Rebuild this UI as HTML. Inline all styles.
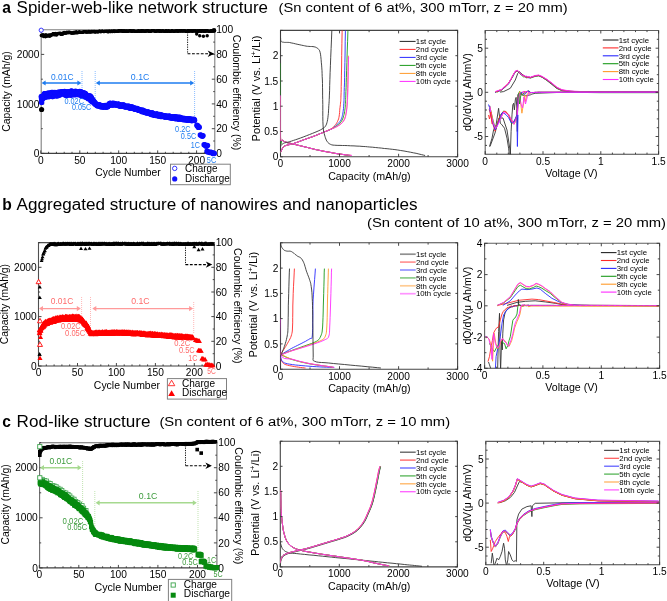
<!DOCTYPE html>
<html><head><meta charset="utf-8"><style>
html,body{margin:0;padding:0;background:#fff;}
svg{display:block;will-change:transform;font-family:"Liberation Sans",sans-serif;}
</style></head><body>
<svg width="667" height="601" viewBox="0 0 667 601">
<rect width="667" height="601" fill="#fff"/>
<text x="2.2" y="12.7" font-size="15.6" font-weight="bold" >a</text>
<text x="16.6" y="12.7" font-size="15.6" textLength="251.4" lengthAdjust="spacingAndGlyphs" >Spider-web-like network structure</text>
<text x="278.6" y="12.3" font-size="12.3" textLength="289" lengthAdjust="spacingAndGlyphs" >(Sn content of 6 at%, 300 mTorr, z = 20 mm)</text>
<text x="2.2" y="209.5" font-size="15.6" font-weight="bold" >b</text>
<text x="16.6" y="209.5" font-size="15.6" textLength="400.9" lengthAdjust="spacingAndGlyphs" >Aggregated structure of nanowires and nanoparticles</text>
<text x="367" y="226.9" font-size="12.3" textLength="299" lengthAdjust="spacingAndGlyphs" >(Sn content of 10 at%, 300 mTorr, z = 20 mm)</text>
<text x="2.2" y="426.7" font-size="15.6" font-weight="bold" >c</text>
<text x="16.6" y="426.7" font-size="15.6" textLength="133.9" lengthAdjust="spacingAndGlyphs" >Rod-like structure</text>
<text x="159.4" y="426.3" font-size="12.3" textLength="290.7" lengthAdjust="spacingAndGlyphs" >(Sn content of 6 at%, 300 mTorr, z = 10 mm)</text>
<line x1="82" y1="71" x2="82" y2="93" stroke="#5aa0ff" stroke-width="0.7" stroke-dasharray="1,1"/>
<line x1="95.2" y1="71" x2="95.2" y2="104" stroke="#5aa0ff" stroke-width="0.7" stroke-dasharray="1,1"/>
<line x1="194.6" y1="71" x2="194.6" y2="121" stroke="#5aa0ff" stroke-width="0.7" stroke-dasharray="1,1"/>
<path d="M41.2,153.4 L41.2,29.7 L214.8,29.7 L214.8,153.4" fill="none" stroke="#808080" stroke-width="1.1"/>
<line x1="40.7" y1="153.4" x2="215.3" y2="153.4" stroke="#404040" stroke-width="1.1" />
<line x1="41.2" y1="153.4" x2="44.2" y2="153.4" stroke="#333" stroke-width="0.9" />
<line x1="41.2" y1="128.7" x2="42.8" y2="128.7" stroke="#333" stroke-width="0.9" />
<line x1="41.2" y1="103.9" x2="44.2" y2="103.9" stroke="#333" stroke-width="0.9" />
<line x1="41.2" y1="79.2" x2="42.8" y2="79.2" stroke="#333" stroke-width="0.9" />
<line x1="41.2" y1="54.4" x2="44.2" y2="54.4" stroke="#333" stroke-width="0.9" />
<line x1="41.2" y1="29.7" x2="42.8" y2="29.7" stroke="#333" stroke-width="0.9" />
<text x="39.4" y="157" font-size="10.2" text-anchor="end" >0</text>
<text x="39.4" y="107.5" font-size="10.2" text-anchor="end" >1000</text>
<text x="39.4" y="58" font-size="10.2" text-anchor="end" >2000</text>
<line x1="211.8" y1="153.4" x2="214.8" y2="153.4" stroke="#333" stroke-width="0.9" />
<line x1="213.2" y1="141" x2="214.8" y2="141" stroke="#333" stroke-width="0.9" />
<line x1="211.8" y1="128.7" x2="214.8" y2="128.7" stroke="#333" stroke-width="0.9" />
<line x1="213.2" y1="116.3" x2="214.8" y2="116.3" stroke="#333" stroke-width="0.9" />
<line x1="211.8" y1="103.9" x2="214.8" y2="103.9" stroke="#333" stroke-width="0.9" />
<line x1="213.2" y1="91.6" x2="214.8" y2="91.6" stroke="#333" stroke-width="0.9" />
<line x1="211.8" y1="79.2" x2="214.8" y2="79.2" stroke="#333" stroke-width="0.9" />
<line x1="213.2" y1="66.8" x2="214.8" y2="66.8" stroke="#333" stroke-width="0.9" />
<line x1="211.8" y1="54.4" x2="214.8" y2="54.4" stroke="#333" stroke-width="0.9" />
<line x1="213.2" y1="42.1" x2="214.8" y2="42.1" stroke="#333" stroke-width="0.9" />
<line x1="211.8" y1="29.7" x2="214.8" y2="29.7" stroke="#333" stroke-width="0.9" />
<text x="216.2" y="157" font-size="10.2" >0</text>
<text x="216.2" y="132.3" font-size="10.2" >20</text>
<text x="216.2" y="107.5" font-size="10.2" >40</text>
<text x="216.2" y="82.8" font-size="10.2" >60</text>
<text x="216.2" y="58" font-size="10.2" >80</text>
<text x="216.2" y="33.3" font-size="10.2" >100</text>
<line x1="40.8" y1="153.4" x2="40.8" y2="150.4" stroke="#333" stroke-width="0.9" />
<line x1="48.6" y1="153.4" x2="48.6" y2="151.8" stroke="#333" stroke-width="0.9" />
<line x1="56.4" y1="153.4" x2="56.4" y2="151.8" stroke="#333" stroke-width="0.9" />
<line x1="64.2" y1="153.4" x2="64.2" y2="151.8" stroke="#333" stroke-width="0.9" />
<line x1="72" y1="153.4" x2="72" y2="151.8" stroke="#333" stroke-width="0.9" />
<line x1="79.8" y1="153.4" x2="79.8" y2="150.4" stroke="#333" stroke-width="0.9" />
<line x1="87.5" y1="153.4" x2="87.5" y2="151.8" stroke="#333" stroke-width="0.9" />
<line x1="95.3" y1="153.4" x2="95.3" y2="151.8" stroke="#333" stroke-width="0.9" />
<line x1="103.1" y1="153.4" x2="103.1" y2="151.8" stroke="#333" stroke-width="0.9" />
<line x1="110.9" y1="153.4" x2="110.9" y2="151.8" stroke="#333" stroke-width="0.9" />
<line x1="118.7" y1="153.4" x2="118.7" y2="150.4" stroke="#333" stroke-width="0.9" />
<line x1="126.5" y1="153.4" x2="126.5" y2="151.8" stroke="#333" stroke-width="0.9" />
<line x1="134.3" y1="153.4" x2="134.3" y2="151.8" stroke="#333" stroke-width="0.9" />
<line x1="142.1" y1="153.4" x2="142.1" y2="151.8" stroke="#333" stroke-width="0.9" />
<line x1="149.9" y1="153.4" x2="149.9" y2="151.8" stroke="#333" stroke-width="0.9" />
<line x1="157.7" y1="153.4" x2="157.7" y2="150.4" stroke="#333" stroke-width="0.9" />
<line x1="165.4" y1="153.4" x2="165.4" y2="151.8" stroke="#333" stroke-width="0.9" />
<line x1="173.2" y1="153.4" x2="173.2" y2="151.8" stroke="#333" stroke-width="0.9" />
<line x1="181" y1="153.4" x2="181" y2="151.8" stroke="#333" stroke-width="0.9" />
<line x1="188.8" y1="153.4" x2="188.8" y2="151.8" stroke="#333" stroke-width="0.9" />
<line x1="196.6" y1="153.4" x2="196.6" y2="150.4" stroke="#333" stroke-width="0.9" />
<line x1="204.4" y1="153.4" x2="204.4" y2="151.8" stroke="#333" stroke-width="0.9" />
<line x1="212.2" y1="153.4" x2="212.2" y2="151.8" stroke="#333" stroke-width="0.9" />
<text x="40.8" y="163.6" font-size="10.2" text-anchor="middle" >0</text>
<text x="79.8" y="163.6" font-size="10.2" text-anchor="middle" >50</text>
<text x="118.7" y="163.6" font-size="10.2" text-anchor="middle" >100</text>
<text x="157.7" y="163.6" font-size="10.2" text-anchor="middle" >150</text>
<text x="196.6" y="163.6" font-size="10.2" text-anchor="middle" >200</text>
<text transform="translate(10.2,91.5) rotate(-90)" font-size="10.4" text-anchor="middle" textLength="80.5" lengthAdjust="spacingAndGlyphs" >Capacity (mAh/g)</text>
<text transform="translate(233,92.6) rotate(90)" font-size="10" text-anchor="middle" textLength="115.5" lengthAdjust="spacingAndGlyphs" >Coulombic efficiency (%)</text>
<text x="128" y="175.5" font-size="10.2" text-anchor="middle" textLength="65.5" lengthAdjust="spacingAndGlyphs" >Cycle Number</text>
<circle cx="41.2" cy="35.4" r="1.6" fill="#000"/>
<circle cx="41.7" cy="35.8" r="1.6" fill="#000"/>
<circle cx="42.1" cy="34.8" r="1.6" fill="#000"/>
<circle cx="42.6" cy="35.4" r="1.6" fill="#000"/>
<circle cx="43.1" cy="34.7" r="1.6" fill="#000"/>
<circle cx="43.5" cy="36.6" r="1.6" fill="#000"/>
<circle cx="44" cy="36" r="1.6" fill="#000"/>
<circle cx="44.5" cy="35" r="1.6" fill="#000"/>
<circle cx="44.9" cy="35.7" r="1.6" fill="#000"/>
<circle cx="45.4" cy="36.8" r="1.6" fill="#000"/>
<circle cx="45.9" cy="34.6" r="1.6" fill="#000"/>
<circle cx="46.3" cy="36.4" r="1.6" fill="#000"/>
<circle cx="46.8" cy="35.3" r="1.6" fill="#000"/>
<circle cx="47.3" cy="35.4" r="1.6" fill="#000"/>
<circle cx="47.8" cy="36.2" r="1.6" fill="#000"/>
<circle cx="48.2" cy="35" r="1.6" fill="#000"/>
<circle cx="48.7" cy="35.2" r="1.6" fill="#000"/>
<circle cx="49.2" cy="35.6" r="1.6" fill="#000"/>
<circle cx="49.6" cy="36.3" r="1.6" fill="#000"/>
<circle cx="50.1" cy="34.6" r="1.6" fill="#000"/>
<circle cx="50.6" cy="35.8" r="1.6" fill="#000"/>
<circle cx="51" cy="35.4" r="1.6" fill="#000"/>
<circle cx="51.5" cy="35.2" r="1.6" fill="#000"/>
<circle cx="52" cy="34.5" r="1.6" fill="#000"/>
<circle cx="52.4" cy="34.3" r="1.6" fill="#000"/>
<circle cx="52.9" cy="33.6" r="1.6" fill="#000"/>
<circle cx="53.4" cy="33.7" r="1.6" fill="#000"/>
<circle cx="53.8" cy="33.5" r="1.6" fill="#000"/>
<circle cx="54.3" cy="35" r="1.6" fill="#000"/>
<circle cx="54.8" cy="33.8" r="1.6" fill="#000"/>
<circle cx="55.2" cy="33.6" r="1.6" fill="#000"/>
<circle cx="55.7" cy="33.3" r="1.6" fill="#000"/>
<circle cx="56.2" cy="34.9" r="1.6" fill="#000"/>
<circle cx="56.6" cy="34.9" r="1.6" fill="#000"/>
<circle cx="57.1" cy="34.4" r="1.6" fill="#000"/>
<circle cx="57.6" cy="33.5" r="1.6" fill="#000"/>
<circle cx="58" cy="33.4" r="1.6" fill="#000"/>
<circle cx="58.5" cy="33.4" r="1.6" fill="#000"/>
<circle cx="59" cy="33.7" r="1.6" fill="#000"/>
<circle cx="59.5" cy="33" r="1.6" fill="#000"/>
<circle cx="59.9" cy="33.5" r="1.6" fill="#000"/>
<circle cx="60.4" cy="33.1" r="1.6" fill="#000"/>
<circle cx="60.9" cy="34.5" r="1.6" fill="#000"/>
<circle cx="61.3" cy="34.5" r="1.6" fill="#000"/>
<circle cx="61.8" cy="33.6" r="1.6" fill="#000"/>
<circle cx="62.3" cy="33" r="1.6" fill="#000"/>
<circle cx="62.7" cy="34.3" r="1.6" fill="#000"/>
<circle cx="63.2" cy="33" r="1.6" fill="#000"/>
<circle cx="63.7" cy="33.1" r="1.6" fill="#000"/>
<circle cx="64.1" cy="32.4" r="1.6" fill="#000"/>
<circle cx="64.6" cy="33.1" r="1.6" fill="#000"/>
<circle cx="65.1" cy="33.2" r="1.6" fill="#000"/>
<circle cx="65.5" cy="33.2" r="1.6" fill="#000"/>
<circle cx="66" cy="32.6" r="1.6" fill="#000"/>
<circle cx="66.5" cy="33.1" r="1.6" fill="#000"/>
<circle cx="66.9" cy="32.2" r="1.6" fill="#000"/>
<circle cx="67.4" cy="32.7" r="1.6" fill="#000"/>
<circle cx="67.9" cy="32.3" r="1.6" fill="#000"/>
<circle cx="68.3" cy="32.8" r="1.6" fill="#000"/>
<circle cx="68.8" cy="32.2" r="1.6" fill="#000"/>
<circle cx="69.3" cy="32.1" r="1.6" fill="#000"/>
<circle cx="69.7" cy="32.6" r="1.6" fill="#000"/>
<circle cx="70.2" cy="32.4" r="1.6" fill="#000"/>
<circle cx="70.7" cy="32.9" r="1.6" fill="#000"/>
<circle cx="71.2" cy="32.8" r="1.6" fill="#000"/>
<circle cx="71.6" cy="33.1" r="1.6" fill="#000"/>
<circle cx="72.1" cy="32.9" r="1.6" fill="#000"/>
<circle cx="72.6" cy="33" r="1.6" fill="#000"/>
<circle cx="73" cy="33.2" r="1.6" fill="#000"/>
<circle cx="73.5" cy="32.4" r="1.6" fill="#000"/>
<circle cx="74" cy="32.3" r="1.6" fill="#000"/>
<circle cx="74.4" cy="33.2" r="1.6" fill="#000"/>
<circle cx="74.9" cy="32" r="1.6" fill="#000"/>
<circle cx="75.4" cy="32.7" r="1.6" fill="#000"/>
<circle cx="75.8" cy="32.6" r="1.6" fill="#000"/>
<circle cx="76.3" cy="31.7" r="1.6" fill="#000"/>
<circle cx="76.8" cy="32.8" r="1.6" fill="#000"/>
<circle cx="77.2" cy="32.8" r="1.6" fill="#000"/>
<circle cx="77.7" cy="32.4" r="1.6" fill="#000"/>
<circle cx="78.2" cy="32.5" r="1.6" fill="#000"/>
<circle cx="78.6" cy="32.6" r="1.6" fill="#000"/>
<circle cx="79.1" cy="31.7" r="1.6" fill="#000"/>
<circle cx="79.6" cy="32.1" r="1.6" fill="#000"/>
<circle cx="80" cy="32.1" r="1.6" fill="#000"/>
<circle cx="80.5" cy="32.4" r="1.6" fill="#000"/>
<circle cx="81" cy="32.4" r="1.6" fill="#000"/>
<circle cx="81.4" cy="32.4" r="1.6" fill="#000"/>
<circle cx="81.9" cy="32.1" r="1.6" fill="#000"/>
<circle cx="82.4" cy="32.4" r="1.6" fill="#000"/>
<circle cx="82.9" cy="32.2" r="1.6" fill="#000"/>
<circle cx="83.3" cy="32.2" r="1.6" fill="#000"/>
<circle cx="83.8" cy="31.7" r="1.6" fill="#000"/>
<circle cx="84.3" cy="31.5" r="1.6" fill="#000"/>
<circle cx="84.7" cy="31.6" r="1.6" fill="#000"/>
<circle cx="85.2" cy="31.8" r="1.6" fill="#000"/>
<circle cx="85.7" cy="31.5" r="1.6" fill="#000"/>
<circle cx="86.1" cy="32.2" r="1.6" fill="#000"/>
<circle cx="86.6" cy="31.9" r="1.6" fill="#000"/>
<circle cx="87.1" cy="32" r="1.6" fill="#000"/>
<circle cx="87.5" cy="32" r="1.6" fill="#000"/>
<circle cx="88" cy="32" r="1.6" fill="#000"/>
<circle cx="88.5" cy="31.8" r="1.6" fill="#000"/>
<circle cx="88.9" cy="31.4" r="1.6" fill="#000"/>
<circle cx="89.4" cy="32.1" r="1.6" fill="#000"/>
<circle cx="89.9" cy="32" r="1.6" fill="#000"/>
<circle cx="90.3" cy="31.8" r="1.6" fill="#000"/>
<circle cx="90.8" cy="31.8" r="1.6" fill="#000"/>
<circle cx="91.3" cy="31.9" r="1.6" fill="#000"/>
<circle cx="91.7" cy="31.4" r="1.6" fill="#000"/>
<circle cx="92.2" cy="32" r="1.6" fill="#000"/>
<circle cx="92.7" cy="31.5" r="1.6" fill="#000"/>
<circle cx="93.1" cy="31.3" r="1.6" fill="#000"/>
<circle cx="93.6" cy="31.5" r="1.6" fill="#000"/>
<circle cx="94.1" cy="31.9" r="1.6" fill="#000"/>
<circle cx="94.6" cy="31.4" r="1.6" fill="#000"/>
<circle cx="95" cy="31.9" r="1.6" fill="#000"/>
<circle cx="95.5" cy="32.1" r="1.6" fill="#000"/>
<circle cx="96" cy="31.7" r="1.6" fill="#000"/>
<circle cx="96.4" cy="31.5" r="1.6" fill="#000"/>
<circle cx="96.9" cy="31.6" r="1.6" fill="#000"/>
<circle cx="97.4" cy="31.8" r="1.6" fill="#000"/>
<circle cx="97.8" cy="31.9" r="1.6" fill="#000"/>
<circle cx="98.3" cy="31.7" r="1.6" fill="#000"/>
<circle cx="98.8" cy="31.7" r="1.6" fill="#000"/>
<circle cx="99.2" cy="31.2" r="1.6" fill="#000"/>
<circle cx="99.7" cy="31.2" r="1.6" fill="#000"/>
<circle cx="100.2" cy="31.3" r="1.6" fill="#000"/>
<circle cx="100.6" cy="31.8" r="1.6" fill="#000"/>
<circle cx="101.1" cy="31.4" r="1.6" fill="#000"/>
<circle cx="101.6" cy="31.6" r="1.6" fill="#000"/>
<circle cx="102" cy="31.1" r="1.6" fill="#000"/>
<circle cx="102.5" cy="31.1" r="1.6" fill="#000"/>
<circle cx="103" cy="31.3" r="1.6" fill="#000"/>
<circle cx="103.4" cy="31.6" r="1.6" fill="#000"/>
<circle cx="103.9" cy="31.6" r="1.6" fill="#000"/>
<circle cx="104.4" cy="31.6" r="1.6" fill="#000"/>
<circle cx="104.8" cy="31.2" r="1.6" fill="#000"/>
<circle cx="105.3" cy="31.4" r="1.6" fill="#000"/>
<circle cx="105.8" cy="31.4" r="1.6" fill="#000"/>
<circle cx="106.3" cy="31.4" r="1.6" fill="#000"/>
<circle cx="106.7" cy="31" r="1.6" fill="#000"/>
<circle cx="107.2" cy="31.7" r="1.6" fill="#000"/>
<circle cx="107.7" cy="31.1" r="1.6" fill="#000"/>
<circle cx="108.1" cy="31.8" r="1.6" fill="#000"/>
<circle cx="108.6" cy="31.7" r="1.6" fill="#000"/>
<circle cx="109.1" cy="30.9" r="1.6" fill="#000"/>
<circle cx="109.5" cy="31.3" r="1.6" fill="#000"/>
<circle cx="110" cy="31.6" r="1.6" fill="#000"/>
<circle cx="110.5" cy="31.7" r="1.6" fill="#000"/>
<circle cx="110.9" cy="31.2" r="1.6" fill="#000"/>
<circle cx="111.4" cy="31.1" r="1.6" fill="#000"/>
<circle cx="111.9" cy="31" r="1.6" fill="#000"/>
<circle cx="112.3" cy="31.7" r="1.6" fill="#000"/>
<circle cx="112.8" cy="31" r="1.6" fill="#000"/>
<circle cx="113.3" cy="31.3" r="1.6" fill="#000"/>
<circle cx="113.7" cy="30.9" r="1.6" fill="#000"/>
<circle cx="114.2" cy="31.2" r="1.6" fill="#000"/>
<circle cx="114.7" cy="31.6" r="1.6" fill="#000"/>
<circle cx="115.1" cy="30.9" r="1.6" fill="#000"/>
<circle cx="115.6" cy="31.5" r="1.6" fill="#000"/>
<circle cx="116.1" cy="31.2" r="1.6" fill="#000"/>
<circle cx="116.5" cy="31.5" r="1.6" fill="#000"/>
<circle cx="117" cy="31.3" r="1.6" fill="#000"/>
<circle cx="117.5" cy="30.9" r="1.6" fill="#000"/>
<circle cx="118" cy="31.5" r="1.6" fill="#000"/>
<circle cx="118.4" cy="31.1" r="1.6" fill="#000"/>
<circle cx="118.9" cy="30.7" r="1.6" fill="#000"/>
<circle cx="119.4" cy="30.6" r="1.6" fill="#000"/>
<circle cx="119.8" cy="31.1" r="1.6" fill="#000"/>
<circle cx="120.3" cy="31" r="1.6" fill="#000"/>
<circle cx="120.8" cy="30.9" r="1.6" fill="#000"/>
<circle cx="121.2" cy="30.7" r="1.6" fill="#000"/>
<circle cx="121.7" cy="30.9" r="1.6" fill="#000"/>
<circle cx="122.2" cy="30.9" r="1.6" fill="#000"/>
<circle cx="122.6" cy="31.4" r="1.6" fill="#000"/>
<circle cx="123.1" cy="30.6" r="1.6" fill="#000"/>
<circle cx="123.6" cy="31.3" r="1.6" fill="#000"/>
<circle cx="124" cy="31.4" r="1.6" fill="#000"/>
<circle cx="124.5" cy="30.7" r="1.6" fill="#000"/>
<circle cx="125" cy="31.4" r="1.6" fill="#000"/>
<circle cx="125.4" cy="31.2" r="1.6" fill="#000"/>
<circle cx="125.9" cy="31.4" r="1.6" fill="#000"/>
<circle cx="126.4" cy="30.9" r="1.6" fill="#000"/>
<circle cx="126.8" cy="30.9" r="1.6" fill="#000"/>
<circle cx="127.3" cy="31" r="1.6" fill="#000"/>
<circle cx="127.8" cy="31.5" r="1.6" fill="#000"/>
<circle cx="128.2" cy="31.1" r="1.6" fill="#000"/>
<circle cx="128.7" cy="30.9" r="1.6" fill="#000"/>
<circle cx="129.2" cy="31" r="1.6" fill="#000"/>
<circle cx="129.7" cy="30.8" r="1.6" fill="#000"/>
<circle cx="130.1" cy="30.6" r="1.6" fill="#000"/>
<circle cx="130.6" cy="30.7" r="1.6" fill="#000"/>
<circle cx="131.1" cy="31.3" r="1.6" fill="#000"/>
<circle cx="131.5" cy="30.9" r="1.6" fill="#000"/>
<circle cx="132" cy="31.4" r="1.6" fill="#000"/>
<circle cx="132.5" cy="30.8" r="1.6" fill="#000"/>
<circle cx="132.9" cy="30.8" r="1.6" fill="#000"/>
<circle cx="133.4" cy="31.1" r="1.6" fill="#000"/>
<circle cx="133.9" cy="30.8" r="1.6" fill="#000"/>
<circle cx="134.3" cy="30.9" r="1.6" fill="#000"/>
<circle cx="134.8" cy="31.5" r="1.6" fill="#000"/>
<circle cx="135.3" cy="31.4" r="1.6" fill="#000"/>
<circle cx="135.7" cy="31.3" r="1.6" fill="#000"/>
<circle cx="136.2" cy="31.2" r="1.6" fill="#000"/>
<circle cx="136.7" cy="31.4" r="1.6" fill="#000"/>
<circle cx="137.1" cy="31.4" r="1.6" fill="#000"/>
<circle cx="137.6" cy="31.1" r="1.6" fill="#000"/>
<circle cx="138.1" cy="31.2" r="1.6" fill="#000"/>
<circle cx="138.5" cy="30.6" r="1.6" fill="#000"/>
<circle cx="139" cy="31.2" r="1.6" fill="#000"/>
<circle cx="139.5" cy="31" r="1.6" fill="#000"/>
<circle cx="139.9" cy="31.3" r="1.6" fill="#000"/>
<circle cx="140.4" cy="31.2" r="1.6" fill="#000"/>
<circle cx="140.9" cy="30.8" r="1.6" fill="#000"/>
<circle cx="141.4" cy="30.6" r="1.6" fill="#000"/>
<circle cx="141.8" cy="31.4" r="1.6" fill="#000"/>
<circle cx="142.3" cy="30.7" r="1.6" fill="#000"/>
<circle cx="142.8" cy="31" r="1.6" fill="#000"/>
<circle cx="143.2" cy="30.9" r="1.6" fill="#000"/>
<circle cx="143.7" cy="30.8" r="1.6" fill="#000"/>
<circle cx="144.2" cy="31.2" r="1.6" fill="#000"/>
<circle cx="144.6" cy="31.5" r="1.6" fill="#000"/>
<circle cx="145.1" cy="30.8" r="1.6" fill="#000"/>
<circle cx="145.6" cy="31.2" r="1.6" fill="#000"/>
<circle cx="146" cy="30.8" r="1.6" fill="#000"/>
<circle cx="146.5" cy="31.1" r="1.6" fill="#000"/>
<circle cx="147" cy="30.9" r="1.6" fill="#000"/>
<circle cx="147.4" cy="30.7" r="1.6" fill="#000"/>
<circle cx="147.9" cy="30.7" r="1.6" fill="#000"/>
<circle cx="148.4" cy="30.8" r="1.6" fill="#000"/>
<circle cx="148.8" cy="31.4" r="1.6" fill="#000"/>
<circle cx="149.3" cy="31" r="1.6" fill="#000"/>
<circle cx="149.8" cy="30.8" r="1.6" fill="#000"/>
<circle cx="150.2" cy="31.4" r="1.6" fill="#000"/>
<circle cx="150.7" cy="31.5" r="1.6" fill="#000"/>
<circle cx="151.2" cy="31" r="1.6" fill="#000"/>
<circle cx="151.6" cy="30.7" r="1.6" fill="#000"/>
<circle cx="152.1" cy="30.7" r="1.6" fill="#000"/>
<circle cx="152.6" cy="30.6" r="1.6" fill="#000"/>
<circle cx="153.1" cy="30.9" r="1.6" fill="#000"/>
<circle cx="153.5" cy="30.6" r="1.6" fill="#000"/>
<circle cx="154" cy="30.8" r="1.6" fill="#000"/>
<circle cx="154.5" cy="30.8" r="1.6" fill="#000"/>
<circle cx="154.9" cy="31.1" r="1.6" fill="#000"/>
<circle cx="155.4" cy="31.4" r="1.6" fill="#000"/>
<circle cx="155.9" cy="31.2" r="1.6" fill="#000"/>
<circle cx="156.3" cy="30.9" r="1.6" fill="#000"/>
<circle cx="156.8" cy="30.9" r="1.6" fill="#000"/>
<circle cx="157.3" cy="31" r="1.6" fill="#000"/>
<circle cx="157.7" cy="30.9" r="1.6" fill="#000"/>
<circle cx="158.2" cy="30.9" r="1.6" fill="#000"/>
<circle cx="158.7" cy="30.6" r="1.6" fill="#000"/>
<circle cx="159.1" cy="30.8" r="1.6" fill="#000"/>
<circle cx="159.6" cy="31.4" r="1.6" fill="#000"/>
<circle cx="160.1" cy="30.7" r="1.6" fill="#000"/>
<circle cx="160.5" cy="31" r="1.6" fill="#000"/>
<circle cx="161" cy="31.1" r="1.6" fill="#000"/>
<circle cx="161.5" cy="31.3" r="1.6" fill="#000"/>
<circle cx="161.9" cy="30.8" r="1.6" fill="#000"/>
<circle cx="162.4" cy="30.8" r="1.6" fill="#000"/>
<circle cx="162.9" cy="30.8" r="1.6" fill="#000"/>
<circle cx="163.3" cy="30.9" r="1.6" fill="#000"/>
<circle cx="163.8" cy="31" r="1.6" fill="#000"/>
<circle cx="164.3" cy="31.4" r="1.6" fill="#000"/>
<circle cx="164.8" cy="31.3" r="1.6" fill="#000"/>
<circle cx="165.2" cy="31.3" r="1.6" fill="#000"/>
<circle cx="165.7" cy="30.6" r="1.6" fill="#000"/>
<circle cx="166.2" cy="30.6" r="1.6" fill="#000"/>
<circle cx="166.6" cy="31.2" r="1.6" fill="#000"/>
<circle cx="167.1" cy="31.4" r="1.6" fill="#000"/>
<circle cx="167.6" cy="31" r="1.6" fill="#000"/>
<circle cx="168" cy="31.1" r="1.6" fill="#000"/>
<circle cx="168.5" cy="30.5" r="1.6" fill="#000"/>
<circle cx="169" cy="30.9" r="1.6" fill="#000"/>
<circle cx="169.4" cy="31.4" r="1.6" fill="#000"/>
<circle cx="169.9" cy="31.3" r="1.6" fill="#000"/>
<circle cx="170.4" cy="31.3" r="1.6" fill="#000"/>
<circle cx="170.8" cy="31.4" r="1.6" fill="#000"/>
<circle cx="171.3" cy="30.8" r="1.6" fill="#000"/>
<circle cx="171.8" cy="30.6" r="1.6" fill="#000"/>
<circle cx="172.2" cy="30.7" r="1.6" fill="#000"/>
<circle cx="172.7" cy="31" r="1.6" fill="#000"/>
<circle cx="173.2" cy="31.2" r="1.6" fill="#000"/>
<circle cx="173.6" cy="31.4" r="1.6" fill="#000"/>
<circle cx="174.1" cy="31.2" r="1.6" fill="#000"/>
<circle cx="174.6" cy="31.1" r="1.6" fill="#000"/>
<circle cx="175" cy="31.2" r="1.6" fill="#000"/>
<circle cx="175.5" cy="30.9" r="1.6" fill="#000"/>
<circle cx="176" cy="31" r="1.6" fill="#000"/>
<circle cx="176.5" cy="30.6" r="1.6" fill="#000"/>
<circle cx="176.9" cy="31.2" r="1.6" fill="#000"/>
<circle cx="177.4" cy="30.7" r="1.6" fill="#000"/>
<circle cx="177.9" cy="31.4" r="1.6" fill="#000"/>
<circle cx="178.3" cy="31.1" r="1.6" fill="#000"/>
<circle cx="178.8" cy="30.8" r="1.6" fill="#000"/>
<circle cx="179.3" cy="30.6" r="1.6" fill="#000"/>
<circle cx="179.7" cy="30.8" r="1.6" fill="#000"/>
<circle cx="180.2" cy="31.1" r="1.6" fill="#000"/>
<circle cx="180.7" cy="31.2" r="1.6" fill="#000"/>
<circle cx="181.1" cy="30.6" r="1.6" fill="#000"/>
<circle cx="181.6" cy="30.6" r="1.6" fill="#000"/>
<circle cx="182.1" cy="31" r="1.6" fill="#000"/>
<circle cx="182.5" cy="31.1" r="1.6" fill="#000"/>
<circle cx="183" cy="30.9" r="1.6" fill="#000"/>
<circle cx="183.5" cy="30.7" r="1.6" fill="#000"/>
<circle cx="183.9" cy="31.1" r="1.6" fill="#000"/>
<circle cx="184.4" cy="30.5" r="1.6" fill="#000"/>
<circle cx="184.9" cy="30.8" r="1.6" fill="#000"/>
<circle cx="185.3" cy="30.9" r="1.6" fill="#000"/>
<circle cx="185.8" cy="31.4" r="1.6" fill="#000"/>
<circle cx="186.3" cy="31.1" r="1.6" fill="#000"/>
<circle cx="186.7" cy="31.3" r="1.6" fill="#000"/>
<circle cx="187.2" cy="31" r="1.6" fill="#000"/>
<circle cx="187.7" cy="30.7" r="1.6" fill="#000"/>
<circle cx="188.2" cy="30.7" r="1.6" fill="#000"/>
<circle cx="188.6" cy="31.4" r="1.6" fill="#000"/>
<circle cx="189.1" cy="31.2" r="1.6" fill="#000"/>
<circle cx="189.6" cy="30.8" r="1.6" fill="#000"/>
<circle cx="190" cy="30.5" r="1.6" fill="#000"/>
<circle cx="190.5" cy="31" r="1.6" fill="#000"/>
<circle cx="191" cy="31.1" r="1.6" fill="#000"/>
<circle cx="191.4" cy="30.9" r="1.6" fill="#000"/>
<circle cx="191.9" cy="30.7" r="1.6" fill="#000"/>
<circle cx="192.4" cy="31.1" r="1.6" fill="#000"/>
<circle cx="192.8" cy="31.3" r="1.6" fill="#000"/>
<circle cx="193.3" cy="30.7" r="1.6" fill="#000"/>
<circle cx="193.8" cy="30.5" r="1.6" fill="#000"/>
<circle cx="194.2" cy="30.8" r="1.6" fill="#000"/>
<circle cx="194.7" cy="30.9" r="1.6" fill="#000"/>
<circle cx="195.2" cy="31.1" r="1.6" fill="#000"/>
<circle cx="195.6" cy="30.7" r="1.6" fill="#000"/>
<circle cx="196.1" cy="31.2" r="1.6" fill="#000"/>
<circle cx="196.6" cy="31.2" r="1.6" fill="#000"/>
<circle cx="197" cy="31" r="1.6" fill="#000"/>
<circle cx="197.5" cy="30.7" r="1.6" fill="#000"/>
<circle cx="198" cy="31.4" r="1.6" fill="#000"/>
<circle cx="198.4" cy="30.8" r="1.6" fill="#000"/>
<circle cx="198.9" cy="31.2" r="1.6" fill="#000"/>
<circle cx="199.4" cy="30.7" r="1.6" fill="#000"/>
<circle cx="199.9" cy="30.7" r="1.6" fill="#000"/>
<circle cx="200.3" cy="31.2" r="1.6" fill="#000"/>
<circle cx="200.8" cy="30.8" r="1.6" fill="#000"/>
<circle cx="201.3" cy="31.4" r="1.6" fill="#000"/>
<circle cx="201.7" cy="30.9" r="1.6" fill="#000"/>
<circle cx="202.2" cy="30.7" r="1.6" fill="#000"/>
<circle cx="202.7" cy="30.7" r="1.6" fill="#000"/>
<circle cx="203.1" cy="30.9" r="1.6" fill="#000"/>
<circle cx="203.6" cy="31.1" r="1.6" fill="#000"/>
<circle cx="204.1" cy="31.4" r="1.6" fill="#000"/>
<circle cx="204.5" cy="30.6" r="1.6" fill="#000"/>
<circle cx="205" cy="30.9" r="1.6" fill="#000"/>
<circle cx="205.5" cy="30.7" r="1.6" fill="#000"/>
<circle cx="205.9" cy="31.4" r="1.6" fill="#000"/>
<circle cx="206.4" cy="30.6" r="1.6" fill="#000"/>
<circle cx="206.9" cy="30.5" r="1.6" fill="#000"/>
<circle cx="207.3" cy="30.6" r="1.6" fill="#000"/>
<circle cx="207.8" cy="30.8" r="1.6" fill="#000"/>
<circle cx="208.3" cy="31.3" r="1.6" fill="#000"/>
<circle cx="208.7" cy="31.3" r="1.6" fill="#000"/>
<circle cx="209.2" cy="31.2" r="1.6" fill="#000"/>
<circle cx="209.7" cy="31.4" r="1.6" fill="#000"/>
<circle cx="210.1" cy="31.3" r="1.6" fill="#000"/>
<circle cx="210.6" cy="30.8" r="1.6" fill="#000"/>
<circle cx="211.1" cy="30.7" r="1.6" fill="#000"/>
<circle cx="211.6" cy="31.3" r="1.6" fill="#000"/>
<circle cx="212" cy="31.2" r="1.6" fill="#000"/>
<circle cx="212.5" cy="30.5" r="1.6" fill="#000"/>
<circle cx="213" cy="31.1" r="1.6" fill="#000"/>
<circle cx="213.4" cy="30.8" r="1.6" fill="#000"/>
<circle cx="213.9" cy="30.8" r="1.6" fill="#000"/>
<circle cx="214.4" cy="30.8" r="1.6" fill="#000"/>
<circle cx="196.7" cy="34" r="1.7" fill="#000"/>
<circle cx="199.7" cy="35.8" r="1.7" fill="#000"/>
<circle cx="203.4" cy="36.3" r="1.7" fill="#000"/>
<circle cx="207.2" cy="35.8" r="1.7" fill="#000"/>
<circle cx="214" cy="30.4" r="2.3" fill="#000"/>
<circle cx="41.3" cy="96.7" r="2.7" fill="#0a0aff"/>
<circle cx="41.7" cy="97.9" r="2.7" fill="#0a0aff"/>
<circle cx="42.2" cy="96.5" r="2.7" fill="#0a0aff"/>
<circle cx="42.6" cy="96.4" r="2.7" fill="#0a0aff"/>
<circle cx="42.6" cy="98.7" r="2.7" fill="#0a0aff"/>
<circle cx="43.1" cy="96.6" r="2.7" fill="#0a0aff"/>
<circle cx="43.1" cy="96.4" r="2.7" fill="#0a0aff"/>
<circle cx="43.6" cy="98" r="2.7" fill="#0a0aff"/>
<circle cx="43.8" cy="95.3" r="2.7" fill="#0a0aff"/>
<circle cx="44.4" cy="93.7" r="2.7" fill="#0a0aff"/>
<circle cx="44.5" cy="97.1" r="2.7" fill="#0a0aff"/>
<circle cx="45" cy="93.6" r="2.7" fill="#0a0aff"/>
<circle cx="45" cy="93.7" r="2.7" fill="#0a0aff"/>
<circle cx="45.7" cy="94.4" r="2.7" fill="#0a0aff"/>
<circle cx="45.9" cy="97.2" r="2.7" fill="#0a0aff"/>
<circle cx="46" cy="94.4" r="2.7" fill="#0a0aff"/>
<circle cx="46.6" cy="95.8" r="2.7" fill="#0a0aff"/>
<circle cx="46.6" cy="96.2" r="2.7" fill="#0a0aff"/>
<circle cx="47" cy="94.2" r="2.7" fill="#0a0aff"/>
<circle cx="47.2" cy="96.2" r="2.7" fill="#0a0aff"/>
<circle cx="47.8" cy="95.6" r="2.7" fill="#0a0aff"/>
<circle cx="48.2" cy="92.9" r="2.7" fill="#0a0aff"/>
<circle cx="48.2" cy="94.8" r="2.7" fill="#0a0aff"/>
<circle cx="48.8" cy="96.8" r="2.7" fill="#0a0aff"/>
<circle cx="48.9" cy="93.6" r="2.7" fill="#0a0aff"/>
<circle cx="49.2" cy="94.7" r="2.7" fill="#0a0aff"/>
<circle cx="49.7" cy="93.3" r="2.7" fill="#0a0aff"/>
<circle cx="50" cy="95.7" r="2.7" fill="#0a0aff"/>
<circle cx="50.3" cy="95.8" r="2.7" fill="#0a0aff"/>
<circle cx="50.5" cy="93.8" r="2.7" fill="#0a0aff"/>
<circle cx="50.7" cy="93.9" r="2.7" fill="#0a0aff"/>
<circle cx="51.2" cy="92.7" r="2.7" fill="#0a0aff"/>
<circle cx="51.3" cy="95.6" r="2.7" fill="#0a0aff"/>
<circle cx="51.6" cy="92.5" r="2.7" fill="#0a0aff"/>
<circle cx="51.9" cy="94.6" r="2.7" fill="#0a0aff"/>
<circle cx="52.3" cy="96.5" r="2.7" fill="#0a0aff"/>
<circle cx="52.8" cy="96.5" r="2.7" fill="#0a0aff"/>
<circle cx="52.9" cy="92.5" r="2.7" fill="#0a0aff"/>
<circle cx="53.1" cy="94.3" r="2.7" fill="#0a0aff"/>
<circle cx="53.7" cy="94" r="2.7" fill="#0a0aff"/>
<circle cx="53.8" cy="93.9" r="2.7" fill="#0a0aff"/>
<circle cx="54.3" cy="95" r="2.7" fill="#0a0aff"/>
<circle cx="54.6" cy="95.7" r="2.7" fill="#0a0aff"/>
<circle cx="54.9" cy="92.5" r="2.7" fill="#0a0aff"/>
<circle cx="55.3" cy="93.2" r="2.7" fill="#0a0aff"/>
<circle cx="55.5" cy="93.5" r="2.7" fill="#0a0aff"/>
<circle cx="55.9" cy="92.7" r="2.7" fill="#0a0aff"/>
<circle cx="56" cy="92.9" r="2.7" fill="#0a0aff"/>
<circle cx="56.3" cy="95.7" r="2.7" fill="#0a0aff"/>
<circle cx="56.8" cy="93.2" r="2.7" fill="#0a0aff"/>
<circle cx="57" cy="96.1" r="2.7" fill="#0a0aff"/>
<circle cx="57.3" cy="92.7" r="2.7" fill="#0a0aff"/>
<circle cx="57.8" cy="94.5" r="2.7" fill="#0a0aff"/>
<circle cx="58.2" cy="92.1" r="2.7" fill="#0a0aff"/>
<circle cx="58.3" cy="95.2" r="2.7" fill="#0a0aff"/>
<circle cx="58.7" cy="95.6" r="2.7" fill="#0a0aff"/>
<circle cx="58.7" cy="92.8" r="2.7" fill="#0a0aff"/>
<circle cx="59.1" cy="92.3" r="2.7" fill="#0a0aff"/>
<circle cx="59.7" cy="94" r="2.7" fill="#0a0aff"/>
<circle cx="60" cy="93.1" r="2.7" fill="#0a0aff"/>
<circle cx="60.3" cy="93.4" r="2.7" fill="#0a0aff"/>
<circle cx="60.4" cy="94.8" r="2.7" fill="#0a0aff"/>
<circle cx="61" cy="91.8" r="2.7" fill="#0a0aff"/>
<circle cx="61.1" cy="94.1" r="2.7" fill="#0a0aff"/>
<circle cx="61.3" cy="93" r="2.7" fill="#0a0aff"/>
<circle cx="61.6" cy="92.2" r="2.7" fill="#0a0aff"/>
<circle cx="61.9" cy="93.9" r="2.7" fill="#0a0aff"/>
<circle cx="62.4" cy="92.2" r="2.7" fill="#0a0aff"/>
<circle cx="62.5" cy="92.7" r="2.7" fill="#0a0aff"/>
<circle cx="63" cy="92" r="2.7" fill="#0a0aff"/>
<circle cx="63.2" cy="92.1" r="2.7" fill="#0a0aff"/>
<circle cx="63.7" cy="93.6" r="2.7" fill="#0a0aff"/>
<circle cx="63.7" cy="91.6" r="2.7" fill="#0a0aff"/>
<circle cx="64.2" cy="93.6" r="2.7" fill="#0a0aff"/>
<circle cx="64.6" cy="91.5" r="2.7" fill="#0a0aff"/>
<circle cx="64.7" cy="94.2" r="2.7" fill="#0a0aff"/>
<circle cx="65.1" cy="92.3" r="2.7" fill="#0a0aff"/>
<circle cx="65.4" cy="95.3" r="2.7" fill="#0a0aff"/>
<circle cx="65.7" cy="93.5" r="2.7" fill="#0a0aff"/>
<circle cx="66" cy="92.9" r="2.7" fill="#0a0aff"/>
<circle cx="66.5" cy="95.4" r="2.7" fill="#0a0aff"/>
<circle cx="66.7" cy="91.9" r="2.7" fill="#0a0aff"/>
<circle cx="67.1" cy="91.9" r="2.7" fill="#0a0aff"/>
<circle cx="67.1" cy="94.9" r="2.7" fill="#0a0aff"/>
<circle cx="67.6" cy="94.5" r="2.7" fill="#0a0aff"/>
<circle cx="67.9" cy="94.8" r="2.7" fill="#0a0aff"/>
<circle cx="68.3" cy="91.6" r="2.7" fill="#0a0aff"/>
<circle cx="68.4" cy="93.3" r="2.7" fill="#0a0aff"/>
<circle cx="68.9" cy="94.9" r="2.7" fill="#0a0aff"/>
<circle cx="69" cy="93.6" r="2.7" fill="#0a0aff"/>
<circle cx="69.5" cy="93" r="2.7" fill="#0a0aff"/>
<circle cx="69.7" cy="92" r="2.7" fill="#0a0aff"/>
<circle cx="70.1" cy="94.9" r="2.7" fill="#0a0aff"/>
<circle cx="70.3" cy="92.9" r="2.7" fill="#0a0aff"/>
<circle cx="70.9" cy="95" r="2.7" fill="#0a0aff"/>
<circle cx="71" cy="91.3" r="2.7" fill="#0a0aff"/>
<circle cx="71.6" cy="95.1" r="2.7" fill="#0a0aff"/>
<circle cx="71.7" cy="91" r="2.7" fill="#0a0aff"/>
<circle cx="72.2" cy="92.5" r="2.7" fill="#0a0aff"/>
<circle cx="72.5" cy="93.6" r="2.7" fill="#0a0aff"/>
<circle cx="72.8" cy="91.6" r="2.7" fill="#0a0aff"/>
<circle cx="73.1" cy="91.9" r="2.7" fill="#0a0aff"/>
<circle cx="73.2" cy="94.6" r="2.7" fill="#0a0aff"/>
<circle cx="73.7" cy="91.7" r="2.7" fill="#0a0aff"/>
<circle cx="73.8" cy="92.7" r="2.7" fill="#0a0aff"/>
<circle cx="74.2" cy="92.6" r="2.7" fill="#0a0aff"/>
<circle cx="74.4" cy="92.1" r="2.7" fill="#0a0aff"/>
<circle cx="74.9" cy="94.9" r="2.7" fill="#0a0aff"/>
<circle cx="74.9" cy="93.5" r="2.7" fill="#0a0aff"/>
<circle cx="75.5" cy="91.2" r="2.7" fill="#0a0aff"/>
<circle cx="75.9" cy="91.6" r="2.7" fill="#0a0aff"/>
<circle cx="76.1" cy="93.5" r="2.7" fill="#0a0aff"/>
<circle cx="76.4" cy="92.4" r="2.7" fill="#0a0aff"/>
<circle cx="76.7" cy="93.7" r="2.7" fill="#0a0aff"/>
<circle cx="77" cy="94" r="2.7" fill="#0a0aff"/>
<circle cx="77.3" cy="93.1" r="2.7" fill="#0a0aff"/>
<circle cx="77.4" cy="93.9" r="2.7" fill="#0a0aff"/>
<circle cx="77.9" cy="92.2" r="2.7" fill="#0a0aff"/>
<circle cx="78.4" cy="94.7" r="2.7" fill="#0a0aff"/>
<circle cx="78.5" cy="92" r="2.7" fill="#0a0aff"/>
<circle cx="78.9" cy="91.7" r="2.7" fill="#0a0aff"/>
<circle cx="79" cy="93.2" r="2.7" fill="#0a0aff"/>
<circle cx="79.3" cy="93.3" r="2.7" fill="#0a0aff"/>
<circle cx="79.8" cy="91.5" r="2.7" fill="#0a0aff"/>
<circle cx="80.2" cy="91.8" r="2.7" fill="#0a0aff"/>
<circle cx="80.5" cy="94.9" r="2.7" fill="#0a0aff"/>
<circle cx="80.8" cy="91.8" r="2.7" fill="#0a0aff"/>
<circle cx="81.1" cy="93.3" r="2.7" fill="#0a0aff"/>
<circle cx="81.6" cy="92.3" r="2.7" fill="#0a0aff"/>
<circle cx="81.8" cy="96.2" r="2.7" fill="#0a0aff"/>
<circle cx="82.1" cy="95.4" r="2.7" fill="#0a0aff"/>
<circle cx="82.2" cy="96.2" r="2.7" fill="#0a0aff"/>
<circle cx="82.6" cy="96.2" r="2.7" fill="#0a0aff"/>
<circle cx="83.1" cy="92.8" r="2.7" fill="#0a0aff"/>
<circle cx="83.4" cy="96.2" r="2.7" fill="#0a0aff"/>
<circle cx="83.4" cy="93.8" r="2.7" fill="#0a0aff"/>
<circle cx="84" cy="93" r="2.7" fill="#0a0aff"/>
<circle cx="84.3" cy="93.6" r="2.7" fill="#0a0aff"/>
<circle cx="84.6" cy="93.1" r="2.7" fill="#0a0aff"/>
<circle cx="84.8" cy="96.5" r="2.7" fill="#0a0aff"/>
<circle cx="85" cy="93.8" r="2.7" fill="#0a0aff"/>
<circle cx="85.4" cy="94.2" r="2.7" fill="#0a0aff"/>
<circle cx="85.6" cy="93.8" r="2.7" fill="#0a0aff"/>
<circle cx="85.9" cy="97.3" r="2.7" fill="#0a0aff"/>
<circle cx="86.4" cy="97.3" r="2.7" fill="#0a0aff"/>
<circle cx="86.5" cy="97" r="2.7" fill="#0a0aff"/>
<circle cx="86.8" cy="96.1" r="2.7" fill="#0a0aff"/>
<circle cx="87.4" cy="95.5" r="2.7" fill="#0a0aff"/>
<circle cx="87.8" cy="96.5" r="2.7" fill="#0a0aff"/>
<circle cx="88" cy="98.1" r="2.7" fill="#0a0aff"/>
<circle cx="88.1" cy="98.8" r="2.7" fill="#0a0aff"/>
<circle cx="88.6" cy="96.3" r="2.7" fill="#0a0aff"/>
<circle cx="89" cy="96" r="2.7" fill="#0a0aff"/>
<circle cx="89.4" cy="97.5" r="2.7" fill="#0a0aff"/>
<circle cx="89.4" cy="98.5" r="2.7" fill="#0a0aff"/>
<circle cx="89.8" cy="96.2" r="2.7" fill="#0a0aff"/>
<circle cx="90.2" cy="96" r="2.7" fill="#0a0aff"/>
<circle cx="90.5" cy="97.2" r="2.7" fill="#0a0aff"/>
<circle cx="90.8" cy="100.7" r="2.7" fill="#0a0aff"/>
<circle cx="91.1" cy="99.7" r="2.7" fill="#0a0aff"/>
<circle cx="91.3" cy="97.1" r="2.7" fill="#0a0aff"/>
<circle cx="91.5" cy="98.1" r="2.7" fill="#0a0aff"/>
<circle cx="92" cy="99.6" r="2.7" fill="#0a0aff"/>
<circle cx="92.3" cy="102" r="2.7" fill="#0a0aff"/>
<circle cx="92.5" cy="99.4" r="2.7" fill="#0a0aff"/>
<circle cx="93" cy="100" r="2.7" fill="#0a0aff"/>
<circle cx="93" cy="101" r="2.7" fill="#0a0aff"/>
<circle cx="93.4" cy="101.3" r="2.7" fill="#0a0aff"/>
<circle cx="93.7" cy="102.1" r="2.7" fill="#0a0aff"/>
<circle cx="94.2" cy="101.7" r="2.7" fill="#0a0aff"/>
<circle cx="94.5" cy="102.6" r="2.7" fill="#0a0aff"/>
<circle cx="94.6" cy="103.8" r="2.7" fill="#0a0aff"/>
<circle cx="95" cy="102.6" r="2.7" fill="#0a0aff"/>
<circle cx="95.2" cy="103.9" r="2.7" fill="#0a0aff"/>
<circle cx="95.9" cy="104.5" r="2.7" fill="#0a0aff"/>
<circle cx="96" cy="103.8" r="2.7" fill="#0a0aff"/>
<circle cx="96.2" cy="104.9" r="2.7" fill="#0a0aff"/>
<circle cx="96.7" cy="104.6" r="2.7" fill="#0a0aff"/>
<circle cx="97" cy="104.9" r="2.7" fill="#0a0aff"/>
<circle cx="97.5" cy="105.5" r="2.7" fill="#0a0aff"/>
<circle cx="97.5" cy="105.9" r="2.7" fill="#0a0aff"/>
<circle cx="97.7" cy="105.3" r="2.7" fill="#0a0aff"/>
<circle cx="98.2" cy="104.8" r="2.7" fill="#0a0aff"/>
<circle cx="98.4" cy="105.9" r="2.7" fill="#0a0aff"/>
<circle cx="98.6" cy="105.5" r="2.7" fill="#0a0aff"/>
<circle cx="99.3" cy="104.8" r="2.7" fill="#0a0aff"/>
<circle cx="99.3" cy="105.8" r="2.7" fill="#0a0aff"/>
<circle cx="99.8" cy="105.9" r="2.7" fill="#0a0aff"/>
<circle cx="100.2" cy="105.1" r="2.7" fill="#0a0aff"/>
<circle cx="100.3" cy="105.4" r="2.7" fill="#0a0aff"/>
<circle cx="100.5" cy="106.7" r="2.7" fill="#0a0aff"/>
<circle cx="101.1" cy="106.4" r="2.7" fill="#0a0aff"/>
<circle cx="101.1" cy="106.8" r="2.7" fill="#0a0aff"/>
<circle cx="101.7" cy="106.2" r="2.7" fill="#0a0aff"/>
<circle cx="102.1" cy="106.2" r="2.7" fill="#0a0aff"/>
<circle cx="102.2" cy="105.7" r="2.7" fill="#0a0aff"/>
<circle cx="102.5" cy="105.6" r="2.7" fill="#0a0aff"/>
<circle cx="102.8" cy="107.1" r="2.7" fill="#0a0aff"/>
<circle cx="103.3" cy="107.3" r="2.7" fill="#0a0aff"/>
<circle cx="103.6" cy="106.1" r="2.7" fill="#0a0aff"/>
<circle cx="103.9" cy="106.4" r="2.7" fill="#0a0aff"/>
<circle cx="104.3" cy="106.6" r="2.7" fill="#0a0aff"/>
<circle cx="104.4" cy="106.8" r="2.7" fill="#0a0aff"/>
<circle cx="105" cy="105.9" r="2.7" fill="#0a0aff"/>
<circle cx="105.2" cy="105.5" r="2.7" fill="#0a0aff"/>
<circle cx="105.3" cy="105.9" r="2.7" fill="#0a0aff"/>
<circle cx="105.8" cy="107.3" r="2.7" fill="#0a0aff"/>
<circle cx="106.1" cy="106" r="2.7" fill="#0a0aff"/>
<circle cx="106.5" cy="106" r="2.7" fill="#0a0aff"/>
<circle cx="106.5" cy="107.1" r="2.7" fill="#0a0aff"/>
<circle cx="107" cy="106.5" r="2.7" fill="#0a0aff"/>
<circle cx="107.3" cy="106.9" r="2.7" fill="#0a0aff"/>
<circle cx="107.6" cy="106.5" r="2.7" fill="#0a0aff"/>
<circle cx="108" cy="106.3" r="2.7" fill="#0a0aff"/>
<circle cx="108.2" cy="105.8" r="2.7" fill="#0a0aff"/>
<circle cx="108.5" cy="104.8" r="2.7" fill="#0a0aff"/>
<circle cx="108.7" cy="105.3" r="2.7" fill="#0a0aff"/>
<circle cx="109" cy="105.6" r="2.7" fill="#0a0aff"/>
<circle cx="109.3" cy="103.7" r="2.7" fill="#0a0aff"/>
<circle cx="109.6" cy="105.3" r="2.7" fill="#0a0aff"/>
<circle cx="110" cy="103.5" r="2.7" fill="#0a0aff"/>
<circle cx="110.2" cy="103.1" r="2.7" fill="#0a0aff"/>
<circle cx="110.8" cy="104.2" r="2.7" fill="#0a0aff"/>
<circle cx="111.1" cy="104.4" r="2.7" fill="#0a0aff"/>
<circle cx="111.1" cy="104.2" r="2.7" fill="#0a0aff"/>
<circle cx="111.6" cy="104.7" r="2.7" fill="#0a0aff"/>
<circle cx="112.1" cy="104.8" r="2.7" fill="#0a0aff"/>
<circle cx="112.1" cy="104.8" r="2.7" fill="#0a0aff"/>
<circle cx="112.7" cy="105" r="2.7" fill="#0a0aff"/>
<circle cx="112.7" cy="103.5" r="2.7" fill="#0a0aff"/>
<circle cx="113" cy="103.2" r="2.7" fill="#0a0aff"/>
<circle cx="113.6" cy="104.8" r="2.7" fill="#0a0aff"/>
<circle cx="113.9" cy="104.9" r="2.7" fill="#0a0aff"/>
<circle cx="114.2" cy="103.9" r="2.7" fill="#0a0aff"/>
<circle cx="114.3" cy="103.5" r="2.7" fill="#0a0aff"/>
<circle cx="114.9" cy="103.8" r="2.7" fill="#0a0aff"/>
<circle cx="115" cy="104.3" r="2.7" fill="#0a0aff"/>
<circle cx="115.2" cy="104" r="2.7" fill="#0a0aff"/>
<circle cx="115.6" cy="105" r="2.7" fill="#0a0aff"/>
<circle cx="115.9" cy="104.2" r="2.7" fill="#0a0aff"/>
<circle cx="116.5" cy="104.6" r="2.7" fill="#0a0aff"/>
<circle cx="116.8" cy="104.9" r="2.7" fill="#0a0aff"/>
<circle cx="116.8" cy="104.6" r="2.7" fill="#0a0aff"/>
<circle cx="117.2" cy="105.3" r="2.7" fill="#0a0aff"/>
<circle cx="117.5" cy="105.2" r="2.7" fill="#0a0aff"/>
<circle cx="117.9" cy="104.3" r="2.7" fill="#0a0aff"/>
<circle cx="118.3" cy="104.1" r="2.7" fill="#0a0aff"/>
<circle cx="118.6" cy="104.3" r="2.7" fill="#0a0aff"/>
<circle cx="118.6" cy="104.4" r="2.7" fill="#0a0aff"/>
<circle cx="119.2" cy="106" r="2.7" fill="#0a0aff"/>
<circle cx="119.2" cy="105.1" r="2.7" fill="#0a0aff"/>
<circle cx="119.7" cy="105.8" r="2.7" fill="#0a0aff"/>
<circle cx="119.9" cy="105.2" r="2.7" fill="#0a0aff"/>
<circle cx="120.3" cy="106" r="2.7" fill="#0a0aff"/>
<circle cx="120.6" cy="106.2" r="2.7" fill="#0a0aff"/>
<circle cx="120.9" cy="104.8" r="2.7" fill="#0a0aff"/>
<circle cx="121.4" cy="105.4" r="2.7" fill="#0a0aff"/>
<circle cx="121.5" cy="105.8" r="2.7" fill="#0a0aff"/>
<circle cx="121.8" cy="106.1" r="2.7" fill="#0a0aff"/>
<circle cx="122.3" cy="106.2" r="2.7" fill="#0a0aff"/>
<circle cx="122.6" cy="105.4" r="2.7" fill="#0a0aff"/>
<circle cx="122.8" cy="105.5" r="2.7" fill="#0a0aff"/>
<circle cx="123.3" cy="105" r="2.7" fill="#0a0aff"/>
<circle cx="123.6" cy="104.9" r="2.7" fill="#0a0aff"/>
<circle cx="123.7" cy="105.4" r="2.7" fill="#0a0aff"/>
<circle cx="124.3" cy="106" r="2.7" fill="#0a0aff"/>
<circle cx="124.4" cy="106.8" r="2.7" fill="#0a0aff"/>
<circle cx="124.6" cy="106" r="2.7" fill="#0a0aff"/>
<circle cx="125.1" cy="106.7" r="2.7" fill="#0a0aff"/>
<circle cx="125.5" cy="106.6" r="2.7" fill="#0a0aff"/>
<circle cx="125.6" cy="106" r="2.7" fill="#0a0aff"/>
<circle cx="125.8" cy="107.1" r="2.7" fill="#0a0aff"/>
<circle cx="126.4" cy="106.9" r="2.7" fill="#0a0aff"/>
<circle cx="126.5" cy="106.4" r="2.7" fill="#0a0aff"/>
<circle cx="127" cy="106.8" r="2.7" fill="#0a0aff"/>
<circle cx="127.1" cy="106.6" r="2.7" fill="#0a0aff"/>
<circle cx="127.7" cy="106.2" r="2.7" fill="#0a0aff"/>
<circle cx="127.7" cy="106.4" r="2.7" fill="#0a0aff"/>
<circle cx="128.3" cy="107.6" r="2.7" fill="#0a0aff"/>
<circle cx="128.3" cy="106.2" r="2.7" fill="#0a0aff"/>
<circle cx="128.7" cy="106.7" r="2.7" fill="#0a0aff"/>
<circle cx="129.1" cy="106.4" r="2.7" fill="#0a0aff"/>
<circle cx="129.3" cy="106.5" r="2.7" fill="#0a0aff"/>
<circle cx="129.9" cy="107.7" r="2.7" fill="#0a0aff"/>
<circle cx="129.9" cy="108.2" r="2.7" fill="#0a0aff"/>
<circle cx="130.2" cy="107.1" r="2.7" fill="#0a0aff"/>
<circle cx="130.9" cy="108" r="2.7" fill="#0a0aff"/>
<circle cx="131.1" cy="107.4" r="2.7" fill="#0a0aff"/>
<circle cx="131.2" cy="107.9" r="2.7" fill="#0a0aff"/>
<circle cx="131.4" cy="107.1" r="2.7" fill="#0a0aff"/>
<circle cx="131.9" cy="106.8" r="2.7" fill="#0a0aff"/>
<circle cx="132.2" cy="108.4" r="2.7" fill="#0a0aff"/>
<circle cx="132.6" cy="107.9" r="2.7" fill="#0a0aff"/>
<circle cx="132.9" cy="107.9" r="2.7" fill="#0a0aff"/>
<circle cx="133" cy="108.2" r="2.7" fill="#0a0aff"/>
<circle cx="133.4" cy="108.6" r="2.7" fill="#0a0aff"/>
<circle cx="133.9" cy="108.1" r="2.7" fill="#0a0aff"/>
<circle cx="134.1" cy="108.8" r="2.7" fill="#0a0aff"/>
<circle cx="134.4" cy="107.8" r="2.7" fill="#0a0aff"/>
<circle cx="134.8" cy="109.2" r="2.7" fill="#0a0aff"/>
<circle cx="135.1" cy="108.9" r="2.7" fill="#0a0aff"/>
<circle cx="135.5" cy="108.9" r="2.7" fill="#0a0aff"/>
<circle cx="135.7" cy="108.6" r="2.7" fill="#0a0aff"/>
<circle cx="135.9" cy="109" r="2.7" fill="#0a0aff"/>
<circle cx="136.1" cy="108.7" r="2.7" fill="#0a0aff"/>
<circle cx="136.7" cy="109.3" r="2.7" fill="#0a0aff"/>
<circle cx="137" cy="108.5" r="2.7" fill="#0a0aff"/>
<circle cx="137.2" cy="109" r="2.7" fill="#0a0aff"/>
<circle cx="137.6" cy="108.9" r="2.7" fill="#0a0aff"/>
<circle cx="137.9" cy="110.1" r="2.7" fill="#0a0aff"/>
<circle cx="138" cy="109.6" r="2.7" fill="#0a0aff"/>
<circle cx="138.6" cy="109.1" r="2.7" fill="#0a0aff"/>
<circle cx="138.8" cy="110.4" r="2.7" fill="#0a0aff"/>
<circle cx="138.9" cy="109.6" r="2.7" fill="#0a0aff"/>
<circle cx="139.3" cy="110.2" r="2.7" fill="#0a0aff"/>
<circle cx="139.9" cy="109.8" r="2.7" fill="#0a0aff"/>
<circle cx="139.9" cy="110.1" r="2.7" fill="#0a0aff"/>
<circle cx="140.4" cy="110.5" r="2.7" fill="#0a0aff"/>
<circle cx="140.7" cy="110.4" r="2.7" fill="#0a0aff"/>
<circle cx="141.1" cy="110.3" r="2.7" fill="#0a0aff"/>
<circle cx="141.2" cy="111.3" r="2.7" fill="#0a0aff"/>
<circle cx="141.5" cy="110.8" r="2.7" fill="#0a0aff"/>
<circle cx="141.9" cy="111.1" r="2.7" fill="#0a0aff"/>
<circle cx="142.1" cy="111.7" r="2.7" fill="#0a0aff"/>
<circle cx="142.5" cy="109.9" r="2.7" fill="#0a0aff"/>
<circle cx="142.7" cy="110.7" r="2.7" fill="#0a0aff"/>
<circle cx="143" cy="110.9" r="2.7" fill="#0a0aff"/>
<circle cx="143.4" cy="111.6" r="2.7" fill="#0a0aff"/>
<circle cx="143.7" cy="110.8" r="2.7" fill="#0a0aff"/>
<circle cx="144" cy="111.9" r="2.7" fill="#0a0aff"/>
<circle cx="144.6" cy="111.6" r="2.7" fill="#0a0aff"/>
<circle cx="144.6" cy="112.2" r="2.7" fill="#0a0aff"/>
<circle cx="145" cy="111.2" r="2.7" fill="#0a0aff"/>
<circle cx="145.2" cy="112.4" r="2.7" fill="#0a0aff"/>
<circle cx="145.8" cy="112.2" r="2.7" fill="#0a0aff"/>
<circle cx="145.9" cy="112.2" r="2.7" fill="#0a0aff"/>
<circle cx="146.2" cy="113.1" r="2.7" fill="#0a0aff"/>
<circle cx="146.5" cy="112.6" r="2.7" fill="#0a0aff"/>
<circle cx="147" cy="113.1" r="2.7" fill="#0a0aff"/>
<circle cx="147.2" cy="112.1" r="2.7" fill="#0a0aff"/>
<circle cx="147.5" cy="111.9" r="2.7" fill="#0a0aff"/>
<circle cx="148" cy="112.4" r="2.7" fill="#0a0aff"/>
<circle cx="148.3" cy="112.3" r="2.7" fill="#0a0aff"/>
<circle cx="148.4" cy="112.4" r="2.7" fill="#0a0aff"/>
<circle cx="148.7" cy="112.3" r="2.7" fill="#0a0aff"/>
<circle cx="148.9" cy="113.5" r="2.7" fill="#0a0aff"/>
<circle cx="149.3" cy="112.6" r="2.7" fill="#0a0aff"/>
<circle cx="149.6" cy="113.1" r="2.7" fill="#0a0aff"/>
<circle cx="150" cy="113.5" r="2.7" fill="#0a0aff"/>
<circle cx="150.4" cy="113.1" r="2.7" fill="#0a0aff"/>
<circle cx="150.8" cy="114.1" r="2.7" fill="#0a0aff"/>
<circle cx="150.8" cy="114.1" r="2.7" fill="#0a0aff"/>
<circle cx="151.4" cy="114.1" r="2.7" fill="#0a0aff"/>
<circle cx="151.4" cy="114.3" r="2.7" fill="#0a0aff"/>
<circle cx="151.9" cy="112.8" r="2.7" fill="#0a0aff"/>
<circle cx="152" cy="114.7" r="2.7" fill="#0a0aff"/>
<circle cx="152.6" cy="113.4" r="2.7" fill="#0a0aff"/>
<circle cx="152.7" cy="113.2" r="2.7" fill="#0a0aff"/>
<circle cx="153" cy="114.6" r="2.7" fill="#0a0aff"/>
<circle cx="153.4" cy="113.4" r="2.7" fill="#0a0aff"/>
<circle cx="153.9" cy="114.8" r="2.7" fill="#0a0aff"/>
<circle cx="153.9" cy="115" r="2.7" fill="#0a0aff"/>
<circle cx="154.4" cy="114.9" r="2.7" fill="#0a0aff"/>
<circle cx="154.8" cy="115.2" r="2.7" fill="#0a0aff"/>
<circle cx="155.1" cy="115.2" r="2.7" fill="#0a0aff"/>
<circle cx="155.2" cy="115" r="2.7" fill="#0a0aff"/>
<circle cx="155.6" cy="115.1" r="2.7" fill="#0a0aff"/>
<circle cx="155.9" cy="115.5" r="2.7" fill="#0a0aff"/>
<circle cx="156.3" cy="114.3" r="2.7" fill="#0a0aff"/>
<circle cx="156.5" cy="114.1" r="2.7" fill="#0a0aff"/>
<circle cx="156.9" cy="114" r="2.7" fill="#0a0aff"/>
<circle cx="157.2" cy="114.2" r="2.7" fill="#0a0aff"/>
<circle cx="157.5" cy="115" r="2.7" fill="#0a0aff"/>
<circle cx="157.8" cy="115.8" r="2.7" fill="#0a0aff"/>
<circle cx="157.9" cy="115.8" r="2.7" fill="#0a0aff"/>
<circle cx="158.4" cy="115.3" r="2.7" fill="#0a0aff"/>
<circle cx="158.8" cy="115.9" r="2.7" fill="#0a0aff"/>
<circle cx="159" cy="115.1" r="2.7" fill="#0a0aff"/>
<circle cx="159.6" cy="114.5" r="2.7" fill="#0a0aff"/>
<circle cx="159.7" cy="115.7" r="2.7" fill="#0a0aff"/>
<circle cx="159.8" cy="115.7" r="2.7" fill="#0a0aff"/>
<circle cx="160.4" cy="116.4" r="2.7" fill="#0a0aff"/>
<circle cx="160.6" cy="116.5" r="2.7" fill="#0a0aff"/>
<circle cx="160.9" cy="115.6" r="2.7" fill="#0a0aff"/>
<circle cx="161.4" cy="114.7" r="2.7" fill="#0a0aff"/>
<circle cx="161.6" cy="116" r="2.7" fill="#0a0aff"/>
<circle cx="161.8" cy="116.5" r="2.7" fill="#0a0aff"/>
<circle cx="162.1" cy="115.8" r="2.7" fill="#0a0aff"/>
<circle cx="162.5" cy="116.4" r="2.7" fill="#0a0aff"/>
<circle cx="162.7" cy="115.8" r="2.7" fill="#0a0aff"/>
<circle cx="163.1" cy="116.1" r="2.7" fill="#0a0aff"/>
<circle cx="163.6" cy="115.6" r="2.7" fill="#0a0aff"/>
<circle cx="163.9" cy="115.9" r="2.7" fill="#0a0aff"/>
<circle cx="164.1" cy="115.7" r="2.7" fill="#0a0aff"/>
<circle cx="164.4" cy="117.1" r="2.7" fill="#0a0aff"/>
<circle cx="164.7" cy="116.8" r="2.7" fill="#0a0aff"/>
<circle cx="164.9" cy="115.9" r="2.7" fill="#0a0aff"/>
<circle cx="165.2" cy="116.5" r="2.7" fill="#0a0aff"/>
<circle cx="165.7" cy="117" r="2.7" fill="#0a0aff"/>
<circle cx="165.7" cy="116.9" r="2.7" fill="#0a0aff"/>
<circle cx="166.4" cy="116.6" r="2.7" fill="#0a0aff"/>
<circle cx="166.4" cy="116.1" r="2.7" fill="#0a0aff"/>
<circle cx="166.7" cy="116" r="2.7" fill="#0a0aff"/>
<circle cx="167.3" cy="116.8" r="2.7" fill="#0a0aff"/>
<circle cx="167.5" cy="117.2" r="2.7" fill="#0a0aff"/>
<circle cx="168" cy="116.9" r="2.7" fill="#0a0aff"/>
<circle cx="168.2" cy="117" r="2.7" fill="#0a0aff"/>
<circle cx="168.5" cy="117" r="2.7" fill="#0a0aff"/>
<circle cx="168.8" cy="116.3" r="2.7" fill="#0a0aff"/>
<circle cx="169.1" cy="116.8" r="2.7" fill="#0a0aff"/>
<circle cx="169.5" cy="116.1" r="2.7" fill="#0a0aff"/>
<circle cx="169.5" cy="116.1" r="2.7" fill="#0a0aff"/>
<circle cx="170.1" cy="117.9" r="2.7" fill="#0a0aff"/>
<circle cx="170.4" cy="116.8" r="2.7" fill="#0a0aff"/>
<circle cx="170.7" cy="117.7" r="2.7" fill="#0a0aff"/>
<circle cx="170.9" cy="116.7" r="2.7" fill="#0a0aff"/>
<circle cx="171.1" cy="117.1" r="2.7" fill="#0a0aff"/>
<circle cx="171.5" cy="117.1" r="2.7" fill="#0a0aff"/>
<circle cx="171.9" cy="118.2" r="2.7" fill="#0a0aff"/>
<circle cx="172" cy="117.5" r="2.7" fill="#0a0aff"/>
<circle cx="172.3" cy="116.6" r="2.7" fill="#0a0aff"/>
<circle cx="172.9" cy="117.6" r="2.7" fill="#0a0aff"/>
<circle cx="173.3" cy="117.4" r="2.7" fill="#0a0aff"/>
<circle cx="173.2" cy="117.3" r="2.7" fill="#0a0aff"/>
<circle cx="173.8" cy="118.4" r="2.7" fill="#0a0aff"/>
<circle cx="174.2" cy="117.5" r="2.7" fill="#0a0aff"/>
<circle cx="174.3" cy="116.8" r="2.7" fill="#0a0aff"/>
<circle cx="174.7" cy="117.1" r="2.7" fill="#0a0aff"/>
<circle cx="174.8" cy="116.7" r="2.7" fill="#0a0aff"/>
<circle cx="175.1" cy="118.1" r="2.7" fill="#0a0aff"/>
<circle cx="175.4" cy="118.7" r="2.7" fill="#0a0aff"/>
<circle cx="175.7" cy="118.6" r="2.7" fill="#0a0aff"/>
<circle cx="176.1" cy="116.9" r="2.7" fill="#0a0aff"/>
<circle cx="176.6" cy="117.4" r="2.7" fill="#0a0aff"/>
<circle cx="176.9" cy="117.3" r="2.7" fill="#0a0aff"/>
<circle cx="177" cy="118.5" r="2.7" fill="#0a0aff"/>
<circle cx="177.6" cy="118.7" r="2.7" fill="#0a0aff"/>
<circle cx="177.9" cy="117.2" r="2.7" fill="#0a0aff"/>
<circle cx="178.1" cy="118.5" r="2.7" fill="#0a0aff"/>
<circle cx="178.4" cy="119" r="2.7" fill="#0a0aff"/>
<circle cx="178.6" cy="119.1" r="2.7" fill="#0a0aff"/>
<circle cx="179.1" cy="117.2" r="2.7" fill="#0a0aff"/>
<circle cx="179.1" cy="118.5" r="2.7" fill="#0a0aff"/>
<circle cx="179.8" cy="117.4" r="2.7" fill="#0a0aff"/>
<circle cx="179.9" cy="118.8" r="2.7" fill="#0a0aff"/>
<circle cx="180.1" cy="119.1" r="2.7" fill="#0a0aff"/>
<circle cx="180.6" cy="117.5" r="2.7" fill="#0a0aff"/>
<circle cx="180.8" cy="118.6" r="2.7" fill="#0a0aff"/>
<circle cx="181.2" cy="118.8" r="2.7" fill="#0a0aff"/>
<circle cx="181.4" cy="119.1" r="2.7" fill="#0a0aff"/>
<circle cx="181.8" cy="118.8" r="2.7" fill="#0a0aff"/>
<circle cx="182.2" cy="118.4" r="2.7" fill="#0a0aff"/>
<circle cx="182.4" cy="119.2" r="2.7" fill="#0a0aff"/>
<circle cx="182.9" cy="119.2" r="2.7" fill="#0a0aff"/>
<circle cx="183.1" cy="118.3" r="2.7" fill="#0a0aff"/>
<circle cx="183.2" cy="119.7" r="2.7" fill="#0a0aff"/>
<circle cx="183.8" cy="119.4" r="2.7" fill="#0a0aff"/>
<circle cx="184" cy="119" r="2.7" fill="#0a0aff"/>
<circle cx="184.5" cy="119.5" r="2.7" fill="#0a0aff"/>
<circle cx="184.7" cy="118.5" r="2.7" fill="#0a0aff"/>
<circle cx="184.9" cy="119.7" r="2.7" fill="#0a0aff"/>
<circle cx="185.2" cy="119.4" r="2.7" fill="#0a0aff"/>
<circle cx="185.6" cy="119.8" r="2.7" fill="#0a0aff"/>
<circle cx="186" cy="118.6" r="2.7" fill="#0a0aff"/>
<circle cx="186" cy="118.6" r="2.7" fill="#0a0aff"/>
<circle cx="186.5" cy="119.3" r="2.7" fill="#0a0aff"/>
<circle cx="187" cy="120" r="2.7" fill="#0a0aff"/>
<circle cx="187" cy="119.9" r="2.7" fill="#0a0aff"/>
<circle cx="187.6" cy="120" r="2.7" fill="#0a0aff"/>
<circle cx="187.8" cy="118.8" r="2.7" fill="#0a0aff"/>
<circle cx="188.2" cy="120" r="2.7" fill="#0a0aff"/>
<circle cx="188.5" cy="120.2" r="2.7" fill="#0a0aff"/>
<circle cx="188.6" cy="118.6" r="2.7" fill="#0a0aff"/>
<circle cx="189" cy="120.1" r="2.7" fill="#0a0aff"/>
<circle cx="189.2" cy="120" r="2.7" fill="#0a0aff"/>
<circle cx="189.8" cy="119" r="2.7" fill="#0a0aff"/>
<circle cx="190" cy="119.9" r="2.7" fill="#0a0aff"/>
<circle cx="190.2" cy="119" r="2.7" fill="#0a0aff"/>
<circle cx="190.5" cy="120.2" r="2.7" fill="#0a0aff"/>
<circle cx="191" cy="119.6" r="2.7" fill="#0a0aff"/>
<circle cx="191" cy="120.4" r="2.7" fill="#0a0aff"/>
<circle cx="191.6" cy="119.3" r="2.7" fill="#0a0aff"/>
<circle cx="191.8" cy="120.7" r="2.7" fill="#0a0aff"/>
<circle cx="192.3" cy="119.9" r="2.7" fill="#0a0aff"/>
<circle cx="192.4" cy="120.1" r="2.7" fill="#0a0aff"/>
<circle cx="192.6" cy="119.4" r="2.7" fill="#0a0aff"/>
<circle cx="192.9" cy="120.4" r="2.7" fill="#0a0aff"/>
<circle cx="193.3" cy="120.2" r="2.7" fill="#0a0aff"/>
<circle cx="193.7" cy="120.2" r="2.7" fill="#0a0aff"/>
<circle cx="193.9" cy="119.3" r="2.7" fill="#0a0aff"/>
<circle cx="194.5" cy="120" r="2.7" fill="#0a0aff"/>
<circle cx="194.5" cy="120.5" r="2.7" fill="#0a0aff"/>
<circle cx="41.6" cy="102.4" r="2.7" fill="#0a0aff"/>
<circle cx="41.6" cy="100.5" r="2.7" fill="#0a0aff"/>
<circle cx="41.6" cy="98.5" r="2.7" fill="#0a0aff"/>
<circle cx="41.6" cy="96.5" r="2.7" fill="#0a0aff"/>
<circle cx="196.9" cy="125.3" r="2.7" fill="#0a0aff"/>
<circle cx="197.4" cy="125.9" r="2.7" fill="#0a0aff"/>
<circle cx="198" cy="125.9" r="2.7" fill="#0a0aff"/>
<circle cx="198.4" cy="127.4" r="2.7" fill="#0a0aff"/>
<circle cx="199.3" cy="127.2" r="2.7" fill="#0a0aff"/>
<circle cx="200.3" cy="134.9" r="2.7" fill="#0a0aff"/>
<circle cx="201.1" cy="135.3" r="2.7" fill="#0a0aff"/>
<circle cx="201.9" cy="135.9" r="2.7" fill="#0a0aff"/>
<circle cx="202.5" cy="136.3" r="2.7" fill="#0a0aff"/>
<circle cx="203" cy="135.6" r="2.7" fill="#0a0aff"/>
<circle cx="204.1" cy="144.7" r="2.7" fill="#0a0aff"/>
<circle cx="204.8" cy="144.8" r="2.7" fill="#0a0aff"/>
<circle cx="205.8" cy="145.9" r="2.7" fill="#0a0aff"/>
<circle cx="206.5" cy="146.2" r="2.7" fill="#0a0aff"/>
<circle cx="207.5" cy="145.5" r="2.7" fill="#0a0aff"/>
<circle cx="207" cy="151.1" r="2.7" fill="#0a0aff"/>
<circle cx="207.7" cy="151.9" r="2.7" fill="#0a0aff"/>
<circle cx="208.7" cy="151.9" r="2.7" fill="#0a0aff"/>
<circle cx="209.8" cy="152.6" r="2.7" fill="#0a0aff"/>
<circle cx="210.7" cy="152.3" r="2.7" fill="#0a0aff"/>
<circle cx="211.6" cy="152.4" r="2.7" fill="#0a0aff"/>
<circle cx="212.7" cy="153.5" r="2.7" fill="#0a0aff"/>
<circle cx="213.3" cy="152.9" r="2.7" fill="#0a0aff"/>
<circle cx="214.3" cy="153.5" r="2.7" fill="#0a0aff"/>
<circle cx="41.2" cy="30.2" r="2.1" fill="#fff" stroke="#2222ff" stroke-width="0.9"/>
<circle cx="41.6" cy="109.5" r="2.6" fill="#000"/>
<path d="M187.6,29.7 L187.6,53.8" fill="none" stroke="#000" stroke-width="0.9" stroke-dasharray="1.3,1.1"/>
<path d="M187.6,53.8 L209.2,53.8" fill="none" stroke="#000" stroke-width="1.1" stroke-dasharray="2.8,1.6"/>
<path d="M214.2,53.8 L207.7,50.6 L209.6,53.8 L207.7,57 Z" fill="#000"/>
<rect x="170.5" y="164.2" width="59.8" height="20.5" fill="#fff" stroke="#808080" stroke-width="1"/>
<circle cx="174.7" cy="168.4" r="2.2" fill="#fff" stroke="#2222ff" stroke-width="0.9"/>
<circle cx="174.7" cy="178.9" r="2.6" fill="#1010ff"/>
<text x="185.1" y="172.4" font-size="10.6" textLength="32.4" lengthAdjust="spacingAndGlyphs" >Charge</text>
<text x="185.1" y="182" font-size="10.6" textLength="44.6" lengthAdjust="spacingAndGlyphs" >Discharge</text>
<line x1="44" y1="83" x2="79" y2="83" stroke="#1e7cf0" stroke-width="1.3" />
<path d="M81.4,83 L77.4,80.4 L77.4,85.6 Z" fill="#1e7cf0"/>
<path d="M41.6,83 L45.6,80.4 L45.6,85.6 Z" fill="#1e7cf0"/>
<line x1="98.2" y1="83" x2="191.8" y2="83" stroke="#1e7cf0" stroke-width="1.3" />
<path d="M194.2,83 L190.2,80.4 L190.2,85.6 Z" fill="#1e7cf0"/>
<path d="M95.8,83 L99.8,80.4 L99.8,85.6 Z" fill="#1e7cf0"/>
<text x="62.3" y="79.9" font-size="9.2" text-anchor="middle" fill="#1e7cf0" textLength="22.5" lengthAdjust="spacingAndGlyphs" >0.01C</text>
<text x="140.1" y="79.9" font-size="9.2" text-anchor="middle" fill="#1e7cf0" textLength="18.5" lengthAdjust="spacingAndGlyphs" >0.1C</text>
<text x="74.2" y="104.4" font-size="8.4" text-anchor="middle" fill="#1e7cf0" textLength="19.5" lengthAdjust="spacingAndGlyphs" >0.02C</text>
<text x="81.6" y="109.6" font-size="8.4" text-anchor="middle" fill="#1e7cf0" textLength="19" lengthAdjust="spacingAndGlyphs" >0.05C</text>
<text x="182.8" y="132.2" font-size="8.6" text-anchor="middle" fill="#1e7cf0" textLength="15.5" lengthAdjust="spacingAndGlyphs" >0.2C</text>
<text x="188.5" y="138.9" font-size="8.6" text-anchor="middle" fill="#1e7cf0" textLength="15.3" lengthAdjust="spacingAndGlyphs" >0.5C</text>
<text x="195.4" y="147.5" font-size="8.6" text-anchor="middle" fill="#1e7cf0" textLength="9.2" lengthAdjust="spacingAndGlyphs" >1C</text>
<text x="211.5" y="163.1" font-size="8.6" text-anchor="middle" fill="#1e7cf0" textLength="9.4" lengthAdjust="spacingAndGlyphs" >5C</text>
<line x1="81.6" y1="297" x2="81.6" y2="316" stroke="#ff9a9a" stroke-width="0.7" stroke-dasharray="1,1"/>
<line x1="90.5" y1="297" x2="90.5" y2="330" stroke="#ff9a9a" stroke-width="0.7" stroke-dasharray="1,1"/>
<line x1="193.7" y1="302" x2="193.7" y2="334" stroke="#ff9a9a" stroke-width="0.7" stroke-dasharray="1,1"/>
<path d="M38.5,366 L38.5,242.6 L214.3,242.6 L214.3,366" fill="none" stroke="#505050" stroke-width="1.1"/>
<line x1="38" y1="366" x2="214.8" y2="366" stroke="#404040" stroke-width="1.1" />
<line x1="38.5" y1="366" x2="41.5" y2="366" stroke="#333" stroke-width="0.9" />
<line x1="38.5" y1="341.3" x2="40.1" y2="341.3" stroke="#333" stroke-width="0.9" />
<line x1="38.5" y1="316.6" x2="41.5" y2="316.6" stroke="#333" stroke-width="0.9" />
<line x1="38.5" y1="292" x2="40.1" y2="292" stroke="#333" stroke-width="0.9" />
<line x1="38.5" y1="267.3" x2="41.5" y2="267.3" stroke="#333" stroke-width="0.9" />
<line x1="38.5" y1="242.6" x2="40.1" y2="242.6" stroke="#333" stroke-width="0.9" />
<text x="36.7" y="369.6" font-size="10.2" text-anchor="end" >0</text>
<text x="36.7" y="320.2" font-size="10.2" text-anchor="end" >1000</text>
<text x="36.7" y="270.9" font-size="10.2" text-anchor="end" >2000</text>
<line x1="211.3" y1="366" x2="214.3" y2="366" stroke="#333" stroke-width="0.9" />
<line x1="212.7" y1="353.7" x2="214.3" y2="353.7" stroke="#333" stroke-width="0.9" />
<line x1="211.3" y1="341.3" x2="214.3" y2="341.3" stroke="#333" stroke-width="0.9" />
<line x1="212.7" y1="329" x2="214.3" y2="329" stroke="#333" stroke-width="0.9" />
<line x1="211.3" y1="316.6" x2="214.3" y2="316.6" stroke="#333" stroke-width="0.9" />
<line x1="212.7" y1="304.3" x2="214.3" y2="304.3" stroke="#333" stroke-width="0.9" />
<line x1="211.3" y1="292" x2="214.3" y2="292" stroke="#333" stroke-width="0.9" />
<line x1="212.7" y1="279.6" x2="214.3" y2="279.6" stroke="#333" stroke-width="0.9" />
<line x1="211.3" y1="267.3" x2="214.3" y2="267.3" stroke="#333" stroke-width="0.9" />
<line x1="212.7" y1="254.9" x2="214.3" y2="254.9" stroke="#333" stroke-width="0.9" />
<line x1="211.3" y1="242.6" x2="214.3" y2="242.6" stroke="#333" stroke-width="0.9" />
<text x="215.7" y="369.6" font-size="10.2" >0</text>
<text x="215.7" y="344.9" font-size="10.2" >20</text>
<text x="215.7" y="320.2" font-size="10.2" >40</text>
<text x="215.7" y="295.6" font-size="10.2" >60</text>
<text x="215.7" y="270.9" font-size="10.2" >80</text>
<text x="215.7" y="246.2" font-size="10.2" >100</text>
<line x1="38.5" y1="366" x2="38.5" y2="363" stroke="#333" stroke-width="0.9" />
<line x1="46.3" y1="366" x2="46.3" y2="364.4" stroke="#333" stroke-width="0.9" />
<line x1="54.1" y1="366" x2="54.1" y2="364.4" stroke="#333" stroke-width="0.9" />
<line x1="61.9" y1="366" x2="61.9" y2="364.4" stroke="#333" stroke-width="0.9" />
<line x1="69.7" y1="366" x2="69.7" y2="364.4" stroke="#333" stroke-width="0.9" />
<line x1="77.5" y1="366" x2="77.5" y2="363" stroke="#333" stroke-width="0.9" />
<line x1="85.2" y1="366" x2="85.2" y2="364.4" stroke="#333" stroke-width="0.9" />
<line x1="93" y1="366" x2="93" y2="364.4" stroke="#333" stroke-width="0.9" />
<line x1="100.8" y1="366" x2="100.8" y2="364.4" stroke="#333" stroke-width="0.9" />
<line x1="108.6" y1="366" x2="108.6" y2="364.4" stroke="#333" stroke-width="0.9" />
<line x1="116.4" y1="366" x2="116.4" y2="363" stroke="#333" stroke-width="0.9" />
<line x1="124.2" y1="366" x2="124.2" y2="364.4" stroke="#333" stroke-width="0.9" />
<line x1="132" y1="366" x2="132" y2="364.4" stroke="#333" stroke-width="0.9" />
<line x1="139.8" y1="366" x2="139.8" y2="364.4" stroke="#333" stroke-width="0.9" />
<line x1="147.6" y1="366" x2="147.6" y2="364.4" stroke="#333" stroke-width="0.9" />
<line x1="155.4" y1="366" x2="155.4" y2="363" stroke="#333" stroke-width="0.9" />
<line x1="163.1" y1="366" x2="163.1" y2="364.4" stroke="#333" stroke-width="0.9" />
<line x1="170.9" y1="366" x2="170.9" y2="364.4" stroke="#333" stroke-width="0.9" />
<line x1="178.7" y1="366" x2="178.7" y2="364.4" stroke="#333" stroke-width="0.9" />
<line x1="186.5" y1="366" x2="186.5" y2="364.4" stroke="#333" stroke-width="0.9" />
<line x1="194.3" y1="366" x2="194.3" y2="363" stroke="#333" stroke-width="0.9" />
<line x1="202.1" y1="366" x2="202.1" y2="364.4" stroke="#333" stroke-width="0.9" />
<line x1="209.9" y1="366" x2="209.9" y2="364.4" stroke="#333" stroke-width="0.9" />
<text x="38.5" y="376.2" font-size="10.2" text-anchor="middle" >0</text>
<text x="77.5" y="376.2" font-size="10.2" text-anchor="middle" >50</text>
<text x="116.4" y="376.2" font-size="10.2" text-anchor="middle" >100</text>
<text x="155.4" y="376.2" font-size="10.2" text-anchor="middle" >150</text>
<text x="194.3" y="376.2" font-size="10.2" text-anchor="middle" >200</text>
<text transform="translate(8,304.1) rotate(-90)" font-size="10.4" text-anchor="middle" textLength="80.3" lengthAdjust="spacingAndGlyphs" >Capacity (mAh/g)</text>
<text transform="translate(234.2,305.8) rotate(90)" font-size="10" text-anchor="middle" textLength="115.5" lengthAdjust="spacingAndGlyphs" >Coulombic efficiency (%)</text>
<text x="126.9" y="388.8" font-size="10.2" text-anchor="middle" textLength="66.1" lengthAdjust="spacingAndGlyphs" >Cycle Number</text>
<path d="M41.6,258.7 L43.5,262.1 L39.7,262.1 Z" fill="#000"/>
<path d="M42.1,256.9 L44,260.2 L40.1,260.2 Z" fill="#000"/>
<path d="M42.5,254.9 L44.5,258.3 L40.6,258.3 Z" fill="#000"/>
<path d="M43,252.2 L44.9,255.5 L41.1,255.5 Z" fill="#000"/>
<path d="M43.5,251.9 L45.4,255.2 L41.6,255.2 Z" fill="#000"/>
<path d="M44,250.5 L45.9,253.8 L42,253.8 Z" fill="#000"/>
<path d="M44.4,249.3 L46.4,252.6 L42.5,252.6 Z" fill="#000"/>
<path d="M44.9,248.7 L46.8,252.1 L43,252.1 Z" fill="#000"/>
<path d="M45.4,246.4 L47.3,249.7 L43.5,249.7 Z" fill="#000"/>
<path d="M45.9,245.5 L47.8,248.8 L43.9,248.8 Z" fill="#000"/>
<path d="M46.3,245.3 L48.3,248.7 L44.4,248.7 Z" fill="#000"/>
<path d="M46.8,244.9 L48.7,248.3 L44.9,248.3 Z" fill="#000"/>
<path d="M47.3,244.3 L49.2,247.6 L45.4,247.6 Z" fill="#000"/>
<path d="M47.8,243.5 L49.7,246.8 L45.8,246.8 Z" fill="#000"/>
<path d="M48.2,243.6 L50.2,246.9 L46.3,246.9 Z" fill="#000"/>
<path d="M48.7,243.6 L50.6,246.9 L46.8,246.9 Z" fill="#000"/>
<path d="M49.2,242.4 L51.1,245.7 L47.3,245.7 Z" fill="#000"/>
<path d="M49.7,242.4 L51.6,245.7 L47.7,245.7 Z" fill="#000"/>
<path d="M50.1,242.1 L52.1,245.5 L48.2,245.5 Z" fill="#000"/>
<path d="M50.6,241.9 L52.5,245.3 L48.7,245.3 Z" fill="#000"/>
<path d="M51.1,242.4 L53,245.7 L49.2,245.7 Z" fill="#000"/>
<path d="M51.6,242 L53.5,245.3 L49.6,245.3 Z" fill="#000"/>
<path d="M52,242 L54,245.4 L50.1,245.4 Z" fill="#000"/>
<path d="M52.5,241.9 L54.4,245.2 L50.6,245.2 Z" fill="#000"/>
<path d="M53,242.6 L54.9,245.9 L51,245.9 Z" fill="#000"/>
<path d="M53.4,241.7 L55.4,245 L51.5,245 Z" fill="#000"/>
<path d="M53.9,242.6 L55.8,246 L52,246 Z" fill="#000"/>
<path d="M54.4,241.9 L56.3,245.2 L52.5,245.2 Z" fill="#000"/>
<path d="M54.9,241.6 L56.8,245 L52.9,245 Z" fill="#000"/>
<path d="M55.3,242.9 L57.3,246.2 L53.4,246.2 Z" fill="#000"/>
<path d="M55.8,241.9 L57.7,245.2 L53.9,245.2 Z" fill="#000"/>
<path d="M56.3,242.8 L58.2,246.2 L54.4,246.2 Z" fill="#000"/>
<path d="M56.8,242.7 L58.7,246.1 L54.8,246.1 Z" fill="#000"/>
<path d="M57.2,242.7 L59.2,246.1 L55.3,246.1 Z" fill="#000"/>
<path d="M57.7,241.7 L59.6,245 L55.8,245 Z" fill="#000"/>
<path d="M58.2,242.1 L60.1,245.4 L56.3,245.4 Z" fill="#000"/>
<path d="M58.7,241.6 L60.6,244.9 L56.7,244.9 Z" fill="#000"/>
<path d="M59.1,242.7 L61.1,246 L57.2,246 Z" fill="#000"/>
<path d="M59.6,242.6 L61.5,245.9 L57.7,245.9 Z" fill="#000"/>
<path d="M60.1,242.3 L62,245.6 L58.2,245.6 Z" fill="#000"/>
<path d="M60.6,242 L62.5,245.3 L58.6,245.3 Z" fill="#000"/>
<path d="M61,241.8 L63,245.1 L59.1,245.1 Z" fill="#000"/>
<path d="M61.5,242.5 L63.4,245.8 L59.6,245.8 Z" fill="#000"/>
<path d="M62,242 L63.9,245.3 L60.1,245.3 Z" fill="#000"/>
<path d="M62.5,242.2 L64.4,245.5 L60.5,245.5 Z" fill="#000"/>
<path d="M62.9,241.5 L64.9,244.8 L61,244.8 Z" fill="#000"/>
<path d="M63.4,241.6 L65.3,244.9 L61.5,244.9 Z" fill="#000"/>
<path d="M63.9,241.4 L65.8,244.7 L62,244.7 Z" fill="#000"/>
<path d="M64.3,242.3 L66.3,245.6 L62.4,245.6 Z" fill="#000"/>
<path d="M64.8,242.1 L66.7,245.4 L62.9,245.4 Z" fill="#000"/>
<path d="M65.3,241.5 L67.2,244.8 L63.4,244.8 Z" fill="#000"/>
<path d="M65.8,242.5 L67.7,245.8 L63.8,245.8 Z" fill="#000"/>
<path d="M66.2,241.7 L68.2,245 L64.3,245 Z" fill="#000"/>
<path d="M66.7,241.9 L68.6,245.2 L64.8,245.2 Z" fill="#000"/>
<path d="M67.2,241.5 L69.1,244.8 L65.3,244.8 Z" fill="#000"/>
<path d="M67.7,241.7 L69.6,245 L65.7,245 Z" fill="#000"/>
<path d="M68.1,242.5 L70.1,245.8 L66.2,245.8 Z" fill="#000"/>
<path d="M68.6,241.8 L70.5,245.1 L66.7,245.1 Z" fill="#000"/>
<path d="M69.1,241.5 L71,244.9 L67.2,244.9 Z" fill="#000"/>
<path d="M69.6,242 L71.5,245.3 L67.6,245.3 Z" fill="#000"/>
<path d="M70,241.7 L72,245.1 L68.1,245.1 Z" fill="#000"/>
<path d="M70.5,242.6 L72.4,245.9 L68.6,245.9 Z" fill="#000"/>
<path d="M71,241.5 L72.9,244.8 L69.1,244.8 Z" fill="#000"/>
<path d="M71.5,242.7 L73.4,246 L69.5,246 Z" fill="#000"/>
<path d="M71.9,241.4 L73.9,244.7 L70,244.7 Z" fill="#000"/>
<path d="M72.4,242.5 L74.3,245.9 L70.5,245.9 Z" fill="#000"/>
<path d="M72.9,242.2 L74.8,245.6 L71,245.6 Z" fill="#000"/>
<path d="M73.4,241.6 L75.3,244.9 L71.4,244.9 Z" fill="#000"/>
<path d="M73.8,242 L75.8,245.3 L71.9,245.3 Z" fill="#000"/>
<path d="M74.3,241.7 L76.2,245 L72.4,245 Z" fill="#000"/>
<path d="M74.8,241.7 L76.7,245 L72.9,245 Z" fill="#000"/>
<path d="M75.3,241.6 L77.2,244.9 L73.3,244.9 Z" fill="#000"/>
<path d="M75.7,241.8 L77.6,245.1 L73.8,245.1 Z" fill="#000"/>
<path d="M76.2,242.7 L78.1,246 L74.3,246 Z" fill="#000"/>
<path d="M76.7,242.7 L78.6,246 L74.7,246 Z" fill="#000"/>
<path d="M77.1,242.6 L79.1,245.9 L75.2,245.9 Z" fill="#000"/>
<path d="M77.6,241.4 L79.5,244.8 L75.7,244.8 Z" fill="#000"/>
<path d="M78.1,241.7 L80,245 L76.2,245 Z" fill="#000"/>
<path d="M78.6,242.5 L80.5,245.9 L76.6,245.9 Z" fill="#000"/>
<path d="M79,241.4 L81,244.7 L77.1,244.7 Z" fill="#000"/>
<path d="M79.5,242.3 L81.4,245.6 L77.6,245.6 Z" fill="#000"/>
<path d="M80,241.7 L81.9,245 L78.1,245 Z" fill="#000"/>
<path d="M80.5,242.7 L82.4,246 L78.5,246 Z" fill="#000"/>
<path d="M80.9,241.3 L82.9,244.6 L79,244.6 Z" fill="#000"/>
<path d="M81.4,242.4 L83.3,245.7 L79.5,245.7 Z" fill="#000"/>
<path d="M81.9,241.8 L83.8,245.1 L80,245.1 Z" fill="#000"/>
<path d="M82.4,241.5 L84.3,244.8 L80.4,244.8 Z" fill="#000"/>
<path d="M82.8,241.3 L84.8,244.6 L80.9,244.6 Z" fill="#000"/>
<path d="M83.3,242.5 L85.2,245.8 L81.4,245.8 Z" fill="#000"/>
<path d="M83.8,242 L85.7,245.3 L81.9,245.3 Z" fill="#000"/>
<path d="M84.3,241.5 L86.2,244.9 L82.3,244.9 Z" fill="#000"/>
<path d="M84.7,241.9 L86.7,245.2 L82.8,245.2 Z" fill="#000"/>
<path d="M85.2,242.6 L87.1,245.9 L83.3,245.9 Z" fill="#000"/>
<path d="M85.7,241.6 L87.6,244.9 L83.8,244.9 Z" fill="#000"/>
<path d="M86.2,242.1 L88.1,245.4 L84.2,245.4 Z" fill="#000"/>
<path d="M86.6,241.5 L88.6,244.8 L84.7,244.8 Z" fill="#000"/>
<path d="M87.1,241.5 L89,244.9 L85.2,244.9 Z" fill="#000"/>
<path d="M87.6,242.4 L89.5,245.7 L85.7,245.7 Z" fill="#000"/>
<path d="M88,242.3 L90,245.6 L86.1,245.6 Z" fill="#000"/>
<path d="M88.5,241.6 L90.4,244.9 L86.6,244.9 Z" fill="#000"/>
<path d="M89,241.4 L90.9,244.7 L87.1,244.7 Z" fill="#000"/>
<path d="M89.5,241.4 L91.4,244.7 L87.5,244.7 Z" fill="#000"/>
<path d="M89.9,242.1 L91.9,245.5 L88,245.5 Z" fill="#000"/>
<path d="M90.4,242 L92.3,245.3 L88.5,245.3 Z" fill="#000"/>
<path d="M90.9,241.7 L92.8,245 L89,245 Z" fill="#000"/>
<path d="M91.4,241.6 L93.3,244.9 L89.4,244.9 Z" fill="#000"/>
<path d="M91.8,242.1 L93.8,245.5 L89.9,245.5 Z" fill="#000"/>
<path d="M92.3,242.3 L94.2,245.6 L90.4,245.6 Z" fill="#000"/>
<path d="M92.8,242.4 L94.7,245.7 L90.9,245.7 Z" fill="#000"/>
<path d="M93.3,242.1 L95.2,245.4 L91.3,245.4 Z" fill="#000"/>
<path d="M93.7,241.6 L95.7,244.9 L91.8,244.9 Z" fill="#000"/>
<path d="M94.2,241.4 L96.1,244.7 L92.3,244.7 Z" fill="#000"/>
<path d="M94.7,242.3 L96.6,245.6 L92.8,245.6 Z" fill="#000"/>
<path d="M95.2,241.8 L97.1,245.2 L93.2,245.2 Z" fill="#000"/>
<path d="M95.6,242.3 L97.6,245.6 L93.7,245.6 Z" fill="#000"/>
<path d="M96.1,241.4 L98,244.7 L94.2,244.7 Z" fill="#000"/>
<path d="M96.6,242.4 L98.5,245.7 L94.7,245.7 Z" fill="#000"/>
<path d="M97.1,241.7 L99,245.1 L95.1,245.1 Z" fill="#000"/>
<path d="M97.5,242.5 L99.5,245.8 L95.6,245.8 Z" fill="#000"/>
<path d="M98,242.5 L99.9,245.8 L96.1,245.8 Z" fill="#000"/>
<path d="M98.5,242 L100.4,245.3 L96.6,245.3 Z" fill="#000"/>
<path d="M99,241.3 L100.9,244.6 L97,244.6 Z" fill="#000"/>
<path d="M99.4,242.5 L101.4,245.9 L97.5,245.9 Z" fill="#000"/>
<path d="M99.9,241.9 L101.8,245.3 L98,245.3 Z" fill="#000"/>
<path d="M100.4,242.5 L102.3,245.8 L98.4,245.8 Z" fill="#000"/>
<path d="M100.8,241.6 L102.8,245 L98.9,245 Z" fill="#000"/>
<path d="M101.3,241.5 L103.2,244.9 L99.4,244.9 Z" fill="#000"/>
<path d="M101.8,242.4 L103.7,245.8 L99.9,245.8 Z" fill="#000"/>
<path d="M102.3,241.8 L104.2,245.1 L100.3,245.1 Z" fill="#000"/>
<path d="M102.7,241.5 L104.7,244.8 L100.8,244.8 Z" fill="#000"/>
<path d="M103.2,241.8 L105.1,245.1 L101.3,245.1 Z" fill="#000"/>
<path d="M103.7,242.1 L105.6,245.4 L101.8,245.4 Z" fill="#000"/>
<path d="M104.2,241.3 L106.1,244.6 L102.2,244.6 Z" fill="#000"/>
<path d="M104.6,242 L106.6,245.3 L102.7,245.3 Z" fill="#000"/>
<path d="M105.1,241.9 L107,245.2 L103.2,245.2 Z" fill="#000"/>
<path d="M105.6,242 L107.5,245.3 L103.7,245.3 Z" fill="#000"/>
<path d="M106.1,241.4 L108,244.8 L104.1,244.8 Z" fill="#000"/>
<path d="M106.5,242.3 L108.5,245.6 L104.6,245.6 Z" fill="#000"/>
<path d="M107,242.4 L108.9,245.7 L105.1,245.7 Z" fill="#000"/>
<path d="M107.5,242.5 L109.4,245.8 L105.6,245.8 Z" fill="#000"/>
<path d="M108,241.7 L109.9,245 L106,245 Z" fill="#000"/>
<path d="M108.4,242.3 L110.4,245.6 L106.5,245.6 Z" fill="#000"/>
<path d="M108.9,241.8 L110.8,245.1 L107,245.1 Z" fill="#000"/>
<path d="M109.4,242.3 L111.3,245.6 L107.5,245.6 Z" fill="#000"/>
<path d="M109.9,241.4 L111.8,244.7 L107.9,244.7 Z" fill="#000"/>
<path d="M110.3,242.5 L112.3,245.8 L108.4,245.8 Z" fill="#000"/>
<path d="M110.8,242.6 L112.7,245.9 L108.9,245.9 Z" fill="#000"/>
<path d="M111.3,242 L113.2,245.3 L109.4,245.3 Z" fill="#000"/>
<path d="M111.7,242 L113.7,245.3 L109.8,245.3 Z" fill="#000"/>
<path d="M112.2,242 L114.1,245.3 L110.3,245.3 Z" fill="#000"/>
<path d="M112.7,242 L114.6,245.3 L110.8,245.3 Z" fill="#000"/>
<path d="M113.2,241.3 L115.1,244.6 L111.2,244.6 Z" fill="#000"/>
<path d="M113.6,242.6 L115.6,245.9 L111.7,245.9 Z" fill="#000"/>
<path d="M114.1,241.6 L116,244.9 L112.2,244.9 Z" fill="#000"/>
<path d="M114.6,241.5 L116.5,244.8 L112.7,244.8 Z" fill="#000"/>
<path d="M115.1,241.4 L117,244.7 L113.1,244.7 Z" fill="#000"/>
<path d="M115.5,241.6 L117.5,244.9 L113.6,244.9 Z" fill="#000"/>
<path d="M116,242.4 L117.9,245.7 L114.1,245.7 Z" fill="#000"/>
<path d="M116.5,241.3 L118.4,244.6 L114.6,244.6 Z" fill="#000"/>
<path d="M117,241.4 L118.9,244.7 L115,244.7 Z" fill="#000"/>
<path d="M117.4,242.2 L119.4,245.6 L115.5,245.6 Z" fill="#000"/>
<path d="M117.9,241.5 L119.8,244.9 L116,244.9 Z" fill="#000"/>
<path d="M118.4,241.3 L120.3,244.6 L116.5,244.6 Z" fill="#000"/>
<path d="M118.9,242.1 L120.8,245.4 L116.9,245.4 Z" fill="#000"/>
<path d="M119.3,242.1 L121.3,245.4 L117.4,245.4 Z" fill="#000"/>
<path d="M119.8,242 L121.7,245.3 L117.9,245.3 Z" fill="#000"/>
<path d="M120.3,242.2 L122.2,245.6 L118.4,245.6 Z" fill="#000"/>
<path d="M120.8,241.4 L122.7,244.7 L118.8,244.7 Z" fill="#000"/>
<path d="M121.2,242.5 L123.2,245.8 L119.3,245.8 Z" fill="#000"/>
<path d="M121.7,242.3 L123.6,245.6 L119.8,245.6 Z" fill="#000"/>
<path d="M122.2,241.3 L124.1,244.6 L120.3,244.6 Z" fill="#000"/>
<path d="M122.7,241.4 L124.6,244.8 L120.7,244.8 Z" fill="#000"/>
<path d="M123.1,241.9 L125,245.3 L121.2,245.3 Z" fill="#000"/>
<path d="M123.6,242 L125.5,245.3 L121.7,245.3 Z" fill="#000"/>
<path d="M124.1,241.6 L126,245 L122.1,245 Z" fill="#000"/>
<path d="M124.5,241.4 L126.5,244.8 L122.6,244.8 Z" fill="#000"/>
<path d="M125,241.8 L126.9,245.1 L123.1,245.1 Z" fill="#000"/>
<path d="M125.5,241.4 L127.4,244.8 L123.6,244.8 Z" fill="#000"/>
<path d="M126,242.1 L127.9,245.4 L124,245.4 Z" fill="#000"/>
<path d="M126.4,242.5 L128.4,245.8 L124.5,245.8 Z" fill="#000"/>
<path d="M126.9,241.5 L128.8,244.8 L125,244.8 Z" fill="#000"/>
<path d="M127.4,242.1 L129.3,245.4 L125.5,245.4 Z" fill="#000"/>
<path d="M127.9,242.3 L129.8,245.6 L125.9,245.6 Z" fill="#000"/>
<path d="M128.3,241.5 L130.3,244.8 L126.4,244.8 Z" fill="#000"/>
<path d="M128.8,242.4 L130.7,245.7 L126.9,245.7 Z" fill="#000"/>
<path d="M129.3,242.6 L131.2,245.9 L127.4,245.9 Z" fill="#000"/>
<path d="M129.8,241.8 L131.7,245.1 L127.8,245.1 Z" fill="#000"/>
<path d="M130.2,241.8 L132.2,245.2 L128.3,245.2 Z" fill="#000"/>
<path d="M130.7,242.4 L132.6,245.7 L128.8,245.7 Z" fill="#000"/>
<path d="M131.2,242 L133.1,245.3 L129.3,245.3 Z" fill="#000"/>
<path d="M131.7,241.8 L133.6,245.1 L129.7,245.1 Z" fill="#000"/>
<path d="M132.1,242.6 L134.1,245.9 L130.2,245.9 Z" fill="#000"/>
<path d="M132.6,242.3 L134.5,245.7 L130.7,245.7 Z" fill="#000"/>
<path d="M133.1,241.7 L135,245 L131.2,245 Z" fill="#000"/>
<path d="M133.6,241.6 L135.5,244.9 L131.6,244.9 Z" fill="#000"/>
<path d="M134,241.7 L136,245 L132.1,245 Z" fill="#000"/>
<path d="M134.5,241.9 L136.4,245.2 L132.6,245.2 Z" fill="#000"/>
<path d="M135,242.6 L136.9,245.9 L133.1,245.9 Z" fill="#000"/>
<path d="M135.4,242.4 L137.4,245.7 L133.5,245.7 Z" fill="#000"/>
<path d="M135.9,242.5 L137.8,245.8 L134,245.8 Z" fill="#000"/>
<path d="M136.4,242.4 L138.3,245.7 L134.5,245.7 Z" fill="#000"/>
<path d="M136.9,242.4 L138.8,245.8 L134.9,245.8 Z" fill="#000"/>
<path d="M137.3,241.3 L139.3,244.6 L135.4,244.6 Z" fill="#000"/>
<path d="M137.8,242 L139.7,245.3 L135.9,245.3 Z" fill="#000"/>
<path d="M138.3,242.6 L140.2,245.9 L136.4,245.9 Z" fill="#000"/>
<path d="M138.8,242.6 L140.7,245.9 L136.8,245.9 Z" fill="#000"/>
<path d="M139.2,241.6 L141.2,244.9 L137.3,244.9 Z" fill="#000"/>
<path d="M139.7,241.8 L141.6,245.2 L137.8,245.2 Z" fill="#000"/>
<path d="M140.2,242.1 L142.1,245.5 L138.3,245.5 Z" fill="#000"/>
<path d="M140.7,241.8 L142.6,245.1 L138.7,245.1 Z" fill="#000"/>
<path d="M141.1,242 L143.1,245.3 L139.2,245.3 Z" fill="#000"/>
<path d="M141.6,241.3 L143.5,244.7 L139.7,244.7 Z" fill="#000"/>
<path d="M142.1,241.8 L144,245.2 L140.2,245.2 Z" fill="#000"/>
<path d="M142.6,241.9 L144.5,245.3 L140.6,245.3 Z" fill="#000"/>
<path d="M143,241.3 L145,244.6 L141.1,244.6 Z" fill="#000"/>
<path d="M143.5,241.4 L145.4,244.8 L141.6,244.8 Z" fill="#000"/>
<path d="M144,242.6 L145.9,245.9 L142.1,245.9 Z" fill="#000"/>
<path d="M144.5,242.3 L146.4,245.7 L142.5,245.7 Z" fill="#000"/>
<path d="M144.9,242.5 L146.9,245.9 L143,245.9 Z" fill="#000"/>
<path d="M145.4,242.1 L147.3,245.4 L143.5,245.4 Z" fill="#000"/>
<path d="M145.9,242.4 L147.8,245.7 L144,245.7 Z" fill="#000"/>
<path d="M146.4,242.5 L148.3,245.8 L144.4,245.8 Z" fill="#000"/>
<path d="M146.8,242.5 L148.8,245.8 L144.9,245.8 Z" fill="#000"/>
<path d="M147.3,241.3 L149.2,244.6 L145.4,244.6 Z" fill="#000"/>
<path d="M147.8,242.1 L149.7,245.5 L145.8,245.5 Z" fill="#000"/>
<path d="M148.2,241.6 L150.2,244.9 L146.3,244.9 Z" fill="#000"/>
<path d="M148.7,242.2 L150.6,245.5 L146.8,245.5 Z" fill="#000"/>
<path d="M149.2,241.6 L151.1,244.9 L147.3,244.9 Z" fill="#000"/>
<path d="M149.7,242 L151.6,245.3 L147.7,245.3 Z" fill="#000"/>
<path d="M150.1,242.5 L152.1,245.9 L148.2,245.9 Z" fill="#000"/>
<path d="M150.6,242.1 L152.5,245.4 L148.7,245.4 Z" fill="#000"/>
<path d="M151.1,241.6 L153,244.9 L149.2,244.9 Z" fill="#000"/>
<path d="M151.6,242 L153.5,245.3 L149.6,245.3 Z" fill="#000"/>
<path d="M152,241.8 L154,245.2 L150.1,245.2 Z" fill="#000"/>
<path d="M152.5,242.6 L154.4,245.9 L150.6,245.9 Z" fill="#000"/>
<path d="M153,241.6 L154.9,245 L151.1,245 Z" fill="#000"/>
<path d="M153.5,241.7 L155.4,245 L151.5,245 Z" fill="#000"/>
<path d="M153.9,242.1 L155.9,245.5 L152,245.5 Z" fill="#000"/>
<path d="M154.4,241.4 L156.3,244.7 L152.5,244.7 Z" fill="#000"/>
<path d="M154.9,242.1 L156.8,245.4 L153,245.4 Z" fill="#000"/>
<path d="M155.4,242.6 L157.3,245.9 L153.4,245.9 Z" fill="#000"/>
<path d="M155.8,241.9 L157.8,245.3 L153.9,245.3 Z" fill="#000"/>
<path d="M156.3,241.6 L158.2,244.9 L154.4,244.9 Z" fill="#000"/>
<path d="M156.8,241.9 L158.7,245.2 L154.9,245.2 Z" fill="#000"/>
<path d="M157.3,242 L159.2,245.3 L155.3,245.3 Z" fill="#000"/>
<path d="M157.7,241.4 L159.7,244.8 L155.8,244.8 Z" fill="#000"/>
<path d="M158.2,241.4 L160.1,244.7 L156.3,244.7 Z" fill="#000"/>
<path d="M158.7,241.4 L160.6,244.7 L156.8,244.7 Z" fill="#000"/>
<path d="M159.1,241.6 L161.1,245 L157.2,245 Z" fill="#000"/>
<path d="M159.6,241.8 L161.5,245.1 L157.7,245.1 Z" fill="#000"/>
<path d="M160.1,241.6 L162,245 L158.2,245 Z" fill="#000"/>
<path d="M160.6,241.6 L162.5,244.9 L158.6,244.9 Z" fill="#000"/>
<path d="M161,241.3 L163,244.7 L159.1,244.7 Z" fill="#000"/>
<path d="M161.5,242 L163.4,245.3 L159.6,245.3 Z" fill="#000"/>
<path d="M162,242.4 L163.9,245.7 L160.1,245.7 Z" fill="#000"/>
<path d="M162.5,242.1 L164.4,245.4 L160.5,245.4 Z" fill="#000"/>
<path d="M162.9,242 L164.9,245.3 L161,245.3 Z" fill="#000"/>
<path d="M163.4,242.1 L165.3,245.5 L161.5,245.5 Z" fill="#000"/>
<path d="M163.9,241.5 L165.8,244.8 L162,244.8 Z" fill="#000"/>
<path d="M164.4,242.2 L166.3,245.5 L162.4,245.5 Z" fill="#000"/>
<path d="M164.8,241.9 L166.8,245.2 L162.9,245.2 Z" fill="#000"/>
<path d="M165.3,242 L167.2,245.3 L163.4,245.3 Z" fill="#000"/>
<path d="M165.8,242.1 L167.7,245.4 L163.9,245.4 Z" fill="#000"/>
<path d="M166.3,241.9 L168.2,245.2 L164.3,245.2 Z" fill="#000"/>
<path d="M166.7,241.7 L168.7,245 L164.8,245 Z" fill="#000"/>
<path d="M167.2,241.6 L169.1,244.9 L165.3,244.9 Z" fill="#000"/>
<path d="M167.7,241.5 L169.6,244.9 L165.8,244.9 Z" fill="#000"/>
<path d="M168.2,241.9 L170.1,245.3 L166.2,245.3 Z" fill="#000"/>
<path d="M168.6,241.8 L170.6,245.1 L166.7,245.1 Z" fill="#000"/>
<path d="M169.1,242 L171,245.4 L167.2,245.4 Z" fill="#000"/>
<path d="M169.6,241.2 L171.5,244.6 L167.7,244.6 Z" fill="#000"/>
<path d="M170.1,241.7 L172,245 L168.1,245 Z" fill="#000"/>
<path d="M170.5,242.4 L172.5,245.7 L168.6,245.7 Z" fill="#000"/>
<path d="M171,241.6 L172.9,244.9 L169.1,244.9 Z" fill="#000"/>
<path d="M171.5,242 L173.4,245.3 L169.5,245.3 Z" fill="#000"/>
<path d="M171.9,241.9 L173.9,245.2 L170,245.2 Z" fill="#000"/>
<path d="M172.4,241.6 L174.3,244.9 L170.5,244.9 Z" fill="#000"/>
<path d="M172.9,242.6 L174.8,245.9 L171,245.9 Z" fill="#000"/>
<path d="M173.4,241.6 L175.3,245 L171.4,245 Z" fill="#000"/>
<path d="M173.8,242.3 L175.8,245.6 L171.9,245.6 Z" fill="#000"/>
<path d="M174.3,241.4 L176.2,244.8 L172.4,244.8 Z" fill="#000"/>
<path d="M174.8,241.3 L176.7,244.6 L172.9,244.6 Z" fill="#000"/>
<path d="M175.3,242.4 L177.2,245.8 L173.3,245.8 Z" fill="#000"/>
<path d="M175.7,241.8 L177.7,245.2 L173.8,245.2 Z" fill="#000"/>
<path d="M176.2,241.3 L178.1,244.6 L174.3,244.6 Z" fill="#000"/>
<path d="M176.7,241.8 L178.6,245.1 L174.8,245.1 Z" fill="#000"/>
<path d="M177.2,241.8 L179.1,245.2 L175.2,245.2 Z" fill="#000"/>
<path d="M177.6,242.2 L179.6,245.6 L175.7,245.6 Z" fill="#000"/>
<path d="M178.1,241.4 L180,244.7 L176.2,244.7 Z" fill="#000"/>
<path d="M178.6,241.5 L180.5,244.9 L176.7,244.9 Z" fill="#000"/>
<path d="M179.1,242.6 L181,245.9 L177.1,245.9 Z" fill="#000"/>
<path d="M179.5,242.2 L181.5,245.6 L177.6,245.6 Z" fill="#000"/>
<path d="M180,241.4 L181.9,244.8 L178.1,244.8 Z" fill="#000"/>
<path d="M180.5,241.7 L182.4,245 L178.6,245 Z" fill="#000"/>
<path d="M181,241.7 L182.9,245 L179,245 Z" fill="#000"/>
<path d="M181.4,242.2 L183.4,245.5 L179.5,245.5 Z" fill="#000"/>
<path d="M181.9,242.1 L183.8,245.4 L180,245.4 Z" fill="#000"/>
<path d="M182.4,242.4 L184.3,245.7 L180.4,245.7 Z" fill="#000"/>
<path d="M182.8,242.4 L184.8,245.7 L180.9,245.7 Z" fill="#000"/>
<path d="M183.3,241.9 L185.2,245.3 L181.4,245.3 Z" fill="#000"/>
<path d="M183.8,242.2 L185.7,245.6 L181.9,245.6 Z" fill="#000"/>
<path d="M184.3,242.2 L186.2,245.6 L182.3,245.6 Z" fill="#000"/>
<path d="M184.7,242.3 L186.7,245.6 L182.8,245.6 Z" fill="#000"/>
<path d="M185.2,241.9 L187.1,245.2 L183.3,245.2 Z" fill="#000"/>
<path d="M185.7,242.3 L187.6,245.6 L183.8,245.6 Z" fill="#000"/>
<path d="M186.2,242.2 L188.1,245.5 L184.2,245.5 Z" fill="#000"/>
<path d="M186.6,242.5 L188.6,245.8 L184.7,245.8 Z" fill="#000"/>
<path d="M187.1,241.4 L189,244.7 L185.2,244.7 Z" fill="#000"/>
<path d="M187.6,242.4 L189.5,245.7 L185.7,245.7 Z" fill="#000"/>
<path d="M188.1,241.2 L190,244.5 L186.1,244.5 Z" fill="#000"/>
<path d="M188.5,242.3 L190.5,245.6 L186.6,245.6 Z" fill="#000"/>
<path d="M189,242 L190.9,245.3 L187.1,245.3 Z" fill="#000"/>
<path d="M189.5,241.9 L191.4,245.2 L187.6,245.2 Z" fill="#000"/>
<path d="M190,242.5 L191.9,245.9 L188,245.9 Z" fill="#000"/>
<path d="M190.4,242 L192.4,245.3 L188.5,245.3 Z" fill="#000"/>
<path d="M190.9,241.8 L192.8,245.1 L189,245.1 Z" fill="#000"/>
<path d="M191.4,242.3 L193.3,245.6 L189.5,245.6 Z" fill="#000"/>
<path d="M191.9,242.4 L193.8,245.7 L189.9,245.7 Z" fill="#000"/>
<path d="M192.3,242 L194.3,245.4 L190.4,245.4 Z" fill="#000"/>
<path d="M192.8,241.7 L194.7,245.1 L190.9,245.1 Z" fill="#000"/>
<path d="M193.3,241.8 L195.2,245.2 L191.4,245.2 Z" fill="#000"/>
<path d="M193.8,241.8 L195.7,245.2 L191.8,245.2 Z" fill="#000"/>
<path d="M194.2,242.2 L196.2,245.5 L192.3,245.5 Z" fill="#000"/>
<path d="M194.7,241.6 L196.6,244.9 L192.8,244.9 Z" fill="#000"/>
<path d="M195.2,241.7 L197.1,245.1 L193.2,245.1 Z" fill="#000"/>
<path d="M195.6,242 L197.6,245.3 L193.7,245.3 Z" fill="#000"/>
<path d="M196.1,241.7 L198,245.1 L194.2,245.1 Z" fill="#000"/>
<path d="M196.6,241.6 L198.5,245 L194.7,245 Z" fill="#000"/>
<path d="M197.1,242.3 L199,245.6 L195.1,245.6 Z" fill="#000"/>
<path d="M197.5,242.4 L199.5,245.7 L195.6,245.7 Z" fill="#000"/>
<path d="M198,241.9 L199.9,245.2 L196.1,245.2 Z" fill="#000"/>
<path d="M198.5,241.8 L200.4,245.1 L196.6,245.1 Z" fill="#000"/>
<path d="M199,241.5 L200.9,244.8 L197,244.8 Z" fill="#000"/>
<path d="M199.4,241.6 L201.4,244.9 L197.5,244.9 Z" fill="#000"/>
<path d="M199.9,241.4 L201.8,244.7 L198,244.7 Z" fill="#000"/>
<path d="M200.4,242 L202.3,245.3 L198.5,245.3 Z" fill="#000"/>
<path d="M200.9,242 L202.8,245.3 L198.9,245.3 Z" fill="#000"/>
<path d="M201.3,241.3 L203.3,244.6 L199.4,244.6 Z" fill="#000"/>
<path d="M201.8,242.5 L203.7,245.8 L199.9,245.8 Z" fill="#000"/>
<path d="M202.3,241.6 L204.2,245 L200.4,245 Z" fill="#000"/>
<path d="M202.8,242.4 L204.7,245.7 L200.8,245.7 Z" fill="#000"/>
<path d="M203.2,242.4 L205.2,245.7 L201.3,245.7 Z" fill="#000"/>
<path d="M203.7,242.5 L205.6,245.9 L201.8,245.9 Z" fill="#000"/>
<path d="M204.2,241.5 L206.1,244.8 L202.3,244.8 Z" fill="#000"/>
<path d="M204.7,241.8 L206.6,245.1 L202.7,245.1 Z" fill="#000"/>
<path d="M205.1,242.5 L207.1,245.8 L203.2,245.8 Z" fill="#000"/>
<path d="M205.6,241.2 L207.5,244.5 L203.7,244.5 Z" fill="#000"/>
<path d="M206.1,241.3 L208,244.6 L204.1,244.6 Z" fill="#000"/>
<path d="M206.5,242 L208.5,245.3 L204.6,245.3 Z" fill="#000"/>
<path d="M207,241.9 L208.9,245.2 L205.1,245.2 Z" fill="#000"/>
<path d="M207.5,242.5 L209.4,245.8 L205.6,245.8 Z" fill="#000"/>
<path d="M208,242.3 L209.9,245.6 L206,245.6 Z" fill="#000"/>
<path d="M208.4,241.9 L210.4,245.3 L206.5,245.3 Z" fill="#000"/>
<path d="M208.9,242.6 L210.8,245.9 L207,245.9 Z" fill="#000"/>
<path d="M209.4,241.9 L211.3,245.2 L207.5,245.2 Z" fill="#000"/>
<path d="M209.9,241.9 L211.8,245.2 L207.9,245.2 Z" fill="#000"/>
<path d="M210.3,242.1 L212.3,245.5 L208.4,245.5 Z" fill="#000"/>
<path d="M210.8,241.7 L212.7,245.1 L208.9,245.1 Z" fill="#000"/>
<path d="M211.3,241.7 L213.2,245 L209.4,245 Z" fill="#000"/>
<path d="M211.8,242 L213.7,245.3 L209.8,245.3 Z" fill="#000"/>
<path d="M212.2,241.7 L214.2,245 L210.3,245 Z" fill="#000"/>
<path d="M212.7,242.5 L214.6,245.8 L210.8,245.8 Z" fill="#000"/>
<path d="M213.2,242.1 L215.1,245.5 L211.3,245.5 Z" fill="#000"/>
<path d="M39.8,285.1 L41.8,288.6 L37.8,288.6 Z" fill="#000"/>
<path d="M39.8,295.6 L41.8,299.1 L37.8,299.1 Z" fill="#000"/>
<path d="M39.6,352.3 L41.6,355.7 L37.6,355.7 Z" fill="#000"/>
<path d="M81,246.5 L83,249.9 L79,249.9 Z" fill="#000"/>
<path d="M85.5,246.9 L87.5,250.3 L83.5,250.3 Z" fill="#000"/>
<path d="M89.5,246.4 L91.5,249.8 L87.5,249.8 Z" fill="#000"/>
<path d="M194.3,244.8 L196.3,248.2 L192.3,248.2 Z" fill="#000"/>
<path d="M198.6,247.8 L200.5,251.2 L196.6,251.2 Z" fill="#000"/>
<path d="M202.5,247.1 L204.5,250.6 L200.5,250.6 Z" fill="#000"/>
<path d="M39.3,327.7 L41.8,332.1 L36.8,332.1 Z" fill="#ff0000"/>
<path d="M39.3,330.3 L41.8,334.7 L36.7,334.7 Z" fill="#ff0000"/>
<path d="M39.6,328.1 L42.2,332.4 L37.1,332.4 Z" fill="#ff0000"/>
<path d="M39.8,330.9 L42.3,335.2 L37.2,335.2 Z" fill="#ff0000"/>
<path d="M39.9,327.2 L42.5,331.6 L37.4,331.6 Z" fill="#ff0000"/>
<path d="M40,330.3 L42.5,334.7 L37.5,334.7 Z" fill="#ff0000"/>
<path d="M40.2,326.7 L42.7,331.1 L37.7,331.1 Z" fill="#ff0000"/>
<path d="M40.4,328 L42.9,332.4 L37.9,332.4 Z" fill="#ff0000"/>
<path d="M40.5,327 L43,331.4 L38,331.4 Z" fill="#ff0000"/>
<path d="M40.7,328.1 L43.2,332.5 L38.2,332.5 Z" fill="#ff0000"/>
<path d="M40.7,326.3 L43.3,330.6 L38.2,330.6 Z" fill="#ff0000"/>
<path d="M41,328.1 L43.5,332.5 L38.4,332.5 Z" fill="#ff0000"/>
<path d="M41.4,325.7 L43.9,330 L38.9,330 Z" fill="#ff0000"/>
<path d="M41.2,326.2 L43.7,330.6 L38.6,330.6 Z" fill="#ff0000"/>
<path d="M41.4,324.3 L44,328.7 L38.9,328.7 Z" fill="#ff0000"/>
<path d="M41.5,325.7 L44,330 L39,330 Z" fill="#ff0000"/>
<path d="M41.7,324 L44.2,328.3 L39.2,328.3 Z" fill="#ff0000"/>
<path d="M41.9,325.4 L44.4,329.8 L39.3,329.8 Z" fill="#ff0000"/>
<path d="M42.3,323.4 L44.9,327.8 L39.8,327.8 Z" fill="#ff0000"/>
<path d="M42,324.9 L44.5,329.3 L39.4,329.3 Z" fill="#ff0000"/>
<path d="M42.6,322.4 L45.1,326.8 L40.1,326.8 Z" fill="#ff0000"/>
<path d="M42.5,323.8 L45.1,328.2 L40,328.2 Z" fill="#ff0000"/>
<path d="M42.7,323.2 L45.2,327.5 L40.2,327.5 Z" fill="#ff0000"/>
<path d="M42.8,324.8 L45.3,329.2 L40.3,329.2 Z" fill="#ff0000"/>
<path d="M43,322.2 L45.5,326.5 L40.4,326.5 Z" fill="#ff0000"/>
<path d="M43.1,323.7 L45.6,328.1 L40.6,328.1 Z" fill="#ff0000"/>
<path d="M43.5,321.9 L46,326.3 L40.9,326.3 Z" fill="#ff0000"/>
<path d="M43.6,324 L46.1,328.4 L41.1,328.4 Z" fill="#ff0000"/>
<path d="M43.7,320.8 L46.2,325.1 L41.2,325.1 Z" fill="#ff0000"/>
<path d="M43.6,324 L46.1,328.4 L41.1,328.4 Z" fill="#ff0000"/>
<path d="M43.9,320.4 L46.4,324.8 L41.4,324.8 Z" fill="#ff0000"/>
<path d="M43.9,323.3 L46.4,327.6 L41.4,327.6 Z" fill="#ff0000"/>
<path d="M44.5,321.1 L47,325.5 L42,325.5 Z" fill="#ff0000"/>
<path d="M44.5,322 L47,326.4 L42,326.4 Z" fill="#ff0000"/>
<path d="M44.5,321.1 L47,325.5 L42,325.5 Z" fill="#ff0000"/>
<path d="M44.6,323 L47.1,327.4 L42.1,327.4 Z" fill="#ff0000"/>
<path d="M44.9,319.6 L47.5,324 L42.4,324 Z" fill="#ff0000"/>
<path d="M44.9,321.5 L47.4,325.8 L42.4,325.8 Z" fill="#ff0000"/>
<path d="M45.5,320.1 L48,324.5 L42.9,324.5 Z" fill="#ff0000"/>
<path d="M45.2,321.8 L47.8,326.2 L42.7,326.2 Z" fill="#ff0000"/>
<path d="M45.6,318.7 L48.1,323.1 L43.1,323.1 Z" fill="#ff0000"/>
<path d="M45.8,321.8 L48.3,326.2 L43.3,326.2 Z" fill="#ff0000"/>
<path d="M46.1,319.2 L48.7,323.6 L43.6,323.6 Z" fill="#ff0000"/>
<path d="M46,320.8 L48.5,325.2 L43.5,325.2 Z" fill="#ff0000"/>
<path d="M46.1,320 L48.6,324.3 L43.5,324.3 Z" fill="#ff0000"/>
<path d="M46.4,320.7 L48.9,325.1 L43.9,325.1 Z" fill="#ff0000"/>
<path d="M46.7,319.6 L49.3,324 L44.2,324 Z" fill="#ff0000"/>
<path d="M46.5,321.2 L49,325.6 L44,325.6 Z" fill="#ff0000"/>
<path d="M47.1,318.9 L49.6,323.3 L44.5,323.3 Z" fill="#ff0000"/>
<path d="M47.1,320.4 L49.6,324.8 L44.5,324.8 Z" fill="#ff0000"/>
<path d="M47.2,319.3 L49.7,323.6 L44.6,323.6 Z" fill="#ff0000"/>
<path d="M47.1,320.4 L49.6,324.8 L44.6,324.8 Z" fill="#ff0000"/>
<path d="M47.7,318.7 L50.2,323.1 L45.1,323.1 Z" fill="#ff0000"/>
<path d="M47.6,320.2 L50.2,324.6 L45.1,324.6 Z" fill="#ff0000"/>
<path d="M47.7,318.3 L50.2,322.7 L45.2,322.7 Z" fill="#ff0000"/>
<path d="M47.7,321.6 L50.2,325.9 L45.2,325.9 Z" fill="#ff0000"/>
<path d="M48.1,318.6 L50.6,323 L45.5,323 Z" fill="#ff0000"/>
<path d="M48,320.6 L50.5,325 L45.5,325 Z" fill="#ff0000"/>
<path d="M48.4,318.2 L51,322.6 L45.9,322.6 Z" fill="#ff0000"/>
<path d="M48.3,319.7 L50.8,324 L45.8,324 Z" fill="#ff0000"/>
<path d="M48.9,318 L51.4,322.4 L46.4,322.4 Z" fill="#ff0000"/>
<path d="M48.7,319.7 L51.2,324.1 L46.2,324.1 Z" fill="#ff0000"/>
<path d="M49,317.7 L51.5,322.1 L46.5,322.1 Z" fill="#ff0000"/>
<path d="M48.9,320.6 L51.4,324.9 L46.4,324.9 Z" fill="#ff0000"/>
<path d="M49.4,317.4 L51.9,321.8 L46.8,321.8 Z" fill="#ff0000"/>
<path d="M49.5,319.3 L52,323.7 L47,323.7 Z" fill="#ff0000"/>
<path d="M49.6,318.7 L52.2,323.1 L47.1,323.1 Z" fill="#ff0000"/>
<path d="M49.6,319.9 L52.1,324.3 L47.1,324.3 Z" fill="#ff0000"/>
<path d="M50.2,318.5 L52.7,322.9 L47.7,322.9 Z" fill="#ff0000"/>
<path d="M49.9,319.6 L52.4,324 L47.4,324 Z" fill="#ff0000"/>
<path d="M50.5,317.6 L53,322 L47.9,322 Z" fill="#ff0000"/>
<path d="M50.5,319.2 L53.1,323.6 L48,323.6 Z" fill="#ff0000"/>
<path d="M50.9,317.7 L53.4,322.1 L48.3,322.1 Z" fill="#ff0000"/>
<path d="M50.6,319.6 L53.1,324 L48,324 Z" fill="#ff0000"/>
<path d="M50.9,318 L53.4,322.4 L48.3,322.4 Z" fill="#ff0000"/>
<path d="M50.9,320.4 L53.4,324.8 L48.4,324.8 Z" fill="#ff0000"/>
<path d="M51.3,317.3 L53.9,321.6 L48.8,321.6 Z" fill="#ff0000"/>
<path d="M51.2,319.7 L53.7,324.1 L48.7,324.1 Z" fill="#ff0000"/>
<path d="M51.5,318.2 L54,322.5 L49,322.5 Z" fill="#ff0000"/>
<path d="M51.5,319.5 L54,323.8 L48.9,323.8 Z" fill="#ff0000"/>
<path d="M52,316.9 L54.5,321.2 L49.4,321.2 Z" fill="#ff0000"/>
<path d="M52.1,319.1 L54.6,323.5 L49.5,323.5 Z" fill="#ff0000"/>
<path d="M52.3,317.4 L54.9,321.7 L49.8,321.7 Z" fill="#ff0000"/>
<path d="M52.2,319 L54.7,323.4 L49.7,323.4 Z" fill="#ff0000"/>
<path d="M52.4,316.5 L54.9,320.9 L49.9,320.9 Z" fill="#ff0000"/>
<path d="M52.7,318.8 L55.2,323.1 L50.2,323.1 Z" fill="#ff0000"/>
<path d="M53,316.3 L55.5,320.6 L50.4,320.6 Z" fill="#ff0000"/>
<path d="M52.9,318.8 L55.4,323.1 L50.4,323.1 Z" fill="#ff0000"/>
<path d="M53.2,316.5 L55.7,320.9 L50.7,320.9 Z" fill="#ff0000"/>
<path d="M53,318.6 L55.6,322.9 L50.5,322.9 Z" fill="#ff0000"/>
<path d="M53.4,316.1 L55.9,320.5 L50.9,320.5 Z" fill="#ff0000"/>
<path d="M53.6,318.4 L56.1,322.8 L51.1,322.8 Z" fill="#ff0000"/>
<path d="M53.8,317.6 L56.3,321.9 L51.3,321.9 Z" fill="#ff0000"/>
<path d="M54,319.5 L56.5,323.9 L51.4,323.9 Z" fill="#ff0000"/>
<path d="M54.3,315.9 L56.8,320.3 L51.8,320.3 Z" fill="#ff0000"/>
<path d="M54.1,317.7 L56.6,322.1 L51.5,322.1 Z" fill="#ff0000"/>
<path d="M54.5,316.9 L57.1,321.2 L52,321.2 Z" fill="#ff0000"/>
<path d="M54.4,318.4 L56.9,322.7 L51.9,322.7 Z" fill="#ff0000"/>
<path d="M54.9,316.8 L57.4,321.2 L52.3,321.2 Z" fill="#ff0000"/>
<path d="M54.7,319.1 L57.2,323.5 L52.2,323.5 Z" fill="#ff0000"/>
<path d="M55,316.6 L57.6,321 L52.5,321 Z" fill="#ff0000"/>
<path d="M55,317.6 L57.5,321.9 L52.4,321.9 Z" fill="#ff0000"/>
<path d="M55.6,316.7 L58.1,321.1 L53.1,321.1 Z" fill="#ff0000"/>
<path d="M55.5,317.3 L58,321.7 L53,321.7 Z" fill="#ff0000"/>
<path d="M55.6,315.5 L58.1,319.8 L53,319.8 Z" fill="#ff0000"/>
<path d="M55.6,317.8 L58.1,322.1 L53.1,322.1 Z" fill="#ff0000"/>
<path d="M56,315.1 L58.5,319.5 L53.5,319.5 Z" fill="#ff0000"/>
<path d="M56,318.3 L58.5,322.7 L53.4,322.7 Z" fill="#ff0000"/>
<path d="M56.2,316.6 L58.8,321 L53.7,321 Z" fill="#ff0000"/>
<path d="M56.4,318.4 L58.9,322.8 L53.9,322.8 Z" fill="#ff0000"/>
<path d="M56.6,315.7 L59.1,320.1 L54.1,320.1 Z" fill="#ff0000"/>
<path d="M56.8,317.6 L59.3,321.9 L54.2,321.9 Z" fill="#ff0000"/>
<path d="M56.8,316.4 L59.3,320.8 L54.3,320.8 Z" fill="#ff0000"/>
<path d="M57.1,317.3 L59.6,321.7 L54.6,321.7 Z" fill="#ff0000"/>
<path d="M57.1,316.4 L59.7,320.7 L54.6,320.7 Z" fill="#ff0000"/>
<path d="M57.4,316.7 L59.9,321.1 L54.8,321.1 Z" fill="#ff0000"/>
<path d="M57.5,314.8 L60.1,319.1 L55,319.1 Z" fill="#ff0000"/>
<path d="M57.8,317 L60.3,321.3 L55.2,321.3 Z" fill="#ff0000"/>
<path d="M58.1,316 L60.6,320.3 L55.6,320.3 Z" fill="#ff0000"/>
<path d="M57.8,317.8 L60.3,322.2 L55.3,322.2 Z" fill="#ff0000"/>
<path d="M58.2,315.9 L60.8,320.3 L55.7,320.3 Z" fill="#ff0000"/>
<path d="M58.4,317 L60.9,321.4 L55.9,321.4 Z" fill="#ff0000"/>
<path d="M58.4,316.3 L60.9,320.7 L55.9,320.7 Z" fill="#ff0000"/>
<path d="M58.6,318.3 L61.1,322.6 L56,322.6 Z" fill="#ff0000"/>
<path d="M59,315.9 L61.5,320.2 L56.4,320.2 Z" fill="#ff0000"/>
<path d="M59,317.6 L61.6,322 L56.5,322 Z" fill="#ff0000"/>
<path d="M59.2,314.5 L61.7,318.8 L56.7,318.8 Z" fill="#ff0000"/>
<path d="M59.3,317.2 L61.8,321.6 L56.8,321.6 Z" fill="#ff0000"/>
<path d="M59.5,316.2 L62.1,320.5 L57,320.5 Z" fill="#ff0000"/>
<path d="M59.4,317.8 L61.9,322.2 L56.9,322.2 Z" fill="#ff0000"/>
<path d="M59.7,315.7 L62.2,320.1 L57.1,320.1 Z" fill="#ff0000"/>
<path d="M60,316.8 L62.5,321.2 L57.4,321.2 Z" fill="#ff0000"/>
<path d="M60.2,316.2 L62.7,320.6 L57.7,320.6 Z" fill="#ff0000"/>
<path d="M60.2,317.3 L62.7,321.7 L57.7,321.7 Z" fill="#ff0000"/>
<path d="M60.4,314.4 L62.9,318.7 L57.8,318.7 Z" fill="#ff0000"/>
<path d="M60.4,317.1 L63,321.4 L57.9,321.4 Z" fill="#ff0000"/>
<path d="M60.7,314.8 L63.2,319.2 L58.1,319.2 Z" fill="#ff0000"/>
<path d="M60.6,317.6 L63.2,322 L58.1,322 Z" fill="#ff0000"/>
<path d="M61.2,314.7 L63.7,319 L58.6,319 Z" fill="#ff0000"/>
<path d="M61,317.2 L63.5,321.6 L58.5,321.6 Z" fill="#ff0000"/>
<path d="M61.4,316 L63.9,320.4 L58.9,320.4 Z" fill="#ff0000"/>
<path d="M61.4,316.7 L63.9,321.1 L58.8,321.1 Z" fill="#ff0000"/>
<path d="M61.9,314.4 L64.4,318.8 L59.4,318.8 Z" fill="#ff0000"/>
<path d="M61.8,316.8 L64.3,321.2 L59.2,321.2 Z" fill="#ff0000"/>
<path d="M62.2,315.2 L64.7,319.6 L59.7,319.6 Z" fill="#ff0000"/>
<path d="M62.2,316.4 L64.7,320.8 L59.6,320.8 Z" fill="#ff0000"/>
<path d="M62.4,315.3 L65,319.6 L59.9,319.6 Z" fill="#ff0000"/>
<path d="M62.4,317.6 L64.9,322 L59.8,322 Z" fill="#ff0000"/>
<path d="M62.8,314.3 L65.4,318.6 L60.3,318.6 Z" fill="#ff0000"/>
<path d="M62.6,316.8 L65.1,321.1 L60.1,321.1 Z" fill="#ff0000"/>
<path d="M62.9,314.1 L65.4,318.5 L60.4,318.5 Z" fill="#ff0000"/>
<path d="M62.9,316.4 L65.4,320.8 L60.4,320.8 Z" fill="#ff0000"/>
<path d="M63.4,314.9 L65.9,319.2 L60.9,319.2 Z" fill="#ff0000"/>
<path d="M63.2,316.6 L65.7,321 L60.6,321 Z" fill="#ff0000"/>
<path d="M63.6,314.7 L66.2,319 L61.1,319 Z" fill="#ff0000"/>
<path d="M63.5,316.1 L66,320.5 L61,320.5 Z" fill="#ff0000"/>
<path d="M63.8,315.9 L66.3,320.3 L61.2,320.3 Z" fill="#ff0000"/>
<path d="M64.1,316.1 L66.6,320.5 L61.5,320.5 Z" fill="#ff0000"/>
<path d="M64.4,315.9 L66.9,320.2 L61.8,320.2 Z" fill="#ff0000"/>
<path d="M64.3,316.1 L66.8,320.5 L61.8,320.5 Z" fill="#ff0000"/>
<path d="M64.6,314.7 L67.1,319.1 L62.1,319.1 Z" fill="#ff0000"/>
<path d="M64.5,317 L67,321.3 L61.9,321.3 Z" fill="#ff0000"/>
<path d="M64.7,315.7 L67.2,320 L62.2,320 Z" fill="#ff0000"/>
<path d="M65,317.1 L67.5,321.5 L62.4,321.5 Z" fill="#ff0000"/>
<path d="M65.4,315.1 L67.9,319.5 L62.9,319.5 Z" fill="#ff0000"/>
<path d="M65.1,316.3 L67.6,320.7 L62.6,320.7 Z" fill="#ff0000"/>
<path d="M65.4,313.8 L67.9,318.2 L62.9,318.2 Z" fill="#ff0000"/>
<path d="M65.6,317.5 L68.2,321.8 L63.1,321.8 Z" fill="#ff0000"/>
<path d="M65.8,314.1 L68.3,318.5 L63.2,318.5 Z" fill="#ff0000"/>
<path d="M65.9,317.4 L68.4,321.8 L63.4,321.8 Z" fill="#ff0000"/>
<path d="M66.3,314.1 L68.9,318.4 L63.8,318.4 Z" fill="#ff0000"/>
<path d="M66.3,317.4 L68.8,321.8 L63.7,321.8 Z" fill="#ff0000"/>
<path d="M66.6,314.3 L69.1,318.7 L64,318.7 Z" fill="#ff0000"/>
<path d="M66.4,317.3 L68.9,321.7 L63.8,321.7 Z" fill="#ff0000"/>
<path d="M66.7,314.4 L69.3,318.8 L64.2,318.8 Z" fill="#ff0000"/>
<path d="M66.8,316.4 L69.3,320.8 L64.3,320.8 Z" fill="#ff0000"/>
<path d="M67.2,314.1 L69.8,318.5 L64.7,318.5 Z" fill="#ff0000"/>
<path d="M66.9,316.8 L69.5,321.1 L64.4,321.1 Z" fill="#ff0000"/>
<path d="M67.5,315.3 L70,319.6 L65,319.6 Z" fill="#ff0000"/>
<path d="M67.5,317.4 L70,321.8 L65,321.8 Z" fill="#ff0000"/>
<path d="M67.9,314.6 L70.5,318.9 L65.4,318.9 Z" fill="#ff0000"/>
<path d="M67.7,315.9 L70.3,320.3 L65.2,320.3 Z" fill="#ff0000"/>
<path d="M68,314.7 L70.5,319.1 L65.5,319.1 Z" fill="#ff0000"/>
<path d="M67.9,316.9 L70.4,321.3 L65.4,321.3 Z" fill="#ff0000"/>
<path d="M68.2,314.4 L70.8,318.8 L65.7,318.8 Z" fill="#ff0000"/>
<path d="M68.6,315.7 L71.1,320.1 L66,320.1 Z" fill="#ff0000"/>
<path d="M68.5,314.4 L71,318.7 L66,318.7 Z" fill="#ff0000"/>
<path d="M68.6,316.9 L71.1,321.3 L66,321.3 Z" fill="#ff0000"/>
<path d="M68.8,315.2 L71.3,319.5 L66.3,319.5 Z" fill="#ff0000"/>
<path d="M69.2,317 L71.7,321.4 L66.6,321.4 Z" fill="#ff0000"/>
<path d="M69.3,314 L71.8,318.4 L66.8,318.4 Z" fill="#ff0000"/>
<path d="M69.4,316.5 L71.9,320.9 L66.9,320.9 Z" fill="#ff0000"/>
<path d="M69.6,314.1 L72.1,318.5 L67.1,318.5 Z" fill="#ff0000"/>
<path d="M69.6,316.8 L72.1,321.2 L67.1,321.2 Z" fill="#ff0000"/>
<path d="M70.1,315.3 L72.6,319.6 L67.6,319.6 Z" fill="#ff0000"/>
<path d="M69.8,316.1 L72.4,320.4 L67.3,320.4 Z" fill="#ff0000"/>
<path d="M70.3,314.6 L72.8,319 L67.7,319 Z" fill="#ff0000"/>
<path d="M70.2,315.9 L72.7,320.2 L67.7,320.2 Z" fill="#ff0000"/>
<path d="M70.4,314.1 L73,318.5 L67.9,318.5 Z" fill="#ff0000"/>
<path d="M70.6,317.4 L73.1,321.8 L68,321.8 Z" fill="#ff0000"/>
<path d="M71.1,315.2 L73.6,319.6 L68.5,319.6 Z" fill="#ff0000"/>
<path d="M71.1,317.4 L73.6,321.8 L68.6,321.8 Z" fill="#ff0000"/>
<path d="M71.3,315.1 L73.8,319.5 L68.7,319.5 Z" fill="#ff0000"/>
<path d="M71,316.8 L73.6,321.2 L68.5,321.2 Z" fill="#ff0000"/>
<path d="M71.6,314.1 L74.1,318.4 L69.1,318.4 Z" fill="#ff0000"/>
<path d="M71.6,317.4 L74.1,321.7 L69,321.7 Z" fill="#ff0000"/>
<path d="M71.8,314.8 L74.4,319.1 L69.3,319.1 Z" fill="#ff0000"/>
<path d="M71.8,316.2 L74.3,320.5 L69.2,320.5 Z" fill="#ff0000"/>
<path d="M72.3,313.5 L74.9,317.9 L69.8,317.9 Z" fill="#ff0000"/>
<path d="M72,316.8 L74.6,321.2 L69.5,321.2 Z" fill="#ff0000"/>
<path d="M72.5,313.6 L75,318 L69.9,318 Z" fill="#ff0000"/>
<path d="M72.6,316.2 L75.1,320.6 L70,320.6 Z" fill="#ff0000"/>
<path d="M72.8,314.3 L75.4,318.7 L70.3,318.7 Z" fill="#ff0000"/>
<path d="M72.8,316.6 L75.3,321 L70.3,321 Z" fill="#ff0000"/>
<path d="M73.1,313.7 L75.6,318.1 L70.5,318.1 Z" fill="#ff0000"/>
<path d="M73,317.3 L75.5,321.6 L70.5,321.6 Z" fill="#ff0000"/>
<path d="M73.5,313.7 L76,318.1 L70.9,318.1 Z" fill="#ff0000"/>
<path d="M73.6,316 L76.1,320.3 L71,320.3 Z" fill="#ff0000"/>
<path d="M73.6,314.5 L76.1,318.9 L71.1,318.9 Z" fill="#ff0000"/>
<path d="M73.7,316.4 L76.2,320.8 L71.1,320.8 Z" fill="#ff0000"/>
<path d="M74.1,313.9 L76.6,318.3 L71.6,318.3 Z" fill="#ff0000"/>
<path d="M74.1,315.7 L76.6,320.1 L71.6,320.1 Z" fill="#ff0000"/>
<path d="M74.4,314.6 L76.9,319 L71.9,319 Z" fill="#ff0000"/>
<path d="M74.2,316.3 L76.7,320.7 L71.7,320.7 Z" fill="#ff0000"/>
<path d="M74.5,314.3 L77.1,318.7 L72,318.7 Z" fill="#ff0000"/>
<path d="M74.8,316.6 L77.4,320.9 L72.3,320.9 Z" fill="#ff0000"/>
<path d="M75.1,315 L77.6,319.4 L72.6,319.4 Z" fill="#ff0000"/>
<path d="M74.9,317.5 L77.4,321.8 L72.3,321.8 Z" fill="#ff0000"/>
<path d="M75.4,313.7 L77.9,318 L72.9,318 Z" fill="#ff0000"/>
<path d="M75.5,316.3 L78,320.6 L72.9,320.6 Z" fill="#ff0000"/>
<path d="M75.5,315.4 L78,319.8 L73,319.8 Z" fill="#ff0000"/>
<path d="M75.7,317 L78.2,321.4 L73.1,321.4 Z" fill="#ff0000"/>
<path d="M75.8,315 L78.3,319.4 L73.3,319.4 Z" fill="#ff0000"/>
<path d="M75.8,315.9 L78.3,320.3 L73.3,320.3 Z" fill="#ff0000"/>
<path d="M76.2,313.5 L78.8,317.9 L73.7,317.9 Z" fill="#ff0000"/>
<path d="M76.3,315.9 L78.8,320.3 L73.8,320.3 Z" fill="#ff0000"/>
<path d="M76.5,314.9 L79,319.3 L74,319.3 Z" fill="#ff0000"/>
<path d="M76.6,317.2 L79.1,321.6 L74,321.6 Z" fill="#ff0000"/>
<path d="M77,315.2 L79.5,319.6 L74.4,319.6 Z" fill="#ff0000"/>
<path d="M76.9,317.3 L79.5,321.7 L74.4,321.7 Z" fill="#ff0000"/>
<path d="M77.4,313.8 L79.9,318.2 L74.8,318.2 Z" fill="#ff0000"/>
<path d="M77.3,316.2 L79.9,320.5 L74.8,320.5 Z" fill="#ff0000"/>
<path d="M77.6,314.8 L80.2,319.2 L75.1,319.2 Z" fill="#ff0000"/>
<path d="M77.7,315.7 L80.2,320.1 L75.1,320.1 Z" fill="#ff0000"/>
<path d="M77.8,314.9 L80.3,319.3 L75.3,319.3 Z" fill="#ff0000"/>
<path d="M78,316.9 L80.6,321.3 L75.5,321.3 Z" fill="#ff0000"/>
<path d="M78,314.7 L80.5,319 L75.5,319 Z" fill="#ff0000"/>
<path d="M78,316.6 L80.5,320.9 L75.5,320.9 Z" fill="#ff0000"/>
<path d="M78.6,313.7 L81.1,318.1 L76.1,318.1 Z" fill="#ff0000"/>
<path d="M78.7,316.8 L81.2,321.2 L76.1,321.2 Z" fill="#ff0000"/>
<path d="M78.7,314 L81.2,318.4 L76.2,318.4 Z" fill="#ff0000"/>
<path d="M78.8,317.3 L81.3,321.7 L76.3,321.7 Z" fill="#ff0000"/>
<path d="M79.2,314 L81.7,318.4 L76.6,318.4 Z" fill="#ff0000"/>
<path d="M78.9,316 L81.5,320.4 L76.4,320.4 Z" fill="#ff0000"/>
<path d="M79.6,314.3 L82.1,318.7 L77,318.7 Z" fill="#ff0000"/>
<path d="M79.5,316.5 L82,320.9 L76.9,320.9 Z" fill="#ff0000"/>
<path d="M79.8,314.9 L82.4,319.3 L77.3,319.3 Z" fill="#ff0000"/>
<path d="M79.6,317.9 L82.1,322.2 L77.1,322.2 Z" fill="#ff0000"/>
<path d="M80.1,315.7 L82.6,320 L77.6,320 Z" fill="#ff0000"/>
<path d="M80.2,318.2 L82.7,322.6 L77.7,322.6 Z" fill="#ff0000"/>
<path d="M80.2,315.1 L82.7,319.5 L77.7,319.5 Z" fill="#ff0000"/>
<path d="M80.2,317.5 L82.8,321.8 L77.7,321.8 Z" fill="#ff0000"/>
<path d="M80.9,316.2 L83.4,320.6 L78.3,320.6 Z" fill="#ff0000"/>
<path d="M80.5,317 L83,321.4 L78,321.4 Z" fill="#ff0000"/>
<path d="M81.1,316.2 L83.7,320.6 L78.6,320.6 Z" fill="#ff0000"/>
<path d="M81,317.8 L83.5,322.2 L78.4,322.2 Z" fill="#ff0000"/>
<path d="M81.2,316.9 L83.7,321.3 L78.7,321.3 Z" fill="#ff0000"/>
<path d="M81.3,318.9 L83.8,323.3 L78.8,323.3 Z" fill="#ff0000"/>
<path d="M81.7,315.7 L84.2,320 L79.2,320 Z" fill="#ff0000"/>
<path d="M81.6,318 L84.1,322.3 L79.1,322.3 Z" fill="#ff0000"/>
<path d="M82.1,317 L84.7,321.4 L79.6,321.4 Z" fill="#ff0000"/>
<path d="M81.8,318.2 L84.3,322.6 L79.3,322.6 Z" fill="#ff0000"/>
<path d="M82.2,317.1 L84.8,321.5 L79.7,321.5 Z" fill="#ff0000"/>
<path d="M82.3,319 L84.8,323.3 L79.8,323.3 Z" fill="#ff0000"/>
<path d="M82.5,316.5 L85.1,320.9 L80,320.9 Z" fill="#ff0000"/>
<path d="M82.6,319.2 L85.2,323.6 L80.1,323.6 Z" fill="#ff0000"/>
<path d="M82.7,317.8 L85.3,322.1 L80.2,322.1 Z" fill="#ff0000"/>
<path d="M83.1,318.9 L85.6,323.3 L80.6,323.3 Z" fill="#ff0000"/>
<path d="M83.1,318.5 L85.6,322.9 L80.6,322.9 Z" fill="#ff0000"/>
<path d="M83.1,319.7 L85.7,324.1 L80.6,324.1 Z" fill="#ff0000"/>
<path d="M83.5,318 L86.1,322.4 L81,322.4 Z" fill="#ff0000"/>
<path d="M83.6,320.6 L86.1,324.9 L81,324.9 Z" fill="#ff0000"/>
<path d="M84,319.8 L86.6,324.2 L81.5,324.2 Z" fill="#ff0000"/>
<path d="M83.7,321 L86.2,325.4 L81.1,325.4 Z" fill="#ff0000"/>
<path d="M84.3,320 L86.8,324.3 L81.8,324.3 Z" fill="#ff0000"/>
<path d="M84.3,321.5 L86.8,325.8 L81.8,325.8 Z" fill="#ff0000"/>
<path d="M84.5,319.3 L87.1,323.7 L82,323.7 Z" fill="#ff0000"/>
<path d="M84.4,322.1 L86.9,326.5 L81.9,326.5 Z" fill="#ff0000"/>
<path d="M85,320.8 L87.5,325.1 L82.4,325.1 Z" fill="#ff0000"/>
<path d="M84.9,321.5 L87.4,325.9 L82.4,325.9 Z" fill="#ff0000"/>
<path d="M85.2,320.7 L87.8,325.1 L82.7,325.1 Z" fill="#ff0000"/>
<path d="M85.1,322.5 L87.7,326.9 L82.6,326.9 Z" fill="#ff0000"/>
<path d="M85.4,320.7 L87.9,325.1 L82.9,325.1 Z" fill="#ff0000"/>
<path d="M85.4,321.7 L87.9,326.1 L82.9,326.1 Z" fill="#ff0000"/>
<path d="M85.7,320.6 L88.2,325 L83.2,325 Z" fill="#ff0000"/>
<path d="M86,322.9 L88.5,327.3 L83.4,327.3 Z" fill="#ff0000"/>
<path d="M86,320.8 L88.6,325.1 L83.5,325.1 Z" fill="#ff0000"/>
<path d="M86,323 L88.5,327.4 L83.4,327.4 Z" fill="#ff0000"/>
<path d="M86.2,320.6 L88.8,325 L83.7,325 Z" fill="#ff0000"/>
<path d="M86.5,323.5 L89.1,327.9 L84,327.9 Z" fill="#ff0000"/>
<path d="M86.7,322.3 L89.2,326.7 L84.2,326.7 Z" fill="#ff0000"/>
<path d="M86.6,323.5 L89.2,327.9 L84.1,327.9 Z" fill="#ff0000"/>
<path d="M86.8,322.3 L89.4,326.7 L84.3,326.7 Z" fill="#ff0000"/>
<path d="M86.9,325.2 L89.5,329.6 L84.4,329.6 Z" fill="#ff0000"/>
<path d="M87.4,324.2 L89.9,328.6 L84.8,328.6 Z" fill="#ff0000"/>
<path d="M87.3,326.1 L89.8,330.5 L84.7,330.5 Z" fill="#ff0000"/>
<path d="M87.7,323 L90.2,327.4 L85.2,327.4 Z" fill="#ff0000"/>
<path d="M87.5,326 L90.1,330.4 L85,330.4 Z" fill="#ff0000"/>
<path d="M88.2,324.1 L90.7,328.5 L85.6,328.5 Z" fill="#ff0000"/>
<path d="M88.1,326.3 L90.6,330.7 L85.5,330.7 Z" fill="#ff0000"/>
<path d="M88.4,324.1 L91,328.5 L85.9,328.5 Z" fill="#ff0000"/>
<path d="M88.3,327.8 L90.8,332.2 L85.7,332.2 Z" fill="#ff0000"/>
<path d="M88.5,325.1 L91,329.4 L86,329.4 Z" fill="#ff0000"/>
<path d="M88.4,326.9 L90.9,331.2 L85.9,331.2 Z" fill="#ff0000"/>
<path d="M88.8,326.5 L91.4,330.9 L86.3,330.9 Z" fill="#ff0000"/>
<path d="M88.8,327.9 L91.3,332.3 L86.3,332.3 Z" fill="#ff0000"/>
<path d="M89.1,326.9 L91.6,331.3 L86.6,331.3 Z" fill="#ff0000"/>
<path d="M89.4,329 L91.9,333.4 L86.8,333.4 Z" fill="#ff0000"/>
<path d="M89.4,327.7 L92,332.1 L86.9,332.1 Z" fill="#ff0000"/>
<path d="M89.7,329.5 L92.3,333.8 L87.2,333.8 Z" fill="#ff0000"/>
<path d="M89.7,328.5 L92.2,332.8 L87.2,332.8 Z" fill="#ff0000"/>
<path d="M90,329.5 L92.5,333.9 L87.5,333.9 Z" fill="#ff0000"/>
<path d="M90,327.8 L92.6,332.2 L87.5,332.2 Z" fill="#ff0000"/>
<path d="M90.2,331.2 L92.7,335.5 L87.7,335.5 Z" fill="#ff0000"/>
<path d="M90.4,329.9 L92.9,334.3 L87.9,334.3 Z" fill="#ff0000"/>
<path d="M90.2,329.9 L92.8,334.3 L87.7,334.3 Z" fill="#ff0000"/>
<path d="M90.8,330.1 L93.3,334.5 L88.3,334.5 Z" fill="#ff0000"/>
<path d="M90.7,331.1 L93.2,335.5 L88.1,335.5 Z" fill="#ff0000"/>
<path d="M91,329.3 L93.5,333.7 L88.5,333.7 Z" fill="#ff0000"/>
<path d="M91,330.3 L93.5,334.6 L88.5,334.6 Z" fill="#ff0000"/>
<path d="M91.5,329.8 L94,334.2 L88.9,334.2 Z" fill="#ff0000"/>
<path d="M91.4,331.3 L93.9,335.6 L88.9,335.6 Z" fill="#ff0000"/>
<path d="M91.7,330.1 L94.2,334.5 L89.1,334.5 Z" fill="#ff0000"/>
<path d="M91.6,331.9 L94.1,336.2 L89,336.2 Z" fill="#ff0000"/>
<path d="M92.1,331 L94.7,335.4 L89.6,335.4 Z" fill="#ff0000"/>
<path d="M91.9,331.4 L94.5,335.8 L89.4,335.8 Z" fill="#ff0000"/>
<path d="M92.6,329.9 L95.1,334.3 L90,334.3 Z" fill="#ff0000"/>
<path d="M92.3,330.7 L94.8,335 L89.8,335 Z" fill="#ff0000"/>
<path d="M92.7,330.6 L95.2,335 L90.2,335 Z" fill="#ff0000"/>
<path d="M92.7,331.7 L95.2,336.1 L90.1,336.1 Z" fill="#ff0000"/>
<path d="M93.2,330.3 L95.7,334.6 L90.6,334.6 Z" fill="#ff0000"/>
<path d="M93.2,331.3 L95.7,335.7 L90.7,335.7 Z" fill="#ff0000"/>
<path d="M93.6,330.3 L96.1,334.7 L91.1,334.7 Z" fill="#ff0000"/>
<path d="M93.5,331.6 L96,335.9 L90.9,335.9 Z" fill="#ff0000"/>
<path d="M93.8,330.5 L96.3,334.9 L91.3,334.9 Z" fill="#ff0000"/>
<path d="M94,331.6 L96.5,336 L91.5,336 Z" fill="#ff0000"/>
<path d="M94.2,330.6 L96.7,335 L91.6,335 Z" fill="#ff0000"/>
<path d="M94.4,331.1 L97,335.5 L91.9,335.5 Z" fill="#ff0000"/>
<path d="M94.5,330.2 L97,334.6 L92,334.6 Z" fill="#ff0000"/>
<path d="M94.8,330.6 L97.3,334.9 L92.3,334.9 Z" fill="#ff0000"/>
<path d="M94.8,330.1 L97.3,334.5 L92.2,334.5 Z" fill="#ff0000"/>
<path d="M95,331.6 L97.6,336 L92.5,336 Z" fill="#ff0000"/>
<path d="M95.3,330.9 L97.8,335.3 L92.7,335.3 Z" fill="#ff0000"/>
<path d="M95.2,331.6 L97.7,335.9 L92.7,335.9 Z" fill="#ff0000"/>
<path d="M95.5,329.4 L98,333.7 L93,333.7 Z" fill="#ff0000"/>
<path d="M95.5,330.4 L98.1,334.8 L93,334.8 Z" fill="#ff0000"/>
<path d="M96,330.2 L98.6,334.6 L93.5,334.6 Z" fill="#ff0000"/>
<path d="M95.9,331.8 L98.4,336.2 L93.4,336.2 Z" fill="#ff0000"/>
<path d="M96.3,329.6 L98.9,333.9 L93.8,333.9 Z" fill="#ff0000"/>
<path d="M96.3,331.5 L98.8,335.9 L93.7,335.9 Z" fill="#ff0000"/>
<path d="M96.9,329.6 L99.4,333.9 L94.4,333.9 Z" fill="#ff0000"/>
<path d="M96.6,331.6 L99.1,335.9 L94,335.9 Z" fill="#ff0000"/>
<path d="M97,330.9 L99.5,335.2 L94.5,335.2 Z" fill="#ff0000"/>
<path d="M97.1,331.3 L99.6,335.7 L94.6,335.7 Z" fill="#ff0000"/>
<path d="M97.4,330.6 L99.9,334.9 L94.9,334.9 Z" fill="#ff0000"/>
<path d="M97.4,330.8 L100,335.2 L94.9,335.2 Z" fill="#ff0000"/>
<path d="M98,329.5 L100.5,333.8 L95.4,333.8 Z" fill="#ff0000"/>
<path d="M97.9,330.4 L100.4,334.8 L95.4,334.8 Z" fill="#ff0000"/>
<path d="M98.2,329.9 L100.7,334.3 L95.7,334.3 Z" fill="#ff0000"/>
<path d="M98.3,330.4 L100.8,334.7 L95.8,334.7 Z" fill="#ff0000"/>
<path d="M98.5,329.9 L101.1,334.3 L96,334.3 Z" fill="#ff0000"/>
<path d="M98.7,331.8 L101.2,336.1 L96.2,336.1 Z" fill="#ff0000"/>
<path d="M98.9,329.6 L101.5,334 L96.4,334 Z" fill="#ff0000"/>
<path d="M98.8,330.7 L101.3,335 L96.2,335 Z" fill="#ff0000"/>
<path d="M99.2,329.6 L101.7,334 L96.7,334 Z" fill="#ff0000"/>
<path d="M99.1,331.5 L101.6,335.8 L96.6,335.8 Z" fill="#ff0000"/>
<path d="M99.6,329.7 L102.2,334.1 L97.1,334.1 Z" fill="#ff0000"/>
<path d="M99.8,330.6 L102.3,335 L97.3,335 Z" fill="#ff0000"/>
<path d="M100,329.5 L102.5,333.8 L97.4,333.8 Z" fill="#ff0000"/>
<path d="M100.1,331.6 L102.6,336 L97.6,336 Z" fill="#ff0000"/>
<path d="M100.2,330.4 L102.7,334.8 L97.7,334.8 Z" fill="#ff0000"/>
<path d="M100.4,330.7 L103,335 L97.9,335 Z" fill="#ff0000"/>
<path d="M100.6,330 L103.1,334.4 L98.1,334.4 Z" fill="#ff0000"/>
<path d="M100.8,330.5 L103.3,334.8 L98.3,334.8 Z" fill="#ff0000"/>
<path d="M101.1,330.2 L103.6,334.5 L98.5,334.5 Z" fill="#ff0000"/>
<path d="M101,331.1 L103.5,335.5 L98.5,335.5 Z" fill="#ff0000"/>
<path d="M101.5,329.5 L104,333.9 L99,333.9 Z" fill="#ff0000"/>
<path d="M101.5,330.8 L104,335.1 L99,335.1 Z" fill="#ff0000"/>
<path d="M101.8,330.6 L104.4,334.9 L99.3,334.9 Z" fill="#ff0000"/>
<path d="M101.6,331.6 L104.1,335.9 L99.1,335.9 Z" fill="#ff0000"/>
<path d="M102.3,329.7 L104.8,334 L99.7,334 Z" fill="#ff0000"/>
<path d="M101.9,330.4 L104.4,334.7 L99.4,334.7 Z" fill="#ff0000"/>
<path d="M102.6,329.2 L105.1,333.6 L100.1,333.6 Z" fill="#ff0000"/>
<path d="M102.6,330.4 L105.1,334.8 L100.1,334.8 Z" fill="#ff0000"/>
<path d="M102.9,329.3 L105.4,333.7 L100.3,333.7 Z" fill="#ff0000"/>
<path d="M102.6,331.3 L105.2,335.6 L100.1,335.6 Z" fill="#ff0000"/>
<path d="M103,329.7 L105.5,334.1 L100.4,334.1 Z" fill="#ff0000"/>
<path d="M103.3,331.3 L105.8,335.7 L100.8,335.7 Z" fill="#ff0000"/>
<path d="M103.6,330.7 L106.2,335.1 L101.1,335.1 Z" fill="#ff0000"/>
<path d="M103.3,330.5 L105.8,334.9 L100.8,334.9 Z" fill="#ff0000"/>
<path d="M104,330.2 L106.5,334.6 L101.4,334.6 Z" fill="#ff0000"/>
<path d="M103.7,330.9 L106.2,335.3 L101.1,335.3 Z" fill="#ff0000"/>
<path d="M104.1,329.8 L106.6,334.2 L101.6,334.2 Z" fill="#ff0000"/>
<path d="M104,330.2 L106.6,334.5 L101.5,334.5 Z" fill="#ff0000"/>
<path d="M104.8,329.6 L107.3,334 L102.2,334 Z" fill="#ff0000"/>
<path d="M104.7,330.3 L107.2,334.7 L102.2,334.7 Z" fill="#ff0000"/>
<path d="M104.9,329.3 L107.4,333.7 L102.4,333.7 Z" fill="#ff0000"/>
<path d="M104.9,330.4 L107.4,334.8 L102.4,334.8 Z" fill="#ff0000"/>
<path d="M105.3,329.3 L107.9,333.7 L102.8,333.7 Z" fill="#ff0000"/>
<path d="M105.4,330.9 L107.9,335.3 L102.8,335.3 Z" fill="#ff0000"/>
<path d="M105.5,329.7 L108,334 L102.9,334 Z" fill="#ff0000"/>
<path d="M105.6,331.6 L108.2,335.9 L103.1,335.9 Z" fill="#ff0000"/>
<path d="M105.9,329.4 L108.5,333.8 L103.4,333.8 Z" fill="#ff0000"/>
<path d="M106.2,331.5 L108.7,335.9 L103.6,335.9 Z" fill="#ff0000"/>
<path d="M106.4,329.5 L109,333.9 L103.9,333.9 Z" fill="#ff0000"/>
<path d="M106.2,330.5 L108.7,334.9 L103.7,334.9 Z" fill="#ff0000"/>
<path d="M106.5,329.1 L109.1,333.5 L104,333.5 Z" fill="#ff0000"/>
<path d="M106.7,330.7 L109.2,335.1 L104.2,335.1 Z" fill="#ff0000"/>
<path d="M107.1,329.6 L109.6,334 L104.5,334 Z" fill="#ff0000"/>
<path d="M106.9,331.2 L109.4,335.5 L104.3,335.5 Z" fill="#ff0000"/>
<path d="M107.5,329.9 L110,334.3 L104.9,334.3 Z" fill="#ff0000"/>
<path d="M107.4,331.2 L110,335.5 L104.9,335.5 Z" fill="#ff0000"/>
<path d="M108,330.4 L110.5,334.8 L105.4,334.8 Z" fill="#ff0000"/>
<path d="M107.8,330.7 L110.4,335 L105.3,335 Z" fill="#ff0000"/>
<path d="M108,329.7 L110.6,334.1 L105.5,334.1 Z" fill="#ff0000"/>
<path d="M108.3,330.6 L110.8,335 L105.8,335 Z" fill="#ff0000"/>
<path d="M108.4,329.7 L111,334 L105.9,334 Z" fill="#ff0000"/>
<path d="M108.3,331.6 L110.9,336 L105.8,336 Z" fill="#ff0000"/>
<path d="M108.6,330 L111.2,334.4 L106.1,334.4 Z" fill="#ff0000"/>
<path d="M109,330.4 L111.5,334.8 L106.5,334.8 Z" fill="#ff0000"/>
<path d="M109.2,329.6 L111.8,334 L106.7,334 Z" fill="#ff0000"/>
<path d="M109.1,330.3 L111.6,334.7 L106.5,334.7 Z" fill="#ff0000"/>
<path d="M109.4,330.3 L111.9,334.7 L106.9,334.7 Z" fill="#ff0000"/>
<path d="M109.7,331.4 L112.2,335.8 L107.1,335.8 Z" fill="#ff0000"/>
<path d="M109.7,330.1 L112.2,334.5 L107.2,334.5 Z" fill="#ff0000"/>
<path d="M109.8,331 L112.4,335.4 L107.3,335.4 Z" fill="#ff0000"/>
<path d="M110.3,329.5 L112.8,333.9 L107.7,333.9 Z" fill="#ff0000"/>
<path d="M110.4,330 L113,334.3 L107.9,334.3 Z" fill="#ff0000"/>
<path d="M110.7,330.3 L113.2,334.7 L108.2,334.7 Z" fill="#ff0000"/>
<path d="M110.6,330.9 L113.1,335.3 L108.1,335.3 Z" fill="#ff0000"/>
<path d="M111.2,329.3 L113.7,333.7 L108.6,333.7 Z" fill="#ff0000"/>
<path d="M111,331.1 L113.5,335.5 L108.5,335.5 Z" fill="#ff0000"/>
<path d="M111.3,330.1 L113.8,334.5 L108.7,334.5 Z" fill="#ff0000"/>
<path d="M111.3,330.8 L113.8,335.2 L108.7,335.2 Z" fill="#ff0000"/>
<path d="M111.7,330 L114.2,334.4 L109.2,334.4 Z" fill="#ff0000"/>
<path d="M111.6,330.9 L114.1,335.3 L109.1,335.3 Z" fill="#ff0000"/>
<path d="M112,329.3 L114.6,333.7 L109.5,333.7 Z" fill="#ff0000"/>
<path d="M112.1,330.4 L114.6,334.7 L109.5,334.7 Z" fill="#ff0000"/>
<path d="M112.5,329.7 L115.1,334.1 L110,334.1 Z" fill="#ff0000"/>
<path d="M112.5,330.8 L115,335.1 L109.9,335.1 Z" fill="#ff0000"/>
<path d="M112.7,329.3 L115.3,333.6 L110.2,333.6 Z" fill="#ff0000"/>
<path d="M112.6,331.4 L115.1,335.8 L110.1,335.8 Z" fill="#ff0000"/>
<path d="M113.1,329.7 L115.6,334.1 L110.6,334.1 Z" fill="#ff0000"/>
<path d="M113.1,331.2 L115.6,335.6 L110.6,335.6 Z" fill="#ff0000"/>
<path d="M113.3,329.2 L115.9,333.5 L110.8,333.5 Z" fill="#ff0000"/>
<path d="M113.6,330.6 L116.1,335 L111,335 Z" fill="#ff0000"/>
<path d="M113.9,330.2 L116.4,334.6 L111.3,334.6 Z" fill="#ff0000"/>
<path d="M114,331.3 L116.5,335.6 L111.4,335.6 Z" fill="#ff0000"/>
<path d="M114,329.5 L116.5,333.9 L111.4,333.9 Z" fill="#ff0000"/>
<path d="M114.3,331.2 L116.8,335.6 L111.8,335.6 Z" fill="#ff0000"/>
<path d="M114.4,329.1 L116.9,333.5 L111.8,333.5 Z" fill="#ff0000"/>
<path d="M114.4,330 L116.9,334.4 L111.9,334.4 Z" fill="#ff0000"/>
<path d="M114.8,330.2 L117.3,334.5 L112.3,334.5 Z" fill="#ff0000"/>
<path d="M114.9,330.6 L117.4,335 L112.3,335 Z" fill="#ff0000"/>
<path d="M115.1,329.5 L117.6,333.9 L112.5,333.9 Z" fill="#ff0000"/>
<path d="M115.4,331 L118,335.3 L112.9,335.3 Z" fill="#ff0000"/>
<path d="M115.6,329.6 L118.1,334 L113,334 Z" fill="#ff0000"/>
<path d="M115.7,331.1 L118.2,335.4 L113.2,335.4 Z" fill="#ff0000"/>
<path d="M115.8,329.9 L118.3,334.3 L113.3,334.3 Z" fill="#ff0000"/>
<path d="M115.9,330.7 L118.4,335 L113.4,335 Z" fill="#ff0000"/>
<path d="M116.2,329.4 L118.7,333.8 L113.7,333.8 Z" fill="#ff0000"/>
<path d="M116.2,330.4 L118.8,334.8 L113.7,334.8 Z" fill="#ff0000"/>
<path d="M116.5,329.1 L119,333.5 L113.9,333.5 Z" fill="#ff0000"/>
<path d="M116.7,329.9 L119.2,334.3 L114.1,334.3 Z" fill="#ff0000"/>
<path d="M116.9,330 L119.4,334.3 L114.3,334.3 Z" fill="#ff0000"/>
<path d="M116.9,330.3 L119.4,334.7 L114.4,334.7 Z" fill="#ff0000"/>
<path d="M117.3,330.1 L119.8,334.5 L114.7,334.5 Z" fill="#ff0000"/>
<path d="M117.2,330.8 L119.7,335.2 L114.7,335.2 Z" fill="#ff0000"/>
<path d="M117.9,329.1 L120.4,333.5 L115.3,333.5 Z" fill="#ff0000"/>
<path d="M117.7,331.1 L120.2,335.4 L115.2,335.4 Z" fill="#ff0000"/>
<path d="M118.1,329.4 L120.6,333.8 L115.6,333.8 Z" fill="#ff0000"/>
<path d="M117.9,330.5 L120.4,334.9 L115.4,334.9 Z" fill="#ff0000"/>
<path d="M118.4,329.9 L120.9,334.3 L115.8,334.3 Z" fill="#ff0000"/>
<path d="M118.3,330.4 L120.9,334.8 L115.8,334.8 Z" fill="#ff0000"/>
<path d="M118.8,330.1 L121.4,334.4 L116.3,334.4 Z" fill="#ff0000"/>
<path d="M118.7,330.4 L121.3,334.8 L116.2,334.8 Z" fill="#ff0000"/>
<path d="M119.2,330.2 L121.7,334.6 L116.6,334.6 Z" fill="#ff0000"/>
<path d="M119,331.3 L121.5,335.7 L116.5,335.7 Z" fill="#ff0000"/>
<path d="M119.6,329.3 L122.1,333.7 L117,333.7 Z" fill="#ff0000"/>
<path d="M119.6,330.3 L122.1,334.6 L117,334.6 Z" fill="#ff0000"/>
<path d="M119.7,330 L122.2,334.3 L117.1,334.3 Z" fill="#ff0000"/>
<path d="M119.8,330.6 L122.3,335 L117.3,335 Z" fill="#ff0000"/>
<path d="M120.2,330.2 L122.7,334.5 L117.7,334.5 Z" fill="#ff0000"/>
<path d="M120.3,329.8 L122.8,334.1 L117.8,334.1 Z" fill="#ff0000"/>
<path d="M120.6,329.5 L123.1,333.9 L118.1,333.9 Z" fill="#ff0000"/>
<path d="M120.5,331.1 L123.1,335.5 L118,335.5 Z" fill="#ff0000"/>
<path d="M120.9,329.5 L123.4,333.9 L118.3,333.9 Z" fill="#ff0000"/>
<path d="M121.1,330.5 L123.6,334.8 L118.5,334.8 Z" fill="#ff0000"/>
<path d="M121.3,329.6 L123.8,334 L118.7,334 Z" fill="#ff0000"/>
<path d="M121.4,330.9 L123.9,335.2 L118.9,335.2 Z" fill="#ff0000"/>
<path d="M121.7,329.4 L124.3,333.8 L119.2,333.8 Z" fill="#ff0000"/>
<path d="M121.4,330.9 L124,335.3 L118.9,335.3 Z" fill="#ff0000"/>
<path d="M122,330.1 L124.5,334.4 L119.5,334.4 Z" fill="#ff0000"/>
<path d="M122.1,330 L124.6,334.4 L119.6,334.4 Z" fill="#ff0000"/>
<path d="M122.2,329 L124.8,333.3 L119.7,333.3 Z" fill="#ff0000"/>
<path d="M122.5,330 L125,334.4 L119.9,334.4 Z" fill="#ff0000"/>
<path d="M122.5,330.1 L125.1,334.4 L120,334.4 Z" fill="#ff0000"/>
<path d="M122.7,330 L125.2,334.3 L120.2,334.3 Z" fill="#ff0000"/>
<path d="M123.1,330 L125.6,334.4 L120.6,334.4 Z" fill="#ff0000"/>
<path d="M123,330 L125.6,334.3 L120.5,334.3 Z" fill="#ff0000"/>
<path d="M123.5,329.6 L126,333.9 L120.9,333.9 Z" fill="#ff0000"/>
<path d="M123.4,331.5 L126,335.9 L120.9,335.9 Z" fill="#ff0000"/>
<path d="M123.9,330.3 L126.4,334.7 L121.4,334.7 Z" fill="#ff0000"/>
<path d="M123.6,330.5 L126.1,334.8 L121.1,334.8 Z" fill="#ff0000"/>
<path d="M124.1,329 L126.6,333.3 L121.6,333.3 Z" fill="#ff0000"/>
<path d="M124.3,330.4 L126.8,334.8 L121.8,334.8 Z" fill="#ff0000"/>
<path d="M124.4,329.5 L126.9,333.8 L121.8,333.8 Z" fill="#ff0000"/>
<path d="M124.4,331.3 L126.9,335.7 L121.8,335.7 Z" fill="#ff0000"/>
<path d="M124.8,329.8 L127.4,334.2 L122.3,334.2 Z" fill="#ff0000"/>
<path d="M124.8,330.1 L127.3,334.4 L122.3,334.4 Z" fill="#ff0000"/>
<path d="M125.1,330.4 L127.6,334.8 L122.6,334.8 Z" fill="#ff0000"/>
<path d="M125.3,331.4 L127.8,335.7 L122.8,335.7 Z" fill="#ff0000"/>
<path d="M125.4,329.4 L128,333.7 L122.9,333.7 Z" fill="#ff0000"/>
<path d="M125.4,330.9 L127.9,335.3 L122.8,335.3 Z" fill="#ff0000"/>
<path d="M125.8,329.8 L128.4,334.2 L123.3,334.2 Z" fill="#ff0000"/>
<path d="M125.9,331 L128.4,335.4 L123.4,335.4 Z" fill="#ff0000"/>
<path d="M126.2,330.4 L128.7,334.7 L123.7,334.7 Z" fill="#ff0000"/>
<path d="M126.1,331.5 L128.7,335.9 L123.6,335.9 Z" fill="#ff0000"/>
<path d="M126.6,329.2 L129.2,333.5 L124.1,333.5 Z" fill="#ff0000"/>
<path d="M126.5,330.9 L129.1,335.3 L124,335.3 Z" fill="#ff0000"/>
<path d="M126.9,330 L129.5,334.4 L124.4,334.4 Z" fill="#ff0000"/>
<path d="M126.9,330.5 L129.4,334.9 L124.4,334.9 Z" fill="#ff0000"/>
<path d="M127.4,329.6 L130,334 L124.9,334 Z" fill="#ff0000"/>
<path d="M127.4,331.4 L129.9,335.8 L124.9,335.8 Z" fill="#ff0000"/>
<path d="M127.7,329.9 L130.2,334.2 L125.2,334.2 Z" fill="#ff0000"/>
<path d="M127.8,330.9 L130.4,335.2 L125.3,335.2 Z" fill="#ff0000"/>
<path d="M128.2,329.3 L130.7,333.6 L125.6,333.6 Z" fill="#ff0000"/>
<path d="M128,331.2 L130.5,335.6 L125.5,335.6 Z" fill="#ff0000"/>
<path d="M128.2,330.6 L130.7,334.9 L125.7,334.9 Z" fill="#ff0000"/>
<path d="M128.2,331.1 L130.7,335.5 L125.7,335.5 Z" fill="#ff0000"/>
<path d="M128.6,330.7 L131.1,335.1 L126.1,335.1 Z" fill="#ff0000"/>
<path d="M128.8,331.5 L131.3,335.9 L126.2,335.9 Z" fill="#ff0000"/>
<path d="M129.1,330.3 L131.6,334.7 L126.6,334.7 Z" fill="#ff0000"/>
<path d="M129.2,330.7 L131.7,335.1 L126.6,335.1 Z" fill="#ff0000"/>
<path d="M129.3,330.6 L131.9,335 L126.8,335 Z" fill="#ff0000"/>
<path d="M129.3,331.7 L131.8,336.1 L126.8,336.1 Z" fill="#ff0000"/>
<path d="M129.7,329.4 L132.2,333.8 L127.2,333.8 Z" fill="#ff0000"/>
<path d="M129.6,331.5 L132.2,335.9 L127.1,335.9 Z" fill="#ff0000"/>
<path d="M130.3,330 L132.9,334.3 L127.8,334.3 Z" fill="#ff0000"/>
<path d="M130.2,330.7 L132.7,335.1 L127.7,335.1 Z" fill="#ff0000"/>
<path d="M130.7,330.4 L133.2,334.8 L128.1,334.8 Z" fill="#ff0000"/>
<path d="M130.4,330.4 L132.9,334.8 L127.8,334.8 Z" fill="#ff0000"/>
<path d="M130.9,329.4 L133.5,333.8 L128.4,333.8 Z" fill="#ff0000"/>
<path d="M131,330.8 L133.5,335.2 L128.5,335.2 Z" fill="#ff0000"/>
<path d="M131.1,330.3 L133.6,334.7 L128.6,334.7 Z" fill="#ff0000"/>
<path d="M131.1,331.3 L133.7,335.6 L128.6,335.6 Z" fill="#ff0000"/>
<path d="M131.4,330.8 L134,335.2 L128.9,335.2 Z" fill="#ff0000"/>
<path d="M131.5,331.7 L134,336.1 L129,336.1 Z" fill="#ff0000"/>
<path d="M131.8,330.7 L134.3,335 L129.3,335 Z" fill="#ff0000"/>
<path d="M132.1,331 L134.7,335.4 L129.6,335.4 Z" fill="#ff0000"/>
<path d="M132.1,330 L134.6,334.4 L129.6,334.4 Z" fill="#ff0000"/>
<path d="M132.3,330.8 L134.9,335.1 L129.8,335.1 Z" fill="#ff0000"/>
<path d="M132.7,329.6 L135.2,334 L130.1,334 Z" fill="#ff0000"/>
<path d="M132.6,331.6 L135.2,336 L130.1,336 Z" fill="#ff0000"/>
<path d="M133,330.5 L135.5,334.9 L130.4,334.9 Z" fill="#ff0000"/>
<path d="M132.8,331.8 L135.4,336.2 L130.3,336.2 Z" fill="#ff0000"/>
<path d="M133.2,331 L135.7,335.3 L130.7,335.3 Z" fill="#ff0000"/>
<path d="M133.6,332 L136.1,336.3 L131,336.3 Z" fill="#ff0000"/>
<path d="M133.7,330 L136.3,334.3 L131.2,334.3 Z" fill="#ff0000"/>
<path d="M133.7,331.7 L136.2,336.1 L131.1,336.1 Z" fill="#ff0000"/>
<path d="M134.1,331 L136.6,335.4 L131.5,335.4 Z" fill="#ff0000"/>
<path d="M133.9,331.3 L136.4,335.7 L131.4,335.7 Z" fill="#ff0000"/>
<path d="M134.6,330.5 L137.1,334.9 L132,334.9 Z" fill="#ff0000"/>
<path d="M134.4,330.7 L137,335 L131.9,335 Z" fill="#ff0000"/>
<path d="M134.6,330 L137.2,334.4 L132.1,334.4 Z" fill="#ff0000"/>
<path d="M134.9,331.9 L137.5,336.3 L132.4,336.3 Z" fill="#ff0000"/>
<path d="M135,331.1 L137.6,335.4 L132.5,335.4 Z" fill="#ff0000"/>
<path d="M134.9,331.5 L137.5,335.9 L132.4,335.9 Z" fill="#ff0000"/>
<path d="M135.7,330.1 L138.2,334.5 L133.1,334.5 Z" fill="#ff0000"/>
<path d="M135.7,331.6 L138.2,336 L133.1,336 Z" fill="#ff0000"/>
<path d="M135.7,330.2 L138.2,334.5 L133.1,334.5 Z" fill="#ff0000"/>
<path d="M135.8,331 L138.4,335.4 L133.3,335.4 Z" fill="#ff0000"/>
<path d="M136.3,329.9 L138.8,334.3 L133.8,334.3 Z" fill="#ff0000"/>
<path d="M136.3,331.1 L138.8,335.5 L133.8,335.5 Z" fill="#ff0000"/>
<path d="M136.4,330.6 L138.9,334.9 L133.9,334.9 Z" fill="#ff0000"/>
<path d="M136.4,331.5 L138.9,335.9 L133.9,335.9 Z" fill="#ff0000"/>
<path d="M137,330.6 L139.6,335 L134.5,335 Z" fill="#ff0000"/>
<path d="M136.9,330.7 L139.4,335.1 L134.4,335.1 Z" fill="#ff0000"/>
<path d="M137.3,329.9 L139.8,334.2 L134.7,334.2 Z" fill="#ff0000"/>
<path d="M137.3,330.9 L139.9,335.3 L134.8,335.3 Z" fill="#ff0000"/>
<path d="M137.7,330.3 L140.2,334.7 L135.1,334.7 Z" fill="#ff0000"/>
<path d="M137.6,331.8 L140.1,336.2 L135,336.2 Z" fill="#ff0000"/>
<path d="M137.8,330 L140.4,334.4 L135.3,334.4 Z" fill="#ff0000"/>
<path d="M138.2,331.3 L140.7,335.6 L135.6,335.6 Z" fill="#ff0000"/>
<path d="M138.5,331.2 L141,335.5 L135.9,335.5 Z" fill="#ff0000"/>
<path d="M138.3,331 L140.9,335.4 L135.8,335.4 Z" fill="#ff0000"/>
<path d="M138.5,331.2 L141.1,335.6 L136,335.6 Z" fill="#ff0000"/>
<path d="M138.5,331.6 L141.1,335.9 L136,335.9 Z" fill="#ff0000"/>
<path d="M139.1,330 L141.6,334.4 L136.5,334.4 Z" fill="#ff0000"/>
<path d="M139,331.1 L141.6,335.4 L136.5,335.4 Z" fill="#ff0000"/>
<path d="M139.4,330.6 L141.9,335 L136.9,335 Z" fill="#ff0000"/>
<path d="M139.3,331.1 L141.9,335.5 L136.8,335.5 Z" fill="#ff0000"/>
<path d="M139.7,330.2 L142.2,334.5 L137.2,334.5 Z" fill="#ff0000"/>
<path d="M139.6,331.2 L142.1,335.6 L137.1,335.6 Z" fill="#ff0000"/>
<path d="M140.3,330.7 L142.8,335 L137.7,335 Z" fill="#ff0000"/>
<path d="M140.3,330.9 L142.8,335.3 L137.7,335.3 Z" fill="#ff0000"/>
<path d="M140.6,330.7 L143.2,335 L138.1,335 Z" fill="#ff0000"/>
<path d="M140.6,331.8 L143.1,336.2 L138.1,336.2 Z" fill="#ff0000"/>
<path d="M140.9,330.3 L143.4,334.6 L138.4,334.6 Z" fill="#ff0000"/>
<path d="M140.9,331.1 L143.5,335.5 L138.4,335.5 Z" fill="#ff0000"/>
<path d="M141.1,330 L143.6,334.3 L138.6,334.3 Z" fill="#ff0000"/>
<path d="M141.1,331.8 L143.7,336.1 L138.6,336.1 Z" fill="#ff0000"/>
<path d="M141.4,331.4 L144,335.7 L138.9,335.7 Z" fill="#ff0000"/>
<path d="M141.4,331.9 L143.9,336.2 L138.8,336.2 Z" fill="#ff0000"/>
<path d="M141.8,330.9 L144.3,335.3 L139.3,335.3 Z" fill="#ff0000"/>
<path d="M142,332.1 L144.5,336.5 L139.5,336.5 Z" fill="#ff0000"/>
<path d="M142.1,330.4 L144.6,334.7 L139.5,334.7 Z" fill="#ff0000"/>
<path d="M142.3,332.6 L144.8,336.9 L139.8,336.9 Z" fill="#ff0000"/>
<path d="M142.4,331 L144.9,335.4 L139.9,335.4 Z" fill="#ff0000"/>
<path d="M142.7,332.3 L145.2,336.7 L140.1,336.7 Z" fill="#ff0000"/>
<path d="M142.9,331.3 L145.4,335.7 L140.4,335.7 Z" fill="#ff0000"/>
<path d="M142.9,332.5 L145.5,336.9 L140.4,336.9 Z" fill="#ff0000"/>
<path d="M143.1,331.6 L145.6,335.9 L140.6,335.9 Z" fill="#ff0000"/>
<path d="M143.3,331.7 L145.8,336.1 L140.7,336.1 Z" fill="#ff0000"/>
<path d="M143.5,330.5 L146,334.8 L141,334.8 Z" fill="#ff0000"/>
<path d="M143.8,332.2 L146.3,336.5 L141.2,336.5 Z" fill="#ff0000"/>
<path d="M143.9,330.6 L146.4,335 L141.4,335 Z" fill="#ff0000"/>
<path d="M143.9,331.4 L146.4,335.8 L141.3,335.8 Z" fill="#ff0000"/>
<path d="M144.3,330.6 L146.8,335 L141.7,335 Z" fill="#ff0000"/>
<path d="M144.6,332.7 L147.1,337.1 L142,337.1 Z" fill="#ff0000"/>
<path d="M144.8,330.9 L147.4,335.3 L142.3,335.3 Z" fill="#ff0000"/>
<path d="M144.7,332.4 L147.3,336.7 L142.2,336.7 Z" fill="#ff0000"/>
<path d="M145.3,331.4 L147.8,335.7 L142.7,335.7 Z" fill="#ff0000"/>
<path d="M145.1,331.5 L147.7,335.8 L142.6,335.8 Z" fill="#ff0000"/>
<path d="M145.5,331.5 L148,335.9 L143,335.9 Z" fill="#ff0000"/>
<path d="M145.6,331.3 L148.1,335.7 L143,335.7 Z" fill="#ff0000"/>
<path d="M145.9,330.7 L148.4,335.1 L143.4,335.1 Z" fill="#ff0000"/>
<path d="M145.7,332.7 L148.2,337.1 L143.1,337.1 Z" fill="#ff0000"/>
<path d="M146.2,331.4 L148.8,335.8 L143.7,335.8 Z" fill="#ff0000"/>
<path d="M146,332.5 L148.5,336.9 L143.5,336.9 Z" fill="#ff0000"/>
<path d="M146.7,331.7 L149.2,336 L144.2,336 Z" fill="#ff0000"/>
<path d="M146.6,332.6 L149.1,336.9 L144.1,336.9 Z" fill="#ff0000"/>
<path d="M147,331.2 L149.5,335.6 L144.5,335.6 Z" fill="#ff0000"/>
<path d="M146.8,332.6 L149.4,336.9 L144.3,336.9 Z" fill="#ff0000"/>
<path d="M147.3,331.7 L149.9,336 L144.8,336 Z" fill="#ff0000"/>
<path d="M147.1,332.8 L149.7,337.2 L144.6,337.2 Z" fill="#ff0000"/>
<path d="M147.6,331.8 L150.1,336.2 L145.1,336.2 Z" fill="#ff0000"/>
<path d="M147.4,332.8 L150,337.2 L144.9,337.2 Z" fill="#ff0000"/>
<path d="M148,330.7 L150.6,335.1 L145.5,335.1 Z" fill="#ff0000"/>
<path d="M148.1,331.7 L150.6,336.1 L145.5,336.1 Z" fill="#ff0000"/>
<path d="M148.2,331.1 L150.7,335.4 L145.6,335.4 Z" fill="#ff0000"/>
<path d="M148.2,332.1 L150.7,336.5 L145.7,336.5 Z" fill="#ff0000"/>
<path d="M148.8,331.4 L151.3,335.8 L146.3,335.8 Z" fill="#ff0000"/>
<path d="M148.7,332 L151.3,336.3 L146.2,336.3 Z" fill="#ff0000"/>
<path d="M149.1,331.6 L151.6,336 L146.6,336 Z" fill="#ff0000"/>
<path d="M149.1,332.9 L151.6,337.3 L146.5,337.3 Z" fill="#ff0000"/>
<path d="M149.5,331.1 L152,335.4 L147,335.4 Z" fill="#ff0000"/>
<path d="M149.2,332.5 L151.7,336.8 L146.7,336.8 Z" fill="#ff0000"/>
<path d="M149.8,331 L152.4,335.3 L147.3,335.3 Z" fill="#ff0000"/>
<path d="M149.7,332.8 L152.3,337.1 L147.2,337.1 Z" fill="#ff0000"/>
<path d="M150.2,330.5 L152.7,334.8 L147.7,334.8 Z" fill="#ff0000"/>
<path d="M150.1,331.5 L152.6,335.9 L147.5,335.9 Z" fill="#ff0000"/>
<path d="M150.3,331.8 L152.8,336.2 L147.7,336.2 Z" fill="#ff0000"/>
<path d="M150.4,332.5 L152.9,336.8 L147.9,336.8 Z" fill="#ff0000"/>
<path d="M150.8,331.1 L153.3,335.4 L148.2,335.4 Z" fill="#ff0000"/>
<path d="M150.7,332.1 L153.2,336.5 L148.1,336.5 Z" fill="#ff0000"/>
<path d="M151.3,331.5 L153.8,335.9 L148.7,335.9 Z" fill="#ff0000"/>
<path d="M151,331.7 L153.6,336.1 L148.5,336.1 Z" fill="#ff0000"/>
<path d="M151.4,331.7 L153.9,336.1 L148.9,336.1 Z" fill="#ff0000"/>
<path d="M151.5,332.6 L154,337 L148.9,337 Z" fill="#ff0000"/>
<path d="M152,330.8 L154.5,335.2 L149.4,335.2 Z" fill="#ff0000"/>
<path d="M151.9,331.7 L154.4,336.1 L149.4,336.1 Z" fill="#ff0000"/>
<path d="M152.3,330.9 L154.9,335.3 L149.8,335.3 Z" fill="#ff0000"/>
<path d="M152.1,333.2 L154.6,337.5 L149.6,337.5 Z" fill="#ff0000"/>
<path d="M152.5,331 L155,335.4 L150,335.4 Z" fill="#ff0000"/>
<path d="M152.7,332.6 L155.2,337 L150.2,337 Z" fill="#ff0000"/>
<path d="M153.1,331.3 L155.6,335.7 L150.5,335.7 Z" fill="#ff0000"/>
<path d="M152.9,333.2 L155.4,337.6 L150.4,337.6 Z" fill="#ff0000"/>
<path d="M153.3,332.3 L155.8,336.7 L150.7,336.7 Z" fill="#ff0000"/>
<path d="M153.1,333.1 L155.7,337.4 L150.6,337.4 Z" fill="#ff0000"/>
<path d="M153.5,331.6 L156,336 L151,336 Z" fill="#ff0000"/>
<path d="M153.4,332 L155.9,336.4 L150.9,336.4 Z" fill="#ff0000"/>
<path d="M154.2,331.5 L156.7,335.9 L151.6,335.9 Z" fill="#ff0000"/>
<path d="M154.1,332.2 L156.6,336.6 L151.6,336.6 Z" fill="#ff0000"/>
<path d="M154.3,331 L156.8,335.4 L151.7,335.4 Z" fill="#ff0000"/>
<path d="M154.4,333.2 L156.9,337.6 L151.8,337.6 Z" fill="#ff0000"/>
<path d="M154.7,331.5 L157.2,335.8 L152.2,335.8 Z" fill="#ff0000"/>
<path d="M154.9,333.3 L157.4,337.7 L152.3,337.7 Z" fill="#ff0000"/>
<path d="M155.1,331 L157.6,335.4 L152.6,335.4 Z" fill="#ff0000"/>
<path d="M155.1,332.6 L157.6,337 L152.6,337 Z" fill="#ff0000"/>
<path d="M155.6,331.5 L158.1,335.9 L153,335.9 Z" fill="#ff0000"/>
<path d="M155.5,332.9 L158,337.3 L152.9,337.3 Z" fill="#ff0000"/>
<path d="M155.7,331.8 L158.2,336.1 L153.2,336.1 Z" fill="#ff0000"/>
<path d="M155.8,333.4 L158.4,337.8 L153.3,337.8 Z" fill="#ff0000"/>
<path d="M156.1,331.6 L158.6,335.9 L153.6,335.9 Z" fill="#ff0000"/>
<path d="M156.3,332.1 L158.8,336.4 L153.8,336.4 Z" fill="#ff0000"/>
<path d="M156.6,332.1 L159.1,336.5 L154.1,336.5 Z" fill="#ff0000"/>
<path d="M156.5,332.7 L159,337.1 L154,337.1 Z" fill="#ff0000"/>
<path d="M156.9,332.5 L159.4,336.8 L154.4,336.8 Z" fill="#ff0000"/>
<path d="M156.9,333.2 L159.4,337.6 L154.4,337.6 Z" fill="#ff0000"/>
<path d="M157,331.6 L159.5,335.9 L154.5,335.9 Z" fill="#ff0000"/>
<path d="M157,333.6 L159.6,338 L154.5,338 Z" fill="#ff0000"/>
<path d="M157.7,331.3 L160.2,335.7 L155.2,335.7 Z" fill="#ff0000"/>
<path d="M157.6,333 L160.1,337.4 L155,337.4 Z" fill="#ff0000"/>
<path d="M157.7,331.7 L160.2,336.1 L155.2,336.1 Z" fill="#ff0000"/>
<path d="M158,333.1 L160.5,337.5 L155.5,337.5 Z" fill="#ff0000"/>
<path d="M158.2,332.4 L160.7,336.7 L155.6,336.7 Z" fill="#ff0000"/>
<path d="M158.2,333 L160.7,337.4 L155.6,337.4 Z" fill="#ff0000"/>
<path d="M158.6,332.7 L161.1,337.1 L156,337.1 Z" fill="#ff0000"/>
<path d="M158.7,333.5 L161.2,337.8 L156.1,337.8 Z" fill="#ff0000"/>
<path d="M159,331.8 L161.6,336.2 L156.5,336.2 Z" fill="#ff0000"/>
<path d="M159.1,333.3 L161.7,337.7 L156.6,337.7 Z" fill="#ff0000"/>
<path d="M159.4,331.7 L161.9,336 L156.9,336 Z" fill="#ff0000"/>
<path d="M159.2,333.2 L161.7,337.5 L156.6,337.5 Z" fill="#ff0000"/>
<path d="M159.8,332.5 L162.3,336.9 L157.3,336.9 Z" fill="#ff0000"/>
<path d="M159.6,332.5 L162.1,336.9 L157.1,336.9 Z" fill="#ff0000"/>
<path d="M160,332.7 L162.6,337.1 L157.5,337.1 Z" fill="#ff0000"/>
<path d="M159.9,333.5 L162.4,337.8 L157.4,337.8 Z" fill="#ff0000"/>
<path d="M160.2,331.8 L162.8,336.2 L157.7,336.2 Z" fill="#ff0000"/>
<path d="M160.2,332.8 L162.7,337.2 L157.7,337.2 Z" fill="#ff0000"/>
<path d="M160.7,332.9 L163.2,337.3 L158.2,337.3 Z" fill="#ff0000"/>
<path d="M160.9,332.7 L163.4,337 L158.4,337 Z" fill="#ff0000"/>
<path d="M161,332.9 L163.5,337.3 L158.5,337.3 Z" fill="#ff0000"/>
<path d="M161,332.9 L163.5,337.3 L158.4,337.3 Z" fill="#ff0000"/>
<path d="M161.4,331.6 L163.9,336 L158.9,336 Z" fill="#ff0000"/>
<path d="M161.3,333 L163.9,337.4 L158.8,337.4 Z" fill="#ff0000"/>
<path d="M161.7,333 L164.3,337.4 L159.2,337.4 Z" fill="#ff0000"/>
<path d="M161.7,332.8 L164.2,337.1 L159.2,337.1 Z" fill="#ff0000"/>
<path d="M162.3,332.2 L164.8,336.6 L159.8,336.6 Z" fill="#ff0000"/>
<path d="M162.3,333.5 L164.8,337.9 L159.8,337.9 Z" fill="#ff0000"/>
<path d="M162.6,332 L165.1,336.4 L160.1,336.4 Z" fill="#ff0000"/>
<path d="M162.4,333.7 L164.9,338.1 L159.8,338.1 Z" fill="#ff0000"/>
<path d="M162.9,332.4 L165.4,336.8 L160.3,336.8 Z" fill="#ff0000"/>
<path d="M162.9,333.7 L165.5,338.1 L160.4,338.1 Z" fill="#ff0000"/>
<path d="M163.1,332.1 L165.7,336.5 L160.6,336.5 Z" fill="#ff0000"/>
<path d="M163.4,333.4 L165.9,337.8 L160.9,337.8 Z" fill="#ff0000"/>
<path d="M163.5,332.6 L166,337 L161,337 Z" fill="#ff0000"/>
<path d="M163.5,333.8 L166,338.2 L160.9,338.2 Z" fill="#ff0000"/>
<path d="M163.7,332.9 L166.3,337.3 L161.2,337.3 Z" fill="#ff0000"/>
<path d="M164,333.2 L166.5,337.6 L161.4,337.6 Z" fill="#ff0000"/>
<path d="M164.5,332.1 L167,336.4 L161.9,336.4 Z" fill="#ff0000"/>
<path d="M164.2,332.8 L166.7,337.1 L161.7,337.1 Z" fill="#ff0000"/>
<path d="M164.7,332.9 L167.2,337.3 L162.1,337.3 Z" fill="#ff0000"/>
<path d="M164.7,333.3 L167.2,337.7 L162.2,337.7 Z" fill="#ff0000"/>
<path d="M165.1,331.9 L167.6,336.3 L162.6,336.3 Z" fill="#ff0000"/>
<path d="M164.9,333.7 L167.4,338.1 L162.4,338.1 Z" fill="#ff0000"/>
<path d="M165.5,332.8 L168.1,337.1 L163,337.1 Z" fill="#ff0000"/>
<path d="M165.4,334 L168,338.3 L162.9,338.3 Z" fill="#ff0000"/>
<path d="M165.7,333.3 L168.2,337.6 L163.1,337.6 Z" fill="#ff0000"/>
<path d="M165.8,333.3 L168.3,337.7 L163.3,337.7 Z" fill="#ff0000"/>
<path d="M166,333.1 L168.5,337.5 L163.5,337.5 Z" fill="#ff0000"/>
<path d="M166,333.1 L168.5,337.5 L163.5,337.5 Z" fill="#ff0000"/>
<path d="M166.6,332.7 L169.1,337 L164,337 Z" fill="#ff0000"/>
<path d="M166.4,333.9 L169,338.3 L163.9,338.3 Z" fill="#ff0000"/>
<path d="M166.9,332.1 L169.5,336.4 L164.4,336.4 Z" fill="#ff0000"/>
<path d="M166.7,333 L169.2,337.3 L164.2,337.3 Z" fill="#ff0000"/>
<path d="M167.1,332.7 L169.6,337.1 L164.6,337.1 Z" fill="#ff0000"/>
<path d="M167.3,334 L169.8,338.3 L164.7,338.3 Z" fill="#ff0000"/>
<path d="M167.5,332.6 L170,336.9 L165,336.9 Z" fill="#ff0000"/>
<path d="M167.5,333.4 L170,337.7 L165,337.7 Z" fill="#ff0000"/>
<path d="M168,333.2 L170.5,337.6 L165.4,337.6 Z" fill="#ff0000"/>
<path d="M168,333.2 L170.5,337.6 L165.4,337.6 Z" fill="#ff0000"/>
<path d="M168.3,333.2 L170.8,337.6 L165.7,337.6 Z" fill="#ff0000"/>
<path d="M168.2,334.4 L170.7,338.8 L165.7,338.8 Z" fill="#ff0000"/>
<path d="M168.7,333.2 L171.2,337.6 L166.2,337.6 Z" fill="#ff0000"/>
<path d="M168.7,334 L171.2,338.4 L166.1,338.4 Z" fill="#ff0000"/>
<path d="M169.1,332.2 L171.6,336.6 L166.5,336.6 Z" fill="#ff0000"/>
<path d="M169,334.2 L171.5,338.5 L166.5,338.5 Z" fill="#ff0000"/>
<path d="M169.3,332.5 L171.8,336.9 L166.8,336.9 Z" fill="#ff0000"/>
<path d="M169.1,334 L171.6,338.4 L166.6,338.4 Z" fill="#ff0000"/>
<path d="M169.7,332.5 L172.3,336.9 L167.2,336.9 Z" fill="#ff0000"/>
<path d="M169.5,333.5 L172,337.8 L167,337.8 Z" fill="#ff0000"/>
<path d="M169.8,333.2 L172.3,337.6 L167.3,337.6 Z" fill="#ff0000"/>
<path d="M170.2,334.4 L172.7,338.8 L167.6,338.8 Z" fill="#ff0000"/>
<path d="M170.3,333.3 L172.8,337.6 L167.7,337.6 Z" fill="#ff0000"/>
<path d="M170.2,334.5 L172.7,338.9 L167.6,338.9 Z" fill="#ff0000"/>
<path d="M170.6,332.2 L173.1,336.6 L168.1,336.6 Z" fill="#ff0000"/>
<path d="M170.7,333.4 L173.3,337.8 L168.2,337.8 Z" fill="#ff0000"/>
<path d="M170.9,332.3 L173.5,336.7 L168.4,336.7 Z" fill="#ff0000"/>
<path d="M171,334.1 L173.5,338.5 L168.5,338.5 Z" fill="#ff0000"/>
<path d="M171.5,332.3 L174,336.7 L169,336.7 Z" fill="#ff0000"/>
<path d="M171.5,333.4 L174.1,337.8 L169,337.8 Z" fill="#ff0000"/>
<path d="M171.6,333.3 L174.2,337.6 L169.1,337.6 Z" fill="#ff0000"/>
<path d="M171.7,333.8 L174.2,338.2 L169.2,338.2 Z" fill="#ff0000"/>
<path d="M172.1,332.7 L174.7,337 L169.6,337 Z" fill="#ff0000"/>
<path d="M172.2,333.6 L174.8,338 L169.7,338 Z" fill="#ff0000"/>
<path d="M172.6,333.6 L175.1,338 L170.1,338 Z" fill="#ff0000"/>
<path d="M172.5,333.4 L175,337.8 L169.9,337.8 Z" fill="#ff0000"/>
<path d="M172.9,332.4 L175.5,336.8 L170.4,336.8 Z" fill="#ff0000"/>
<path d="M172.8,334 L175.3,338.4 L170.3,338.4 Z" fill="#ff0000"/>
<path d="M173,333.4 L175.5,337.8 L170.5,337.8 Z" fill="#ff0000"/>
<path d="M173.3,334.3 L175.8,338.7 L170.7,338.7 Z" fill="#ff0000"/>
<path d="M173.5,333.2 L176,337.6 L171,337.6 Z" fill="#ff0000"/>
<path d="M173.6,333.8 L176.1,338.2 L171,338.2 Z" fill="#ff0000"/>
<path d="M174,334 L176.6,338.4 L171.5,338.4 Z" fill="#ff0000"/>
<path d="M174,335 L176.5,339.4 L171.5,339.4 Z" fill="#ff0000"/>
<path d="M174.2,334.1 L176.7,338.4 L171.6,338.4 Z" fill="#ff0000"/>
<path d="M174.1,334.2 L176.6,338.6 L171.5,338.6 Z" fill="#ff0000"/>
<path d="M174.4,333.2 L177,337.6 L171.9,337.6 Z" fill="#ff0000"/>
<path d="M174.7,334.6 L177.2,339 L172.1,339 Z" fill="#ff0000"/>
<path d="M174.9,333.1 L177.5,337.5 L172.4,337.5 Z" fill="#ff0000"/>
<path d="M174.8,334.2 L177.4,338.6 L172.3,338.6 Z" fill="#ff0000"/>
<path d="M175.2,332.9 L177.7,337.2 L172.7,337.2 Z" fill="#ff0000"/>
<path d="M175.4,334.4 L177.9,338.8 L172.9,338.8 Z" fill="#ff0000"/>
<path d="M175.6,332.9 L178.2,337.3 L173.1,337.3 Z" fill="#ff0000"/>
<path d="M175.7,333.9 L178.3,338.3 L173.2,338.3 Z" fill="#ff0000"/>
<path d="M175.9,333.5 L178.5,337.9 L173.4,337.9 Z" fill="#ff0000"/>
<path d="M176.1,335.2 L178.6,339.6 L173.6,339.6 Z" fill="#ff0000"/>
<path d="M176.5,334.2 L179,338.5 L173.9,338.5 Z" fill="#ff0000"/>
<path d="M176.5,334.8 L179.1,339.2 L174,339.2 Z" fill="#ff0000"/>
<path d="M176.8,332.8 L179.3,337.2 L174.3,337.2 Z" fill="#ff0000"/>
<path d="M176.6,333.7 L179.1,338.1 L174.1,338.1 Z" fill="#ff0000"/>
<path d="M177.2,333.9 L179.8,338.2 L174.7,338.2 Z" fill="#ff0000"/>
<path d="M177.1,334.1 L179.7,338.5 L174.6,338.5 Z" fill="#ff0000"/>
<path d="M177.4,333 L179.9,337.4 L174.8,337.4 Z" fill="#ff0000"/>
<path d="M177.5,335.3 L180,339.7 L175,339.7 Z" fill="#ff0000"/>
<path d="M177.7,332.8 L180.2,337.2 L175.2,337.2 Z" fill="#ff0000"/>
<path d="M177.7,334.3 L180.2,338.7 L175.1,338.7 Z" fill="#ff0000"/>
<path d="M178.3,334.1 L180.8,338.4 L175.8,338.4 Z" fill="#ff0000"/>
<path d="M178.1,333.9 L180.7,338.3 L175.6,338.3 Z" fill="#ff0000"/>
<path d="M178.3,333 L180.9,337.4 L175.8,337.4 Z" fill="#ff0000"/>
<path d="M178.6,334.5 L181.1,338.9 L176.1,338.9 Z" fill="#ff0000"/>
<path d="M179.1,334.3 L181.6,338.6 L176.5,338.6 Z" fill="#ff0000"/>
<path d="M179,334.6 L181.5,338.9 L176.4,338.9 Z" fill="#ff0000"/>
<path d="M179.3,333 L181.9,337.4 L176.8,337.4 Z" fill="#ff0000"/>
<path d="M179.1,334.7 L181.6,339.1 L176.5,339.1 Z" fill="#ff0000"/>
<path d="M179.6,333.2 L182.1,337.5 L177,337.5 Z" fill="#ff0000"/>
<path d="M179.5,333.9 L182,338.2 L176.9,338.2 Z" fill="#ff0000"/>
<path d="M180.1,334 L182.6,338.4 L177.6,338.4 Z" fill="#ff0000"/>
<path d="M180.1,335.4 L182.6,339.8 L177.6,339.8 Z" fill="#ff0000"/>
<path d="M180.3,334 L182.8,338.4 L177.7,338.4 Z" fill="#ff0000"/>
<path d="M180.2,335.2 L182.8,339.5 L177.7,339.5 Z" fill="#ff0000"/>
<path d="M180.8,333.1 L183.3,337.5 L178.2,337.5 Z" fill="#ff0000"/>
<path d="M180.4,334.2 L183,338.6 L177.9,338.6 Z" fill="#ff0000"/>
<path d="M181,333.5 L183.6,337.9 L178.5,337.9 Z" fill="#ff0000"/>
<path d="M180.8,335.2 L183.3,339.6 L178.3,339.6 Z" fill="#ff0000"/>
<path d="M181.5,333.7 L184,338 L178.9,338 Z" fill="#ff0000"/>
<path d="M181.2,335.3 L183.7,339.7 L178.6,339.7 Z" fill="#ff0000"/>
<path d="M181.7,333.1 L184.2,337.4 L179.2,337.4 Z" fill="#ff0000"/>
<path d="M181.6,334.9 L184.2,339.3 L179.1,339.3 Z" fill="#ff0000"/>
<path d="M182.2,333.7 L184.7,338.1 L179.7,338.1 Z" fill="#ff0000"/>
<path d="M182.1,334.3 L184.6,338.7 L179.6,338.7 Z" fill="#ff0000"/>
<path d="M182.3,334.4 L184.8,338.8 L179.8,338.8 Z" fill="#ff0000"/>
<path d="M182.4,334.1 L184.9,338.5 L179.8,338.5 Z" fill="#ff0000"/>
<path d="M182.8,333.2 L185.3,337.6 L180.3,337.6 Z" fill="#ff0000"/>
<path d="M182.6,334.7 L185.2,339.1 L180.1,339.1 Z" fill="#ff0000"/>
<path d="M183.2,334 L185.7,338.4 L180.6,338.4 Z" fill="#ff0000"/>
<path d="M183.2,334.7 L185.7,339.1 L180.7,339.1 Z" fill="#ff0000"/>
<path d="M183.3,334.2 L185.8,338.6 L180.8,338.6 Z" fill="#ff0000"/>
<path d="M183.3,334.8 L185.8,339.1 L180.8,339.1 Z" fill="#ff0000"/>
<path d="M183.8,334.1 L186.3,338.5 L181.3,338.5 Z" fill="#ff0000"/>
<path d="M183.9,334.4 L186.5,338.8 L181.4,338.8 Z" fill="#ff0000"/>
<path d="M184.3,334.2 L186.8,338.5 L181.7,338.5 Z" fill="#ff0000"/>
<path d="M184.2,334.3 L186.7,338.7 L181.7,338.7 Z" fill="#ff0000"/>
<path d="M184.7,334 L187.2,338.4 L182.2,338.4 Z" fill="#ff0000"/>
<path d="M184.4,334.5 L186.9,338.8 L181.8,338.8 Z" fill="#ff0000"/>
<path d="M185.1,333.5 L187.6,337.8 L182.6,337.8 Z" fill="#ff0000"/>
<path d="M184.9,335.3 L187.4,339.7 L182.3,339.7 Z" fill="#ff0000"/>
<path d="M185.4,334.1 L187.9,338.5 L182.9,338.5 Z" fill="#ff0000"/>
<path d="M185.4,334.2 L187.9,338.5 L182.8,338.5 Z" fill="#ff0000"/>
<path d="M185.5,334.7 L188,339.1 L182.9,339.1 Z" fill="#ff0000"/>
<path d="M185.7,334.2 L188.3,338.6 L183.2,338.6 Z" fill="#ff0000"/>
<path d="M185.8,333.5 L188.3,337.9 L183.3,337.9 Z" fill="#ff0000"/>
<path d="M186.1,334.5 L188.7,338.9 L183.6,338.9 Z" fill="#ff0000"/>
<path d="M186.4,334.6 L188.9,339 L183.9,339 Z" fill="#ff0000"/>
<path d="M186.4,335.6 L188.9,340 L183.9,340 Z" fill="#ff0000"/>
<path d="M186.6,333.4 L189.1,337.8 L184.1,337.8 Z" fill="#ff0000"/>
<path d="M186.5,335.4 L189,339.8 L184,339.8 Z" fill="#ff0000"/>
<path d="M186.9,334.7 L189.4,339.1 L184.3,339.1 Z" fill="#ff0000"/>
<path d="M187.1,334.5 L189.6,338.9 L184.6,338.9 Z" fill="#ff0000"/>
<path d="M187.5,333.5 L190,337.8 L185,337.8 Z" fill="#ff0000"/>
<path d="M187.4,334.4 L189.9,338.7 L184.9,338.7 Z" fill="#ff0000"/>
<path d="M187.9,334.6 L190.4,339 L185.3,339 Z" fill="#ff0000"/>
<path d="M187.9,334.2 L190.4,338.6 L185.4,338.6 Z" fill="#ff0000"/>
<path d="M188.2,334.1 L190.8,338.5 L185.7,338.5 Z" fill="#ff0000"/>
<path d="M188.2,335 L190.8,339.4 L185.7,339.4 Z" fill="#ff0000"/>
<path d="M188.5,334.2 L191,338.6 L186,338.6 Z" fill="#ff0000"/>
<path d="M188.6,334.4 L191.1,338.7 L186,338.7 Z" fill="#ff0000"/>
<path d="M188.6,334.1 L191.2,338.5 L186.1,338.5 Z" fill="#ff0000"/>
<path d="M188.7,334.9 L191.3,339.3 L186.2,339.3 Z" fill="#ff0000"/>
<path d="M189,334.5 L191.5,338.9 L186.4,338.9 Z" fill="#ff0000"/>
<path d="M189,335.6 L191.5,340 L186.4,340 Z" fill="#ff0000"/>
<path d="M189.6,334 L192.2,338.4 L187.1,338.4 Z" fill="#ff0000"/>
<path d="M189.4,335.3 L191.9,339.7 L186.8,339.7 Z" fill="#ff0000"/>
<path d="M189.8,334 L192.3,338.4 L187.2,338.4 Z" fill="#ff0000"/>
<path d="M189.7,335.9 L192.3,340.3 L187.2,340.3 Z" fill="#ff0000"/>
<path d="M190.3,333.9 L192.8,338.3 L187.7,338.3 Z" fill="#ff0000"/>
<path d="M190.1,335.5 L192.6,339.9 L187.5,339.9 Z" fill="#ff0000"/>
<path d="M190.7,334.7 L193.3,339.1 L188.2,339.1 Z" fill="#ff0000"/>
<path d="M190.4,334.9 L193,339.3 L187.9,339.3 Z" fill="#ff0000"/>
<path d="M190.9,334.6 L193.4,339 L188.3,339 Z" fill="#ff0000"/>
<path d="M190.8,335.3 L193.3,339.7 L188.3,339.7 Z" fill="#ff0000"/>
<path d="M191.5,334.6 L194,339 L189,339 Z" fill="#ff0000"/>
<path d="M191.1,334.5 L193.6,338.9 L188.6,338.9 Z" fill="#ff0000"/>
<path d="M191.5,334.5 L194,338.9 L189,338.9 Z" fill="#ff0000"/>
<path d="M191.7,335.2 L194.2,339.6 L189.2,339.6 Z" fill="#ff0000"/>
<path d="M192,334.1 L194.5,338.4 L189.5,338.4 Z" fill="#ff0000"/>
<path d="M192.1,335.5 L194.6,339.8 L189.5,339.8 Z" fill="#ff0000"/>
<path d="M192.5,334.6 L195.1,339 L190,339 Z" fill="#ff0000"/>
<path d="M192.5,335.9 L195,340.3 L190,340.3 Z" fill="#ff0000"/>
<path d="M192.9,334.6 L195.4,339 L190.3,339 Z" fill="#ff0000"/>
<path d="M192.5,335.5 L195.1,339.9 L190,339.9 Z" fill="#ff0000"/>
<path d="M195.5,337.5 L198.2,342.1 L192.9,342.1 Z" fill="#ff0000"/>
<path d="M196.4,337.4 L199,342 L193.7,342 Z" fill="#ff0000"/>
<path d="M197.2,338 L199.8,342.6 L194.5,342.6 Z" fill="#ff0000"/>
<path d="M197.9,338 L200.5,342.6 L195.2,342.6 Z" fill="#ff0000"/>
<path d="M198.5,338.4 L201.1,342.9 L195.9,342.9 Z" fill="#ff0000"/>
<path d="M199.3,338.3 L201.9,342.9 L196.6,342.9 Z" fill="#ff0000"/>
<path d="M198.5,347.7 L201.2,352.2 L195.9,352.2 Z" fill="#ff0000"/>
<path d="M199.4,347.9 L202.1,352.4 L196.8,352.4 Z" fill="#ff0000"/>
<path d="M200.3,348 L202.9,352.6 L197.6,352.6 Z" fill="#ff0000"/>
<path d="M201.1,348.2 L203.8,352.8 L198.5,352.8 Z" fill="#ff0000"/>
<path d="M202,355.8 L204.7,360.4 L199.4,360.4 Z" fill="#ff0000"/>
<path d="M203,355.9 L205.7,360.4 L200.4,360.4 Z" fill="#ff0000"/>
<path d="M203.9,357 L206.5,361.5 L201.2,361.5 Z" fill="#ff0000"/>
<path d="M205.1,356.7 L207.7,361.2 L202.4,361.2 Z" fill="#ff0000"/>
<path d="M205.8,362 L208.4,366.5 L203.1,366.5 Z" fill="#ff0000"/>
<path d="M206.9,362.1 L209.5,366.7 L204.2,366.7 Z" fill="#ff0000"/>
<path d="M207.7,361.7 L210.4,366.3 L205.1,366.3 Z" fill="#ff0000"/>
<path d="M208.9,362 L211.5,366.6 L206.2,366.6 Z" fill="#ff0000"/>
<path d="M209.8,362.2 L212.4,366.8 L207.2,366.8 Z" fill="#ff0000"/>
<path d="M210.8,362.8 L213.4,367.4 L208.1,367.4 Z" fill="#ff0000"/>
<path d="M211.6,362.6 L214.3,367.2 L209,367.2 Z" fill="#ff0000"/>
<path d="M212.8,362.8 L215.5,367.3 L210.2,367.3 Z" fill="#ff0000"/>
<path d="M38.6,279.3 L41.1,283.7 L36.1,283.7 Z" fill="#fff" stroke="#ff0000" stroke-width="0.9"/>
<path d="M40,318.4 L42.5,322.8 L37.5,322.8 Z" fill="#fff" stroke="#ff0000" stroke-width="0.9"/>
<path d="M40,342.1 L42.5,346.4 L37.5,346.4 Z" fill="#fff" stroke="#ff0000" stroke-width="0.9"/>
<path d="M40.6,334.8 L43.1,339.1 L38,339.1 Z" fill="#ff0000"/>
<path d="M40,355.6 L42.5,360 L37.5,360 Z" fill="#ff0000"/>
<path d="M39.6,352.3 L41.6,355.7 L37.6,355.7 Z" fill="#000"/>
<path d="M185.5,242.6 L185.5,264.6" fill="none" stroke="#000" stroke-width="0.9" stroke-dasharray="1.3,1.1"/>
<path d="M185.5,264.6 L207.3,264.6" fill="none" stroke="#000" stroke-width="1.1" stroke-dasharray="2.8,1.6"/>
<path d="M212.3,264.6 L205.8,261.4 L207.7,264.6 L205.8,267.8 Z" fill="#000"/>
<rect x="167.4" y="378.6" width="59.1" height="20.5" fill="#fff" stroke="#808080" stroke-width="1"/>
<path d="M171.6,380.2 L174.8,385.7 L168.4,385.7 Z" fill="#fff" stroke="#ff2020" stroke-width="0.9"/>
<path d="M171.6,390.2 L175,396.1 L168.2,396.1 Z" fill="#ff0000"/>
<text x="182" y="386.8" font-size="10.6" textLength="33" lengthAdjust="spacingAndGlyphs" >Charge</text>
<text x="182" y="396.4" font-size="10.6" textLength="45.2" lengthAdjust="spacingAndGlyphs" >Discharge</text>
<line x1="41.4" y1="308.6" x2="78.4" y2="308.6" stroke="#ff9a9a" stroke-width="1.3" />
<path d="M80.8,308.6 L76.8,306 L76.8,311.2 Z" fill="#ff9a9a"/>
<path d="M39,308.6 L43,306 L43,311.2 Z" fill="#ff9a9a"/>
<line x1="94.7" y1="308.6" x2="190.7" y2="308.6" stroke="#ff9a9a" stroke-width="1.3" />
<path d="M193.1,308.6 L189.1,306 L189.1,311.2 Z" fill="#ff9a9a"/>
<path d="M92.3,308.6 L96.3,306 L96.3,311.2 Z" fill="#ff9a9a"/>
<text x="62.1" y="304.3" font-size="9.2" text-anchor="middle" fill="#ff6b6b" textLength="22.5" lengthAdjust="spacingAndGlyphs" >0.01C</text>
<text x="140.4" y="304.3" font-size="9.2" text-anchor="middle" fill="#ff6b6b" textLength="18.5" lengthAdjust="spacingAndGlyphs" >0.1C</text>
<text x="70.8" y="329" font-size="8.4" text-anchor="middle" fill="#ff6b6b" textLength="19.8" lengthAdjust="spacingAndGlyphs" >0.02C</text>
<text x="75.2" y="336.1" font-size="8.4" text-anchor="middle" fill="#ff6b6b" textLength="20.2" lengthAdjust="spacingAndGlyphs" >0.05C</text>
<text x="182.2" y="346.3" font-size="8.6" text-anchor="middle" fill="#ff6b6b" textLength="16" lengthAdjust="spacingAndGlyphs" >0.2C</text>
<text x="186.8" y="353.4" font-size="8.6" text-anchor="middle" fill="#ff6b6b" textLength="15.7" lengthAdjust="spacingAndGlyphs" >0.5C</text>
<text x="192.8" y="361.1" font-size="8.6" text-anchor="middle" fill="#ff6b6b" textLength="9.1" lengthAdjust="spacingAndGlyphs" >1C</text>
<text x="211.6" y="374.2" font-size="8.6" text-anchor="middle" fill="#ff6b6b" textLength="8.5" lengthAdjust="spacingAndGlyphs" >5C</text>
<line x1="82.6" y1="461" x2="82.6" y2="509" stroke="#a6d98f" stroke-width="0.7" stroke-dasharray="1,1"/>
<line x1="94.8" y1="491" x2="94.8" y2="530" stroke="#a6d98f" stroke-width="0.7" stroke-dasharray="1,1"/>
<line x1="198" y1="491" x2="198" y2="550" stroke="#a6d98f" stroke-width="0.7" stroke-dasharray="1,1"/>
<path d="M39.6,567.9 L39.6,442.7 L216.9,442.7 L216.9,567.9" fill="none" stroke="#6a6a6a" stroke-width="1.1"/>
<line x1="39.1" y1="567.9" x2="217.4" y2="567.9" stroke="#404040" stroke-width="1.1" />
<line x1="39.6" y1="567.9" x2="42.6" y2="567.9" stroke="#333" stroke-width="0.9" />
<line x1="39.6" y1="542.9" x2="41.2" y2="542.9" stroke="#333" stroke-width="0.9" />
<line x1="39.6" y1="517.8" x2="42.6" y2="517.8" stroke="#333" stroke-width="0.9" />
<line x1="39.6" y1="492.8" x2="41.2" y2="492.8" stroke="#333" stroke-width="0.9" />
<line x1="39.6" y1="467.7" x2="42.6" y2="467.7" stroke="#333" stroke-width="0.9" />
<line x1="39.6" y1="442.7" x2="41.2" y2="442.7" stroke="#333" stroke-width="0.9" />
<text x="37.8" y="571.5" font-size="10.2" text-anchor="end" >0</text>
<text x="37.8" y="521.4" font-size="10.2" text-anchor="end" >1000</text>
<text x="37.8" y="471.3" font-size="10.2" text-anchor="end" >2000</text>
<line x1="213.9" y1="567.9" x2="216.9" y2="567.9" stroke="#333" stroke-width="0.9" />
<line x1="215.3" y1="555.4" x2="216.9" y2="555.4" stroke="#333" stroke-width="0.9" />
<line x1="213.9" y1="542.9" x2="216.9" y2="542.9" stroke="#333" stroke-width="0.9" />
<line x1="215.3" y1="530.3" x2="216.9" y2="530.3" stroke="#333" stroke-width="0.9" />
<line x1="213.9" y1="517.8" x2="216.9" y2="517.8" stroke="#333" stroke-width="0.9" />
<line x1="215.3" y1="505.3" x2="216.9" y2="505.3" stroke="#333" stroke-width="0.9" />
<line x1="213.9" y1="492.8" x2="216.9" y2="492.8" stroke="#333" stroke-width="0.9" />
<line x1="215.3" y1="480.3" x2="216.9" y2="480.3" stroke="#333" stroke-width="0.9" />
<line x1="213.9" y1="467.7" x2="216.9" y2="467.7" stroke="#333" stroke-width="0.9" />
<line x1="215.3" y1="455.2" x2="216.9" y2="455.2" stroke="#333" stroke-width="0.9" />
<line x1="213.9" y1="442.7" x2="216.9" y2="442.7" stroke="#333" stroke-width="0.9" />
<text x="218.3" y="571.5" font-size="10.2" >0</text>
<text x="218.3" y="546.5" font-size="10.2" >20</text>
<text x="218.3" y="521.4" font-size="10.2" >40</text>
<text x="218.3" y="496.4" font-size="10.2" >60</text>
<text x="218.3" y="471.3" font-size="10.2" >80</text>
<text x="218.3" y="446.3" font-size="10.2" >100</text>
<line x1="39.3" y1="567.9" x2="39.3" y2="564.9" stroke="#333" stroke-width="0.9" />
<line x1="47.2" y1="567.9" x2="47.2" y2="566.3" stroke="#333" stroke-width="0.9" />
<line x1="55.1" y1="567.9" x2="55.1" y2="566.3" stroke="#333" stroke-width="0.9" />
<line x1="63" y1="567.9" x2="63" y2="566.3" stroke="#333" stroke-width="0.9" />
<line x1="70.9" y1="567.9" x2="70.9" y2="566.3" stroke="#333" stroke-width="0.9" />
<line x1="78.8" y1="567.9" x2="78.8" y2="564.9" stroke="#333" stroke-width="0.9" />
<line x1="86.8" y1="567.9" x2="86.8" y2="566.3" stroke="#333" stroke-width="0.9" />
<line x1="94.7" y1="567.9" x2="94.7" y2="566.3" stroke="#333" stroke-width="0.9" />
<line x1="102.6" y1="567.9" x2="102.6" y2="566.3" stroke="#333" stroke-width="0.9" />
<line x1="110.5" y1="567.9" x2="110.5" y2="566.3" stroke="#333" stroke-width="0.9" />
<line x1="118.4" y1="567.9" x2="118.4" y2="564.9" stroke="#333" stroke-width="0.9" />
<line x1="126.3" y1="567.9" x2="126.3" y2="566.3" stroke="#333" stroke-width="0.9" />
<line x1="134.2" y1="567.9" x2="134.2" y2="566.3" stroke="#333" stroke-width="0.9" />
<line x1="142.1" y1="567.9" x2="142.1" y2="566.3" stroke="#333" stroke-width="0.9" />
<line x1="150" y1="567.9" x2="150" y2="566.3" stroke="#333" stroke-width="0.9" />
<line x1="157.9" y1="567.9" x2="157.9" y2="564.9" stroke="#333" stroke-width="0.9" />
<line x1="165.9" y1="567.9" x2="165.9" y2="566.3" stroke="#333" stroke-width="0.9" />
<line x1="173.8" y1="567.9" x2="173.8" y2="566.3" stroke="#333" stroke-width="0.9" />
<line x1="181.7" y1="567.9" x2="181.7" y2="566.3" stroke="#333" stroke-width="0.9" />
<line x1="189.6" y1="567.9" x2="189.6" y2="566.3" stroke="#333" stroke-width="0.9" />
<line x1="197.5" y1="567.9" x2="197.5" y2="564.9" stroke="#333" stroke-width="0.9" />
<line x1="205.4" y1="567.9" x2="205.4" y2="566.3" stroke="#333" stroke-width="0.9" />
<line x1="213.3" y1="567.9" x2="213.3" y2="566.3" stroke="#333" stroke-width="0.9" />
<text x="39.3" y="578.1" font-size="10.2" text-anchor="middle" >0</text>
<text x="78.8" y="578.1" font-size="10.2" text-anchor="middle" >50</text>
<text x="118.4" y="578.1" font-size="10.2" text-anchor="middle" >100</text>
<text x="157.9" y="578.1" font-size="10.2" text-anchor="middle" >150</text>
<text x="197.5" y="578.1" font-size="10.2" text-anchor="middle" >200</text>
<text transform="translate(8.9,504.4) rotate(-90)" font-size="10.4" text-anchor="middle" textLength="80.3" lengthAdjust="spacingAndGlyphs" >Capacity (mAh/g)</text>
<text transform="translate(235.3,505.8) rotate(90)" font-size="10" text-anchor="middle" textLength="117" lengthAdjust="spacingAndGlyphs" >Coulombic efficiency (%)</text>
<text x="128.2" y="590.5" font-size="10.2" text-anchor="middle" textLength="67.5" lengthAdjust="spacingAndGlyphs" >Cycle Number</text>
<rect x="38.1" y="453.1" width="3" height="3" fill="#000"/>
<rect x="38.5" y="451.1" width="3" height="3" fill="#000"/>
<rect x="38.9" y="450.5" width="3" height="3" fill="#000"/>
<rect x="39.3" y="449.2" width="3" height="3" fill="#000"/>
<rect x="39.7" y="449.2" width="3" height="3" fill="#000"/>
<rect x="40.1" y="447.6" width="3" height="3" fill="#000"/>
<rect x="40.5" y="447.4" width="3" height="3" fill="#000"/>
<rect x="40.9" y="447.2" width="3" height="3" fill="#000"/>
<rect x="41.3" y="447.7" width="3" height="3" fill="#000"/>
<rect x="41.7" y="446.1" width="3" height="3" fill="#000"/>
<rect x="42.1" y="446.1" width="3" height="3" fill="#000"/>
<rect x="42.4" y="446.7" width="3" height="3" fill="#000"/>
<rect x="42.8" y="447" width="3" height="3" fill="#000"/>
<rect x="43.2" y="445.9" width="3" height="3" fill="#000"/>
<rect x="43.6" y="446.2" width="3" height="3" fill="#000"/>
<rect x="44" y="446.5" width="3" height="3" fill="#000"/>
<rect x="44.4" y="446.4" width="3" height="3" fill="#000"/>
<rect x="44.8" y="446.5" width="3" height="3" fill="#000"/>
<rect x="45.2" y="446.4" width="3" height="3" fill="#000"/>
<rect x="45.6" y="445.7" width="3" height="3" fill="#000"/>
<rect x="46" y="445.6" width="3" height="3" fill="#000"/>
<rect x="46.4" y="445.2" width="3" height="3" fill="#000"/>
<rect x="46.8" y="446.1" width="3" height="3" fill="#000"/>
<rect x="47.2" y="445.4" width="3" height="3" fill="#000"/>
<rect x="47.6" y="445.4" width="3" height="3" fill="#000"/>
<rect x="48" y="446.4" width="3" height="3" fill="#000"/>
<rect x="48.4" y="445.9" width="3" height="3" fill="#000"/>
<rect x="48.8" y="445.7" width="3" height="3" fill="#000"/>
<rect x="49.2" y="445.8" width="3" height="3" fill="#000"/>
<rect x="49.6" y="445.6" width="3" height="3" fill="#000"/>
<rect x="50" y="445.7" width="3" height="3" fill="#000"/>
<rect x="50.3" y="445.2" width="3" height="3" fill="#000"/>
<rect x="50.7" y="444.8" width="3" height="3" fill="#000"/>
<rect x="51.1" y="444.8" width="3" height="3" fill="#000"/>
<rect x="51.5" y="444.8" width="3" height="3" fill="#000"/>
<rect x="51.9" y="445.3" width="3" height="3" fill="#000"/>
<rect x="52.3" y="444.9" width="3" height="3" fill="#000"/>
<rect x="52.7" y="444.9" width="3" height="3" fill="#000"/>
<rect x="53.1" y="445.4" width="3" height="3" fill="#000"/>
<rect x="53.5" y="446.1" width="3" height="3" fill="#000"/>
<rect x="53.9" y="445.7" width="3" height="3" fill="#000"/>
<rect x="54.3" y="445.1" width="3" height="3" fill="#000"/>
<rect x="54.7" y="445.8" width="3" height="3" fill="#000"/>
<rect x="55.1" y="445" width="3" height="3" fill="#000"/>
<rect x="55.5" y="444.9" width="3" height="3" fill="#000"/>
<rect x="55.9" y="445.1" width="3" height="3" fill="#000"/>
<rect x="56.3" y="445.3" width="3" height="3" fill="#000"/>
<rect x="56.7" y="445.7" width="3" height="3" fill="#000"/>
<rect x="57.1" y="445.3" width="3" height="3" fill="#000"/>
<rect x="57.5" y="445.7" width="3" height="3" fill="#000"/>
<rect x="57.9" y="444.8" width="3" height="3" fill="#000"/>
<rect x="58.2" y="446" width="3" height="3" fill="#000"/>
<rect x="58.6" y="445.2" width="3" height="3" fill="#000"/>
<rect x="59" y="445.9" width="3" height="3" fill="#000"/>
<rect x="59.4" y="444.7" width="3" height="3" fill="#000"/>
<rect x="59.8" y="445.9" width="3" height="3" fill="#000"/>
<rect x="60.2" y="445" width="3" height="3" fill="#000"/>
<rect x="60.6" y="445.9" width="3" height="3" fill="#000"/>
<rect x="61" y="445.8" width="3" height="3" fill="#000"/>
<rect x="61.4" y="445.6" width="3" height="3" fill="#000"/>
<rect x="61.8" y="445.1" width="3" height="3" fill="#000"/>
<rect x="62.2" y="444.7" width="3" height="3" fill="#000"/>
<rect x="62.6" y="444.9" width="3" height="3" fill="#000"/>
<rect x="63" y="445.9" width="3" height="3" fill="#000"/>
<rect x="63.4" y="444.9" width="3" height="3" fill="#000"/>
<rect x="63.8" y="445.6" width="3" height="3" fill="#000"/>
<rect x="64.2" y="445.5" width="3" height="3" fill="#000"/>
<rect x="64.6" y="445.6" width="3" height="3" fill="#000"/>
<rect x="65" y="444.9" width="3" height="3" fill="#000"/>
<rect x="65.4" y="444.9" width="3" height="3" fill="#000"/>
<rect x="65.8" y="444.8" width="3" height="3" fill="#000"/>
<rect x="66.1" y="446" width="3" height="3" fill="#000"/>
<rect x="66.5" y="445.2" width="3" height="3" fill="#000"/>
<rect x="66.9" y="445.6" width="3" height="3" fill="#000"/>
<rect x="67.3" y="445.4" width="3" height="3" fill="#000"/>
<rect x="67.7" y="445" width="3" height="3" fill="#000"/>
<rect x="68.1" y="444.7" width="3" height="3" fill="#000"/>
<rect x="68.5" y="444.7" width="3" height="3" fill="#000"/>
<rect x="68.9" y="445.8" width="3" height="3" fill="#000"/>
<rect x="69.3" y="444.8" width="3" height="3" fill="#000"/>
<rect x="69.7" y="446" width="3" height="3" fill="#000"/>
<rect x="70.1" y="445.2" width="3" height="3" fill="#000"/>
<rect x="70.5" y="445.7" width="3" height="3" fill="#000"/>
<rect x="70.9" y="444.9" width="3" height="3" fill="#000"/>
<rect x="71.3" y="445.8" width="3" height="3" fill="#000"/>
<rect x="71.7" y="445.1" width="3" height="3" fill="#000"/>
<rect x="72.1" y="445.3" width="3" height="3" fill="#000"/>
<rect x="72.5" y="445.5" width="3" height="3" fill="#000"/>
<rect x="72.9" y="445" width="3" height="3" fill="#000"/>
<rect x="73.3" y="445.2" width="3" height="3" fill="#000"/>
<rect x="73.7" y="446" width="3" height="3" fill="#000"/>
<rect x="74" y="445.3" width="3" height="3" fill="#000"/>
<rect x="74.4" y="445.5" width="3" height="3" fill="#000"/>
<rect x="74.8" y="446" width="3" height="3" fill="#000"/>
<rect x="75.2" y="445.3" width="3" height="3" fill="#000"/>
<rect x="75.6" y="445.3" width="3" height="3" fill="#000"/>
<rect x="76" y="445.4" width="3" height="3" fill="#000"/>
<rect x="76.4" y="445.6" width="3" height="3" fill="#000"/>
<rect x="76.8" y="445.6" width="3" height="3" fill="#000"/>
<rect x="77.2" y="446" width="3" height="3" fill="#000"/>
<rect x="77.6" y="445.8" width="3" height="3" fill="#000"/>
<rect x="78" y="446.4" width="3" height="3" fill="#000"/>
<rect x="78.4" y="445.3" width="3" height="3" fill="#000"/>
<rect x="78.8" y="446.2" width="3" height="3" fill="#000"/>
<rect x="79.2" y="446.4" width="3" height="3" fill="#000"/>
<rect x="79.6" y="445.6" width="3" height="3" fill="#000"/>
<rect x="80" y="445.4" width="3" height="3" fill="#000"/>
<rect x="80.4" y="446.1" width="3" height="3" fill="#000"/>
<rect x="80.8" y="445.7" width="3" height="3" fill="#000"/>
<rect x="81.2" y="446.2" width="3" height="3" fill="#000"/>
<rect x="81.6" y="446.6" width="3" height="3" fill="#000"/>
<rect x="81.9" y="445.8" width="3" height="3" fill="#000"/>
<rect x="82.3" y="445.9" width="3" height="3" fill="#000"/>
<rect x="82.7" y="446.5" width="3" height="3" fill="#000"/>
<rect x="83.1" y="446.1" width="3" height="3" fill="#000"/>
<rect x="83.5" y="446.3" width="3" height="3" fill="#000"/>
<rect x="83.9" y="446.6" width="3" height="3" fill="#000"/>
<rect x="84.3" y="446.2" width="3" height="3" fill="#000"/>
<rect x="84.7" y="446.2" width="3" height="3" fill="#000"/>
<rect x="85.1" y="446.7" width="3" height="3" fill="#000"/>
<rect x="85.5" y="446.9" width="3" height="3" fill="#000"/>
<rect x="85.9" y="447.6" width="3" height="3" fill="#000"/>
<rect x="86.3" y="447.1" width="3" height="3" fill="#000"/>
<rect x="86.7" y="446.4" width="3" height="3" fill="#000"/>
<rect x="87.1" y="446.7" width="3" height="3" fill="#000"/>
<rect x="87.5" y="447.4" width="3" height="3" fill="#000"/>
<rect x="87.9" y="447.2" width="3" height="3" fill="#000"/>
<rect x="88.3" y="447.6" width="3" height="3" fill="#000"/>
<rect x="88.7" y="447.8" width="3" height="3" fill="#000"/>
<rect x="89.1" y="447.6" width="3" height="3" fill="#000"/>
<rect x="89.5" y="446.6" width="3" height="3" fill="#000"/>
<rect x="89.8" y="447.8" width="3" height="3" fill="#000"/>
<rect x="90.2" y="447.2" width="3" height="3" fill="#000"/>
<rect x="90.6" y="446.6" width="3" height="3" fill="#000"/>
<rect x="91" y="446.2" width="3" height="3" fill="#000"/>
<rect x="91.4" y="446.9" width="3" height="3" fill="#000"/>
<rect x="91.8" y="445.7" width="3" height="3" fill="#000"/>
<rect x="92.2" y="445.2" width="3" height="3" fill="#000"/>
<rect x="92.6" y="445.2" width="3" height="3" fill="#000"/>
<rect x="93" y="445.8" width="3" height="3" fill="#000"/>
<rect x="93.4" y="444.9" width="3" height="3" fill="#000"/>
<rect x="93.8" y="445.2" width="3" height="3" fill="#000"/>
<rect x="94.2" y="444.3" width="3" height="3" fill="#000"/>
<rect x="94.6" y="444.8" width="3" height="3" fill="#000"/>
<rect x="95" y="444.6" width="3" height="3" fill="#000"/>
<rect x="95.4" y="444.4" width="3" height="3" fill="#000"/>
<rect x="95.8" y="445" width="3" height="3" fill="#000"/>
<rect x="96.2" y="444.5" width="3" height="3" fill="#000"/>
<rect x="96.6" y="444.1" width="3" height="3" fill="#000"/>
<rect x="97" y="445.3" width="3" height="3" fill="#000"/>
<rect x="97.3" y="444.6" width="3" height="3" fill="#000"/>
<rect x="97.7" y="444.1" width="3" height="3" fill="#000"/>
<rect x="98.1" y="443.8" width="3" height="3" fill="#000"/>
<rect x="98.5" y="444.7" width="3" height="3" fill="#000"/>
<rect x="98.9" y="444.5" width="3" height="3" fill="#000"/>
<rect x="99.3" y="443.7" width="3" height="3" fill="#000"/>
<rect x="99.7" y="444.3" width="3" height="3" fill="#000"/>
<rect x="100.1" y="444.7" width="3" height="3" fill="#000"/>
<rect x="100.5" y="444.3" width="3" height="3" fill="#000"/>
<rect x="100.9" y="443.9" width="3" height="3" fill="#000"/>
<rect x="101.3" y="444.2" width="3" height="3" fill="#000"/>
<rect x="101.7" y="444.3" width="3" height="3" fill="#000"/>
<rect x="102.1" y="444.3" width="3" height="3" fill="#000"/>
<rect x="102.5" y="443.6" width="3" height="3" fill="#000"/>
<rect x="102.9" y="444.5" width="3" height="3" fill="#000"/>
<rect x="103.3" y="444.6" width="3" height="3" fill="#000"/>
<rect x="103.7" y="444.3" width="3" height="3" fill="#000"/>
<rect x="104.1" y="444.4" width="3" height="3" fill="#000"/>
<rect x="104.5" y="443.7" width="3" height="3" fill="#000"/>
<rect x="104.9" y="444.4" width="3" height="3" fill="#000"/>
<rect x="105.2" y="443.4" width="3" height="3" fill="#000"/>
<rect x="105.6" y="443.4" width="3" height="3" fill="#000"/>
<rect x="106" y="443.9" width="3" height="3" fill="#000"/>
<rect x="106.4" y="444.3" width="3" height="3" fill="#000"/>
<rect x="106.8" y="443.1" width="3" height="3" fill="#000"/>
<rect x="107.2" y="443.2" width="3" height="3" fill="#000"/>
<rect x="107.6" y="443" width="3" height="3" fill="#000"/>
<rect x="108" y="443.5" width="3" height="3" fill="#000"/>
<rect x="108.4" y="443" width="3" height="3" fill="#000"/>
<rect x="108.8" y="443.1" width="3" height="3" fill="#000"/>
<rect x="109.2" y="443.8" width="3" height="3" fill="#000"/>
<rect x="109.6" y="443.6" width="3" height="3" fill="#000"/>
<rect x="110" y="444.1" width="3" height="3" fill="#000"/>
<rect x="110.4" y="443.3" width="3" height="3" fill="#000"/>
<rect x="110.8" y="443.7" width="3" height="3" fill="#000"/>
<rect x="111.2" y="442.7" width="3" height="3" fill="#000"/>
<rect x="111.6" y="444.1" width="3" height="3" fill="#000"/>
<rect x="112" y="443" width="3" height="3" fill="#000"/>
<rect x="112.4" y="443.4" width="3" height="3" fill="#000"/>
<rect x="112.8" y="443.4" width="3" height="3" fill="#000"/>
<rect x="113.2" y="444" width="3" height="3" fill="#000"/>
<rect x="113.5" y="443.4" width="3" height="3" fill="#000"/>
<rect x="113.9" y="444.1" width="3" height="3" fill="#000"/>
<rect x="114.3" y="443.6" width="3" height="3" fill="#000"/>
<rect x="114.7" y="443" width="3" height="3" fill="#000"/>
<rect x="115.1" y="443.8" width="3" height="3" fill="#000"/>
<rect x="115.5" y="443" width="3" height="3" fill="#000"/>
<rect x="115.9" y="444.1" width="3" height="3" fill="#000"/>
<rect x="116.3" y="443.3" width="3" height="3" fill="#000"/>
<rect x="116.7" y="443" width="3" height="3" fill="#000"/>
<rect x="117.1" y="444" width="3" height="3" fill="#000"/>
<rect x="117.5" y="443.1" width="3" height="3" fill="#000"/>
<rect x="117.9" y="443.2" width="3" height="3" fill="#000"/>
<rect x="118.3" y="443.1" width="3" height="3" fill="#000"/>
<rect x="118.7" y="443.6" width="3" height="3" fill="#000"/>
<rect x="119.1" y="442.7" width="3" height="3" fill="#000"/>
<rect x="119.5" y="443.1" width="3" height="3" fill="#000"/>
<rect x="119.9" y="442.8" width="3" height="3" fill="#000"/>
<rect x="120.3" y="443.8" width="3" height="3" fill="#000"/>
<rect x="120.7" y="442.6" width="3" height="3" fill="#000"/>
<rect x="121.1" y="443.4" width="3" height="3" fill="#000"/>
<rect x="121.4" y="443" width="3" height="3" fill="#000"/>
<rect x="121.8" y="443.2" width="3" height="3" fill="#000"/>
<rect x="122.2" y="443.4" width="3" height="3" fill="#000"/>
<rect x="122.6" y="443.6" width="3" height="3" fill="#000"/>
<rect x="123" y="442.8" width="3" height="3" fill="#000"/>
<rect x="123.4" y="442.9" width="3" height="3" fill="#000"/>
<rect x="123.8" y="442.7" width="3" height="3" fill="#000"/>
<rect x="124.2" y="443.9" width="3" height="3" fill="#000"/>
<rect x="124.6" y="442.8" width="3" height="3" fill="#000"/>
<rect x="125" y="442.7" width="3" height="3" fill="#000"/>
<rect x="125.4" y="443.3" width="3" height="3" fill="#000"/>
<rect x="125.8" y="443.3" width="3" height="3" fill="#000"/>
<rect x="126.2" y="443.8" width="3" height="3" fill="#000"/>
<rect x="126.6" y="442.6" width="3" height="3" fill="#000"/>
<rect x="127" y="442.8" width="3" height="3" fill="#000"/>
<rect x="127.4" y="442.7" width="3" height="3" fill="#000"/>
<rect x="127.8" y="443.3" width="3" height="3" fill="#000"/>
<rect x="128.2" y="443.1" width="3" height="3" fill="#000"/>
<rect x="128.6" y="443.1" width="3" height="3" fill="#000"/>
<rect x="129" y="443.7" width="3" height="3" fill="#000"/>
<rect x="129.3" y="443.4" width="3" height="3" fill="#000"/>
<rect x="129.7" y="443.7" width="3" height="3" fill="#000"/>
<rect x="130.1" y="443.8" width="3" height="3" fill="#000"/>
<rect x="130.5" y="442.8" width="3" height="3" fill="#000"/>
<rect x="130.9" y="443.8" width="3" height="3" fill="#000"/>
<rect x="131.3" y="443" width="3" height="3" fill="#000"/>
<rect x="131.7" y="442.5" width="3" height="3" fill="#000"/>
<rect x="132.1" y="443.7" width="3" height="3" fill="#000"/>
<rect x="132.5" y="442.6" width="3" height="3" fill="#000"/>
<rect x="132.9" y="442.5" width="3" height="3" fill="#000"/>
<rect x="133.3" y="442.8" width="3" height="3" fill="#000"/>
<rect x="133.7" y="442.8" width="3" height="3" fill="#000"/>
<rect x="134.1" y="443.8" width="3" height="3" fill="#000"/>
<rect x="134.5" y="443.6" width="3" height="3" fill="#000"/>
<rect x="134.9" y="443" width="3" height="3" fill="#000"/>
<rect x="135.3" y="443.2" width="3" height="3" fill="#000"/>
<rect x="135.7" y="443.6" width="3" height="3" fill="#000"/>
<rect x="136.1" y="443.5" width="3" height="3" fill="#000"/>
<rect x="136.5" y="443.3" width="3" height="3" fill="#000"/>
<rect x="136.8" y="443.1" width="3" height="3" fill="#000"/>
<rect x="137.2" y="442.5" width="3" height="3" fill="#000"/>
<rect x="137.6" y="442.7" width="3" height="3" fill="#000"/>
<rect x="138" y="443.3" width="3" height="3" fill="#000"/>
<rect x="138.4" y="443.2" width="3" height="3" fill="#000"/>
<rect x="138.8" y="443.5" width="3" height="3" fill="#000"/>
<rect x="139.2" y="443.6" width="3" height="3" fill="#000"/>
<rect x="139.6" y="443.7" width="3" height="3" fill="#000"/>
<rect x="140" y="442.6" width="3" height="3" fill="#000"/>
<rect x="140.4" y="442.4" width="3" height="3" fill="#000"/>
<rect x="140.8" y="443.6" width="3" height="3" fill="#000"/>
<rect x="141.2" y="443.1" width="3" height="3" fill="#000"/>
<rect x="141.6" y="442.6" width="3" height="3" fill="#000"/>
<rect x="142" y="443.3" width="3" height="3" fill="#000"/>
<rect x="142.4" y="442.7" width="3" height="3" fill="#000"/>
<rect x="142.8" y="442.6" width="3" height="3" fill="#000"/>
<rect x="143.2" y="442.8" width="3" height="3" fill="#000"/>
<rect x="143.6" y="443" width="3" height="3" fill="#000"/>
<rect x="144" y="443.2" width="3" height="3" fill="#000"/>
<rect x="144.4" y="442.4" width="3" height="3" fill="#000"/>
<rect x="144.8" y="443.3" width="3" height="3" fill="#000"/>
<rect x="145.1" y="443.2" width="3" height="3" fill="#000"/>
<rect x="145.5" y="442.9" width="3" height="3" fill="#000"/>
<rect x="145.9" y="443.2" width="3" height="3" fill="#000"/>
<rect x="146.3" y="443.4" width="3" height="3" fill="#000"/>
<rect x="146.7" y="442.3" width="3" height="3" fill="#000"/>
<rect x="147.1" y="442.9" width="3" height="3" fill="#000"/>
<rect x="147.5" y="443.2" width="3" height="3" fill="#000"/>
<rect x="147.9" y="443.2" width="3" height="3" fill="#000"/>
<rect x="148.3" y="443.1" width="3" height="3" fill="#000"/>
<rect x="148.7" y="442.5" width="3" height="3" fill="#000"/>
<rect x="149.1" y="443.6" width="3" height="3" fill="#000"/>
<rect x="149.5" y="443.3" width="3" height="3" fill="#000"/>
<rect x="149.9" y="442.5" width="3" height="3" fill="#000"/>
<rect x="150.3" y="442.8" width="3" height="3" fill="#000"/>
<rect x="150.7" y="443.6" width="3" height="3" fill="#000"/>
<rect x="151.1" y="442.5" width="3" height="3" fill="#000"/>
<rect x="151.5" y="442.8" width="3" height="3" fill="#000"/>
<rect x="151.9" y="443.5" width="3" height="3" fill="#000"/>
<rect x="152.3" y="443.5" width="3" height="3" fill="#000"/>
<rect x="152.7" y="442.5" width="3" height="3" fill="#000"/>
<rect x="153" y="443.2" width="3" height="3" fill="#000"/>
<rect x="153.4" y="442.7" width="3" height="3" fill="#000"/>
<rect x="153.8" y="443.1" width="3" height="3" fill="#000"/>
<rect x="154.2" y="443.2" width="3" height="3" fill="#000"/>
<rect x="154.6" y="442.3" width="3" height="3" fill="#000"/>
<rect x="155" y="442.5" width="3" height="3" fill="#000"/>
<rect x="155.4" y="442.5" width="3" height="3" fill="#000"/>
<rect x="155.8" y="442.5" width="3" height="3" fill="#000"/>
<rect x="156.2" y="442.2" width="3" height="3" fill="#000"/>
<rect x="156.6" y="442.3" width="3" height="3" fill="#000"/>
<rect x="157" y="442.7" width="3" height="3" fill="#000"/>
<rect x="157.4" y="442.7" width="3" height="3" fill="#000"/>
<rect x="157.8" y="442.2" width="3" height="3" fill="#000"/>
<rect x="158.2" y="442.9" width="3" height="3" fill="#000"/>
<rect x="158.6" y="443.4" width="3" height="3" fill="#000"/>
<rect x="159" y="442.9" width="3" height="3" fill="#000"/>
<rect x="159.4" y="442.6" width="3" height="3" fill="#000"/>
<rect x="159.8" y="443.1" width="3" height="3" fill="#000"/>
<rect x="160.2" y="442.7" width="3" height="3" fill="#000"/>
<rect x="160.6" y="442.3" width="3" height="3" fill="#000"/>
<rect x="160.9" y="442.8" width="3" height="3" fill="#000"/>
<rect x="161.3" y="442.1" width="3" height="3" fill="#000"/>
<rect x="161.7" y="443" width="3" height="3" fill="#000"/>
<rect x="162.1" y="442.3" width="3" height="3" fill="#000"/>
<rect x="162.5" y="442.6" width="3" height="3" fill="#000"/>
<rect x="162.9" y="443.4" width="3" height="3" fill="#000"/>
<rect x="163.3" y="443.1" width="3" height="3" fill="#000"/>
<rect x="163.7" y="443.2" width="3" height="3" fill="#000"/>
<rect x="164.1" y="443" width="3" height="3" fill="#000"/>
<rect x="164.5" y="442.9" width="3" height="3" fill="#000"/>
<rect x="164.9" y="443" width="3" height="3" fill="#000"/>
<rect x="165.3" y="443.4" width="3" height="3" fill="#000"/>
<rect x="165.7" y="442.3" width="3" height="3" fill="#000"/>
<rect x="166.1" y="443.1" width="3" height="3" fill="#000"/>
<rect x="166.5" y="442.4" width="3" height="3" fill="#000"/>
<rect x="166.9" y="442.4" width="3" height="3" fill="#000"/>
<rect x="167.3" y="443.2" width="3" height="3" fill="#000"/>
<rect x="167.7" y="442.9" width="3" height="3" fill="#000"/>
<rect x="168.1" y="443.2" width="3" height="3" fill="#000"/>
<rect x="168.4" y="443.2" width="3" height="3" fill="#000"/>
<rect x="168.8" y="442.8" width="3" height="3" fill="#000"/>
<rect x="169.2" y="442.3" width="3" height="3" fill="#000"/>
<rect x="169.6" y="442" width="3" height="3" fill="#000"/>
<rect x="170" y="442.7" width="3" height="3" fill="#000"/>
<rect x="170.4" y="443" width="3" height="3" fill="#000"/>
<rect x="170.8" y="442.4" width="3" height="3" fill="#000"/>
<rect x="171.2" y="442.1" width="3" height="3" fill="#000"/>
<rect x="171.6" y="442" width="3" height="3" fill="#000"/>
<rect x="172" y="442.2" width="3" height="3" fill="#000"/>
<rect x="172.4" y="442.9" width="3" height="3" fill="#000"/>
<rect x="172.8" y="442" width="3" height="3" fill="#000"/>
<rect x="173.2" y="442.3" width="3" height="3" fill="#000"/>
<rect x="173.6" y="442.3" width="3" height="3" fill="#000"/>
<rect x="174" y="442.9" width="3" height="3" fill="#000"/>
<rect x="174.4" y="443.3" width="3" height="3" fill="#000"/>
<rect x="174.8" y="442" width="3" height="3" fill="#000"/>
<rect x="175.2" y="442.1" width="3" height="3" fill="#000"/>
<rect x="175.6" y="443.2" width="3" height="3" fill="#000"/>
<rect x="176" y="443.3" width="3" height="3" fill="#000"/>
<rect x="176.3" y="442.1" width="3" height="3" fill="#000"/>
<rect x="176.7" y="442.4" width="3" height="3" fill="#000"/>
<rect x="177.1" y="442.6" width="3" height="3" fill="#000"/>
<rect x="177.5" y="442.3" width="3" height="3" fill="#000"/>
<rect x="177.9" y="442.5" width="3" height="3" fill="#000"/>
<rect x="178.3" y="442.6" width="3" height="3" fill="#000"/>
<rect x="178.7" y="442.2" width="3" height="3" fill="#000"/>
<rect x="179.1" y="442" width="3" height="3" fill="#000"/>
<rect x="179.5" y="442" width="3" height="3" fill="#000"/>
<rect x="179.9" y="442.1" width="3" height="3" fill="#000"/>
<rect x="180.3" y="442" width="3" height="3" fill="#000"/>
<rect x="180.7" y="442.7" width="3" height="3" fill="#000"/>
<rect x="181.1" y="442.8" width="3" height="3" fill="#000"/>
<rect x="181.5" y="442.2" width="3" height="3" fill="#000"/>
<rect x="181.9" y="443" width="3" height="3" fill="#000"/>
<rect x="182.3" y="442.9" width="3" height="3" fill="#000"/>
<rect x="182.7" y="442.3" width="3" height="3" fill="#000"/>
<rect x="183.1" y="442.5" width="3" height="3" fill="#000"/>
<rect x="183.5" y="442.1" width="3" height="3" fill="#000"/>
<rect x="183.9" y="443.1" width="3" height="3" fill="#000"/>
<rect x="184.2" y="442.6" width="3" height="3" fill="#000"/>
<rect x="184.6" y="441.9" width="3" height="3" fill="#000"/>
<rect x="185" y="442" width="3" height="3" fill="#000"/>
<rect x="185.4" y="442.8" width="3" height="3" fill="#000"/>
<rect x="185.8" y="442.3" width="3" height="3" fill="#000"/>
<rect x="186.2" y="442.8" width="3" height="3" fill="#000"/>
<rect x="186.6" y="442.1" width="3" height="3" fill="#000"/>
<rect x="187" y="442.9" width="3" height="3" fill="#000"/>
<rect x="187.4" y="442.9" width="3" height="3" fill="#000"/>
<rect x="187.8" y="441.9" width="3" height="3" fill="#000"/>
<rect x="188.2" y="442.6" width="3" height="3" fill="#000"/>
<rect x="188.6" y="442" width="3" height="3" fill="#000"/>
<rect x="189" y="442.8" width="3" height="3" fill="#000"/>
<rect x="189.4" y="442.9" width="3" height="3" fill="#000"/>
<rect x="189.8" y="442.9" width="3" height="3" fill="#000"/>
<rect x="190.2" y="442.1" width="3" height="3" fill="#000"/>
<rect x="190.6" y="441.8" width="3" height="3" fill="#000"/>
<rect x="191" y="442.6" width="3" height="3" fill="#000"/>
<rect x="191.4" y="442.4" width="3" height="3" fill="#000"/>
<rect x="191.8" y="441.8" width="3" height="3" fill="#000"/>
<rect x="192.2" y="441.9" width="3" height="3" fill="#000"/>
<rect x="192.5" y="442.4" width="3" height="3" fill="#000"/>
<rect x="192.9" y="441.7" width="3" height="3" fill="#000"/>
<rect x="193.3" y="442.4" width="3" height="3" fill="#000"/>
<rect x="193.7" y="441.8" width="3" height="3" fill="#000"/>
<rect x="194.1" y="441.6" width="3" height="3" fill="#000"/>
<rect x="194.5" y="441.6" width="3" height="3" fill="#000"/>
<rect x="194.9" y="441.4" width="3" height="3" fill="#000"/>
<rect x="195.3" y="441.4" width="3" height="3" fill="#000"/>
<rect x="195.7" y="440.2" width="3" height="3" fill="#000"/>
<rect x="196.1" y="440.9" width="3" height="3" fill="#000"/>
<rect x="196.5" y="440.2" width="3" height="3" fill="#000"/>
<rect x="196.9" y="440.3" width="3" height="3" fill="#000"/>
<rect x="197.3" y="440.8" width="3" height="3" fill="#000"/>
<rect x="197.7" y="440.8" width="3" height="3" fill="#000"/>
<rect x="198.1" y="440.7" width="3" height="3" fill="#000"/>
<rect x="198.5" y="441.1" width="3" height="3" fill="#000"/>
<rect x="198.9" y="440.1" width="3" height="3" fill="#000"/>
<rect x="199.3" y="440.3" width="3" height="3" fill="#000"/>
<rect x="199.7" y="440.8" width="3" height="3" fill="#000"/>
<rect x="200.1" y="440.2" width="3" height="3" fill="#000"/>
<rect x="200.4" y="440" width="3" height="3" fill="#000"/>
<rect x="200.8" y="440.1" width="3" height="3" fill="#000"/>
<rect x="201.2" y="440.9" width="3" height="3" fill="#000"/>
<rect x="201.6" y="441" width="3" height="3" fill="#000"/>
<rect x="202" y="440.8" width="3" height="3" fill="#000"/>
<rect x="202.4" y="441.1" width="3" height="3" fill="#000"/>
<rect x="202.8" y="440.9" width="3" height="3" fill="#000"/>
<rect x="203.2" y="440.2" width="3" height="3" fill="#000"/>
<rect x="203.6" y="440.2" width="3" height="3" fill="#000"/>
<rect x="204" y="440.8" width="3" height="3" fill="#000"/>
<rect x="204.4" y="439.8" width="3" height="3" fill="#000"/>
<rect x="204.8" y="440.6" width="3" height="3" fill="#000"/>
<rect x="205.2" y="439.9" width="3" height="3" fill="#000"/>
<rect x="205.6" y="439.8" width="3" height="3" fill="#000"/>
<rect x="206" y="440.5" width="3" height="3" fill="#000"/>
<rect x="206.4" y="440" width="3" height="3" fill="#000"/>
<rect x="206.8" y="441" width="3" height="3" fill="#000"/>
<rect x="207.2" y="441" width="3" height="3" fill="#000"/>
<rect x="207.6" y="440.4" width="3" height="3" fill="#000"/>
<rect x="207.9" y="440" width="3" height="3" fill="#000"/>
<rect x="208.3" y="439.9" width="3" height="3" fill="#000"/>
<rect x="208.7" y="440.4" width="3" height="3" fill="#000"/>
<rect x="209.1" y="440.4" width="3" height="3" fill="#000"/>
<rect x="209.5" y="440.2" width="3" height="3" fill="#000"/>
<rect x="209.9" y="440.7" width="3" height="3" fill="#000"/>
<rect x="210.3" y="440.4" width="3" height="3" fill="#000"/>
<rect x="210.7" y="440.8" width="3" height="3" fill="#000"/>
<rect x="211.1" y="439.8" width="3" height="3" fill="#000"/>
<rect x="211.5" y="439.8" width="3" height="3" fill="#000"/>
<rect x="211.9" y="440.2" width="3" height="3" fill="#000"/>
<rect x="212.3" y="440.3" width="3" height="3" fill="#000"/>
<rect x="212.7" y="440" width="3" height="3" fill="#000"/>
<rect x="213.1" y="440.6" width="3" height="3" fill="#000"/>
<rect x="213.5" y="440" width="3" height="3" fill="#000"/>
<rect x="213.9" y="440.1" width="3" height="3" fill="#000"/>
<rect x="214.3" y="440.3" width="3" height="3" fill="#000"/>
<rect x="195.4" y="447.8" width="3.6" height="3.6" fill="#000"/>
<rect x="199.4" y="451.3" width="3.6" height="3.6" fill="#000"/>
<rect x="38" y="479.1" width="3.6" height="3.6" fill="#000"/>
<rect x="38" y="449.7" width="3.6" height="3.6" fill="#000"/>
<rect x="38" y="453.4" width="3.6" height="3.6" fill="#000"/>
<rect x="38.5" y="477.4" width="4" height="4" fill="#fff" stroke="#3aa34a" stroke-width="0.8"/>
<rect x="40.3" y="477.3" width="4" height="4" fill="#fff" stroke="#3aa34a" stroke-width="0.8"/>
<rect x="42.5" y="478.5" width="4" height="4" fill="#fff" stroke="#3aa34a" stroke-width="0.8"/>
<rect x="44.4" y="479" width="4" height="4" fill="#fff" stroke="#3aa34a" stroke-width="0.8"/>
<rect x="46.3" y="481" width="4" height="4" fill="#fff" stroke="#3aa34a" stroke-width="0.8"/>
<rect x="48.2" y="481.5" width="4" height="4" fill="#fff" stroke="#3aa34a" stroke-width="0.8"/>
<rect x="50.4" y="483.4" width="4" height="4" fill="#fff" stroke="#3aa34a" stroke-width="0.8"/>
<rect x="52.1" y="483.9" width="4" height="4" fill="#fff" stroke="#3aa34a" stroke-width="0.8"/>
<rect x="54.2" y="484.7" width="4" height="4" fill="#fff" stroke="#3aa34a" stroke-width="0.8"/>
<rect x="56" y="486.2" width="4" height="4" fill="#fff" stroke="#3aa34a" stroke-width="0.8"/>
<rect x="58.2" y="487.2" width="4" height="4" fill="#fff" stroke="#3aa34a" stroke-width="0.8"/>
<rect x="59.9" y="488.5" width="4" height="4" fill="#fff" stroke="#3aa34a" stroke-width="0.8"/>
<rect x="61.9" y="490.3" width="4" height="4" fill="#fff" stroke="#3aa34a" stroke-width="0.8"/>
<rect x="63.9" y="491" width="4" height="4" fill="#fff" stroke="#3aa34a" stroke-width="0.8"/>
<rect x="66.1" y="492.4" width="4" height="4" fill="#fff" stroke="#3aa34a" stroke-width="0.8"/>
<rect x="67.9" y="493.9" width="4" height="4" fill="#fff" stroke="#3aa34a" stroke-width="0.8"/>
<rect x="69.9" y="496" width="4" height="4" fill="#fff" stroke="#3aa34a" stroke-width="0.8"/>
<rect x="72.1" y="497.2" width="4" height="4" fill="#fff" stroke="#3aa34a" stroke-width="0.8"/>
<rect x="73.8" y="499.4" width="4" height="4" fill="#fff" stroke="#3aa34a" stroke-width="0.8"/>
<rect x="75.9" y="500.6" width="4" height="4" fill="#fff" stroke="#3aa34a" stroke-width="0.8"/>
<rect x="77.7" y="502.1" width="4" height="4" fill="#fff" stroke="#3aa34a" stroke-width="0.8"/>
<rect x="80.1" y="503.6" width="4" height="4" fill="#fff" stroke="#3aa34a" stroke-width="0.8"/>
<rect x="81.7" y="506.2" width="4" height="4" fill="#fff" stroke="#3aa34a" stroke-width="0.8"/>
<rect x="84" y="508.5" width="4" height="4" fill="#fff" stroke="#3aa34a" stroke-width="0.8"/>
<rect x="37.7" y="480.5" width="4.2" height="4.2" fill="#078a10"/>
<rect x="37.8" y="481.3" width="4.2" height="4.2" fill="#078a10"/>
<rect x="38" y="480.1" width="4.2" height="4.2" fill="#078a10"/>
<rect x="38.1" y="481.1" width="4.2" height="4.2" fill="#078a10"/>
<rect x="38.2" y="480.6" width="4.2" height="4.2" fill="#078a10"/>
<rect x="38.2" y="482.3" width="4.2" height="4.2" fill="#078a10"/>
<rect x="38.6" y="479.4" width="4.2" height="4.2" fill="#078a10"/>
<rect x="38.6" y="481.8" width="4.2" height="4.2" fill="#078a10"/>
<rect x="39.2" y="479.2" width="4.2" height="4.2" fill="#078a10"/>
<rect x="39.1" y="481.5" width="4.2" height="4.2" fill="#078a10"/>
<rect x="39.2" y="480.3" width="4.2" height="4.2" fill="#078a10"/>
<rect x="39.3" y="481.3" width="4.2" height="4.2" fill="#078a10"/>
<rect x="39.6" y="480.5" width="4.2" height="4.2" fill="#078a10"/>
<rect x="39.8" y="482.1" width="4.2" height="4.2" fill="#078a10"/>
<rect x="39.8" y="480.4" width="4.2" height="4.2" fill="#078a10"/>
<rect x="40" y="482.7" width="4.2" height="4.2" fill="#078a10"/>
<rect x="40.4" y="479.7" width="4.2" height="4.2" fill="#078a10"/>
<rect x="40.4" y="482.6" width="4.2" height="4.2" fill="#078a10"/>
<rect x="40.5" y="479.8" width="4.2" height="4.2" fill="#078a10"/>
<rect x="40.5" y="481.8" width="4.2" height="4.2" fill="#078a10"/>
<rect x="40.8" y="479.4" width="4.2" height="4.2" fill="#078a10"/>
<rect x="40.8" y="482.8" width="4.2" height="4.2" fill="#078a10"/>
<rect x="41.2" y="480.4" width="4.2" height="4.2" fill="#078a10"/>
<rect x="41.4" y="482.6" width="4.2" height="4.2" fill="#078a10"/>
<rect x="41.4" y="481" width="4.2" height="4.2" fill="#078a10"/>
<rect x="41.7" y="483.1" width="4.2" height="4.2" fill="#078a10"/>
<rect x="41.9" y="480.9" width="4.2" height="4.2" fill="#078a10"/>
<rect x="42" y="482" width="4.2" height="4.2" fill="#078a10"/>
<rect x="42.2" y="480.4" width="4.2" height="4.2" fill="#078a10"/>
<rect x="42.3" y="482" width="4.2" height="4.2" fill="#078a10"/>
<rect x="42.5" y="480.6" width="4.2" height="4.2" fill="#078a10"/>
<rect x="42.6" y="482.6" width="4.2" height="4.2" fill="#078a10"/>
<rect x="42.9" y="481.7" width="4.2" height="4.2" fill="#078a10"/>
<rect x="42.9" y="482.5" width="4.2" height="4.2" fill="#078a10"/>
<rect x="43.3" y="481.8" width="4.2" height="4.2" fill="#078a10"/>
<rect x="43.2" y="483.6" width="4.2" height="4.2" fill="#078a10"/>
<rect x="43.2" y="482.2" width="4.2" height="4.2" fill="#078a10"/>
<rect x="43.4" y="483.5" width="4.2" height="4.2" fill="#078a10"/>
<rect x="43.7" y="482.3" width="4.2" height="4.2" fill="#078a10"/>
<rect x="43.9" y="484.4" width="4.2" height="4.2" fill="#078a10"/>
<rect x="43.9" y="481.7" width="4.2" height="4.2" fill="#078a10"/>
<rect x="44" y="483.3" width="4.2" height="4.2" fill="#078a10"/>
<rect x="44.3" y="481.3" width="4.2" height="4.2" fill="#078a10"/>
<rect x="44.5" y="483.7" width="4.2" height="4.2" fill="#078a10"/>
<rect x="44.5" y="481.6" width="4.2" height="4.2" fill="#078a10"/>
<rect x="44.8" y="483.9" width="4.2" height="4.2" fill="#078a10"/>
<rect x="45" y="482.5" width="4.2" height="4.2" fill="#078a10"/>
<rect x="45.1" y="485.5" width="4.2" height="4.2" fill="#078a10"/>
<rect x="45.2" y="483.1" width="4.2" height="4.2" fill="#078a10"/>
<rect x="45.5" y="484.8" width="4.2" height="4.2" fill="#078a10"/>
<rect x="45.8" y="483.5" width="4.2" height="4.2" fill="#078a10"/>
<rect x="45.6" y="485.8" width="4.2" height="4.2" fill="#078a10"/>
<rect x="46" y="482.6" width="4.2" height="4.2" fill="#078a10"/>
<rect x="46" y="485.9" width="4.2" height="4.2" fill="#078a10"/>
<rect x="46.3" y="483.5" width="4.2" height="4.2" fill="#078a10"/>
<rect x="46.2" y="486.2" width="4.2" height="4.2" fill="#078a10"/>
<rect x="46.7" y="483.2" width="4.2" height="4.2" fill="#078a10"/>
<rect x="46.5" y="485.5" width="4.2" height="4.2" fill="#078a10"/>
<rect x="47.1" y="484.3" width="4.2" height="4.2" fill="#078a10"/>
<rect x="46.8" y="486.7" width="4.2" height="4.2" fill="#078a10"/>
<rect x="47" y="484.3" width="4.2" height="4.2" fill="#078a10"/>
<rect x="47.2" y="486.5" width="4.2" height="4.2" fill="#078a10"/>
<rect x="47.5" y="483.6" width="4.2" height="4.2" fill="#078a10"/>
<rect x="47.5" y="486.9" width="4.2" height="4.2" fill="#078a10"/>
<rect x="48" y="484.2" width="4.2" height="4.2" fill="#078a10"/>
<rect x="47.7" y="486.9" width="4.2" height="4.2" fill="#078a10"/>
<rect x="48.3" y="484.1" width="4.2" height="4.2" fill="#078a10"/>
<rect x="48.3" y="487.5" width="4.2" height="4.2" fill="#078a10"/>
<rect x="48.5" y="484.6" width="4.2" height="4.2" fill="#078a10"/>
<rect x="48.6" y="487.5" width="4.2" height="4.2" fill="#078a10"/>
<rect x="48.7" y="484.6" width="4.2" height="4.2" fill="#078a10"/>
<rect x="48.7" y="487.3" width="4.2" height="4.2" fill="#078a10"/>
<rect x="49" y="485.2" width="4.2" height="4.2" fill="#078a10"/>
<rect x="49.1" y="487.4" width="4.2" height="4.2" fill="#078a10"/>
<rect x="49.3" y="486.1" width="4.2" height="4.2" fill="#078a10"/>
<rect x="49.6" y="487.4" width="4.2" height="4.2" fill="#078a10"/>
<rect x="49.9" y="484.8" width="4.2" height="4.2" fill="#078a10"/>
<rect x="49.9" y="487.5" width="4.2" height="4.2" fill="#078a10"/>
<rect x="50.2" y="486.2" width="4.2" height="4.2" fill="#078a10"/>
<rect x="50" y="488.3" width="4.2" height="4.2" fill="#078a10"/>
<rect x="50.3" y="484.9" width="4.2" height="4.2" fill="#078a10"/>
<rect x="50.4" y="488.4" width="4.2" height="4.2" fill="#078a10"/>
<rect x="50.9" y="486.7" width="4.2" height="4.2" fill="#078a10"/>
<rect x="50.7" y="488.7" width="4.2" height="4.2" fill="#078a10"/>
<rect x="51" y="485.4" width="4.2" height="4.2" fill="#078a10"/>
<rect x="51.1" y="488.6" width="4.2" height="4.2" fill="#078a10"/>
<rect x="51.3" y="486.4" width="4.2" height="4.2" fill="#078a10"/>
<rect x="51.2" y="487.8" width="4.2" height="4.2" fill="#078a10"/>
<rect x="51.6" y="486.4" width="4.2" height="4.2" fill="#078a10"/>
<rect x="51.6" y="487.6" width="4.2" height="4.2" fill="#078a10"/>
<rect x="51.8" y="486.2" width="4.2" height="4.2" fill="#078a10"/>
<rect x="52" y="489" width="4.2" height="4.2" fill="#078a10"/>
<rect x="52.2" y="486.2" width="4.2" height="4.2" fill="#078a10"/>
<rect x="52.3" y="488.1" width="4.2" height="4.2" fill="#078a10"/>
<rect x="52.6" y="487.6" width="4.2" height="4.2" fill="#078a10"/>
<rect x="52.5" y="489" width="4.2" height="4.2" fill="#078a10"/>
<rect x="53" y="487.4" width="4.2" height="4.2" fill="#078a10"/>
<rect x="53" y="489.4" width="4.2" height="4.2" fill="#078a10"/>
<rect x="53.1" y="487.8" width="4.2" height="4.2" fill="#078a10"/>
<rect x="53.4" y="488.3" width="4.2" height="4.2" fill="#078a10"/>
<rect x="53.7" y="487.2" width="4.2" height="4.2" fill="#078a10"/>
<rect x="53.4" y="488.5" width="4.2" height="4.2" fill="#078a10"/>
<rect x="54" y="487.8" width="4.2" height="4.2" fill="#078a10"/>
<rect x="53.7" y="489.4" width="4.2" height="4.2" fill="#078a10"/>
<rect x="54.2" y="488.5" width="4.2" height="4.2" fill="#078a10"/>
<rect x="54.1" y="490.1" width="4.2" height="4.2" fill="#078a10"/>
<rect x="54.4" y="487.2" width="4.2" height="4.2" fill="#078a10"/>
<rect x="54.3" y="489.6" width="4.2" height="4.2" fill="#078a10"/>
<rect x="54.8" y="487.6" width="4.2" height="4.2" fill="#078a10"/>
<rect x="54.7" y="489.4" width="4.2" height="4.2" fill="#078a10"/>
<rect x="55" y="487.5" width="4.2" height="4.2" fill="#078a10"/>
<rect x="55" y="490.1" width="4.2" height="4.2" fill="#078a10"/>
<rect x="55.3" y="488.2" width="4.2" height="4.2" fill="#078a10"/>
<rect x="55.4" y="491.1" width="4.2" height="4.2" fill="#078a10"/>
<rect x="55.7" y="489.2" width="4.2" height="4.2" fill="#078a10"/>
<rect x="55.7" y="489.9" width="4.2" height="4.2" fill="#078a10"/>
<rect x="56.1" y="488" width="4.2" height="4.2" fill="#078a10"/>
<rect x="55.9" y="489.9" width="4.2" height="4.2" fill="#078a10"/>
<rect x="56.5" y="489.7" width="4.2" height="4.2" fill="#078a10"/>
<rect x="56.3" y="490.6" width="4.2" height="4.2" fill="#078a10"/>
<rect x="56.7" y="488.8" width="4.2" height="4.2" fill="#078a10"/>
<rect x="56.8" y="490.9" width="4.2" height="4.2" fill="#078a10"/>
<rect x="56.9" y="489.9" width="4.2" height="4.2" fill="#078a10"/>
<rect x="57" y="490.4" width="4.2" height="4.2" fill="#078a10"/>
<rect x="57.5" y="489.9" width="4.2" height="4.2" fill="#078a10"/>
<rect x="57.3" y="491.7" width="4.2" height="4.2" fill="#078a10"/>
<rect x="57.8" y="489.5" width="4.2" height="4.2" fill="#078a10"/>
<rect x="57.6" y="491.3" width="4.2" height="4.2" fill="#078a10"/>
<rect x="58" y="490.2" width="4.2" height="4.2" fill="#078a10"/>
<rect x="58.1" y="492.7" width="4.2" height="4.2" fill="#078a10"/>
<rect x="58.1" y="489.8" width="4.2" height="4.2" fill="#078a10"/>
<rect x="58.4" y="492.6" width="4.2" height="4.2" fill="#078a10"/>
<rect x="58.6" y="490.6" width="4.2" height="4.2" fill="#078a10"/>
<rect x="58.5" y="493.1" width="4.2" height="4.2" fill="#078a10"/>
<rect x="58.9" y="490.3" width="4.2" height="4.2" fill="#078a10"/>
<rect x="58.8" y="491.8" width="4.2" height="4.2" fill="#078a10"/>
<rect x="59.4" y="491.3" width="4.2" height="4.2" fill="#078a10"/>
<rect x="59" y="492.4" width="4.2" height="4.2" fill="#078a10"/>
<rect x="59.5" y="490.9" width="4.2" height="4.2" fill="#078a10"/>
<rect x="59.5" y="493.6" width="4.2" height="4.2" fill="#078a10"/>
<rect x="59.8" y="491.2" width="4.2" height="4.2" fill="#078a10"/>
<rect x="60" y="493.4" width="4.2" height="4.2" fill="#078a10"/>
<rect x="60.2" y="491" width="4.2" height="4.2" fill="#078a10"/>
<rect x="60.1" y="493.5" width="4.2" height="4.2" fill="#078a10"/>
<rect x="60.6" y="491.1" width="4.2" height="4.2" fill="#078a10"/>
<rect x="60.4" y="493.3" width="4.2" height="4.2" fill="#078a10"/>
<rect x="60.8" y="492.5" width="4.2" height="4.2" fill="#078a10"/>
<rect x="60.8" y="493.3" width="4.2" height="4.2" fill="#078a10"/>
<rect x="61.1" y="492.5" width="4.2" height="4.2" fill="#078a10"/>
<rect x="61" y="494.3" width="4.2" height="4.2" fill="#078a10"/>
<rect x="61.2" y="491.6" width="4.2" height="4.2" fill="#078a10"/>
<rect x="61.3" y="494.7" width="4.2" height="4.2" fill="#078a10"/>
<rect x="61.6" y="491.9" width="4.2" height="4.2" fill="#078a10"/>
<rect x="61.6" y="493.9" width="4.2" height="4.2" fill="#078a10"/>
<rect x="62.2" y="493" width="4.2" height="4.2" fill="#078a10"/>
<rect x="62.2" y="495.4" width="4.2" height="4.2" fill="#078a10"/>
<rect x="62.4" y="493.5" width="4.2" height="4.2" fill="#078a10"/>
<rect x="62.2" y="495.6" width="4.2" height="4.2" fill="#078a10"/>
<rect x="62.7" y="492.4" width="4.2" height="4.2" fill="#078a10"/>
<rect x="62.8" y="495.6" width="4.2" height="4.2" fill="#078a10"/>
<rect x="63" y="492.5" width="4.2" height="4.2" fill="#078a10"/>
<rect x="63.2" y="495.7" width="4.2" height="4.2" fill="#078a10"/>
<rect x="63.4" y="494.3" width="4.2" height="4.2" fill="#078a10"/>
<rect x="63.1" y="494.6" width="4.2" height="4.2" fill="#078a10"/>
<rect x="63.5" y="492.8" width="4.2" height="4.2" fill="#078a10"/>
<rect x="63.7" y="495.9" width="4.2" height="4.2" fill="#078a10"/>
<rect x="63.8" y="493.2" width="4.2" height="4.2" fill="#078a10"/>
<rect x="63.8" y="496" width="4.2" height="4.2" fill="#078a10"/>
<rect x="64.3" y="494.9" width="4.2" height="4.2" fill="#078a10"/>
<rect x="64.2" y="496.9" width="4.2" height="4.2" fill="#078a10"/>
<rect x="64.6" y="494.1" width="4.2" height="4.2" fill="#078a10"/>
<rect x="64.5" y="495.8" width="4.2" height="4.2" fill="#078a10"/>
<rect x="65.1" y="495.4" width="4.2" height="4.2" fill="#078a10"/>
<rect x="65" y="496" width="4.2" height="4.2" fill="#078a10"/>
<rect x="65.1" y="494.2" width="4.2" height="4.2" fill="#078a10"/>
<rect x="65.2" y="497.2" width="4.2" height="4.2" fill="#078a10"/>
<rect x="65.4" y="495.1" width="4.2" height="4.2" fill="#078a10"/>
<rect x="65.6" y="496.2" width="4.2" height="4.2" fill="#078a10"/>
<rect x="65.8" y="495.8" width="4.2" height="4.2" fill="#078a10"/>
<rect x="65.9" y="497.2" width="4.2" height="4.2" fill="#078a10"/>
<rect x="66.3" y="495.8" width="4.2" height="4.2" fill="#078a10"/>
<rect x="66.1" y="497.4" width="4.2" height="4.2" fill="#078a10"/>
<rect x="66.7" y="496.5" width="4.2" height="4.2" fill="#078a10"/>
<rect x="66.7" y="497.9" width="4.2" height="4.2" fill="#078a10"/>
<rect x="66.7" y="495.5" width="4.2" height="4.2" fill="#078a10"/>
<rect x="66.8" y="498.4" width="4.2" height="4.2" fill="#078a10"/>
<rect x="66.9" y="496.9" width="4.2" height="4.2" fill="#078a10"/>
<rect x="67.2" y="498.4" width="4.2" height="4.2" fill="#078a10"/>
<rect x="67.2" y="497.1" width="4.2" height="4.2" fill="#078a10"/>
<rect x="67.4" y="498.9" width="4.2" height="4.2" fill="#078a10"/>
<rect x="67.8" y="497.3" width="4.2" height="4.2" fill="#078a10"/>
<rect x="67.7" y="499.7" width="4.2" height="4.2" fill="#078a10"/>
<rect x="68.3" y="497.9" width="4.2" height="4.2" fill="#078a10"/>
<rect x="68.1" y="498.8" width="4.2" height="4.2" fill="#078a10"/>
<rect x="68.3" y="497" width="4.2" height="4.2" fill="#078a10"/>
<rect x="68.6" y="499.9" width="4.2" height="4.2" fill="#078a10"/>
<rect x="68.8" y="498.2" width="4.2" height="4.2" fill="#078a10"/>
<rect x="68.9" y="500" width="4.2" height="4.2" fill="#078a10"/>
<rect x="68.9" y="498.4" width="4.2" height="4.2" fill="#078a10"/>
<rect x="68.9" y="500.1" width="4.2" height="4.2" fill="#078a10"/>
<rect x="69.2" y="498.8" width="4.2" height="4.2" fill="#078a10"/>
<rect x="69.3" y="499.8" width="4.2" height="4.2" fill="#078a10"/>
<rect x="69.8" y="497.7" width="4.2" height="4.2" fill="#078a10"/>
<rect x="69.8" y="500.9" width="4.2" height="4.2" fill="#078a10"/>
<rect x="69.8" y="499.1" width="4.2" height="4.2" fill="#078a10"/>
<rect x="70" y="501.4" width="4.2" height="4.2" fill="#078a10"/>
<rect x="70.3" y="498.8" width="4.2" height="4.2" fill="#078a10"/>
<rect x="70.5" y="500.2" width="4.2" height="4.2" fill="#078a10"/>
<rect x="70.7" y="498.5" width="4.2" height="4.2" fill="#078a10"/>
<rect x="70.5" y="500.5" width="4.2" height="4.2" fill="#078a10"/>
<rect x="71.1" y="499.3" width="4.2" height="4.2" fill="#078a10"/>
<rect x="71" y="501" width="4.2" height="4.2" fill="#078a10"/>
<rect x="71.3" y="500" width="4.2" height="4.2" fill="#078a10"/>
<rect x="71.1" y="501.7" width="4.2" height="4.2" fill="#078a10"/>
<rect x="71.6" y="499.5" width="4.2" height="4.2" fill="#078a10"/>
<rect x="71.6" y="501.6" width="4.2" height="4.2" fill="#078a10"/>
<rect x="71.8" y="501" width="4.2" height="4.2" fill="#078a10"/>
<rect x="72" y="503.1" width="4.2" height="4.2" fill="#078a10"/>
<rect x="72.2" y="500.6" width="4.2" height="4.2" fill="#078a10"/>
<rect x="72.3" y="503" width="4.2" height="4.2" fill="#078a10"/>
<rect x="72.5" y="501.4" width="4.2" height="4.2" fill="#078a10"/>
<rect x="72.5" y="503.6" width="4.2" height="4.2" fill="#078a10"/>
<rect x="72.8" y="500.3" width="4.2" height="4.2" fill="#078a10"/>
<rect x="72.9" y="502.4" width="4.2" height="4.2" fill="#078a10"/>
<rect x="73.2" y="500.5" width="4.2" height="4.2" fill="#078a10"/>
<rect x="73.3" y="503.3" width="4.2" height="4.2" fill="#078a10"/>
<rect x="73.5" y="500.9" width="4.2" height="4.2" fill="#078a10"/>
<rect x="73.5" y="503.3" width="4.2" height="4.2" fill="#078a10"/>
<rect x="73.7" y="502.3" width="4.2" height="4.2" fill="#078a10"/>
<rect x="73.6" y="503.7" width="4.2" height="4.2" fill="#078a10"/>
<rect x="73.9" y="502.7" width="4.2" height="4.2" fill="#078a10"/>
<rect x="74.2" y="503.2" width="4.2" height="4.2" fill="#078a10"/>
<rect x="74.4" y="502.2" width="4.2" height="4.2" fill="#078a10"/>
<rect x="74.5" y="504.7" width="4.2" height="4.2" fill="#078a10"/>
<rect x="74.6" y="503.3" width="4.2" height="4.2" fill="#078a10"/>
<rect x="74.6" y="503.9" width="4.2" height="4.2" fill="#078a10"/>
<rect x="75.2" y="502.1" width="4.2" height="4.2" fill="#078a10"/>
<rect x="74.9" y="504.8" width="4.2" height="4.2" fill="#078a10"/>
<rect x="75.3" y="502.4" width="4.2" height="4.2" fill="#078a10"/>
<rect x="75.5" y="505" width="4.2" height="4.2" fill="#078a10"/>
<rect x="75.8" y="502.8" width="4.2" height="4.2" fill="#078a10"/>
<rect x="75.8" y="504.8" width="4.2" height="4.2" fill="#078a10"/>
<rect x="76.1" y="503.7" width="4.2" height="4.2" fill="#078a10"/>
<rect x="76.2" y="506" width="4.2" height="4.2" fill="#078a10"/>
<rect x="76.3" y="503.9" width="4.2" height="4.2" fill="#078a10"/>
<rect x="76.4" y="505.7" width="4.2" height="4.2" fill="#078a10"/>
<rect x="76.4" y="504.8" width="4.2" height="4.2" fill="#078a10"/>
<rect x="76.7" y="506.4" width="4.2" height="4.2" fill="#078a10"/>
<rect x="77" y="503.8" width="4.2" height="4.2" fill="#078a10"/>
<rect x="76.9" y="506.9" width="4.2" height="4.2" fill="#078a10"/>
<rect x="77.4" y="505.3" width="4.2" height="4.2" fill="#078a10"/>
<rect x="77.1" y="506.9" width="4.2" height="4.2" fill="#078a10"/>
<rect x="77.6" y="504.6" width="4.2" height="4.2" fill="#078a10"/>
<rect x="77.4" y="506.2" width="4.2" height="4.2" fill="#078a10"/>
<rect x="77.9" y="505.1" width="4.2" height="4.2" fill="#078a10"/>
<rect x="77.8" y="506.8" width="4.2" height="4.2" fill="#078a10"/>
<rect x="78.2" y="505.8" width="4.2" height="4.2" fill="#078a10"/>
<rect x="78.2" y="506.7" width="4.2" height="4.2" fill="#078a10"/>
<rect x="78.7" y="505.3" width="4.2" height="4.2" fill="#078a10"/>
<rect x="78.7" y="508.4" width="4.2" height="4.2" fill="#078a10"/>
<rect x="78.7" y="506" width="4.2" height="4.2" fill="#078a10"/>
<rect x="79" y="507.6" width="4.2" height="4.2" fill="#078a10"/>
<rect x="79.2" y="505.7" width="4.2" height="4.2" fill="#078a10"/>
<rect x="78.9" y="507.6" width="4.2" height="4.2" fill="#078a10"/>
<rect x="79.3" y="505.9" width="4.2" height="4.2" fill="#078a10"/>
<rect x="79.5" y="508.5" width="4.2" height="4.2" fill="#078a10"/>
<rect x="79.9" y="506.9" width="4.2" height="4.2" fill="#078a10"/>
<rect x="79.7" y="509.4" width="4.2" height="4.2" fill="#078a10"/>
<rect x="80.1" y="506.9" width="4.2" height="4.2" fill="#078a10"/>
<rect x="80.2" y="509.1" width="4.2" height="4.2" fill="#078a10"/>
<rect x="80.3" y="507.4" width="4.2" height="4.2" fill="#078a10"/>
<rect x="80.3" y="510" width="4.2" height="4.2" fill="#078a10"/>
<rect x="80.6" y="508.4" width="4.2" height="4.2" fill="#078a10"/>
<rect x="80.5" y="508.6" width="4.2" height="4.2" fill="#078a10"/>
<rect x="81.1" y="507.3" width="4.2" height="4.2" fill="#078a10"/>
<rect x="81" y="509.2" width="4.2" height="4.2" fill="#078a10"/>
<rect x="81.5" y="508.5" width="4.2" height="4.2" fill="#078a10"/>
<rect x="81.4" y="511" width="4.2" height="4.2" fill="#078a10"/>
<rect x="81.9" y="508.9" width="4.2" height="4.2" fill="#078a10"/>
<rect x="81.7" y="509.6" width="4.2" height="4.2" fill="#078a10"/>
<rect x="81.8" y="508.8" width="4.2" height="4.2" fill="#078a10"/>
<rect x="82.2" y="510.6" width="4.2" height="4.2" fill="#078a10"/>
<rect x="82.3" y="508.3" width="4.2" height="4.2" fill="#078a10"/>
<rect x="82.3" y="512" width="4.2" height="4.2" fill="#078a10"/>
<rect x="82.6" y="510.2" width="4.2" height="4.2" fill="#078a10"/>
<rect x="82.4" y="511" width="4.2" height="4.2" fill="#078a10"/>
<rect x="82.8" y="510.5" width="4.2" height="4.2" fill="#078a10"/>
<rect x="82.8" y="512.7" width="4.2" height="4.2" fill="#078a10"/>
<rect x="83.1" y="511" width="4.2" height="4.2" fill="#078a10"/>
<rect x="83.2" y="511.9" width="4.2" height="4.2" fill="#078a10"/>
<rect x="83.7" y="510.4" width="4.2" height="4.2" fill="#078a10"/>
<rect x="83.6" y="511.8" width="4.2" height="4.2" fill="#078a10"/>
<rect x="84" y="511.8" width="4.2" height="4.2" fill="#078a10"/>
<rect x="83.7" y="513.4" width="4.2" height="4.2" fill="#078a10"/>
<rect x="84.1" y="510.7" width="4.2" height="4.2" fill="#078a10"/>
<rect x="84.1" y="513.6" width="4.2" height="4.2" fill="#078a10"/>
<rect x="84.7" y="512.6" width="4.2" height="4.2" fill="#078a10"/>
<rect x="84.7" y="514" width="4.2" height="4.2" fill="#078a10"/>
<rect x="84.9" y="511.6" width="4.2" height="4.2" fill="#078a10"/>
<rect x="84.9" y="514.3" width="4.2" height="4.2" fill="#078a10"/>
<rect x="85.1" y="513.3" width="4.2" height="4.2" fill="#078a10"/>
<rect x="85" y="514" width="4.2" height="4.2" fill="#078a10"/>
<rect x="85.3" y="512.4" width="4.2" height="4.2" fill="#078a10"/>
<rect x="85.5" y="515.6" width="4.2" height="4.2" fill="#078a10"/>
<rect x="85.6" y="513.5" width="4.2" height="4.2" fill="#078a10"/>
<rect x="85.8" y="515.6" width="4.2" height="4.2" fill="#078a10"/>
<rect x="86.1" y="514" width="4.2" height="4.2" fill="#078a10"/>
<rect x="85.9" y="515.1" width="4.2" height="4.2" fill="#078a10"/>
<rect x="86.4" y="513.8" width="4.2" height="4.2" fill="#078a10"/>
<rect x="86.5" y="515.8" width="4.2" height="4.2" fill="#078a10"/>
<rect x="86.8" y="514.3" width="4.2" height="4.2" fill="#078a10"/>
<rect x="86.6" y="516.7" width="4.2" height="4.2" fill="#078a10"/>
<rect x="87" y="514.9" width="4.2" height="4.2" fill="#078a10"/>
<rect x="87.1" y="516.7" width="4.2" height="4.2" fill="#078a10"/>
<rect x="87.4" y="516.3" width="4.2" height="4.2" fill="#078a10"/>
<rect x="87.3" y="517.7" width="4.2" height="4.2" fill="#078a10"/>
<rect x="87.8" y="516.7" width="4.2" height="4.2" fill="#078a10"/>
<rect x="87.5" y="517.8" width="4.2" height="4.2" fill="#078a10"/>
<rect x="87.8" y="517.1" width="4.2" height="4.2" fill="#078a10"/>
<rect x="87.8" y="519.7" width="4.2" height="4.2" fill="#078a10"/>
<rect x="88" y="517.7" width="4.2" height="4.2" fill="#078a10"/>
<rect x="88.1" y="519.9" width="4.2" height="4.2" fill="#078a10"/>
<rect x="88.3" y="518.3" width="4.2" height="4.2" fill="#078a10"/>
<rect x="88.3" y="519.8" width="4.2" height="4.2" fill="#078a10"/>
<rect x="88.9" y="520.1" width="4.2" height="4.2" fill="#078a10"/>
<rect x="88.7" y="520.4" width="4.2" height="4.2" fill="#078a10"/>
<rect x="88.8" y="520.7" width="4.2" height="4.2" fill="#078a10"/>
<rect x="89.1" y="522.8" width="4.2" height="4.2" fill="#078a10"/>
<rect x="89.2" y="523.8" width="4.2" height="4.2" fill="#078a10"/>
<rect x="89.1" y="524.8" width="4.2" height="4.2" fill="#078a10"/>
<rect x="89.6" y="525.3" width="4.2" height="4.2" fill="#078a10"/>
<rect x="89.7" y="527.4" width="4.2" height="4.2" fill="#078a10"/>
<rect x="90" y="525.8" width="4.2" height="4.2" fill="#078a10"/>
<rect x="90" y="527.5" width="4.2" height="4.2" fill="#078a10"/>
<rect x="90.3" y="526.2" width="4.2" height="4.2" fill="#078a10"/>
<rect x="90.4" y="527.2" width="4.2" height="4.2" fill="#078a10"/>
<rect x="90.5" y="527.2" width="4.2" height="4.2" fill="#078a10"/>
<rect x="90.5" y="527.9" width="4.2" height="4.2" fill="#078a10"/>
<rect x="91" y="528.6" width="4.2" height="4.2" fill="#078a10"/>
<rect x="90.8" y="528.6" width="4.2" height="4.2" fill="#078a10"/>
<rect x="91.3" y="527.8" width="4.2" height="4.2" fill="#078a10"/>
<rect x="91.2" y="529.8" width="4.2" height="4.2" fill="#078a10"/>
<rect x="91.5" y="528.2" width="4.2" height="4.2" fill="#078a10"/>
<rect x="91.4" y="530" width="4.2" height="4.2" fill="#078a10"/>
<rect x="92" y="529.9" width="4.2" height="4.2" fill="#078a10"/>
<rect x="91.7" y="530.4" width="4.2" height="4.2" fill="#078a10"/>
<rect x="92.2" y="529.2" width="4.2" height="4.2" fill="#078a10"/>
<rect x="92.2" y="530.9" width="4.2" height="4.2" fill="#078a10"/>
<rect x="92.6" y="529.8" width="4.2" height="4.2" fill="#078a10"/>
<rect x="92.7" y="531.9" width="4.2" height="4.2" fill="#078a10"/>
<rect x="92.8" y="530.1" width="4.2" height="4.2" fill="#078a10"/>
<rect x="92.8" y="531.2" width="4.2" height="4.2" fill="#078a10"/>
<rect x="93.2" y="531.1" width="4.2" height="4.2" fill="#078a10"/>
<rect x="93.1" y="532.7" width="4.2" height="4.2" fill="#078a10"/>
<rect x="93.3" y="531.2" width="4.2" height="4.2" fill="#078a10"/>
<rect x="93.6" y="531.4" width="4.2" height="4.2" fill="#078a10"/>
<rect x="93.7" y="530.3" width="4.2" height="4.2" fill="#078a10"/>
<rect x="93.8" y="532.5" width="4.2" height="4.2" fill="#078a10"/>
<rect x="94" y="531.4" width="4.2" height="4.2" fill="#078a10"/>
<rect x="94" y="532.6" width="4.2" height="4.2" fill="#078a10"/>
<rect x="94.3" y="532" width="4.2" height="4.2" fill="#078a10"/>
<rect x="94.4" y="531.6" width="4.2" height="4.2" fill="#078a10"/>
<rect x="94.5" y="531.7" width="4.2" height="4.2" fill="#078a10"/>
<rect x="94.8" y="532.7" width="4.2" height="4.2" fill="#078a10"/>
<rect x="94.9" y="532" width="4.2" height="4.2" fill="#078a10"/>
<rect x="95.1" y="532" width="4.2" height="4.2" fill="#078a10"/>
<rect x="95.3" y="531.8" width="4.2" height="4.2" fill="#078a10"/>
<rect x="95.1" y="532" width="4.2" height="4.2" fill="#078a10"/>
<rect x="95.6" y="532.2" width="4.2" height="4.2" fill="#078a10"/>
<rect x="95.8" y="532.5" width="4.2" height="4.2" fill="#078a10"/>
<rect x="96.1" y="532.2" width="4.2" height="4.2" fill="#078a10"/>
<rect x="96.1" y="533.1" width="4.2" height="4.2" fill="#078a10"/>
<rect x="96.5" y="532.1" width="4.2" height="4.2" fill="#078a10"/>
<rect x="96.5" y="533.2" width="4.2" height="4.2" fill="#078a10"/>
<rect x="96.5" y="532" width="4.2" height="4.2" fill="#078a10"/>
<rect x="96.6" y="532.9" width="4.2" height="4.2" fill="#078a10"/>
<rect x="96.9" y="532.1" width="4.2" height="4.2" fill="#078a10"/>
<rect x="96.9" y="532.8" width="4.2" height="4.2" fill="#078a10"/>
<rect x="97.1" y="532.2" width="4.2" height="4.2" fill="#078a10"/>
<rect x="97.2" y="533.2" width="4.2" height="4.2" fill="#078a10"/>
<rect x="97.6" y="531.8" width="4.2" height="4.2" fill="#078a10"/>
<rect x="97.6" y="533.1" width="4.2" height="4.2" fill="#078a10"/>
<rect x="98" y="532.7" width="4.2" height="4.2" fill="#078a10"/>
<rect x="98" y="533.6" width="4.2" height="4.2" fill="#078a10"/>
<rect x="98.1" y="533.2" width="4.2" height="4.2" fill="#078a10"/>
<rect x="98.2" y="533.5" width="4.2" height="4.2" fill="#078a10"/>
<rect x="98.4" y="532.5" width="4.2" height="4.2" fill="#078a10"/>
<rect x="98.6" y="534.3" width="4.2" height="4.2" fill="#078a10"/>
<rect x="98.8" y="533.1" width="4.2" height="4.2" fill="#078a10"/>
<rect x="98.7" y="533.8" width="4.2" height="4.2" fill="#078a10"/>
<rect x="99.1" y="532.5" width="4.2" height="4.2" fill="#078a10"/>
<rect x="99.1" y="534.4" width="4.2" height="4.2" fill="#078a10"/>
<rect x="99.5" y="532.5" width="4.2" height="4.2" fill="#078a10"/>
<rect x="99.3" y="534.6" width="4.2" height="4.2" fill="#078a10"/>
<rect x="99.8" y="533.3" width="4.2" height="4.2" fill="#078a10"/>
<rect x="99.8" y="534.6" width="4.2" height="4.2" fill="#078a10"/>
<rect x="100" y="532.5" width="4.2" height="4.2" fill="#078a10"/>
<rect x="100" y="533.6" width="4.2" height="4.2" fill="#078a10"/>
<rect x="100.6" y="533.3" width="4.2" height="4.2" fill="#078a10"/>
<rect x="100.5" y="535.2" width="4.2" height="4.2" fill="#078a10"/>
<rect x="100.8" y="532.9" width="4.2" height="4.2" fill="#078a10"/>
<rect x="100.6" y="534" width="4.2" height="4.2" fill="#078a10"/>
<rect x="101.1" y="533.9" width="4.2" height="4.2" fill="#078a10"/>
<rect x="101" y="534.5" width="4.2" height="4.2" fill="#078a10"/>
<rect x="101.2" y="533.6" width="4.2" height="4.2" fill="#078a10"/>
<rect x="101.4" y="535.4" width="4.2" height="4.2" fill="#078a10"/>
<rect x="101.8" y="534.3" width="4.2" height="4.2" fill="#078a10"/>
<rect x="101.6" y="534.8" width="4.2" height="4.2" fill="#078a10"/>
<rect x="101.9" y="534.5" width="4.2" height="4.2" fill="#078a10"/>
<rect x="101.8" y="534.4" width="4.2" height="4.2" fill="#078a10"/>
<rect x="102.2" y="534.5" width="4.2" height="4.2" fill="#078a10"/>
<rect x="102.4" y="534.8" width="4.2" height="4.2" fill="#078a10"/>
<rect x="102.7" y="534.6" width="4.2" height="4.2" fill="#078a10"/>
<rect x="102.6" y="534.6" width="4.2" height="4.2" fill="#078a10"/>
<rect x="103" y="533.8" width="4.2" height="4.2" fill="#078a10"/>
<rect x="102.8" y="535.9" width="4.2" height="4.2" fill="#078a10"/>
<rect x="103.2" y="533.9" width="4.2" height="4.2" fill="#078a10"/>
<rect x="103.3" y="534.9" width="4.2" height="4.2" fill="#078a10"/>
<rect x="103.4" y="534" width="4.2" height="4.2" fill="#078a10"/>
<rect x="103.5" y="534.6" width="4.2" height="4.2" fill="#078a10"/>
<rect x="103.8" y="534.7" width="4.2" height="4.2" fill="#078a10"/>
<rect x="103.8" y="535.8" width="4.2" height="4.2" fill="#078a10"/>
<rect x="104.2" y="533.9" width="4.2" height="4.2" fill="#078a10"/>
<rect x="104" y="535.8" width="4.2" height="4.2" fill="#078a10"/>
<rect x="104.5" y="534.1" width="4.2" height="4.2" fill="#078a10"/>
<rect x="104.4" y="536.2" width="4.2" height="4.2" fill="#078a10"/>
<rect x="105" y="534.1" width="4.2" height="4.2" fill="#078a10"/>
<rect x="104.8" y="535.8" width="4.2" height="4.2" fill="#078a10"/>
<rect x="105.1" y="533.9" width="4.2" height="4.2" fill="#078a10"/>
<rect x="105.1" y="536" width="4.2" height="4.2" fill="#078a10"/>
<rect x="105.5" y="534.7" width="4.2" height="4.2" fill="#078a10"/>
<rect x="105.3" y="535.4" width="4.2" height="4.2" fill="#078a10"/>
<rect x="105.7" y="534.6" width="4.2" height="4.2" fill="#078a10"/>
<rect x="105.7" y="536.6" width="4.2" height="4.2" fill="#078a10"/>
<rect x="105.9" y="535.6" width="4.2" height="4.2" fill="#078a10"/>
<rect x="106" y="536.6" width="4.2" height="4.2" fill="#078a10"/>
<rect x="106.3" y="535.1" width="4.2" height="4.2" fill="#078a10"/>
<rect x="106.3" y="535.4" width="4.2" height="4.2" fill="#078a10"/>
<rect x="106.8" y="535.5" width="4.2" height="4.2" fill="#078a10"/>
<rect x="106.6" y="536.7" width="4.2" height="4.2" fill="#078a10"/>
<rect x="107" y="535.9" width="4.2" height="4.2" fill="#078a10"/>
<rect x="106.8" y="536.1" width="4.2" height="4.2" fill="#078a10"/>
<rect x="107.2" y="535.4" width="4.2" height="4.2" fill="#078a10"/>
<rect x="107.4" y="536.9" width="4.2" height="4.2" fill="#078a10"/>
<rect x="107.7" y="535.1" width="4.2" height="4.2" fill="#078a10"/>
<rect x="107.8" y="535.8" width="4.2" height="4.2" fill="#078a10"/>
<rect x="107.9" y="535.8" width="4.2" height="4.2" fill="#078a10"/>
<rect x="107.9" y="537.3" width="4.2" height="4.2" fill="#078a10"/>
<rect x="108.1" y="535.4" width="4.2" height="4.2" fill="#078a10"/>
<rect x="108.2" y="535.8" width="4.2" height="4.2" fill="#078a10"/>
<rect x="108.4" y="534.9" width="4.2" height="4.2" fill="#078a10"/>
<rect x="108.5" y="536.6" width="4.2" height="4.2" fill="#078a10"/>
<rect x="108.9" y="535.3" width="4.2" height="4.2" fill="#078a10"/>
<rect x="109" y="536.8" width="4.2" height="4.2" fill="#078a10"/>
<rect x="109.4" y="535.2" width="4.2" height="4.2" fill="#078a10"/>
<rect x="109.2" y="536.9" width="4.2" height="4.2" fill="#078a10"/>
<rect x="109.5" y="536.3" width="4.2" height="4.2" fill="#078a10"/>
<rect x="109.4" y="537.6" width="4.2" height="4.2" fill="#078a10"/>
<rect x="109.8" y="535.6" width="4.2" height="4.2" fill="#078a10"/>
<rect x="109.9" y="537.2" width="4.2" height="4.2" fill="#078a10"/>
<rect x="110.1" y="535.3" width="4.2" height="4.2" fill="#078a10"/>
<rect x="110.4" y="536.9" width="4.2" height="4.2" fill="#078a10"/>
<rect x="110.3" y="536.3" width="4.2" height="4.2" fill="#078a10"/>
<rect x="110.5" y="536.9" width="4.2" height="4.2" fill="#078a10"/>
<rect x="110.7" y="536.6" width="4.2" height="4.2" fill="#078a10"/>
<rect x="110.7" y="537.2" width="4.2" height="4.2" fill="#078a10"/>
<rect x="111.3" y="536" width="4.2" height="4.2" fill="#078a10"/>
<rect x="111.1" y="536.8" width="4.2" height="4.2" fill="#078a10"/>
<rect x="111.5" y="536.5" width="4.2" height="4.2" fill="#078a10"/>
<rect x="111.4" y="537.3" width="4.2" height="4.2" fill="#078a10"/>
<rect x="111.7" y="536.8" width="4.2" height="4.2" fill="#078a10"/>
<rect x="111.7" y="538.1" width="4.2" height="4.2" fill="#078a10"/>
<rect x="112" y="536.8" width="4.2" height="4.2" fill="#078a10"/>
<rect x="111.9" y="537.2" width="4.2" height="4.2" fill="#078a10"/>
<rect x="112.6" y="536.8" width="4.2" height="4.2" fill="#078a10"/>
<rect x="112.5" y="537.7" width="4.2" height="4.2" fill="#078a10"/>
<rect x="112.7" y="536.1" width="4.2" height="4.2" fill="#078a10"/>
<rect x="112.6" y="538" width="4.2" height="4.2" fill="#078a10"/>
<rect x="113.1" y="536.2" width="4.2" height="4.2" fill="#078a10"/>
<rect x="113.1" y="537.3" width="4.2" height="4.2" fill="#078a10"/>
<rect x="113.4" y="536.2" width="4.2" height="4.2" fill="#078a10"/>
<rect x="113.3" y="537.6" width="4.2" height="4.2" fill="#078a10"/>
<rect x="113.7" y="536.2" width="4.2" height="4.2" fill="#078a10"/>
<rect x="113.6" y="538.1" width="4.2" height="4.2" fill="#078a10"/>
<rect x="113.8" y="536.5" width="4.2" height="4.2" fill="#078a10"/>
<rect x="114" y="538.1" width="4.2" height="4.2" fill="#078a10"/>
<rect x="114.3" y="537.3" width="4.2" height="4.2" fill="#078a10"/>
<rect x="114.3" y="537.6" width="4.2" height="4.2" fill="#078a10"/>
<rect x="114.6" y="537.4" width="4.2" height="4.2" fill="#078a10"/>
<rect x="114.6" y="538.5" width="4.2" height="4.2" fill="#078a10"/>
<rect x="114.9" y="536.9" width="4.2" height="4.2" fill="#078a10"/>
<rect x="115.1" y="538.7" width="4.2" height="4.2" fill="#078a10"/>
<rect x="115.3" y="536.4" width="4.2" height="4.2" fill="#078a10"/>
<rect x="115.3" y="537.5" width="4.2" height="4.2" fill="#078a10"/>
<rect x="115.7" y="537.8" width="4.2" height="4.2" fill="#078a10"/>
<rect x="115.6" y="537.9" width="4.2" height="4.2" fill="#078a10"/>
<rect x="116" y="536.6" width="4.2" height="4.2" fill="#078a10"/>
<rect x="116" y="538.3" width="4.2" height="4.2" fill="#078a10"/>
<rect x="116" y="537.8" width="4.2" height="4.2" fill="#078a10"/>
<rect x="116.2" y="538.9" width="4.2" height="4.2" fill="#078a10"/>
<rect x="116.6" y="537.3" width="4.2" height="4.2" fill="#078a10"/>
<rect x="116.6" y="537.9" width="4.2" height="4.2" fill="#078a10"/>
<rect x="117" y="537" width="4.2" height="4.2" fill="#078a10"/>
<rect x="116.6" y="538.2" width="4.2" height="4.2" fill="#078a10"/>
<rect x="117" y="536.6" width="4.2" height="4.2" fill="#078a10"/>
<rect x="117.2" y="537.9" width="4.2" height="4.2" fill="#078a10"/>
<rect x="117.3" y="537.1" width="4.2" height="4.2" fill="#078a10"/>
<rect x="117.4" y="539.3" width="4.2" height="4.2" fill="#078a10"/>
<rect x="117.9" y="538" width="4.2" height="4.2" fill="#078a10"/>
<rect x="118" y="538.5" width="4.2" height="4.2" fill="#078a10"/>
<rect x="118.2" y="537.1" width="4.2" height="4.2" fill="#078a10"/>
<rect x="118.3" y="539.2" width="4.2" height="4.2" fill="#078a10"/>
<rect x="118.5" y="537.1" width="4.2" height="4.2" fill="#078a10"/>
<rect x="118.2" y="539.4" width="4.2" height="4.2" fill="#078a10"/>
<rect x="118.7" y="537.8" width="4.2" height="4.2" fill="#078a10"/>
<rect x="118.9" y="538.2" width="4.2" height="4.2" fill="#078a10"/>
<rect x="119.1" y="537.6" width="4.2" height="4.2" fill="#078a10"/>
<rect x="119.1" y="538.8" width="4.2" height="4.2" fill="#078a10"/>
<rect x="119.2" y="538.4" width="4.2" height="4.2" fill="#078a10"/>
<rect x="119.3" y="539.3" width="4.2" height="4.2" fill="#078a10"/>
<rect x="119.8" y="537.4" width="4.2" height="4.2" fill="#078a10"/>
<rect x="119.7" y="538.8" width="4.2" height="4.2" fill="#078a10"/>
<rect x="119.9" y="537.4" width="4.2" height="4.2" fill="#078a10"/>
<rect x="120.2" y="538.8" width="4.2" height="4.2" fill="#078a10"/>
<rect x="120.3" y="537.9" width="4.2" height="4.2" fill="#078a10"/>
<rect x="120.1" y="539.5" width="4.2" height="4.2" fill="#078a10"/>
<rect x="120.7" y="538.5" width="4.2" height="4.2" fill="#078a10"/>
<rect x="120.6" y="538.7" width="4.2" height="4.2" fill="#078a10"/>
<rect x="120.9" y="538.3" width="4.2" height="4.2" fill="#078a10"/>
<rect x="121" y="539" width="4.2" height="4.2" fill="#078a10"/>
<rect x="121.2" y="537.5" width="4.2" height="4.2" fill="#078a10"/>
<rect x="121.4" y="539.2" width="4.2" height="4.2" fill="#078a10"/>
<rect x="121.6" y="538.5" width="4.2" height="4.2" fill="#078a10"/>
<rect x="121.4" y="539.6" width="4.2" height="4.2" fill="#078a10"/>
<rect x="121.8" y="538.6" width="4.2" height="4.2" fill="#078a10"/>
<rect x="121.7" y="539" width="4.2" height="4.2" fill="#078a10"/>
<rect x="122.2" y="538.2" width="4.2" height="4.2" fill="#078a10"/>
<rect x="122.1" y="539.5" width="4.2" height="4.2" fill="#078a10"/>
<rect x="122.4" y="538.1" width="4.2" height="4.2" fill="#078a10"/>
<rect x="122.3" y="539.9" width="4.2" height="4.2" fill="#078a10"/>
<rect x="122.7" y="538.8" width="4.2" height="4.2" fill="#078a10"/>
<rect x="122.8" y="539.7" width="4.2" height="4.2" fill="#078a10"/>
<rect x="123.2" y="537.7" width="4.2" height="4.2" fill="#078a10"/>
<rect x="123.2" y="539.2" width="4.2" height="4.2" fill="#078a10"/>
<rect x="123.6" y="538.9" width="4.2" height="4.2" fill="#078a10"/>
<rect x="123.5" y="540.1" width="4.2" height="4.2" fill="#078a10"/>
<rect x="123.7" y="538.7" width="4.2" height="4.2" fill="#078a10"/>
<rect x="123.9" y="539.2" width="4.2" height="4.2" fill="#078a10"/>
<rect x="123.9" y="538.4" width="4.2" height="4.2" fill="#078a10"/>
<rect x="124.1" y="539.1" width="4.2" height="4.2" fill="#078a10"/>
<rect x="124.3" y="539.1" width="4.2" height="4.2" fill="#078a10"/>
<rect x="124.4" y="539.2" width="4.2" height="4.2" fill="#078a10"/>
<rect x="124.6" y="538.7" width="4.2" height="4.2" fill="#078a10"/>
<rect x="124.6" y="539.8" width="4.2" height="4.2" fill="#078a10"/>
<rect x="125" y="538.6" width="4.2" height="4.2" fill="#078a10"/>
<rect x="125" y="540.4" width="4.2" height="4.2" fill="#078a10"/>
<rect x="125.2" y="539.4" width="4.2" height="4.2" fill="#078a10"/>
<rect x="125.2" y="539.2" width="4.2" height="4.2" fill="#078a10"/>
<rect x="125.8" y="538.9" width="4.2" height="4.2" fill="#078a10"/>
<rect x="125.7" y="539.5" width="4.2" height="4.2" fill="#078a10"/>
<rect x="126.1" y="538.5" width="4.2" height="4.2" fill="#078a10"/>
<rect x="126.1" y="539.6" width="4.2" height="4.2" fill="#078a10"/>
<rect x="126.3" y="539.1" width="4.2" height="4.2" fill="#078a10"/>
<rect x="126.2" y="540" width="4.2" height="4.2" fill="#078a10"/>
<rect x="126.4" y="539.2" width="4.2" height="4.2" fill="#078a10"/>
<rect x="126.7" y="539.6" width="4.2" height="4.2" fill="#078a10"/>
<rect x="126.9" y="539.4" width="4.2" height="4.2" fill="#078a10"/>
<rect x="126.8" y="540.7" width="4.2" height="4.2" fill="#078a10"/>
<rect x="127.4" y="538.3" width="4.2" height="4.2" fill="#078a10"/>
<rect x="127.1" y="539.6" width="4.2" height="4.2" fill="#078a10"/>
<rect x="127.5" y="538.4" width="4.2" height="4.2" fill="#078a10"/>
<rect x="127.6" y="539.9" width="4.2" height="4.2" fill="#078a10"/>
<rect x="127.8" y="539.1" width="4.2" height="4.2" fill="#078a10"/>
<rect x="127.8" y="540.8" width="4.2" height="4.2" fill="#078a10"/>
<rect x="128.3" y="538.6" width="4.2" height="4.2" fill="#078a10"/>
<rect x="128.1" y="539.6" width="4.2" height="4.2" fill="#078a10"/>
<rect x="128.4" y="538.6" width="4.2" height="4.2" fill="#078a10"/>
<rect x="128.6" y="540.9" width="4.2" height="4.2" fill="#078a10"/>
<rect x="129" y="538.8" width="4.2" height="4.2" fill="#078a10"/>
<rect x="128.6" y="540.9" width="4.2" height="4.2" fill="#078a10"/>
<rect x="129.1" y="540" width="4.2" height="4.2" fill="#078a10"/>
<rect x="129.1" y="540.3" width="4.2" height="4.2" fill="#078a10"/>
<rect x="129.3" y="540.1" width="4.2" height="4.2" fill="#078a10"/>
<rect x="129.5" y="540.5" width="4.2" height="4.2" fill="#078a10"/>
<rect x="129.7" y="539.9" width="4.2" height="4.2" fill="#078a10"/>
<rect x="129.9" y="540.6" width="4.2" height="4.2" fill="#078a10"/>
<rect x="130" y="539.4" width="4.2" height="4.2" fill="#078a10"/>
<rect x="130.2" y="540.6" width="4.2" height="4.2" fill="#078a10"/>
<rect x="130.5" y="539.7" width="4.2" height="4.2" fill="#078a10"/>
<rect x="130.4" y="540.9" width="4.2" height="4.2" fill="#078a10"/>
<rect x="130.6" y="539.7" width="4.2" height="4.2" fill="#078a10"/>
<rect x="130.9" y="540.2" width="4.2" height="4.2" fill="#078a10"/>
<rect x="131" y="540.3" width="4.2" height="4.2" fill="#078a10"/>
<rect x="131.2" y="540.1" width="4.2" height="4.2" fill="#078a10"/>
<rect x="131.4" y="539.9" width="4.2" height="4.2" fill="#078a10"/>
<rect x="131.5" y="540.9" width="4.2" height="4.2" fill="#078a10"/>
<rect x="131.5" y="539.5" width="4.2" height="4.2" fill="#078a10"/>
<rect x="131.8" y="541.4" width="4.2" height="4.2" fill="#078a10"/>
<rect x="131.9" y="540.1" width="4.2" height="4.2" fill="#078a10"/>
<rect x="132" y="541.3" width="4.2" height="4.2" fill="#078a10"/>
<rect x="132.1" y="539.8" width="4.2" height="4.2" fill="#078a10"/>
<rect x="132.2" y="541.2" width="4.2" height="4.2" fill="#078a10"/>
<rect x="132.6" y="539.4" width="4.2" height="4.2" fill="#078a10"/>
<rect x="132.7" y="540.8" width="4.2" height="4.2" fill="#078a10"/>
<rect x="133" y="539.7" width="4.2" height="4.2" fill="#078a10"/>
<rect x="133" y="541.7" width="4.2" height="4.2" fill="#078a10"/>
<rect x="133.1" y="540.4" width="4.2" height="4.2" fill="#078a10"/>
<rect x="133.1" y="542" width="4.2" height="4.2" fill="#078a10"/>
<rect x="133.4" y="540.5" width="4.2" height="4.2" fill="#078a10"/>
<rect x="133.5" y="540.8" width="4.2" height="4.2" fill="#078a10"/>
<rect x="133.8" y="540.2" width="4.2" height="4.2" fill="#078a10"/>
<rect x="133.8" y="540.8" width="4.2" height="4.2" fill="#078a10"/>
<rect x="134.2" y="539.9" width="4.2" height="4.2" fill="#078a10"/>
<rect x="134.4" y="541.2" width="4.2" height="4.2" fill="#078a10"/>
<rect x="134.5" y="539.8" width="4.2" height="4.2" fill="#078a10"/>
<rect x="134.7" y="541.2" width="4.2" height="4.2" fill="#078a10"/>
<rect x="134.9" y="540.9" width="4.2" height="4.2" fill="#078a10"/>
<rect x="134.8" y="541.9" width="4.2" height="4.2" fill="#078a10"/>
<rect x="135.1" y="539.7" width="4.2" height="4.2" fill="#078a10"/>
<rect x="135" y="541.5" width="4.2" height="4.2" fill="#078a10"/>
<rect x="135.6" y="540" width="4.2" height="4.2" fill="#078a10"/>
<rect x="135.4" y="542" width="4.2" height="4.2" fill="#078a10"/>
<rect x="135.7" y="539.9" width="4.2" height="4.2" fill="#078a10"/>
<rect x="135.8" y="541.6" width="4.2" height="4.2" fill="#078a10"/>
<rect x="136.3" y="541.2" width="4.2" height="4.2" fill="#078a10"/>
<rect x="136" y="541.8" width="4.2" height="4.2" fill="#078a10"/>
<rect x="136.4" y="539.8" width="4.2" height="4.2" fill="#078a10"/>
<rect x="136.4" y="542.5" width="4.2" height="4.2" fill="#078a10"/>
<rect x="136.6" y="540.8" width="4.2" height="4.2" fill="#078a10"/>
<rect x="136.8" y="541.1" width="4.2" height="4.2" fill="#078a10"/>
<rect x="137.2" y="540.1" width="4.2" height="4.2" fill="#078a10"/>
<rect x="137" y="542.2" width="4.2" height="4.2" fill="#078a10"/>
<rect x="137.2" y="540.5" width="4.2" height="4.2" fill="#078a10"/>
<rect x="137.2" y="541.9" width="4.2" height="4.2" fill="#078a10"/>
<rect x="137.5" y="540.2" width="4.2" height="4.2" fill="#078a10"/>
<rect x="137.6" y="541.3" width="4.2" height="4.2" fill="#078a10"/>
<rect x="137.8" y="540.4" width="4.2" height="4.2" fill="#078a10"/>
<rect x="138" y="541.5" width="4.2" height="4.2" fill="#078a10"/>
<rect x="138.4" y="540.8" width="4.2" height="4.2" fill="#078a10"/>
<rect x="138.2" y="541.7" width="4.2" height="4.2" fill="#078a10"/>
<rect x="138.8" y="540.2" width="4.2" height="4.2" fill="#078a10"/>
<rect x="138.7" y="541.5" width="4.2" height="4.2" fill="#078a10"/>
<rect x="139.1" y="540.9" width="4.2" height="4.2" fill="#078a10"/>
<rect x="139" y="542.8" width="4.2" height="4.2" fill="#078a10"/>
<rect x="139.1" y="540.4" width="4.2" height="4.2" fill="#078a10"/>
<rect x="139.3" y="542.4" width="4.2" height="4.2" fill="#078a10"/>
<rect x="139.7" y="540.8" width="4.2" height="4.2" fill="#078a10"/>
<rect x="139.6" y="541.8" width="4.2" height="4.2" fill="#078a10"/>
<rect x="139.9" y="540.8" width="4.2" height="4.2" fill="#078a10"/>
<rect x="139.9" y="542.1" width="4.2" height="4.2" fill="#078a10"/>
<rect x="140.1" y="541.5" width="4.2" height="4.2" fill="#078a10"/>
<rect x="140" y="542.9" width="4.2" height="4.2" fill="#078a10"/>
<rect x="140.5" y="540.8" width="4.2" height="4.2" fill="#078a10"/>
<rect x="140.4" y="542.5" width="4.2" height="4.2" fill="#078a10"/>
<rect x="140.8" y="541.7" width="4.2" height="4.2" fill="#078a10"/>
<rect x="140.8" y="542.4" width="4.2" height="4.2" fill="#078a10"/>
<rect x="141.3" y="541" width="4.2" height="4.2" fill="#078a10"/>
<rect x="141.3" y="543.2" width="4.2" height="4.2" fill="#078a10"/>
<rect x="141.7" y="542.1" width="4.2" height="4.2" fill="#078a10"/>
<rect x="141.4" y="543.1" width="4.2" height="4.2" fill="#078a10"/>
<rect x="141.8" y="541" width="4.2" height="4.2" fill="#078a10"/>
<rect x="142" y="542.9" width="4.2" height="4.2" fill="#078a10"/>
<rect x="142.2" y="541.6" width="4.2" height="4.2" fill="#078a10"/>
<rect x="141.9" y="543.3" width="4.2" height="4.2" fill="#078a10"/>
<rect x="142.3" y="541.2" width="4.2" height="4.2" fill="#078a10"/>
<rect x="142.5" y="542.3" width="4.2" height="4.2" fill="#078a10"/>
<rect x="142.7" y="542" width="4.2" height="4.2" fill="#078a10"/>
<rect x="142.6" y="543.1" width="4.2" height="4.2" fill="#078a10"/>
<rect x="142.9" y="541.6" width="4.2" height="4.2" fill="#078a10"/>
<rect x="143.1" y="543.2" width="4.2" height="4.2" fill="#078a10"/>
<rect x="143.2" y="541.2" width="4.2" height="4.2" fill="#078a10"/>
<rect x="143.5" y="542.7" width="4.2" height="4.2" fill="#078a10"/>
<rect x="143.6" y="541.5" width="4.2" height="4.2" fill="#078a10"/>
<rect x="143.8" y="543.3" width="4.2" height="4.2" fill="#078a10"/>
<rect x="144.1" y="541.6" width="4.2" height="4.2" fill="#078a10"/>
<rect x="144" y="543" width="4.2" height="4.2" fill="#078a10"/>
<rect x="144.2" y="542.6" width="4.2" height="4.2" fill="#078a10"/>
<rect x="144.5" y="543.5" width="4.2" height="4.2" fill="#078a10"/>
<rect x="144.8" y="541.8" width="4.2" height="4.2" fill="#078a10"/>
<rect x="144.8" y="542.7" width="4.2" height="4.2" fill="#078a10"/>
<rect x="145" y="542.3" width="4.2" height="4.2" fill="#078a10"/>
<rect x="145.1" y="543.7" width="4.2" height="4.2" fill="#078a10"/>
<rect x="145.4" y="541.6" width="4.2" height="4.2" fill="#078a10"/>
<rect x="145.4" y="543.1" width="4.2" height="4.2" fill="#078a10"/>
<rect x="145.5" y="541.8" width="4.2" height="4.2" fill="#078a10"/>
<rect x="145.7" y="543.8" width="4.2" height="4.2" fill="#078a10"/>
<rect x="146" y="542.3" width="4.2" height="4.2" fill="#078a10"/>
<rect x="145.8" y="542.7" width="4.2" height="4.2" fill="#078a10"/>
<rect x="146.2" y="541.7" width="4.2" height="4.2" fill="#078a10"/>
<rect x="146.1" y="542.7" width="4.2" height="4.2" fill="#078a10"/>
<rect x="146.4" y="542.5" width="4.2" height="4.2" fill="#078a10"/>
<rect x="146.4" y="543.9" width="4.2" height="4.2" fill="#078a10"/>
<rect x="146.8" y="542.8" width="4.2" height="4.2" fill="#078a10"/>
<rect x="146.8" y="543" width="4.2" height="4.2" fill="#078a10"/>
<rect x="147.1" y="541.5" width="4.2" height="4.2" fill="#078a10"/>
<rect x="147.1" y="543.3" width="4.2" height="4.2" fill="#078a10"/>
<rect x="147.3" y="542.9" width="4.2" height="4.2" fill="#078a10"/>
<rect x="147.4" y="542.7" width="4.2" height="4.2" fill="#078a10"/>
<rect x="148" y="541.9" width="4.2" height="4.2" fill="#078a10"/>
<rect x="147.7" y="542.8" width="4.2" height="4.2" fill="#078a10"/>
<rect x="147.9" y="542.7" width="4.2" height="4.2" fill="#078a10"/>
<rect x="148.1" y="543.6" width="4.2" height="4.2" fill="#078a10"/>
<rect x="148.3" y="542.1" width="4.2" height="4.2" fill="#078a10"/>
<rect x="148.6" y="543.4" width="4.2" height="4.2" fill="#078a10"/>
<rect x="148.9" y="543.1" width="4.2" height="4.2" fill="#078a10"/>
<rect x="148.6" y="544.2" width="4.2" height="4.2" fill="#078a10"/>
<rect x="148.9" y="542.9" width="4.2" height="4.2" fill="#078a10"/>
<rect x="149.2" y="544" width="4.2" height="4.2" fill="#078a10"/>
<rect x="149.4" y="543.1" width="4.2" height="4.2" fill="#078a10"/>
<rect x="149.2" y="543.8" width="4.2" height="4.2" fill="#078a10"/>
<rect x="149.6" y="542.5" width="4.2" height="4.2" fill="#078a10"/>
<rect x="149.6" y="544.1" width="4.2" height="4.2" fill="#078a10"/>
<rect x="150" y="543.1" width="4.2" height="4.2" fill="#078a10"/>
<rect x="150" y="544" width="4.2" height="4.2" fill="#078a10"/>
<rect x="150.5" y="543.2" width="4.2" height="4.2" fill="#078a10"/>
<rect x="150.3" y="543.6" width="4.2" height="4.2" fill="#078a10"/>
<rect x="150.8" y="542.5" width="4.2" height="4.2" fill="#078a10"/>
<rect x="150.5" y="543.7" width="4.2" height="4.2" fill="#078a10"/>
<rect x="151" y="543.5" width="4.2" height="4.2" fill="#078a10"/>
<rect x="151" y="544.3" width="4.2" height="4.2" fill="#078a10"/>
<rect x="151.4" y="543.3" width="4.2" height="4.2" fill="#078a10"/>
<rect x="151.2" y="544" width="4.2" height="4.2" fill="#078a10"/>
<rect x="151.7" y="542.6" width="4.2" height="4.2" fill="#078a10"/>
<rect x="151.4" y="544.3" width="4.2" height="4.2" fill="#078a10"/>
<rect x="152" y="542.5" width="4.2" height="4.2" fill="#078a10"/>
<rect x="152" y="544.8" width="4.2" height="4.2" fill="#078a10"/>
<rect x="152.1" y="542.4" width="4.2" height="4.2" fill="#078a10"/>
<rect x="152.2" y="543.9" width="4.2" height="4.2" fill="#078a10"/>
<rect x="152.7" y="543.8" width="4.2" height="4.2" fill="#078a10"/>
<rect x="152.5" y="544.7" width="4.2" height="4.2" fill="#078a10"/>
<rect x="152.9" y="542.5" width="4.2" height="4.2" fill="#078a10"/>
<rect x="153" y="543.7" width="4.2" height="4.2" fill="#078a10"/>
<rect x="153" y="543" width="4.2" height="4.2" fill="#078a10"/>
<rect x="153" y="544.3" width="4.2" height="4.2" fill="#078a10"/>
<rect x="153.4" y="543.9" width="4.2" height="4.2" fill="#078a10"/>
<rect x="153.4" y="544.9" width="4.2" height="4.2" fill="#078a10"/>
<rect x="153.9" y="543.3" width="4.2" height="4.2" fill="#078a10"/>
<rect x="153.7" y="544.1" width="4.2" height="4.2" fill="#078a10"/>
<rect x="154.1" y="543.1" width="4.2" height="4.2" fill="#078a10"/>
<rect x="154.2" y="544.5" width="4.2" height="4.2" fill="#078a10"/>
<rect x="154.3" y="543.5" width="4.2" height="4.2" fill="#078a10"/>
<rect x="154.6" y="544" width="4.2" height="4.2" fill="#078a10"/>
<rect x="154.7" y="542.6" width="4.2" height="4.2" fill="#078a10"/>
<rect x="154.6" y="543.8" width="4.2" height="4.2" fill="#078a10"/>
<rect x="155" y="543.9" width="4.2" height="4.2" fill="#078a10"/>
<rect x="155.1" y="545.3" width="4.2" height="4.2" fill="#078a10"/>
<rect x="155.5" y="543.6" width="4.2" height="4.2" fill="#078a10"/>
<rect x="155.4" y="543.9" width="4.2" height="4.2" fill="#078a10"/>
<rect x="155.6" y="543.1" width="4.2" height="4.2" fill="#078a10"/>
<rect x="155.7" y="544" width="4.2" height="4.2" fill="#078a10"/>
<rect x="156" y="543.3" width="4.2" height="4.2" fill="#078a10"/>
<rect x="156" y="544.6" width="4.2" height="4.2" fill="#078a10"/>
<rect x="156.2" y="543.9" width="4.2" height="4.2" fill="#078a10"/>
<rect x="156.4" y="544.9" width="4.2" height="4.2" fill="#078a10"/>
<rect x="156.5" y="543.8" width="4.2" height="4.2" fill="#078a10"/>
<rect x="156.8" y="545.6" width="4.2" height="4.2" fill="#078a10"/>
<rect x="157.1" y="542.9" width="4.2" height="4.2" fill="#078a10"/>
<rect x="157.1" y="545.1" width="4.2" height="4.2" fill="#078a10"/>
<rect x="157.2" y="544.4" width="4.2" height="4.2" fill="#078a10"/>
<rect x="157.4" y="545.5" width="4.2" height="4.2" fill="#078a10"/>
<rect x="157.5" y="543.9" width="4.2" height="4.2" fill="#078a10"/>
<rect x="157.5" y="544.6" width="4.2" height="4.2" fill="#078a10"/>
<rect x="158" y="544" width="4.2" height="4.2" fill="#078a10"/>
<rect x="157.8" y="545.1" width="4.2" height="4.2" fill="#078a10"/>
<rect x="158.4" y="543.9" width="4.2" height="4.2" fill="#078a10"/>
<rect x="158.4" y="545.1" width="4.2" height="4.2" fill="#078a10"/>
<rect x="158.7" y="543.1" width="4.2" height="4.2" fill="#078a10"/>
<rect x="158.5" y="545.2" width="4.2" height="4.2" fill="#078a10"/>
<rect x="158.9" y="544.7" width="4.2" height="4.2" fill="#078a10"/>
<rect x="158.9" y="545.1" width="4.2" height="4.2" fill="#078a10"/>
<rect x="159.2" y="544" width="4.2" height="4.2" fill="#078a10"/>
<rect x="159.2" y="545.9" width="4.2" height="4.2" fill="#078a10"/>
<rect x="159.3" y="543.7" width="4.2" height="4.2" fill="#078a10"/>
<rect x="159.6" y="544.5" width="4.2" height="4.2" fill="#078a10"/>
<rect x="159.9" y="543.3" width="4.2" height="4.2" fill="#078a10"/>
<rect x="159.9" y="545.7" width="4.2" height="4.2" fill="#078a10"/>
<rect x="160" y="543.8" width="4.2" height="4.2" fill="#078a10"/>
<rect x="160" y="545.6" width="4.2" height="4.2" fill="#078a10"/>
<rect x="160.4" y="544.2" width="4.2" height="4.2" fill="#078a10"/>
<rect x="160.4" y="545.4" width="4.2" height="4.2" fill="#078a10"/>
<rect x="160.9" y="544.5" width="4.2" height="4.2" fill="#078a10"/>
<rect x="160.9" y="544.9" width="4.2" height="4.2" fill="#078a10"/>
<rect x="161.1" y="543.9" width="4.2" height="4.2" fill="#078a10"/>
<rect x="161" y="545.8" width="4.2" height="4.2" fill="#078a10"/>
<rect x="161.2" y="544.3" width="4.2" height="4.2" fill="#078a10"/>
<rect x="161.5" y="546.1" width="4.2" height="4.2" fill="#078a10"/>
<rect x="161.5" y="543.8" width="4.2" height="4.2" fill="#078a10"/>
<rect x="161.7" y="546.1" width="4.2" height="4.2" fill="#078a10"/>
<rect x="161.9" y="544.8" width="4.2" height="4.2" fill="#078a10"/>
<rect x="162" y="545.5" width="4.2" height="4.2" fill="#078a10"/>
<rect x="162.5" y="543.6" width="4.2" height="4.2" fill="#078a10"/>
<rect x="162.3" y="544.9" width="4.2" height="4.2" fill="#078a10"/>
<rect x="162.5" y="544" width="4.2" height="4.2" fill="#078a10"/>
<rect x="162.7" y="545.6" width="4.2" height="4.2" fill="#078a10"/>
<rect x="162.8" y="544.8" width="4.2" height="4.2" fill="#078a10"/>
<rect x="163" y="544.9" width="4.2" height="4.2" fill="#078a10"/>
<rect x="163.4" y="544.9" width="4.2" height="4.2" fill="#078a10"/>
<rect x="163.2" y="546.2" width="4.2" height="4.2" fill="#078a10"/>
<rect x="163.7" y="543.9" width="4.2" height="4.2" fill="#078a10"/>
<rect x="163.4" y="546.2" width="4.2" height="4.2" fill="#078a10"/>
<rect x="164" y="543.8" width="4.2" height="4.2" fill="#078a10"/>
<rect x="164" y="546" width="4.2" height="4.2" fill="#078a10"/>
<rect x="164.3" y="545" width="4.2" height="4.2" fill="#078a10"/>
<rect x="164.4" y="545.4" width="4.2" height="4.2" fill="#078a10"/>
<rect x="164.7" y="545.1" width="4.2" height="4.2" fill="#078a10"/>
<rect x="164.5" y="546" width="4.2" height="4.2" fill="#078a10"/>
<rect x="164.9" y="545.1" width="4.2" height="4.2" fill="#078a10"/>
<rect x="164.9" y="545.3" width="4.2" height="4.2" fill="#078a10"/>
<rect x="165.1" y="544.6" width="4.2" height="4.2" fill="#078a10"/>
<rect x="165" y="546.3" width="4.2" height="4.2" fill="#078a10"/>
<rect x="165.6" y="544.2" width="4.2" height="4.2" fill="#078a10"/>
<rect x="165.6" y="546" width="4.2" height="4.2" fill="#078a10"/>
<rect x="165.6" y="545" width="4.2" height="4.2" fill="#078a10"/>
<rect x="165.9" y="545.5" width="4.2" height="4.2" fill="#078a10"/>
<rect x="166" y="544.3" width="4.2" height="4.2" fill="#078a10"/>
<rect x="166.2" y="545.8" width="4.2" height="4.2" fill="#078a10"/>
<rect x="166.6" y="544.1" width="4.2" height="4.2" fill="#078a10"/>
<rect x="166.3" y="545.6" width="4.2" height="4.2" fill="#078a10"/>
<rect x="166.9" y="544.1" width="4.2" height="4.2" fill="#078a10"/>
<rect x="166.6" y="546.3" width="4.2" height="4.2" fill="#078a10"/>
<rect x="166.9" y="545" width="4.2" height="4.2" fill="#078a10"/>
<rect x="166.9" y="545.5" width="4.2" height="4.2" fill="#078a10"/>
<rect x="167.4" y="545.3" width="4.2" height="4.2" fill="#078a10"/>
<rect x="167.3" y="545.9" width="4.2" height="4.2" fill="#078a10"/>
<rect x="167.5" y="544.5" width="4.2" height="4.2" fill="#078a10"/>
<rect x="167.6" y="546.4" width="4.2" height="4.2" fill="#078a10"/>
<rect x="168.1" y="545.3" width="4.2" height="4.2" fill="#078a10"/>
<rect x="168" y="546.3" width="4.2" height="4.2" fill="#078a10"/>
<rect x="168.2" y="544.7" width="4.2" height="4.2" fill="#078a10"/>
<rect x="168.2" y="545.7" width="4.2" height="4.2" fill="#078a10"/>
<rect x="168.7" y="544.4" width="4.2" height="4.2" fill="#078a10"/>
<rect x="168.6" y="545.7" width="4.2" height="4.2" fill="#078a10"/>
<rect x="169.1" y="545.1" width="4.2" height="4.2" fill="#078a10"/>
<rect x="168.9" y="545.9" width="4.2" height="4.2" fill="#078a10"/>
<rect x="169.4" y="545.6" width="4.2" height="4.2" fill="#078a10"/>
<rect x="169.3" y="546.2" width="4.2" height="4.2" fill="#078a10"/>
<rect x="169.7" y="544.6" width="4.2" height="4.2" fill="#078a10"/>
<rect x="169.5" y="545.5" width="4.2" height="4.2" fill="#078a10"/>
<rect x="169.9" y="545.4" width="4.2" height="4.2" fill="#078a10"/>
<rect x="169.8" y="546.1" width="4.2" height="4.2" fill="#078a10"/>
<rect x="170.4" y="545" width="4.2" height="4.2" fill="#078a10"/>
<rect x="170.2" y="546.8" width="4.2" height="4.2" fill="#078a10"/>
<rect x="170.7" y="544.9" width="4.2" height="4.2" fill="#078a10"/>
<rect x="170.4" y="546.5" width="4.2" height="4.2" fill="#078a10"/>
<rect x="170.9" y="545.8" width="4.2" height="4.2" fill="#078a10"/>
<rect x="170.9" y="546" width="4.2" height="4.2" fill="#078a10"/>
<rect x="171.2" y="544.8" width="4.2" height="4.2" fill="#078a10"/>
<rect x="171.1" y="546.3" width="4.2" height="4.2" fill="#078a10"/>
<rect x="171.6" y="545.8" width="4.2" height="4.2" fill="#078a10"/>
<rect x="171.7" y="546.3" width="4.2" height="4.2" fill="#078a10"/>
<rect x="172" y="544.6" width="4.2" height="4.2" fill="#078a10"/>
<rect x="172" y="546.6" width="4.2" height="4.2" fill="#078a10"/>
<rect x="172.3" y="545.1" width="4.2" height="4.2" fill="#078a10"/>
<rect x="172.3" y="545.7" width="4.2" height="4.2" fill="#078a10"/>
<rect x="172.6" y="545.8" width="4.2" height="4.2" fill="#078a10"/>
<rect x="172.4" y="547" width="4.2" height="4.2" fill="#078a10"/>
<rect x="172.6" y="545.7" width="4.2" height="4.2" fill="#078a10"/>
<rect x="172.7" y="546.3" width="4.2" height="4.2" fill="#078a10"/>
<rect x="172.9" y="545.8" width="4.2" height="4.2" fill="#078a10"/>
<rect x="173.2" y="545.8" width="4.2" height="4.2" fill="#078a10"/>
<rect x="173.6" y="544.9" width="4.2" height="4.2" fill="#078a10"/>
<rect x="173.3" y="546.4" width="4.2" height="4.2" fill="#078a10"/>
<rect x="173.7" y="546" width="4.2" height="4.2" fill="#078a10"/>
<rect x="173.9" y="546.8" width="4.2" height="4.2" fill="#078a10"/>
<rect x="174" y="544.8" width="4.2" height="4.2" fill="#078a10"/>
<rect x="173.8" y="546.6" width="4.2" height="4.2" fill="#078a10"/>
<rect x="174.4" y="545.3" width="4.2" height="4.2" fill="#078a10"/>
<rect x="174.5" y="546.5" width="4.2" height="4.2" fill="#078a10"/>
<rect x="174.6" y="545.3" width="4.2" height="4.2" fill="#078a10"/>
<rect x="174.5" y="547.4" width="4.2" height="4.2" fill="#078a10"/>
<rect x="175" y="545.6" width="4.2" height="4.2" fill="#078a10"/>
<rect x="174.9" y="546.3" width="4.2" height="4.2" fill="#078a10"/>
<rect x="175.2" y="545.5" width="4.2" height="4.2" fill="#078a10"/>
<rect x="175.3" y="547.5" width="4.2" height="4.2" fill="#078a10"/>
<rect x="175.6" y="545.1" width="4.2" height="4.2" fill="#078a10"/>
<rect x="175.4" y="546.2" width="4.2" height="4.2" fill="#078a10"/>
<rect x="175.8" y="546" width="4.2" height="4.2" fill="#078a10"/>
<rect x="176.1" y="546.4" width="4.2" height="4.2" fill="#078a10"/>
<rect x="176.3" y="545.5" width="4.2" height="4.2" fill="#078a10"/>
<rect x="176.2" y="546.8" width="4.2" height="4.2" fill="#078a10"/>
<rect x="176.4" y="544.9" width="4.2" height="4.2" fill="#078a10"/>
<rect x="176.6" y="547.1" width="4.2" height="4.2" fill="#078a10"/>
<rect x="176.8" y="546.3" width="4.2" height="4.2" fill="#078a10"/>
<rect x="177" y="546.5" width="4.2" height="4.2" fill="#078a10"/>
<rect x="177" y="545.7" width="4.2" height="4.2" fill="#078a10"/>
<rect x="177.2" y="546.4" width="4.2" height="4.2" fill="#078a10"/>
<rect x="177.3" y="545.6" width="4.2" height="4.2" fill="#078a10"/>
<rect x="177.3" y="547.2" width="4.2" height="4.2" fill="#078a10"/>
<rect x="177.9" y="545.3" width="4.2" height="4.2" fill="#078a10"/>
<rect x="177.8" y="546.4" width="4.2" height="4.2" fill="#078a10"/>
<rect x="178" y="545.2" width="4.2" height="4.2" fill="#078a10"/>
<rect x="178.2" y="546.8" width="4.2" height="4.2" fill="#078a10"/>
<rect x="178.5" y="545.4" width="4.2" height="4.2" fill="#078a10"/>
<rect x="178.6" y="547" width="4.2" height="4.2" fill="#078a10"/>
<rect x="178.8" y="545.5" width="4.2" height="4.2" fill="#078a10"/>
<rect x="178.8" y="546.4" width="4.2" height="4.2" fill="#078a10"/>
<rect x="179.3" y="546" width="4.2" height="4.2" fill="#078a10"/>
<rect x="179.1" y="547.1" width="4.2" height="4.2" fill="#078a10"/>
<rect x="179.2" y="545.5" width="4.2" height="4.2" fill="#078a10"/>
<rect x="179.3" y="547.5" width="4.2" height="4.2" fill="#078a10"/>
<rect x="179.5" y="545.6" width="4.2" height="4.2" fill="#078a10"/>
<rect x="179.8" y="547.4" width="4.2" height="4.2" fill="#078a10"/>
<rect x="180.1" y="545.4" width="4.2" height="4.2" fill="#078a10"/>
<rect x="179.9" y="547.3" width="4.2" height="4.2" fill="#078a10"/>
<rect x="180.3" y="546.1" width="4.2" height="4.2" fill="#078a10"/>
<rect x="180.3" y="547.4" width="4.2" height="4.2" fill="#078a10"/>
<rect x="180.7" y="546.3" width="4.2" height="4.2" fill="#078a10"/>
<rect x="180.8" y="546.8" width="4.2" height="4.2" fill="#078a10"/>
<rect x="181.2" y="545" width="4.2" height="4.2" fill="#078a10"/>
<rect x="181.1" y="546.2" width="4.2" height="4.2" fill="#078a10"/>
<rect x="181.3" y="545.6" width="4.2" height="4.2" fill="#078a10"/>
<rect x="181.4" y="546.7" width="4.2" height="4.2" fill="#078a10"/>
<rect x="181.5" y="546.3" width="4.2" height="4.2" fill="#078a10"/>
<rect x="181.6" y="547.4" width="4.2" height="4.2" fill="#078a10"/>
<rect x="181.9" y="545.1" width="4.2" height="4.2" fill="#078a10"/>
<rect x="182" y="546.6" width="4.2" height="4.2" fill="#078a10"/>
<rect x="182.2" y="545" width="4.2" height="4.2" fill="#078a10"/>
<rect x="182.1" y="547.3" width="4.2" height="4.2" fill="#078a10"/>
<rect x="182.6" y="546.1" width="4.2" height="4.2" fill="#078a10"/>
<rect x="182.5" y="547.4" width="4.2" height="4.2" fill="#078a10"/>
<rect x="182.9" y="545.4" width="4.2" height="4.2" fill="#078a10"/>
<rect x="182.9" y="547.2" width="4.2" height="4.2" fill="#078a10"/>
<rect x="183.3" y="545.4" width="4.2" height="4.2" fill="#078a10"/>
<rect x="183.1" y="546.8" width="4.2" height="4.2" fill="#078a10"/>
<rect x="183.3" y="545.6" width="4.2" height="4.2" fill="#078a10"/>
<rect x="183.6" y="547.2" width="4.2" height="4.2" fill="#078a10"/>
<rect x="183.7" y="546.3" width="4.2" height="4.2" fill="#078a10"/>
<rect x="183.7" y="547.5" width="4.2" height="4.2" fill="#078a10"/>
<rect x="184" y="545.3" width="4.2" height="4.2" fill="#078a10"/>
<rect x="184" y="547.1" width="4.2" height="4.2" fill="#078a10"/>
<rect x="184.3" y="546.5" width="4.2" height="4.2" fill="#078a10"/>
<rect x="184.6" y="546.8" width="4.2" height="4.2" fill="#078a10"/>
<rect x="184.9" y="546.2" width="4.2" height="4.2" fill="#078a10"/>
<rect x="184.8" y="546.7" width="4.2" height="4.2" fill="#078a10"/>
<rect x="185.3" y="546.7" width="4.2" height="4.2" fill="#078a10"/>
<rect x="184.9" y="546.9" width="4.2" height="4.2" fill="#078a10"/>
<rect x="185.3" y="545.5" width="4.2" height="4.2" fill="#078a10"/>
<rect x="185.4" y="547.8" width="4.2" height="4.2" fill="#078a10"/>
<rect x="185.5" y="546.5" width="4.2" height="4.2" fill="#078a10"/>
<rect x="185.6" y="546.4" width="4.2" height="4.2" fill="#078a10"/>
<rect x="186.2" y="545.6" width="4.2" height="4.2" fill="#078a10"/>
<rect x="185.9" y="546.6" width="4.2" height="4.2" fill="#078a10"/>
<rect x="186.3" y="545.4" width="4.2" height="4.2" fill="#078a10"/>
<rect x="186.2" y="546.8" width="4.2" height="4.2" fill="#078a10"/>
<rect x="186.7" y="545.9" width="4.2" height="4.2" fill="#078a10"/>
<rect x="186.6" y="547.2" width="4.2" height="4.2" fill="#078a10"/>
<rect x="187.1" y="546.4" width="4.2" height="4.2" fill="#078a10"/>
<rect x="186.9" y="547.9" width="4.2" height="4.2" fill="#078a10"/>
<rect x="187.4" y="546.1" width="4.2" height="4.2" fill="#078a10"/>
<rect x="187.3" y="547" width="4.2" height="4.2" fill="#078a10"/>
<rect x="187.5" y="546.7" width="4.2" height="4.2" fill="#078a10"/>
<rect x="187.6" y="546.6" width="4.2" height="4.2" fill="#078a10"/>
<rect x="188.1" y="546.7" width="4.2" height="4.2" fill="#078a10"/>
<rect x="187.7" y="547.6" width="4.2" height="4.2" fill="#078a10"/>
<rect x="188.1" y="546.1" width="4.2" height="4.2" fill="#078a10"/>
<rect x="188.4" y="547" width="4.2" height="4.2" fill="#078a10"/>
<rect x="188.5" y="546.3" width="4.2" height="4.2" fill="#078a10"/>
<rect x="188.4" y="547.5" width="4.2" height="4.2" fill="#078a10"/>
<rect x="188.8" y="546.9" width="4.2" height="4.2" fill="#078a10"/>
<rect x="188.7" y="547.6" width="4.2" height="4.2" fill="#078a10"/>
<rect x="189" y="545.7" width="4.2" height="4.2" fill="#078a10"/>
<rect x="189" y="546.7" width="4.2" height="4.2" fill="#078a10"/>
<rect x="189.5" y="545.6" width="4.2" height="4.2" fill="#078a10"/>
<rect x="189.6" y="546.7" width="4.2" height="4.2" fill="#078a10"/>
<rect x="189.9" y="546.7" width="4.2" height="4.2" fill="#078a10"/>
<rect x="189.7" y="546.9" width="4.2" height="4.2" fill="#078a10"/>
<rect x="190.2" y="546.1" width="4.2" height="4.2" fill="#078a10"/>
<rect x="190.3" y="547.1" width="4.2" height="4.2" fill="#078a10"/>
<rect x="190.4" y="546.9" width="4.2" height="4.2" fill="#078a10"/>
<rect x="190.4" y="548.1" width="4.2" height="4.2" fill="#078a10"/>
<rect x="190.9" y="545.7" width="4.2" height="4.2" fill="#078a10"/>
<rect x="190.8" y="548.1" width="4.2" height="4.2" fill="#078a10"/>
<rect x="190.9" y="546.7" width="4.2" height="4.2" fill="#078a10"/>
<rect x="191.2" y="547.8" width="4.2" height="4.2" fill="#078a10"/>
<rect x="191.4" y="545.6" width="4.2" height="4.2" fill="#078a10"/>
<rect x="191.6" y="546.8" width="4.2" height="4.2" fill="#078a10"/>
<rect x="191.8" y="546.6" width="4.2" height="4.2" fill="#078a10"/>
<rect x="191.6" y="547.7" width="4.2" height="4.2" fill="#078a10"/>
<rect x="192" y="546.6" width="4.2" height="4.2" fill="#078a10"/>
<rect x="191.8" y="548.1" width="4.2" height="4.2" fill="#078a10"/>
<rect x="192.3" y="546.7" width="4.2" height="4.2" fill="#078a10"/>
<rect x="192.3" y="547.9" width="4.2" height="4.2" fill="#078a10"/>
<rect x="192.6" y="546.3" width="4.2" height="4.2" fill="#078a10"/>
<rect x="192.5" y="547.4" width="4.2" height="4.2" fill="#078a10"/>
<rect x="192.8" y="546.8" width="4.2" height="4.2" fill="#078a10"/>
<rect x="193" y="547.3" width="4.2" height="4.2" fill="#078a10"/>
<rect x="195.5" y="552.2" width="5.2" height="5.2" fill="#078a10"/>
<rect x="196.2" y="551.6" width="5.2" height="5.2" fill="#078a10"/>
<rect x="196.9" y="552.5" width="5.2" height="5.2" fill="#078a10"/>
<rect x="197.6" y="552" width="5.2" height="5.2" fill="#078a10"/>
<rect x="198.5" y="552.7" width="5.2" height="5.2" fill="#078a10"/>
<rect x="198.7" y="559.1" width="5.2" height="5.2" fill="#078a10"/>
<rect x="199.3" y="558.5" width="5.2" height="5.2" fill="#078a10"/>
<rect x="200.4" y="558.9" width="5.2" height="5.2" fill="#078a10"/>
<rect x="200.8" y="558.9" width="5.2" height="5.2" fill="#078a10"/>
<rect x="202" y="559.6" width="5.2" height="5.2" fill="#078a10"/>
<rect x="203.4" y="563.5" width="5.2" height="5.2" fill="#078a10"/>
<rect x="204.8" y="564.1" width="5.2" height="5.2" fill="#078a10"/>
<rect x="205.9" y="563.8" width="5.2" height="5.2" fill="#078a10"/>
<rect x="207" y="564.6" width="5.2" height="5.2" fill="#078a10"/>
<rect x="208" y="564.3" width="5.2" height="5.2" fill="#078a10"/>
<rect x="209.1" y="564.9" width="5.2" height="5.2" fill="#078a10"/>
<rect x="210.3" y="565" width="5.2" height="5.2" fill="#078a10"/>
<rect x="211.8" y="565" width="5.2" height="5.2" fill="#078a10"/>
<rect x="212.6" y="565.1" width="5.2" height="5.2" fill="#078a10"/>
<rect x="214" y="565" width="5.2" height="5.2" fill="#078a10"/>
<rect x="37.7" y="444.6" width="4.2" height="4.2" fill="#fff" stroke="#3aa34a" stroke-width="0.9"/>
<rect x="37.7" y="475.7" width="4.2" height="4.2" fill="#fff" stroke="#3aa34a" stroke-width="0.9"/>
<path d="M185.5,442.7 L185.5,465.7" fill="none" stroke="#000" stroke-width="0.9" stroke-dasharray="1.3,1.1"/>
<path d="M185.5,465.7 L206.9,465.7" fill="none" stroke="#000" stroke-width="1.1" stroke-dasharray="2.8,1.6"/>
<path d="M211.9,465.7 L205.4,462.5 L207.3,465.7 L205.4,468.9 Z" fill="#000"/>
<rect x="168.4" y="579.4" width="63.3" height="22.1" fill="#fff" stroke="#808080" stroke-width="1"/>
<rect x="171.1" y="582.9" width="4.2" height="4.2" fill="#fff" stroke="#3aa34a" stroke-width="0.9"/>
<rect x="170.7" y="592.7" width="5" height="5" fill="#078a10"/>
<text x="183.8" y="587.6" font-size="10.6" textLength="33.1" lengthAdjust="spacingAndGlyphs" >Charge</text>
<text x="183.8" y="597.2" font-size="10.6" textLength="46.3" lengthAdjust="spacingAndGlyphs" >Discharge</text>
<line x1="42.4" y1="467.7" x2="79.2" y2="467.7" stroke="#a6d98f" stroke-width="1.4" />
<path d="M81.6,467.7 L77.6,465.1 L77.6,470.3 Z" fill="#a6d98f"/>
<path d="M40,467.7 L44,465.1 L44,470.3 Z" fill="#a6d98f"/>
<line x1="98" y1="502.8" x2="194.4" y2="502.8" stroke="#a6d98f" stroke-width="1.4" />
<path d="M196.8,502.8 L192.8,500.2 L192.8,505.4 Z" fill="#a6d98f"/>
<path d="M95.6,502.8 L99.6,500.2 L99.6,505.4 Z" fill="#a6d98f"/>
<text x="60.9" y="464.3" font-size="9.2" text-anchor="middle" fill="#3d9b3d" textLength="22.8" lengthAdjust="spacingAndGlyphs" >0.01C</text>
<text x="148.1" y="499.4" font-size="9.2" text-anchor="middle" fill="#3d9b3d" textLength="18.5" lengthAdjust="spacingAndGlyphs" >0.1C</text>
<text x="73" y="524" font-size="8.4" text-anchor="middle" fill="#3d9b3d" textLength="20.8" lengthAdjust="spacingAndGlyphs" >0.02C</text>
<text x="77.2" y="530.2" font-size="8.4" text-anchor="middle" fill="#3d9b3d" textLength="19.9" lengthAdjust="spacingAndGlyphs" >0.05C</text>
<text x="185.5" y="559.1" font-size="8.6" text-anchor="middle" fill="#3d9b3d" textLength="15.1" lengthAdjust="spacingAndGlyphs" >0.2C</text>
<text x="190" y="564.8" font-size="8.6" text-anchor="middle" fill="#3d9b3d" textLength="15.3" lengthAdjust="spacingAndGlyphs" >0.5C</text>
<text x="211.6" y="563.3" font-size="8.6" text-anchor="middle" fill="#3d9b3d" textLength="9.1" lengthAdjust="spacingAndGlyphs" >1C</text>
<text x="218" y="577" font-size="8.6" text-anchor="middle" fill="#3d9b3d" textLength="9.1" lengthAdjust="spacingAndGlyphs" >5C</text>
<path d="M280.5,156.8 L280.5,30.4 L457.6,30.4 L457.6,156.8" fill="none" stroke="#454545" stroke-width="1.1"/>
<line x1="280" y1="156.8" x2="458.1" y2="156.8" stroke="#454545" stroke-width="1.1" />
<clipPath id="c2a"><rect x="280.5" y="30.4" width="177.1" height="126.4"/></clipPath>
<g clip-path="url(#c2a)">
<polyline points="280.5,96.1 280.5,102.5 280.4,111.8 280.4,122.2 280.4,131.6 280.5,138.1 280.7,141.1 281,141.8 281.4,141.2 281.8,140.3 282.3,140.1 282.8,140.5 283.5,141 284.2,141.4 284.9,141.8 285.8,142.1 286.7,142.4 287.6,142.7 288.6,142.9 289.8,143.2 291.5,143.6 293.7,144.1 296.3,144.8 299.2,145.5 302.1,146.2 304.9,146.9 307.5,147.5 310,148.2 312.6,148.8 315.3,149.5 318.4,150.1 322,150.9 326.2,151.7 330.4,152.4 334.4,153.2 337.8,153.8 340.7,154.2 343.2,154.6 345.3,155 347.1,155.2 348.4,155.4" fill="none" stroke="#ff2a2a" stroke-width="0.9" stroke-linejoin="round" />
<polyline points="280.5,96.1 280.5,102.6 280.4,112 280.4,122.5 280.4,132 280.5,138.6 280.7,141.5 281,142.1 281.4,141.4 281.8,140.4 282.3,140.1 282.8,140.5 283.5,140.9 284.2,141.3 284.9,141.8 285.8,142.1 286.7,142.4 287.6,142.7 288.6,142.9 289.8,143.2 291.5,143.6 293.7,144.1 296.3,144.8 299.2,145.5 302.1,146.2 304.9,146.9 307.5,147.5 310,148.2 312.6,148.8 315.3,149.5 318.4,150.1 322,150.9 326.1,151.7 330.3,152.4 334.3,153.2 337.8,153.8 340.9,154.2 343.6,154.6 346.1,155 348.1,155.2 349.6,155.4" fill="none" stroke="#2a2aff" stroke-width="0.9" stroke-linejoin="round" />
<polyline points="280.5,63.3 280.5,74.5 280.4,91.1 280.4,109.5 280.4,126.1 280.5,137.6 280.7,142.7 281,143.8 281.4,142.6 281.8,140.8 282.3,140.1 282.8,140.6 283.5,141 284.2,141.4 284.9,141.8 285.8,142.1 286.7,142.4 287.6,142.7 288.6,142.9 289.8,143.2 291.5,143.6 293.7,144.1 296.3,144.8 299.2,145.5 302.1,146.2 304.9,146.9 307.5,147.5 310,148.2 312.6,148.8 315.3,149.5 318.4,150.1 322,150.9 326.1,151.7 330.3,152.4 334.3,153.2 337.8,153.8 340.9,154.2 343.9,154.6 346.5,155 348.6,155.2 350.2,155.4" fill="none" stroke="#1a9a1a" stroke-width="0.9" stroke-linejoin="round" />
<polyline points="280.5,96.1 280.5,102.3 280.4,111.4 280.4,121.5 280.4,130.7 280.5,137.1 280.7,140.1 281,141.1 281.4,140.8 281.8,140.2 282.3,140.1 282.8,140.6 283.5,141 284.2,141.4 284.9,141.8 285.8,142.1 286.7,142.4 287.6,142.7 288.6,142.9 289.8,143.2 291.5,143.6 293.7,144.1 296.3,144.8 299.2,145.5 302.1,146.2 304.9,146.9 307.5,147.5 310,148.2 312.6,148.8 315.3,149.5 318.4,150.1 322,150.9 326,151.7 330.2,152.4 334.2,153.2 337.8,153.8 341.1,154.2 344.3,154.6 347.2,155 349.6,155.2 351.3,155.4" fill="none" stroke="#ff9a2a" stroke-width="0.9" stroke-linejoin="round" />
<polyline points="280.5,95.1 280.5,101.4 280.4,110.5 280.4,120.7 280.4,130 280.5,136.6 280.7,139.7 281,140.8 281.4,140.6 281.8,140.1 282.3,140.1 282.8,140.6 283.5,141.1 284.2,141.4 284.9,141.8 285.8,142.1 286.7,142.4 287.6,142.7 288.6,142.9 289.8,143.2 291.5,143.6 293.7,144.1 296.3,144.8 299.2,145.5 302.1,146.2 304.9,146.9 307.5,147.5 310,148.2 312.6,148.8 315.3,149.5 318.4,150.1 322,150.9 326,151.7 330.1,152.4 334.2,153.2 337.8,153.8 341.2,154.2 344.5,154.6 347.6,155 350.1,155.2 351.9,155.4" fill="none" stroke="#ff2aff" stroke-width="0.9" stroke-linejoin="round" />
<polyline points="280.5,152.4 280.9,151.6 281.4,150.5 282,149.2 282.7,147.9 283.4,147 284,146.4 284.7,146 285.3,145.7 286.1,145.5 287,145.2 288,144.9 289,144.7 290.2,144.4 291.6,144.1 293.3,143.6 295.3,142.9 297.6,142.1 300.1,141.2 302.6,140.2 304.9,139.4 307.1,138.6 309.1,137.9 311.1,137.2 313.1,136.5 314.9,135.8 316.7,135.1 318.4,134.4 320,133.7 321.6,133.1 323.2,132.4 324.8,131.7 326.5,131 328,130.3 329.5,129.6 330.7,129 331.6,128.5 332.2,128.1 332.7,127.7 333.1,127.2 333.6,126.7 334.2,126.1 334.8,125.6 335.4,124.9 335.9,124.2 336.5,123.3 337,122.4 337.6,121.3 338.1,120.1 338.6,118.9 338.9,117.5 339.2,116 339.4,114.3 339.6,112.5 339.7,110.8 339.8,109.1 340,107.6 340.2,106 340.4,104.6 340.5,103.1 340.7,101.7 340.8,100.5 340.8,99.6 340.9,98.6 340.9,97.2 341,95.1 341.1,92.6 341.2,89.8 341.2,86.5 341.3,82 341.4,75.9 341.6,67 341.7,55.5 341.9,43.4 342.1,32.7 342.2,25.3" fill="none" stroke="#ff2a2a" stroke-width="0.9" stroke-linejoin="round" />
<polyline points="280.5,152.4 280.9,151.6 281.4,150.5 282,149.2 282.7,147.9 283.4,147 284,146.4 284.7,146 285.3,145.7 286.1,145.5 287,145.2 288,144.9 289,144.7 290.2,144.4 291.6,144.1 293.3,143.6 295.3,142.9 297.6,142.1 300.1,141.2 302.6,140.2 304.9,139.4 307.1,138.6 309.1,137.9 311.1,137.2 313.1,136.5 314.9,135.8 316.7,135.1 318.3,134.4 320,133.7 321.6,133.1 323.2,132.4 324.9,131.7 326.7,131.1 328.4,130.4 330.1,129.7 331.4,129.1 332.5,128.5 333.4,127.8 334.2,127.2 334.9,126.5 335.6,125.8 336.5,125 337.4,124.2 338.3,123.3 339.1,122.5 339.8,121.6 340.4,120.8 340.8,120 341.2,119.3 341.5,118.4 341.8,117.5 342.2,116.5 342.4,115.4 342.7,114.3 342.9,113 343.1,111.6 343.3,110.1 343.5,108.5 343.6,106.8 343.7,105.1 343.8,103.4 343.9,102 344,100.8 344,99.6 344.1,97.8 344.1,95.1 344.2,91.6 344.3,87.6 344.5,82.9 344.6,77.3 344.7,70.8 344.9,62.4 345.1,52 345.2,41.3 345.4,31.9 345.5,25.3" fill="none" stroke="#2a2aff" stroke-width="0.9" stroke-linejoin="round" />
<polyline points="280.5,152.4 280.9,151.6 281.4,150.5 282,149.2 282.7,147.9 283.4,147 284,146.4 284.7,146 285.3,145.7 286.1,145.5 287,145.2 288,144.9 289,144.7 290.2,144.4 291.6,144.1 293.3,143.6 295.3,142.9 297.6,142.1 300.1,141.2 302.6,140.2 304.9,139.4 307.1,138.6 309.1,137.9 311.1,137.2 313.1,136.5 314.9,135.8 316.7,135.1 318.3,134.4 320,133.7 321.6,133.1 323.2,132.4 324.9,131.7 326.6,131.1 328.4,130.4 330,129.7 331.4,129.1 332.7,128.4 333.8,127.8 334.7,127.2 335.6,126.5 336.6,125.8 337.5,125.1 338.5,124.3 339.4,123.6 340.3,122.8 341,121.9 341.6,121 342.1,120 342.6,119 343,118 343.4,116.9 343.7,115.6 344.1,114.4 344.4,113 344.6,111.7 344.8,110.3 345,108.9 345.2,107.5 345.3,106.1 345.3,104.7 345.4,103.2 345.5,101.9 345.6,100.8 345.6,99.6 345.7,97.8 345.8,95.1 345.9,91.6 346.1,87.6 346.2,82.9 346.4,77.3 346.6,70.8 346.9,62.4 347.2,52 347.6,41.3 347.9,31.9 348.1,25.3" fill="none" stroke="#1a9a1a" stroke-width="0.9" stroke-linejoin="round" />
<polyline points="280.5,152.4 280.9,151.6 281.4,150.5 282,149.2 282.7,147.9 283.4,147 284,146.4 284.7,146 285.3,145.7 286.1,145.5 287,145.2 288,144.9 289,144.7 290.2,144.4 291.6,144.1 293.3,143.6 295.3,142.9 297.6,142.1 300.1,141.2 302.6,140.2 304.9,139.4 307.1,138.6 309.1,137.9 311.1,137.2 313.1,136.5 314.9,135.8 316.7,135.1 318.3,134.4 320,133.7 321.6,133.1 323.2,132.4 324.9,131.7 326.6,131.1 328.3,130.4 329.9,129.7 331.4,129.1 332.9,128.4 334.3,127.8 335.7,127.1 337,126.5 338.1,125.8 339.1,125.2 340.1,124.5 340.9,123.9 341.6,123.2 342.3,122.5 342.9,121.7 343.5,120.9 344,120 344.4,119.2 344.8,118.3 345.1,117.3 345.4,116.4 345.6,115.4 345.8,114.4 346,113.3 346.2,112.2 346.4,111.1 346.5,109.9 346.7,108.7 346.8,107.5 346.9,106.4 347,105.2 347.1,104.1 347.1,102.9 347.2,101.7 347.3,100.6 347.3,99.7 347.4,98.7 347.4,97.3 347.5,95.1 347.6,92.1 347.7,88.4 347.8,84.3 347.9,80 348,75.9 348.1,71.6 348.2,66.9 348.3,62.4 348.3,58.4 348.4,55.7" fill="none" stroke="#ff9a2a" stroke-width="0.9" stroke-linejoin="round" />
<polyline points="280.5,152.4 280.9,151.6 281.4,150.5 282,149.2 282.7,147.9 283.4,147 284,146.4 284.7,146 285.3,145.7 286.1,145.5 287,145.2 288,144.9 289,144.7 290.2,144.4 291.6,144.1 293.3,143.6 295.3,142.9 297.6,142.1 300.1,141.2 302.6,140.2 304.9,139.4 307.1,138.6 309.1,137.9 311.1,137.2 313.1,136.5 314.9,135.8 316.7,135.1 318.3,134.4 320,133.7 321.6,133.1 323.2,132.4 324.9,131.7 326.6,131.1 328.2,130.4 329.9,129.7 331.4,129.1 332.9,128.4 334.4,127.8 335.8,127.1 337.1,126.5 338.2,125.8 339.3,125.2 340.2,124.5 341,123.9 341.8,123.2 342.5,122.5 343.1,121.7 343.7,120.9 344.1,120 344.6,119.2 345,118.3 345.3,117.3 345.6,116.4 345.8,115.4 346,114.4 346.2,113.3 346.4,112.2 346.6,111.1 346.7,109.9 346.8,108.7 347,107.5 347.1,106.4 347.2,105.2 347.2,104.1 347.3,102.9 347.4,101.7 347.4,100.6 347.5,99.7 347.6,98.7 347.6,97.3 347.7,95.1 347.8,92.1 347.9,88.3 348,84.2 348.1,79.9 348.2,75.9 348.2,71.8 348.3,67.3 348.4,63 348.5,59.3 348.6,56.7" fill="none" stroke="#ff2aff" stroke-width="0.9" stroke-linejoin="round" />
<polyline points="280.5,25.3 280.5,27.1 280.5,29.7 280.5,32.7 280.5,35.4 280.5,37.5 280.6,38.8 280.6,39.6 280.7,40.2 280.8,40.6 281,41 281.2,41.4 281.4,41.6 281.6,41.8 281.9,41.9 282.3,42 282.7,42.2 283.3,42.2 283.9,42.3 284.5,42.4 285.2,42.4 285.9,42.4 286.5,42.4 287.3,42.4 288.2,42.4 289.5,42.5 291.2,42.9 293.3,43.3 295.7,43.9 297.9,44.4 299.9,44.8 301.6,45.2 303.2,45.5 304.6,45.8 306,46.1 307.4,46.3 308.9,46.4 310.3,46.5 311.7,46.5 313,46.6 314.1,46.8 315.1,47 315.9,47.3 316.6,47.7 317.3,48.1 317.9,48.6 318.4,49.1 318.9,49.5 319.3,50.1 319.7,50.9 320.1,52.3 320.5,54.2 320.8,56.6 321.1,59.4 321.3,62.2 321.6,65.1 321.8,67.9 322,70.7 322.1,73.6 322.2,76.7 322.4,80 322.5,83.6 322.5,87.2 322.6,91 322.6,95.1 322.7,99.6 322.8,104.7 322.8,110.5 322.8,116.4 322.9,121.7 323.1,126 323.3,129 323.6,131 323.9,132.5 324.2,133.7 324.6,135 325,136.5 325.4,137.8 325.9,139 326.3,140.1 326.8,141 327.4,141.8 327.9,142.5 328.5,143.1 329.1,143.6 329.9,144 330.6,144.4 331.3,144.7 332,144.9 333,145.1 334.3,145.2 336,145.3 337.9,145.4 340,145.4 342.4,145.5 344.8,145.5 347.6,145.6 350.7,145.8 354,145.9 357,146.1 359.8,146.2 362,146.4 363.9,146.5 365.7,146.6 367.5,146.8 369.8,147 372.4,147.2 375.3,147.5 378.4,147.8 381.5,148.1 384.4,148.5 387.1,148.7 389.7,149 392.3,149.3 394.9,149.6 397.7,150 400.7,150.5 404,151 407.2,151.6 410.4,152.2 413.3,152.8 416.1,153.3 418.9,154 421.4,154.6 423.5,155.1 425.1,155.5" fill="none" stroke="#333" stroke-width="0.9" stroke-linejoin="round" />
<polyline points="280.5,150.5 280.5,149.9 280.4,149 280.4,148 280.5,147 280.7,146.1 281,145.5 281.4,144.9 281.9,144.3 282.6,143.9 283.4,143.4 284.3,143 285.4,142.7 286.6,142.4 288.1,142.1 289.7,141.6 291.5,141.1 293.5,140.4 295.7,139.7 298,138.9 300.5,138 303.2,137 306.3,135.8 309.4,134.6 312.4,133.4 314.9,132.4 317,131.5 318.9,130.7 320.5,129.9 321.9,129.1 323.2,128.3 324.2,127.6 324.9,126.9 325.5,126.1 326,125.2 326.5,124.1 326.9,122.8 327.3,121.3 327.6,119.7 327.9,117.8 328.1,115.8 328.4,113.5 328.5,110.9 328.7,108.2 328.8,105.7 329,103.4 329.1,101.8 329.2,100.8 329.2,99.7 329.3,98 329.4,95.1 329.6,90.8 329.7,85.4 329.9,79.3 330.1,72.7 330.4,65.8 330.7,57.8 331.1,48.5 331.5,39.1 331.8,31 332,25.3" fill="none" stroke="#333" stroke-width="0.9" stroke-linejoin="round" />
</g>
<line x1="280.5" y1="156.8" x2="282.7" y2="156.8" stroke="#333" stroke-width="0.9" />
<line x1="457.6" y1="156.8" x2="455.4" y2="156.8" stroke="#333" stroke-width="0.9" />
<line x1="280.5" y1="131.5" x2="282.7" y2="131.5" stroke="#333" stroke-width="0.9" />
<line x1="457.6" y1="131.5" x2="455.4" y2="131.5" stroke="#333" stroke-width="0.9" />
<line x1="280.5" y1="106.2" x2="282.7" y2="106.2" stroke="#333" stroke-width="0.9" />
<line x1="457.6" y1="106.2" x2="455.4" y2="106.2" stroke="#333" stroke-width="0.9" />
<line x1="280.5" y1="81" x2="282.7" y2="81" stroke="#333" stroke-width="0.9" />
<line x1="457.6" y1="81" x2="455.4" y2="81" stroke="#333" stroke-width="0.9" />
<line x1="280.5" y1="55.7" x2="282.7" y2="55.7" stroke="#333" stroke-width="0.9" />
<line x1="457.6" y1="55.7" x2="455.4" y2="55.7" stroke="#333" stroke-width="0.9" />
<line x1="280.5" y1="30.4" x2="282.7" y2="30.4" stroke="#333" stroke-width="0.9" />
<line x1="457.6" y1="30.4" x2="455.4" y2="30.4" stroke="#333" stroke-width="0.9" />
<text x="278.3" y="160.4" font-size="10.2" text-anchor="end" >0</text>
<text x="278.3" y="135.1" font-size="10.2" text-anchor="end" >0.5</text>
<text x="278.3" y="109.8" font-size="10.2" text-anchor="end" >1</text>
<text x="278.3" y="84.6" font-size="10.2" text-anchor="end" >1.5</text>
<text x="278.3" y="59.3" font-size="10.2" text-anchor="end" >2</text>
<line x1="280.5" y1="156.8" x2="280.5" y2="153.8" stroke="#333" stroke-width="0.9" />
<line x1="280.5" y1="30.4" x2="280.5" y2="33.4" stroke="#333" stroke-width="0.9" />
<line x1="310" y1="156.8" x2="310" y2="155" stroke="#333" stroke-width="0.9" />
<line x1="310" y1="30.4" x2="310" y2="32.2" stroke="#333" stroke-width="0.9" />
<line x1="339.5" y1="156.8" x2="339.5" y2="153.8" stroke="#333" stroke-width="0.9" />
<line x1="339.5" y1="30.4" x2="339.5" y2="33.4" stroke="#333" stroke-width="0.9" />
<line x1="369.1" y1="156.8" x2="369.1" y2="155" stroke="#333" stroke-width="0.9" />
<line x1="369.1" y1="30.4" x2="369.1" y2="32.2" stroke="#333" stroke-width="0.9" />
<line x1="398.6" y1="156.8" x2="398.6" y2="153.8" stroke="#333" stroke-width="0.9" />
<line x1="398.6" y1="30.4" x2="398.6" y2="33.4" stroke="#333" stroke-width="0.9" />
<line x1="428.1" y1="156.8" x2="428.1" y2="155" stroke="#333" stroke-width="0.9" />
<line x1="428.1" y1="30.4" x2="428.1" y2="32.2" stroke="#333" stroke-width="0.9" />
<line x1="457.6" y1="156.8" x2="457.6" y2="153.8" stroke="#333" stroke-width="0.9" />
<line x1="457.6" y1="30.4" x2="457.6" y2="33.4" stroke="#333" stroke-width="0.9" />
<text x="280.5" y="167.2" font-size="10.2" text-anchor="middle" textLength="5.4" lengthAdjust="spacingAndGlyphs" >0</text>
<text x="339.5" y="167.2" font-size="10.2" text-anchor="middle" textLength="22.6" lengthAdjust="spacingAndGlyphs" >1000</text>
<text x="398.6" y="167.2" font-size="10.2" text-anchor="middle" textLength="22.6" lengthAdjust="spacingAndGlyphs" >2000</text>
<text x="457.6" y="167.2" font-size="10.2" text-anchor="middle" textLength="22.6" lengthAdjust="spacingAndGlyphs" >3000</text>
<text x="369.4" y="179.8" font-size="10.2" text-anchor="middle" textLength="82.5" lengthAdjust="spacingAndGlyphs" >Capacity (mAh/g)</text>
<text transform="translate(259.7,88.5) rotate(-90) scale(1.085,1)" font-size="10.2" text-anchor="middle">Potential (V vs. Li<tspan font-size="7" dy="-4">+</tspan><tspan dy="4">/Li)</tspan></text>
<line x1="399.6" y1="41.4" x2="415.6" y2="41.4" stroke="#222" stroke-width="1" />
<text x="415.8" y="44.1" font-size="7.8" >1st cycle</text>
<line x1="399.6" y1="49.4" x2="415.6" y2="49.4" stroke="#ff2a2a" stroke-width="1" />
<text x="415.8" y="52.1" font-size="7.8" >2nd cycle</text>
<line x1="399.6" y1="57.4" x2="415.6" y2="57.4" stroke="#2a2aff" stroke-width="1" />
<text x="415.8" y="60.1" font-size="7.8" >3rd cycle</text>
<line x1="399.6" y1="65.4" x2="415.6" y2="65.4" stroke="#1a9a1a" stroke-width="1" />
<text x="415.8" y="68.1" font-size="7.8" >5th cycle</text>
<line x1="399.6" y1="73.4" x2="415.6" y2="73.4" stroke="#ff9a2a" stroke-width="1" />
<text x="415.8" y="76.1" font-size="7.8" >8th cycle</text>
<line x1="399.6" y1="81.4" x2="415.6" y2="81.4" stroke="#ff2aff" stroke-width="1" />
<text x="415.8" y="84.1" font-size="7.8" >10th cycle</text>
<path d="M280.5,369.2 L280.5,242.8 L457.6,242.8 L457.6,369.2" fill="none" stroke="#454545" stroke-width="1.1"/>
<line x1="280" y1="369.2" x2="458.1" y2="369.2" stroke="#454545" stroke-width="1.1" />
<clipPath id="c2b"><rect x="280.5" y="242.8" width="177.1" height="126.4"/></clipPath>
<g clip-path="url(#c2b)">
<polyline points="280.5,357.6 280.7,358.2 281,359.1 281.4,360.2 281.8,361.2 282.3,362 282.8,362.7 283.2,363.2 283.8,363.7 284.6,364.2 285.8,364.7 287.5,365.2 289.7,365.7 292,366.1 294.4,366.6 296.6,366.9 298.6,367.2 300.7,367.5 302.7,367.7 304.3,367.9 305.5,368" fill="none" stroke="#ff2a2a" stroke-width="0.9" stroke-linejoin="round" />
<polyline points="280.5,356.6 280.7,357.2 280.9,358.2 281.2,359.3 281.6,360.3 282.2,361.2 282.9,361.9 283.7,362.4 284.6,362.9 285.9,363.4 287.6,363.8 289.8,364.2 292.5,364.6 295.5,365 298.7,365.3 301.9,365.6 305.3,365.9 309,366.2 312.8,366.5 316.5,366.7 319.9,366.9 323.2,367.1 326.6,367.2 329.7,367.3 332.3,367.3 334.2,367.4" fill="none" stroke="#2a2aff" stroke-width="0.9" stroke-linejoin="round" />
<polyline points="280.5,354.5 282,355.2 284.1,356.2 286.6,357.4 289.4,358.6 292.3,359.6 295.4,360.5 298.7,361.4 302.3,362.3 306.1,363.1 310,363.9 314.6,364.7 319.7,365.4 324.9,366.1 329.3,366.7 332.4,367.2" fill="none" stroke="#1a9a1a" stroke-width="0.9" stroke-linejoin="round" />
<polyline points="280.5,354.3 282.1,355 284.2,356 286.8,357.2 289.6,358.4 292.6,359.5 295.7,360.4 299.1,361.3 302.8,362.2 306.6,363 310.6,363.8 315.3,364.6 320.6,365.4 325.8,366.2 330.4,366.8 333.6,367.3" fill="none" stroke="#ff9a2a" stroke-width="0.9" stroke-linejoin="round" />
<polyline points="280.5,318.6 280.3,323.9 279.9,331.7 279.6,340.3 279.7,348.3 280.5,354 282.1,357 284.3,358.4 287,358.8 289.9,358.9 293,359.4 296.1,360.3 299.5,361.3 303.1,362.1 306.9,363 310.9,363.8 315.6,364.6 321,365.5 326.3,366.2 331,366.9 334.2,367.4" fill="none" stroke="#ff2aff" stroke-width="0.9" stroke-linejoin="round" />
<polyline points="280.5,354 280.8,353.6 281.3,353.1 281.8,352.3 282.4,351.5 283.1,350.5 283.9,349.3 284.8,347.8 285.8,346.3 286.7,344.7 287.6,343.2 288.4,341.8 289.2,340.4 289.9,339 290.6,337.6 291.2,336 291.6,334.6 291.9,333.4 292.2,332 292.4,330 292.5,327 292.7,322.9 292.7,317.7 292.8,312 292.8,306 293,300 293.2,293.5 293.5,286.3 293.9,279.1 294.2,272.9 294.4,268.6" fill="none" stroke="#ff2a2a" stroke-width="0.9" stroke-linejoin="round" />
<polyline points="280.5,355.8 280.6,355.6 280.7,355.4 280.9,355.1 281.4,354.6 282.2,354 283.5,353.2 285.2,352.1 287.1,351 289.2,349.8 291.2,348.6 293.3,347.5 295.5,346.4 297.7,345.3 299.9,344.2 301.9,343.2 303.8,342.2 305.6,341.3 307.2,340.3 308.7,339.5 309.9,338.7 310.8,338.4 311.4,338.4 311.8,338.3 312,337.7 312.3,336 312.5,332.9 312.7,328.7 312.7,323.9 312.8,319.2 312.9,315.1 312.9,312 312.9,309.4 312.9,306.9 313,303.9 313.1,299.9 313.5,294.2 314,287.1 314.6,279.6 315.1,273.1 315.4,268.6" fill="none" stroke="#2a2aff" stroke-width="0.9" stroke-linejoin="round" />
<polyline points="280.5,354.9 281.6,354.4 283.2,353.8 285.1,353 287.2,352.1 289.4,351.3 291.6,350.5 294,349.6 296.6,348.7 299.2,347.8 301.9,346.8 304.8,345.8 308,344.7 311.2,343.6 314,342.5 316.3,341.4 317.8,340.4 318.9,339.5 319.6,338.5 320.2,337.3 320.8,336 321.3,334.8 321.7,333.6 322.1,332.1 322.3,330 322.6,327 322.8,322.9 323,317.7 323.2,312 323.3,306 323.5,300 323.7,293.5 323.9,286.3 324.1,279.1 324.2,272.9 324.4,268.6" fill="none" stroke="#1a9a1a" stroke-width="0.9" stroke-linejoin="round" />
<polyline points="280.5,354.9 281.9,354.4 283.8,353.7 286,352.8 288.5,351.9 291.1,351 293.9,350.1 297,349.1 300.2,348.1 303.4,347 306.5,345.9 309.6,344.8 312.9,343.7 316.1,342.5 319,341.4 321.2,340.4 322.8,339.5 323.8,338.8 324.4,338 324.9,337.2 325.4,336 325.8,334.8 326.2,333.6 326.4,332.2 326.6,330.1 326.8,327 327,322.9 327.2,317.7 327.3,312 327.4,306 327.5,300 327.7,293.5 327.9,286.3 328.1,279.1 328.3,272.9 328.4,268.6" fill="none" stroke="#ff9a2a" stroke-width="0.9" stroke-linejoin="round" />
<polyline points="280.5,354.9 282.1,354.3 284.3,353.5 287,352.5 289.9,351.4 293,350.4 296.3,349.4 299.9,348.3 303.7,347.2 307.5,346.1 310.9,345 314.2,343.9 317.4,342.8 320.5,341.7 323.1,340.6 325.2,339.6 326.7,338.9 327.6,338.3 328.1,337.8 328.5,337.1 328.8,336 329.2,334.9 329.4,333.7 329.5,332.2 329.6,330.1 329.7,327 329.9,322.9 330.1,317.7 330.3,312 330.5,306 330.7,300 330.9,293.5 331.1,286.3 331.3,279.1 331.4,272.9 331.6,268.6" fill="none" stroke="#ff2aff" stroke-width="0.9" stroke-linejoin="round" />
<polyline points="280.7,243.3 280.8,243.8 280.9,244.6 281.1,245.5 281.4,246.3 281.7,247.1 282,247.8 282.5,248.4 282.9,249.1 283.5,249.6 284,250.1 284.5,250.4 285.1,250.7 285.7,250.8 286.3,251 287,251.1 287.7,251.2 288.4,251.2 289.2,251.1 290,251.2 290.7,251.3 291.3,251.5 291.9,251.8 292.4,252.2 293,252.6 293.7,253.1 294.4,253.6 295.1,254.3 295.9,254.9 296.7,255.5 297.4,256.1 298.2,256.5 299,256.9 299.7,257.2 300.5,257.7 301.2,258.3 301.8,259.1 302.4,260 303,261.1 303.6,262.3 304.1,263.5 304.6,264.9 305,266.4 305.5,267.9 305.9,269.5 306.4,271.1 307,272.7 307.6,274.4 308.3,276.1 308.9,277.7 309.4,279.2 309.8,280.4 310.1,281.3 310.4,282.2 310.7,283.3 310.9,284.7 311.2,286.3 311.4,288 311.7,290 311.9,292.3 312.1,295.1 312.2,298.2 312.4,301.5 312.5,305.3 312.6,309.7 312.7,315.1 312.8,322.2 312.9,330.8 313,339.8 313.1,348 313.2,354 313.2,357.6 313,359.4 313,360.3 313.4,360.6 314.5,361.2 316.3,361.9 318.7,362.3 321.6,362.5 325,362.7 328.8,363 333.4,363.5 338.8,364 344.5,364.5 350.2,365.1 355.7,365.6 361.3,366.1 367.1,366.7 372.7,367.2 377.5,367.7 380.9,368" fill="none" stroke="#333" stroke-width="0.9" stroke-linejoin="round" />
<polyline points="280.5,355.8 280.7,355.4 281,354.8 281.4,354.1 281.8,353.2 282.2,352.2 282.7,351 283.2,349.7 283.8,348.2 284.3,346.6 284.9,345 285.4,343.3 285.9,341.6 286.4,339.7 286.8,337.8 287.2,336 287.4,334.6 287.6,333.4 287.8,332.1 287.9,330.2 288,327.2 288.1,323 288.2,317.8 288.3,312 288.3,305.9 288.5,299.9 288.7,293.4 288.9,286.2 289.1,279.1 289.3,272.9 289.5,268.6" fill="none" stroke="#333" stroke-width="0.9" stroke-linejoin="round" />
</g>
<line x1="280.5" y1="369.2" x2="282.7" y2="369.2" stroke="#333" stroke-width="0.9" />
<line x1="457.6" y1="369.2" x2="455.4" y2="369.2" stroke="#333" stroke-width="0.9" />
<line x1="280.5" y1="343.9" x2="282.7" y2="343.9" stroke="#333" stroke-width="0.9" />
<line x1="457.6" y1="343.9" x2="455.4" y2="343.9" stroke="#333" stroke-width="0.9" />
<line x1="280.5" y1="318.6" x2="282.7" y2="318.6" stroke="#333" stroke-width="0.9" />
<line x1="457.6" y1="318.6" x2="455.4" y2="318.6" stroke="#333" stroke-width="0.9" />
<line x1="280.5" y1="293.4" x2="282.7" y2="293.4" stroke="#333" stroke-width="0.9" />
<line x1="457.6" y1="293.4" x2="455.4" y2="293.4" stroke="#333" stroke-width="0.9" />
<line x1="280.5" y1="268.1" x2="282.7" y2="268.1" stroke="#333" stroke-width="0.9" />
<line x1="457.6" y1="268.1" x2="455.4" y2="268.1" stroke="#333" stroke-width="0.9" />
<line x1="280.5" y1="242.8" x2="282.7" y2="242.8" stroke="#333" stroke-width="0.9" />
<line x1="457.6" y1="242.8" x2="455.4" y2="242.8" stroke="#333" stroke-width="0.9" />
<text x="278.3" y="372.8" font-size="10.2" text-anchor="end" >0</text>
<text x="278.3" y="347.5" font-size="10.2" text-anchor="end" >0.5</text>
<text x="278.3" y="322.2" font-size="10.2" text-anchor="end" >1</text>
<text x="278.3" y="297" font-size="10.2" text-anchor="end" >1.5</text>
<text x="278.3" y="271.7" font-size="10.2" text-anchor="end" >2</text>
<line x1="280.5" y1="369.2" x2="280.5" y2="366.2" stroke="#333" stroke-width="0.9" />
<line x1="280.5" y1="242.8" x2="280.5" y2="245.8" stroke="#333" stroke-width="0.9" />
<line x1="310" y1="369.2" x2="310" y2="367.4" stroke="#333" stroke-width="0.9" />
<line x1="310" y1="242.8" x2="310" y2="244.6" stroke="#333" stroke-width="0.9" />
<line x1="339.5" y1="369.2" x2="339.5" y2="366.2" stroke="#333" stroke-width="0.9" />
<line x1="339.5" y1="242.8" x2="339.5" y2="245.8" stroke="#333" stroke-width="0.9" />
<line x1="369.1" y1="369.2" x2="369.1" y2="367.4" stroke="#333" stroke-width="0.9" />
<line x1="369.1" y1="242.8" x2="369.1" y2="244.6" stroke="#333" stroke-width="0.9" />
<line x1="398.6" y1="369.2" x2="398.6" y2="366.2" stroke="#333" stroke-width="0.9" />
<line x1="398.6" y1="242.8" x2="398.6" y2="245.8" stroke="#333" stroke-width="0.9" />
<line x1="428.1" y1="369.2" x2="428.1" y2="367.4" stroke="#333" stroke-width="0.9" />
<line x1="428.1" y1="242.8" x2="428.1" y2="244.6" stroke="#333" stroke-width="0.9" />
<line x1="457.6" y1="369.2" x2="457.6" y2="366.2" stroke="#333" stroke-width="0.9" />
<line x1="457.6" y1="242.8" x2="457.6" y2="245.8" stroke="#333" stroke-width="0.9" />
<text x="280.5" y="379.6" font-size="10.2" text-anchor="middle" textLength="5.4" lengthAdjust="spacingAndGlyphs" >0</text>
<text x="339.5" y="379.6" font-size="10.2" text-anchor="middle" textLength="22.6" lengthAdjust="spacingAndGlyphs" >1000</text>
<text x="398.6" y="379.6" font-size="10.2" text-anchor="middle" textLength="22.6" lengthAdjust="spacingAndGlyphs" >2000</text>
<text x="457.6" y="379.6" font-size="10.2" text-anchor="middle" textLength="22.6" lengthAdjust="spacingAndGlyphs" >3000</text>
<text x="369.4" y="392.2" font-size="10.2" text-anchor="middle" textLength="82.5" lengthAdjust="spacingAndGlyphs" >Capacity (mAh/g)</text>
<text transform="translate(257.3,304.6) rotate(-90) scale(1.083,1)" font-size="10.2" text-anchor="middle">Potential (V vs. Li<tspan font-size="7" dy="-4">+</tspan><tspan dy="4">/Li)</tspan></text>
<line x1="400" y1="254.2" x2="415.7" y2="254.2" stroke="#222" stroke-width="1.7" stroke-opacity="0.5"/>
<text x="415.9" y="256.9" font-size="7.8" >1st cycle</text>
<line x1="400" y1="262.1" x2="415.7" y2="262.1" stroke="#ff2a2a" stroke-width="1.7" stroke-opacity="0.5"/>
<text x="415.9" y="264.8" font-size="7.8" >2nd cycle</text>
<line x1="400" y1="270" x2="415.7" y2="270" stroke="#2a2aff" stroke-width="1.7" stroke-opacity="0.5"/>
<text x="415.9" y="272.7" font-size="7.8" >3rd cycle</text>
<line x1="400" y1="277.9" x2="415.7" y2="277.9" stroke="#1a9a1a" stroke-width="1.7" stroke-opacity="0.5"/>
<text x="415.9" y="280.6" font-size="7.8" >5th cycle</text>
<line x1="400" y1="285.8" x2="415.7" y2="285.8" stroke="#ff9a2a" stroke-width="1.7" stroke-opacity="0.5"/>
<text x="415.9" y="288.5" font-size="7.8" >8th cycle</text>
<line x1="400" y1="293.7" x2="415.7" y2="293.7" stroke="#ff2aff" stroke-width="1.7" stroke-opacity="0.5"/>
<text x="415.9" y="296.4" font-size="7.8" >10th cycle</text>
<path d="M280.3,566.9 L280.3,441.2 L457.4,441.2 L457.4,566.9" fill="none" stroke="#454545" stroke-width="1.1"/>
<line x1="279.8" y1="566.9" x2="457.9" y2="566.9" stroke="#454545" stroke-width="1.1" />
<clipPath id="c2c"><rect x="280.3" y="441.2" width="177.1" height="125.7"/></clipPath>
<g clip-path="url(#c2c)">
<polyline points="280.3,541.8 280.3,542 280.4,542.3 280.4,542.7 280.5,543.2 280.7,543.9 281,544.8 281.3,545.9 281.7,547.1 282.2,548.3 282.9,549.3 283.7,550.1 284.7,550.9 285.7,551.6 286.9,552.1 288.3,552.6 289.6,553 290.8,553.1 292.3,553.3 294.2,553.4 296.8,553.6 300.3,554 304.5,554.4 309.1,554.9 313.9,555.3 318.4,555.8 322.7,556.2 327,556.7 331.3,557.1 335.6,557.6 339.9,558 344.2,558.4 348.5,558.8 352.8,559.3 357.1,559.7 361.4,560.1 365.7,560.5 370,561 374.3,561.4 378.5,561.9 382.8,562.3 387.3,562.8 392,563.2 396.6,563.7 400.9,564.1 404.4,564.5 407.2,564.8 409.4,565 411.2,565.2 412.8,565.3 414.5,565.5 416.3,565.7 418,565.9 419.6,566 421,566.2 422,566.3" fill="none" stroke="#333" stroke-width="0.9" stroke-linejoin="round" />
<polyline points="280.6,563.4 280.6,563 280.6,562.5 280.7,562 280.8,561.3 281,560.6 281.3,559.8 281.6,558.9 282,558 282.5,557.1 283.2,556.3 284,555.6 285,555 286,554.5 287.2,554 288.6,553.5 290,553.1 291.7,552.6 293.4,552.2 295.2,551.8 297.1,551.3 299.1,550.8 301.3,550.3 303.5,549.8 305.7,549.3 307.9,548.7 310.1,548.1 312.2,547.5 314.4,546.8 316.5,546.2 318.7,545.5 320.8,544.9 323,544.2 325.1,543.6 327.3,542.9 329.4,542.3 331.6,541.6 333.8,541 336,540.3 338.1,539.7 340.2,539 342,538.4 343.8,537.9 345.4,537.3 347.1,536.6 348.8,535.8 350.5,534.9 352.4,533.9 354.2,532.8 355.9,531.7 357.5,530.4 358.9,529 360.2,527.6 361.5,526.1 362.7,524.5 363.8,522.9 364.8,521.3 365.7,519.6 366.5,517.9 367.3,516.1 368.1,514.2 369,512.2 369.9,510.1 370.8,508 371.7,505.7 372.5,503.4 373.2,500.9 373.8,498.3 374.5,495.6 375,492.9 375.6,490.4 376.1,488.1 376.5,485.8 377,483.7 377.4,481.6 377.8,479.6 378.1,477.7 378.5,475.8 378.9,474 379.2,472.3 379.5,470.9 379.8,469.8 380,468.8 380.3,468 380.5,467.4 380.6,466.9" fill="none" stroke="#333" stroke-width="0.9" stroke-linejoin="round" />
<polyline points="280.3,490.5 280.4,490.4 280.4,490.2 280.5,490.2 280.6,490.7 280.7,492 280.8,494.6 280.8,498 280.9,502 280.9,505.9 281.1,509.3 281.2,512.2 281.4,514.9 281.7,517.5 281.9,519.9 282.2,522.3 282.5,524.6 282.8,526.9 283.1,529.1 283.5,531.1 283.9,533.1 284.5,535 285,536.9 285.6,538.6 286.3,540.2 287.1,541.7 288,543 288.9,544.2 290,545.2 291.2,546.2 292.5,547.1 293.8,547.9 295.3,548.6 296.9,549.2 298.8,549.8 301.1,550.4 303.9,551.1 307.1,551.7 310.7,552.3 314.4,553 318.2,553.6 322.2,554.3 326.5,554.9 330.8,555.6 335.2,556.2 339.6,556.9 344,557.5 348.5,558.2 352.9,558.8 357.2,559.5 361.1,560.1 364.5,560.8 367.6,561.4 370.5,562.1 373.2,562.8 376,563.4 378.9,564 381.9,564.6 384.7,565.2 387.1,565.6 388.8,566" fill="none" stroke="#ff2a2a" stroke-width="0.9" stroke-linejoin="round" />
<polyline points="280.3,490.5 280.4,490.4 280.4,490.2 280.5,490.2 280.6,490.7 280.7,492 280.8,494.6 280.8,498 280.9,502 280.9,505.9 281.1,509.3 281.2,512.2 281.4,514.9 281.7,517.5 281.9,519.9 282.2,522.3 282.5,524.6 282.8,526.9 283.1,529.1 283.5,531.1 284,533.1 284.5,535 285,536.9 285.6,538.6 286.3,540.2 287.1,541.7 288,543 289,544.2 290,545.2 291.2,546.2 292.5,547.1 293.9,547.9 295.3,548.6 296.9,549.2 298.8,549.8 301.2,550.4 304,551.1 307.2,551.7 310.7,552.3 314.5,553 318.3,553.6 322.3,554.3 326.6,554.9 330.9,555.6 335.4,556.2 339.7,556.9 344.1,557.5 348.6,558.2 353.1,558.8 357.3,559.5 361.2,560.1 364.7,560.8 367.8,561.4 370.7,562.1 373.4,562.8 376.2,563.4 379.1,564 382.1,564.6 385,565.2 387.4,565.6 389.1,566" fill="none" stroke="#2a2aff" stroke-width="0.9" stroke-linejoin="round" />
<polyline points="280.3,490.5 280.4,490.4 280.4,490.2 280.5,490.2 280.6,490.7 280.7,492 280.8,494.6 280.8,498 280.9,502 280.9,505.9 281.1,509.3 281.2,512.2 281.4,514.9 281.7,517.5 281.9,519.9 282.2,522.3 282.5,524.6 282.8,526.9 283.1,529.1 283.5,531.1 284,533.1 284.5,535 285,536.9 285.7,538.6 286.4,540.2 287.2,541.7 288,543 289,544.2 290,545.2 291.2,546.2 292.5,547.1 293.9,547.9 295.4,548.6 297,549.2 298.9,549.8 301.2,550.4 304.1,551.1 307.3,551.7 310.9,552.3 314.6,553 318.5,553.6 322.5,554.3 326.8,554.9 331.2,555.6 335.6,556.2 340,556.9 344.4,557.5 348.9,558.2 353.4,558.8 357.7,559.5 361.6,560.1 365.1,560.8 368.2,561.4 371.1,562.1 373.9,562.8 376.6,563.4 379.6,564 382.6,564.6 385.4,565.2 387.8,565.6 389.6,566" fill="none" stroke="#1a9a1a" stroke-width="0.9" stroke-linejoin="round" />
<polyline points="280.3,490.5 280.4,490.4 280.4,490.2 280.5,490.2 280.6,490.7 280.7,492 280.8,494.6 280.8,498 280.9,502 280.9,505.9 281.1,509.3 281.2,512.2 281.4,514.9 281.7,517.5 281.9,519.9 282.2,522.3 282.5,524.6 282.8,526.9 283.1,529.1 283.5,531.1 284,533.1 284.5,535 285,536.9 285.6,538.6 286.3,540.2 287.1,541.7 288,543 289,544.2 290,545.2 291.2,546.2 292.5,547.1 293.9,547.9 295.3,548.6 297,549.2 298.9,549.8 301.2,550.4 304,551.1 307.3,551.7 310.8,552.3 314.5,553 318.4,553.6 322.4,554.3 326.7,554.9 331.1,555.6 335.5,556.2 339.9,556.9 344.3,557.5 348.8,558.2 353.3,558.8 357.5,559.5 361.4,560.1 364.9,560.8 368,561.4 370.9,562.1 373.6,562.8 376.4,563.4 379.3,564 382.3,564.6 385.2,565.2 387.6,565.6 389.3,566" fill="none" stroke="#ff9a2a" stroke-width="0.9" stroke-linejoin="round" />
<polyline points="280.3,490.5 280.4,490.4 280.4,490.2 280.5,490.2 280.6,490.7 280.7,492 280.8,494.6 280.8,498 280.9,502 280.9,505.9 281.1,509.3 281.2,512.2 281.4,514.9 281.7,517.5 281.9,519.9 282.2,522.3 282.5,524.6 282.8,526.9 283.1,529.1 283.5,531.1 284,533.1 284.5,535 285,536.9 285.6,538.6 286.3,540.2 287.1,541.7 288,543 289,544.2 290,545.2 291.2,546.2 292.5,547.1 293.9,547.9 295.3,548.6 296.9,549.2 298.8,549.8 301.2,550.4 304,551.1 307.2,551.7 310.8,552.3 314.5,553 318.3,553.6 322.4,554.3 326.6,554.9 331,555.6 335.4,556.2 339.8,556.9 344.2,557.5 348.7,558.2 353.2,558.8 357.4,559.5 361.3,560.1 364.8,560.8 367.9,561.4 370.8,562.1 373.5,562.8 376.3,563.4 379.2,564 382.2,564.6 385.1,565.2 387.5,565.6 389.2,566" fill="none" stroke="#ff2aff" stroke-width="0.9" stroke-linejoin="round" />
<polyline points="280.3,562.9 280.3,562.5 280.4,562 280.4,561.5 280.5,560.8 280.7,560.1 281,559.3 281.3,558.4 281.7,557.5 282.2,556.6 282.9,555.8 283.7,555.1 284.6,554.5 285.7,554 286.9,553.5 288.2,553 289.7,552.6 291.3,552.1 293,551.7 294.9,551.3 296.8,550.8 298.8,550.3 300.9,549.8 303.1,549.3 305.3,548.8 307.5,548.2 309.6,547.6 311.8,547 313.9,546.3 316.1,545.7 318.2,545 320.3,544.4 322.5,543.7 324.6,543.1 326.8,542.4 328.9,541.8 331.1,541.1 333.3,540.5 335.5,539.8 337.6,539.2 339.6,538.5 341.4,537.9 343.2,537.4 344.8,536.8 346.5,536.1 348.2,535.3 349.9,534.4 351.7,533.4 353.5,532.3 355.2,531.1 356.8,529.9 358.2,528.5 359.6,527.1 360.8,525.6 362,524 363.1,522.4 364.1,520.8 365,519.1 365.8,517.4 366.6,515.6 367.4,513.7 368.3,511.7 369.2,509.6 370.1,507.5 370.9,505.2 371.7,502.9 372.4,500.4 373.1,497.8 373.7,495.1 374.3,492.4 374.8,489.9 375.3,487.6 375.8,485.3 376.2,483.2 376.6,481.1 377,479.1 377.4,477.2 377.8,475.3 378.1,473.5 378.4,471.8 378.7,470.4 379,469.3 379.3,468.3 379.5,467.5 379.7,466.9 379.8,466.4" fill="none" stroke="#ff2a2a" stroke-width="0.9" stroke-linejoin="round" />
<polyline points="280.3,562.9 280.3,562.5 280.4,562 280.4,561.5 280.5,560.8 280.7,560.1 281,559.3 281.3,558.4 281.7,557.5 282.2,556.6 282.9,555.8 283.7,555.1 284.7,554.5 285.7,554 286.9,553.5 288.3,553 289.7,552.6 291.4,552.1 293.1,551.7 294.9,551.3 296.8,550.8 298.8,550.3 301,549.8 303.2,549.3 305.4,548.8 307.6,548.2 309.8,547.6 311.9,547 314.1,546.3 316.2,545.7 318.4,545 320.5,544.4 322.7,543.7 324.8,543.1 327,542.4 329.1,541.8 331.3,541.1 333.5,540.5 335.7,539.8 337.9,539.2 339.9,538.5 341.7,537.9 343.5,537.4 345.1,536.8 346.8,536.1 348.5,535.3 350.3,534.4 352.1,533.4 353.9,532.3 355.6,531.1 357.2,529.9 358.6,528.5 360,527.1 361.2,525.6 362.4,524 363.5,522.4 364.5,520.8 365.4,519.1 366.2,517.4 367,515.6 367.8,513.7 368.7,511.7 369.6,509.6 370.5,507.5 371.4,505.2 372.2,502.9 372.9,500.4 373.5,497.8 374.2,495.1 374.7,492.4 375.3,489.9 375.8,487.6 376.2,485.3 376.7,483.2 377.1,481.1 377.5,479.1 377.9,477.2 378.2,475.3 378.6,473.5 378.9,471.8 379.2,470.4 379.5,469.3 379.7,468.3 380,467.5 380.2,466.9 380.3,466.4" fill="none" stroke="#2a2aff" stroke-width="0.9" stroke-linejoin="round" />
<polyline points="280.3,562.9 280.3,562.5 280.4,562 280.4,561.5 280.5,560.8 280.7,560.1 281,559.3 281.3,558.4 281.7,557.5 282.2,556.6 282.9,555.8 283.7,555.1 284.7,554.5 285.8,554 287,553.5 288.3,553 289.8,552.6 291.4,552.1 293.1,551.7 295,551.3 296.9,550.8 298.9,550.3 301,549.8 303.3,549.3 305.5,548.8 307.7,548.2 309.9,547.6 312,547 314.2,546.3 316.3,545.7 318.5,545 320.6,544.4 322.8,543.7 324.9,543.1 327.1,542.4 329.2,541.8 331.4,541.1 333.6,540.5 335.9,539.8 338,539.2 340,538.5 341.9,537.9 343.6,537.4 345.3,536.8 346.9,536.1 348.6,535.3 350.4,534.4 352.2,533.4 354,532.3 355.8,531.1 357.3,529.9 358.8,528.5 360.1,527.1 361.4,525.6 362.6,524 363.7,522.4 364.7,520.8 365.6,519.1 366.4,517.4 367.2,515.6 368.1,513.7 368.9,511.7 369.8,509.6 370.7,507.5 371.6,505.2 372.4,502.9 373.1,500.4 373.8,497.8 374.4,495.1 375,492.4 375.5,489.9 376,487.6 376.5,485.3 376.9,483.2 377.3,481.1 377.7,479.1 378.1,477.2 378.4,475.3 378.8,473.5 379.1,471.8 379.4,470.4 379.7,469.3 380,468.3 380.2,467.5 380.4,466.9 380.5,466.4" fill="none" stroke="#1a9a1a" stroke-width="0.9" stroke-linejoin="round" />
<polyline points="280.3,562.9 280.3,562.5 280.4,562 280.4,561.5 280.5,560.8 280.7,560.1 281,559.3 281.3,558.4 281.7,557.5 282.2,556.6 282.9,555.8 283.7,555.1 284.7,554.5 285.7,554 286.9,553.5 288.3,553 289.7,552.6 291.3,552.1 293.1,551.7 294.9,551.3 296.8,550.8 298.8,550.3 301,549.8 303.2,549.3 305.4,548.8 307.6,548.2 309.7,547.6 311.9,547 314,546.3 316.2,545.7 318.3,545 320.5,544.4 322.6,543.7 324.7,543.1 326.9,542.4 329,541.8 331.2,541.1 333.4,540.5 335.6,539.8 337.8,539.2 339.8,538.5 341.6,537.9 343.4,537.4 345,536.8 346.7,536.1 348.4,535.3 350.1,534.4 351.9,533.4 353.7,532.3 355.4,531.1 357,529.9 358.5,528.5 359.8,527.1 361.1,525.6 362.2,524 363.3,522.4 364.3,520.8 365.2,519.1 366,517.4 366.9,515.6 367.7,513.7 368.6,511.7 369.5,509.6 370.4,507.5 371.2,505.2 372,502.9 372.7,500.4 373.4,497.8 374,495.1 374.6,492.4 375.1,489.9 375.6,487.6 376.1,485.3 376.5,483.2 376.9,481.1 377.3,479.1 377.7,477.2 378,475.3 378.4,473.5 378.7,471.8 379,470.4 379.3,469.3 379.6,468.3 379.8,467.5 380,466.9 380.1,466.4" fill="none" stroke="#ff9a2a" stroke-width="0.9" stroke-linejoin="round" />
<polyline points="280.3,562.9 280.3,562.5 280.4,562 280.4,561.5 280.5,560.8 280.7,560.1 281,559.3 281.3,558.4 281.7,557.5 282.2,556.6 282.9,555.8 283.7,555.1 284.6,554.5 285.7,554 286.9,553.5 288.2,553 289.7,552.6 291.3,552.1 293,551.7 294.9,551.3 296.8,550.8 298.8,550.3 300.9,549.8 303.1,549.3 305.4,548.8 307.5,548.2 309.7,547.6 311.8,547 314,546.3 316.1,545.7 318.2,545 320.4,544.4 322.5,543.7 324.7,543.1 326.8,542.4 328.9,541.8 331.1,541.1 333.3,540.5 335.5,539.8 337.6,539.2 339.7,538.5 341.5,537.9 343.2,537.4 344.9,536.8 346.6,536.1 348.2,535.3 350,534.4 351.8,533.4 353.6,532.3 355.3,531.1 356.9,529.9 358.3,528.5 359.7,527.1 360.9,525.6 362.1,524 363.2,522.4 364.2,520.8 365.1,519.1 365.9,517.4 366.7,515.6 367.5,513.7 368.4,511.7 369.3,509.6 370.2,507.5 371,505.2 371.8,502.9 372.5,500.4 373.2,497.8 373.8,495.1 374.4,492.4 374.9,489.9 375.5,487.6 375.9,485.3 376.3,483.2 376.7,481.1 377.1,479.1 377.5,477.2 377.9,475.3 378.2,473.5 378.5,471.8 378.8,470.4 379.1,469.3 379.4,468.3 379.6,467.5 379.8,466.9 379.9,466.4" fill="none" stroke="#ff2aff" stroke-width="0.9" stroke-linejoin="round" />
</g>
<line x1="280.3" y1="566.9" x2="282.5" y2="566.9" stroke="#333" stroke-width="0.9" />
<line x1="457.4" y1="566.9" x2="455.2" y2="566.9" stroke="#333" stroke-width="0.9" />
<line x1="280.3" y1="541.8" x2="282.5" y2="541.8" stroke="#333" stroke-width="0.9" />
<line x1="457.4" y1="541.8" x2="455.2" y2="541.8" stroke="#333" stroke-width="0.9" />
<line x1="280.3" y1="516.6" x2="282.5" y2="516.6" stroke="#333" stroke-width="0.9" />
<line x1="457.4" y1="516.6" x2="455.2" y2="516.6" stroke="#333" stroke-width="0.9" />
<line x1="280.3" y1="491.5" x2="282.5" y2="491.5" stroke="#333" stroke-width="0.9" />
<line x1="457.4" y1="491.5" x2="455.2" y2="491.5" stroke="#333" stroke-width="0.9" />
<line x1="280.3" y1="466.3" x2="282.5" y2="466.3" stroke="#333" stroke-width="0.9" />
<line x1="457.4" y1="466.3" x2="455.2" y2="466.3" stroke="#333" stroke-width="0.9" />
<line x1="280.3" y1="441.2" x2="282.5" y2="441.2" stroke="#333" stroke-width="0.9" />
<line x1="457.4" y1="441.2" x2="455.2" y2="441.2" stroke="#333" stroke-width="0.9" />
<text x="278.1" y="570.5" font-size="10.2" text-anchor="end" >0</text>
<text x="278.1" y="545.4" font-size="10.2" text-anchor="end" >0.5</text>
<text x="278.1" y="520.2" font-size="10.2" text-anchor="end" >1</text>
<text x="278.1" y="495.1" font-size="10.2" text-anchor="end" >1.5</text>
<text x="278.1" y="469.9" font-size="10.2" text-anchor="end" >2</text>
<line x1="280.3" y1="566.9" x2="280.3" y2="563.9" stroke="#333" stroke-width="0.9" />
<line x1="280.3" y1="441.2" x2="280.3" y2="444.2" stroke="#333" stroke-width="0.9" />
<line x1="309.8" y1="566.9" x2="309.8" y2="565.1" stroke="#333" stroke-width="0.9" />
<line x1="309.8" y1="441.2" x2="309.8" y2="443" stroke="#333" stroke-width="0.9" />
<line x1="339.3" y1="566.9" x2="339.3" y2="563.9" stroke="#333" stroke-width="0.9" />
<line x1="339.3" y1="441.2" x2="339.3" y2="444.2" stroke="#333" stroke-width="0.9" />
<line x1="368.9" y1="566.9" x2="368.9" y2="565.1" stroke="#333" stroke-width="0.9" />
<line x1="368.9" y1="441.2" x2="368.9" y2="443" stroke="#333" stroke-width="0.9" />
<line x1="398.4" y1="566.9" x2="398.4" y2="563.9" stroke="#333" stroke-width="0.9" />
<line x1="398.4" y1="441.2" x2="398.4" y2="444.2" stroke="#333" stroke-width="0.9" />
<line x1="427.9" y1="566.9" x2="427.9" y2="565.1" stroke="#333" stroke-width="0.9" />
<line x1="427.9" y1="441.2" x2="427.9" y2="443" stroke="#333" stroke-width="0.9" />
<line x1="457.4" y1="566.9" x2="457.4" y2="563.9" stroke="#333" stroke-width="0.9" />
<line x1="457.4" y1="441.2" x2="457.4" y2="444.2" stroke="#333" stroke-width="0.9" />
<text x="280.3" y="577.3" font-size="10.2" text-anchor="middle" textLength="5.4" lengthAdjust="spacingAndGlyphs" >0</text>
<text x="339.3" y="577.3" font-size="10.2" text-anchor="middle" textLength="22.6" lengthAdjust="spacingAndGlyphs" >1000</text>
<text x="398.4" y="577.3" font-size="10.2" text-anchor="middle" textLength="22.6" lengthAdjust="spacingAndGlyphs" >2000</text>
<text x="457.4" y="577.3" font-size="10.2" text-anchor="middle" textLength="22.6" lengthAdjust="spacingAndGlyphs" >3000</text>
<text x="369.2" y="589.9" font-size="10.2" text-anchor="middle" textLength="82.5" lengthAdjust="spacingAndGlyphs" >Capacity (mAh/g)</text>
<text transform="translate(259.2,503.1) rotate(-90) scale(1.087,1)" font-size="10.2" text-anchor="middle">Potential (V vs. Li<tspan font-size="7" dy="-4">+</tspan><tspan dy="4">/Li)</tspan></text>
<line x1="400" y1="452.2" x2="415.7" y2="452.2" stroke="#222" stroke-width="1.3" stroke-opacity="0.75"/>
<text x="415.9" y="454.9" font-size="7.8" >1st cycle</text>
<line x1="400" y1="460.1" x2="415.7" y2="460.1" stroke="#ff2a2a" stroke-width="1.3" stroke-opacity="0.75"/>
<text x="415.9" y="462.8" font-size="7.8" >2nd cycle</text>
<line x1="400" y1="468" x2="415.7" y2="468" stroke="#2a2aff" stroke-width="1.3" stroke-opacity="0.75"/>
<text x="415.9" y="470.7" font-size="7.8" >3rd cycle</text>
<line x1="400" y1="475.9" x2="415.7" y2="475.9" stroke="#1a9a1a" stroke-width="1.3" stroke-opacity="0.75"/>
<text x="415.9" y="478.6" font-size="7.8" >5th cycle</text>
<line x1="400" y1="483.8" x2="415.7" y2="483.8" stroke="#ff9a2a" stroke-width="1.3" stroke-opacity="0.75"/>
<text x="415.9" y="486.5" font-size="7.8" >8th cycle</text>
<line x1="400" y1="491.7" x2="415.7" y2="491.7" stroke="#ff2aff" stroke-width="1.3" stroke-opacity="0.75"/>
<text x="415.9" y="494.4" font-size="7.8" >10th cycle</text>
<clipPath id="c3a"><rect x="485.2" y="30.5" width="173.4" height="123.7"/></clipPath>
<path d="M485.2,154.2 L485.2,30.5 L658.6,30.5 L658.6,154.2" fill="none" stroke="#606060" stroke-width="1.1"/>
<line x1="484.7" y1="154.2" x2="659.1" y2="154.2" stroke="#444" stroke-width="1.1" />
<g clip-path="url(#c3a)">
<polyline points="500,92.1 503.6,91.6 510.3,88.3 515.3,80 517.8,73.3 519.4,71.6 521.9,74.1 525.3,76.6 530.3,77.6 535.2,76 538.6,75.6 541.9,77 546.9,80.5 551.9,84.5 556.9,88.5 562,90.6 580,91.9 658.4,92.1" fill="none" stroke="#333" stroke-width="0.9" stroke-linejoin="round" />
<polyline points="489.5,146.5 492,138.2 493.6,129.9 496.1,124.9 498.6,108.3 500.3,123.2 502,124.9 504.5,128.2 507,138.2 508.6,148.2 509.5,156 510.3,156 511.1,131.5 512,114.9 512.8,104.9 513.6,103.3 514.4,109.9 515.3,99.9 516.1,97.4 516.9,108.3 517.3,131.5 517.8,94.9 518.6,93.3 521.9,94.9 525.3,95.8 530.3,94.9 531.9,94.1 535.2,93.3 562,92.3 658.4,92.1" fill="none" stroke="#333" stroke-width="0.9" stroke-linejoin="round" />
<polyline points="490,146.5 495,133 499,118 503,118 507,130 510,150 511,158" fill="none" stroke="#333" stroke-width="0.9" stroke-linejoin="round" />
<polyline points="495.3,92.5 496.6,91.9 498,91.9 499.3,90.8 500.7,90.7 502,90.1 503.3,88.5 504.6,87.7 506,86 507.3,85.1 508.6,83.5 510,81 511.4,78.8 512.8,76.7 514,73.9 515.3,71.9 517.3,71 519.4,73 520.6,74.2 521.9,75.5 523.6,76.9 525.3,76.7 526.5,77.8 527.8,77.4 529,77.5 530.3,78.1 535.2,76.4 538.6,75.9 541.9,77.2 546.9,80.2 551.9,83.9 556.9,88.1 562,90.6 570,91.9 580,92.4 600,92.7 658.4,92.7" fill="none" stroke="#1a9a1a" stroke-width="0.9" stroke-linejoin="round" />
<polyline points="495.3,92 496.6,91.7 498,91.7 499.3,90.6 500.7,90.5 502,90 503.3,88.5 504.6,87.4 506,85.7 507.3,84.4 508.6,83.3 510,81.3 511.4,78.5 512.8,75.9 514,74.1 515.3,71.9 517.3,70.4 519.4,72.6 520.6,74 521.9,75 523.6,76.2 525.3,76.9 526.5,77.5 527.8,77.6 529,77.4 530.3,77.8 535.2,76.1 538.6,75.6 541.9,76.9 546.9,79.9 551.9,83.6 556.9,87.8 562,90.3 570,91.6 580,92.1 600,92.4 658.4,92.4" fill="none" stroke="#ff9a2a" stroke-width="0.9" stroke-linejoin="round" />
<polyline points="495.3,92.8 496.6,91.4 498,91.2 499.3,91.1 500.7,90 502,89.8 503.3,88.1 504.6,87.4 506,86.3 507.3,84.8 508.6,83.9 510,80.8 511.4,78.7 512.8,76.1 514,74 515.3,71.8 517.3,70.8 519.4,72.6 520.6,73.7 521.9,75.4 523.6,75.6 525.3,77 526.5,77.2 527.8,77.7 529,77.8 530.3,77.7 535.2,76 538.6,75.5 541.9,76.8 546.9,79.8 551.9,83.5 556.9,87.7 562,90.2 570,91.5 580,92 600,92.3 658.4,92.3" fill="none" stroke="#2a2aff" stroke-width="0.9" stroke-linejoin="round" />
<polyline points="495.3,91.9 496.6,91.5 498,91.3 499.3,90.1 500.7,90.1 502,89.3 503.3,88 504.6,86.6 506,86.1 507.3,84.2 508.6,83 510,80.7 511.4,78.7 512.8,75.4 514,73.6 515.3,71.6 517.3,70.7 519.4,72.3 520.6,73.9 521.9,74.8 523.6,75.7 525.3,76.5 526.5,77.2 527.8,77.5 529,76.9 530.3,77.5 535.2,75.8 538.6,75.3 541.9,76.6 546.9,79.6 551.9,83.3 556.9,87.5 562,90 570,91.3 580,91.8 600,92.1 658.4,92.1" fill="none" stroke="#ff2a2a" stroke-width="0.9" stroke-linejoin="round" />
<polyline points="495.3,91.5 496.6,91 498,90.5 499.3,90.3 500.7,89.9 502,89.1 503.3,87.5 504.6,86.7 506,85.4 507.3,84.3 508.6,83.5 510,80.7 511.4,78 512.8,75.6 514,73.6 515.3,70.9 517.3,70.4 519.4,72 520.6,73.6 521.9,75 523.6,75.4 525.3,76.2 526.5,76.1 527.8,76.9 529,76.5 530.3,77.2 535.2,75.5 538.6,75 541.9,76.3 546.9,79.3 551.9,83 556.9,87.2 562,89.7 570,91 580,91.5 600,91.8 658.4,91.8" fill="none" stroke="#ff2aff" stroke-width="0.9" stroke-linejoin="round" />
<polyline points="489.7,105.7 491.4,113.7 493,120.2 495.5,129.3 498,121.4 500.5,114.6 502.1,113.1 503.8,110.8 506.3,112.7 508.8,114.7 511.3,123.1 513.8,122.9 515.5,118.5 517.1,113.9 518,102.7 518.8,93.6 519.6,91.4 521.2,94.2 522.8,94.8 524.4,92.6 525.9,92.7 527.5,91 529.1,91 530.7,92.6 532.3,92.5 533.9,92.5 535.4,92.4 537,92.4 538.6,92.3 540.2,92.3 658.6,92.1" fill="none" stroke="#1a9a1a" stroke-width="0.9" stroke-linejoin="round" />
<polyline points="489.9,106.8 491.6,114 493.2,122.9 495.7,128.5 498.2,121.3 500.7,118.4 502.4,114.6 504,111 506.5,113.4 509,114.7 511.5,121.7 514,124.3 515.7,121.4 517.3,115.7 518.2,102.3 519,93.6 519.8,91.6 521.4,93.9 523,92.9 524.6,93.9 526.1,92 527.7,91.6 529.3,93.9 530.9,92.6 532.5,92.5 534.1,92.5 535.6,92.4 537.2,92.4 538.8,92.3 540.4,92.3 658.8,92.1" fill="none" stroke="#ff9a2a" stroke-width="0.9" stroke-linejoin="round" />
<polyline points="489.2,109.3 490.9,116.3 492.5,122.8 495,131.2 497.5,124.2 500,115.5 501.6,114.6 503.3,111.8 505.8,111.3 508.3,114.7 510.8,120.7 513.3,121.4 515,120.7 516.6,116.7 517.5,103.1 518.3,95.8 519.1,94.9 520.7,94.7 522.3,92.3 523.9,91.6 525.4,91.6 527,91.5 528.6,91.4 530.2,92.6 531.8,92.5 533.4,92.5 534.9,92.4 536.5,92.4 538.1,92.3 539.7,92.3 658.1,92.1" fill="none" stroke="#ff2a2a" stroke-width="0.9" stroke-linejoin="round" />
<polyline points="489.5,107.9 491.2,116.5 492.8,123 495.3,129.8 497.8,123.8 500.3,117.8 502,112.8 503.6,113 506.1,114.8 508.6,117.7 511.1,122.6 513.6,122.3 515.3,118.6 516.9,116.1 517.8,102.6 518.6,95.3 519.4,94.8 521,92.4 522.6,92.4 524.2,94.5 525.7,93.6 527.3,91.3 528.9,91.1 530.5,92.6 532.1,92.5 533.7,92.5 535.2,92.4 536.8,92.4 538.4,92.3 540,92.3 658.4,92.1" fill="none" stroke="#2a2aff" stroke-width="0.9" stroke-linejoin="round" />
<polyline points="489.8,106 491.5,116.5 493.1,122.8 495.6,128.5 498.1,124.5 500.6,118.5 502.2,115.1 503.9,111.8 506.4,113.4 508.9,115.1 511.4,119.7 513.9,124.3 515.6,120.5 517.2,115 518.1,105 518.9,93.8 519.7,94.4 521.3,94.2 522.9,91.7 524.5,91.8 526,91.9 527.6,91.6 529.2,93 530.8,92.6 532.4,92.5 534,92.5 535.5,92.4 537.1,92.4 538.7,92.3 540.3,92.3 658.7,92.1" fill="none" stroke="#ff2aff" stroke-width="0.9" stroke-linejoin="round" />
<polyline points="516.9,114.9 517.4,146.5 518,114.9" fill="none" stroke="#2a2aff" stroke-width="0.9" stroke-linejoin="round" />
<polyline points="519.4,93.5 520.3,99.9 521.9,113.2 523.6,103.3 524.4,94.9 525.3,101.6 526.9,94.9 528,93.2" fill="none" stroke="#ff9a2a" stroke-width="0.9" stroke-linejoin="round" />
<polyline points="519.4,93.5 521,104 522.5,108 524,97 525.5,104 527.5,96 529,93" fill="none" stroke="#ff2aff" stroke-width="0.9" stroke-linejoin="round" />
<polyline points="518.6,93.3 519.5,104 520.5,97 521.5,93" fill="none" stroke="#1a9a1a" stroke-width="0.9" stroke-linejoin="round" />
<polyline points="488.5,104.5 489.5,107.4" fill="none" stroke="#2a2aff" stroke-width="0.9" stroke-linejoin="round" />
<polyline points="488.5,115 489.5,119 490.8,112 492,124" fill="none" stroke="#ff2a2a" stroke-width="0.9" stroke-linejoin="round" />
</g>
<line x1="485.2" y1="145.4" x2="487" y2="145.4" stroke="#333" stroke-width="0.9" />
<line x1="658.6" y1="145.4" x2="656.8" y2="145.4" stroke="#333" stroke-width="0.9" />
<line x1="485.2" y1="127.7" x2="487" y2="127.7" stroke="#333" stroke-width="0.9" />
<line x1="658.6" y1="127.7" x2="656.8" y2="127.7" stroke="#333" stroke-width="0.9" />
<line x1="485.2" y1="118.9" x2="487" y2="118.9" stroke="#333" stroke-width="0.9" />
<line x1="658.6" y1="118.9" x2="656.8" y2="118.9" stroke="#333" stroke-width="0.9" />
<line x1="485.2" y1="110" x2="487" y2="110" stroke="#333" stroke-width="0.9" />
<line x1="658.6" y1="110" x2="656.8" y2="110" stroke="#333" stroke-width="0.9" />
<line x1="485.2" y1="101.2" x2="487" y2="101.2" stroke="#333" stroke-width="0.9" />
<line x1="658.6" y1="101.2" x2="656.8" y2="101.2" stroke="#333" stroke-width="0.9" />
<line x1="485.2" y1="83.5" x2="487" y2="83.5" stroke="#333" stroke-width="0.9" />
<line x1="658.6" y1="83.5" x2="656.8" y2="83.5" stroke="#333" stroke-width="0.9" />
<line x1="485.2" y1="74.7" x2="487" y2="74.7" stroke="#333" stroke-width="0.9" />
<line x1="658.6" y1="74.7" x2="656.8" y2="74.7" stroke="#333" stroke-width="0.9" />
<line x1="485.2" y1="65.8" x2="487" y2="65.8" stroke="#333" stroke-width="0.9" />
<line x1="658.6" y1="65.8" x2="656.8" y2="65.8" stroke="#333" stroke-width="0.9" />
<line x1="485.2" y1="57" x2="487" y2="57" stroke="#333" stroke-width="0.9" />
<line x1="658.6" y1="57" x2="656.8" y2="57" stroke="#333" stroke-width="0.9" />
<line x1="485.2" y1="39.3" x2="487" y2="39.3" stroke="#333" stroke-width="0.9" />
<line x1="658.6" y1="39.3" x2="656.8" y2="39.3" stroke="#333" stroke-width="0.9" />
<line x1="485.2" y1="136.5" x2="488.2" y2="136.5" stroke="#333" stroke-width="0.9" />
<line x1="658.6" y1="136.5" x2="655.6" y2="136.5" stroke="#333" stroke-width="0.9" />
<text x="483" y="140.1" font-size="10.2" text-anchor="end" >-5</text>
<line x1="485.2" y1="92.3" x2="488.2" y2="92.3" stroke="#333" stroke-width="0.9" />
<line x1="658.6" y1="92.3" x2="655.6" y2="92.3" stroke="#333" stroke-width="0.9" />
<text x="483" y="95.9" font-size="10.2" text-anchor="end" >0</text>
<line x1="485.2" y1="48.2" x2="488.2" y2="48.2" stroke="#333" stroke-width="0.9" />
<line x1="658.6" y1="48.2" x2="655.6" y2="48.2" stroke="#333" stroke-width="0.9" />
<text x="483" y="51.8" font-size="10.2" text-anchor="end" >5</text>
<line x1="485.2" y1="154.2" x2="485.2" y2="151.2" stroke="#333" stroke-width="0.9" />
<line x1="485.2" y1="30.5" x2="485.2" y2="33.5" stroke="#333" stroke-width="0.9" />
<line x1="496.8" y1="154.2" x2="496.8" y2="152.6" stroke="#333" stroke-width="0.9" />
<line x1="496.8" y1="30.5" x2="496.8" y2="32.1" stroke="#333" stroke-width="0.9" />
<line x1="508.3" y1="154.2" x2="508.3" y2="152.6" stroke="#333" stroke-width="0.9" />
<line x1="508.3" y1="30.5" x2="508.3" y2="32.1" stroke="#333" stroke-width="0.9" />
<line x1="519.9" y1="154.2" x2="519.9" y2="152.6" stroke="#333" stroke-width="0.9" />
<line x1="519.9" y1="30.5" x2="519.9" y2="32.1" stroke="#333" stroke-width="0.9" />
<line x1="531.4" y1="154.2" x2="531.4" y2="152.6" stroke="#333" stroke-width="0.9" />
<line x1="531.4" y1="30.5" x2="531.4" y2="32.1" stroke="#333" stroke-width="0.9" />
<line x1="543" y1="154.2" x2="543" y2="151.2" stroke="#333" stroke-width="0.9" />
<line x1="543" y1="30.5" x2="543" y2="33.5" stroke="#333" stroke-width="0.9" />
<line x1="554.6" y1="154.2" x2="554.6" y2="152.6" stroke="#333" stroke-width="0.9" />
<line x1="554.6" y1="30.5" x2="554.6" y2="32.1" stroke="#333" stroke-width="0.9" />
<line x1="566.1" y1="154.2" x2="566.1" y2="152.6" stroke="#333" stroke-width="0.9" />
<line x1="566.1" y1="30.5" x2="566.1" y2="32.1" stroke="#333" stroke-width="0.9" />
<line x1="577.7" y1="154.2" x2="577.7" y2="152.6" stroke="#333" stroke-width="0.9" />
<line x1="577.7" y1="30.5" x2="577.7" y2="32.1" stroke="#333" stroke-width="0.9" />
<line x1="589.2" y1="154.2" x2="589.2" y2="152.6" stroke="#333" stroke-width="0.9" />
<line x1="589.2" y1="30.5" x2="589.2" y2="32.1" stroke="#333" stroke-width="0.9" />
<line x1="600.8" y1="154.2" x2="600.8" y2="151.2" stroke="#333" stroke-width="0.9" />
<line x1="600.8" y1="30.5" x2="600.8" y2="33.5" stroke="#333" stroke-width="0.9" />
<line x1="612.4" y1="154.2" x2="612.4" y2="152.6" stroke="#333" stroke-width="0.9" />
<line x1="612.4" y1="30.5" x2="612.4" y2="32.1" stroke="#333" stroke-width="0.9" />
<line x1="623.9" y1="154.2" x2="623.9" y2="152.6" stroke="#333" stroke-width="0.9" />
<line x1="623.9" y1="30.5" x2="623.9" y2="32.1" stroke="#333" stroke-width="0.9" />
<line x1="635.5" y1="154.2" x2="635.5" y2="152.6" stroke="#333" stroke-width="0.9" />
<line x1="635.5" y1="30.5" x2="635.5" y2="32.1" stroke="#333" stroke-width="0.9" />
<line x1="647" y1="154.2" x2="647" y2="152.6" stroke="#333" stroke-width="0.9" />
<line x1="647" y1="30.5" x2="647" y2="32.1" stroke="#333" stroke-width="0.9" />
<line x1="658.6" y1="154.2" x2="658.6" y2="151.2" stroke="#333" stroke-width="0.9" />
<line x1="658.6" y1="30.5" x2="658.6" y2="33.5" stroke="#333" stroke-width="0.9" />
<text x="485.2" y="164.6" font-size="10.2" text-anchor="middle" >0</text>
<text x="543" y="164.6" font-size="10.2" text-anchor="middle" >0.5</text>
<text x="600.8" y="164.6" font-size="10.2" text-anchor="middle" >1</text>
<text x="658.6" y="164.6" font-size="10.2" text-anchor="middle" >1.5</text>
<text x="571.4" y="177.4" font-size="10.2" text-anchor="middle" textLength="52.5" lengthAdjust="spacingAndGlyphs" >Voltage (V)</text>
<text transform="translate(470.9,92.1) rotate(-90)" font-size="10.2" text-anchor="middle" textLength="77.9" lengthAdjust="spacingAndGlyphs" >dQ/dV(μ Ah/mV)</text>
<line x1="602.8" y1="40" x2="618.5" y2="40" stroke="#222" stroke-width="1.1" />
<text x="618.7" y="42.7" font-size="7.8" >1st cycle</text>
<line x1="602.8" y1="47.9" x2="618.5" y2="47.9" stroke="#ff2a2a" stroke-width="1.1" />
<text x="618.7" y="50.6" font-size="7.8" >2nd cycle</text>
<line x1="602.8" y1="55.8" x2="618.5" y2="55.8" stroke="#2a2aff" stroke-width="1.1" />
<text x="618.7" y="58.5" font-size="7.8" >3rd cycle</text>
<line x1="602.8" y1="63.7" x2="618.5" y2="63.7" stroke="#1a9a1a" stroke-width="1.1" />
<text x="618.7" y="66.4" font-size="7.8" >5th cycle</text>
<line x1="602.8" y1="71.6" x2="618.5" y2="71.6" stroke="#ff9a2a" stroke-width="1.1" />
<text x="618.7" y="74.3" font-size="7.8" >8th cycle</text>
<line x1="602.8" y1="79.5" x2="618.5" y2="79.5" stroke="#ff2aff" stroke-width="1.1" />
<text x="618.7" y="82.2" font-size="7.8" >10th cycle</text>
<clipPath id="c3b"><rect x="484.6" y="243.3" width="175" height="125"/></clipPath>
<path d="M484.6,368.3 L484.6,243.3 L659.6,243.3 L659.6,368.3" fill="none" stroke="#606060" stroke-width="1.1"/>
<line x1="484.1" y1="368.3" x2="660.1" y2="368.3" stroke="#444" stroke-width="1.1" />
<g clip-path="url(#c3b)">
<polyline points="507,305.4 516.9,302.4 525.3,301.3 535.2,300.8 545.2,301.9 555.2,303.3 562,304.6 575,305.4 658.6,305.6" fill="none" stroke="#333" stroke-width="0.9" stroke-linejoin="round" />
<polyline points="497.3,305.4 507,303.3 518.6,300.3 531.9,299.1 538.6,299.6 545.2,300.8 553.5,302.4 562,304.1 575,305.2 658.6,305.6" fill="none" stroke="#ff2a2a" stroke-width="0.9" stroke-linejoin="round" />
<polyline points="502.8,305.4 510.3,300.8 515.3,295 519.4,290.8 521.9,289.1 526.9,289.6 531.9,289.1 536.9,288 540.2,289.1 545.2,293.3 551.9,298.3 560.2,302.4 568,304.5 580,305.3 658.6,305.6" fill="none" stroke="#2a2aff" stroke-width="0.9" stroke-linejoin="round" />
<polyline points="497.3,305.4 503.6,302.8 510.3,297.7 515.3,290.4 517.8,286.7 520.3,285.2 522.8,286.7 526.1,288.6 529.4,288.9 533.6,287.4 536.1,286 538.6,286.7 541.9,288.2 545.2,290.4 550.2,293.3 555.2,297.7 560.2,301.4 562,302.8 568,304.3 575,305.1 590,305.5 658.6,305.6" fill="none" stroke="#1a9a1a" stroke-width="0.9" stroke-linejoin="round" />
<polyline points="497.3,305.8 503.6,302.8 510.3,297 515.3,288.7 517.8,284.5 520.3,282.9 522.8,284.5 526.1,286.7 529.4,287 533.6,285.4 536.1,283.7 538.6,284.5 541.9,286.2 545.2,288.7 550.2,292 555.2,297 560.2,301.2 562,302.8 568,304.6 575,305.5 590,305.9 658.6,306" fill="none" stroke="#ff9a2a" stroke-width="0.9" stroke-linejoin="round" />
<polyline points="497.3,305.4 503.6,302.4 510.3,296.6 515.3,288.3 517.8,284.1 520.3,282.5 522.8,284.1 526.1,286.3 529.4,286.6 533.6,285 536.1,283.3 538.6,284.1 541.9,285.8 545.2,288.3 550.2,291.6 555.2,296.6 560.2,300.8 562,302.4 568,304.2 575,305.1 590,305.5 658.6,305.6" fill="none" stroke="#ff2aff" stroke-width="0.9" stroke-linejoin="round" />
<polyline points="488.5,362 489.5,364.8 491.2,370 497.6,370 498.6,331.6 499.5,313.3 500,349.9 500.6,370 501.6,339.9 502.3,349.9 502.8,333.2 503.6,319.9 505.3,311.6 508.6,307.9 515.3,305.7 518.3,305.6 518.3,299.5 518.8,305.5 658.6,305.6" fill="none" stroke="#333" stroke-width="0.9" stroke-linejoin="round" />
<polyline points="495.3,370 496.1,356.5 497.8,348.2 500.3,336.6 502,323.2 503.6,314.9 507,309.9 511.1,306.6 518.6,305.4 658.6,305.6" fill="none" stroke="#2a2aff" stroke-width="0.9" stroke-linejoin="round" />
<polyline points="488,361.6 489.5,356.4 491.2,345.9 492.4,340.5 493.6,333 495.3,329.8 497,327.5 498.6,327.2 500.3,319.8 502,314 503.2,311.6 504.5,310 505.9,309.1 507.2,307.5 508.6,307.3 509.9,306.6 511.3,305.9 512.6,306.9 514,305.5 515.3,305.7 516.5,306.1 517.7,305.8 518.9,305.4 520.1,305.7 521.3,305.8 522.5,306.1 523.7,305.1 524.9,305.8 526.1,305.3 527.3,305.3 528.5,306.1 529.8,305.7 531,305.7 532.2,305.7 533.4,305.7 534.6,305.7 535.8,305.7 537,305.7 538.2,305.7 539.4,305.7 540.6,305.7 541.8,305.7 543,305.7 544.2,305.7 545.4,305.7 546.6,305.7 547.8,305.7 549,305.7 550.2,305.7 551.4,305.7 552.6,305.7 553.8,305.7 555,305.7 556.2,305.7 557.4,305.7 558.7,305.7 559.9,305.7 561.1,305.7 562.3,305.7 563.5,305.7 564.7,305.7 565.9,305.7 567.1,305.7 568.3,305.7 569.5,305.7 570.7,305.7 571.9,305.7 573.1,305.7 574.3,305.7 575.5,305.7 576.7,305.7 577.9,305.7 579.1,305.7 580.3,305.7 581.5,305.7 582.7,305.7 583.9,305.7 585.1,305.7 586.3,305.7 587.6,305.6 588.8,305.6 590,305.6 591.2,305.6 592.4,305.6 593.6,305.6 594.8,305.6 596,305.6 597.2,305.6 598.4,305.6 599.6,305.6 600.8,305.6 602,305.6 603.2,305.6 604.4,305.6 605.6,305.6 606.8,305.6 608,305.6 609.2,305.6 610.4,305.6 611.6,305.6 612.8,305.6 614,305.6 615.2,305.6 616.5,305.6 617.7,305.6 618.9,305.6 620.1,305.6 621.3,305.6 622.5,305.6 623.7,305.6 624.9,305.6 626.1,305.6 627.3,305.6 628.5,305.6 629.7,305.6 630.9,305.6 632.1,305.6 633.3,305.6 634.5,305.6 635.7,305.6 636.9,305.6 638.1,305.6 639.3,305.6 640.5,305.6 641.7,305.6 642.9,305.6 644.1,305.6 645.4,305.6 646.6,305.6 647.8,305.6 649,305.6 650.2,305.6 651.4,305.6 652.6,305.6 653.8,305.6 655,305.6 656.2,305.6 657.4,305.6 658.6,305.6" fill="none" stroke="#ff2a2a" stroke-width="0.9" stroke-linejoin="round" />
<polyline points="489.5,343.3 490.8,346.1 492,348.9 493.2,349.8 494.5,351.7 495.8,349 497,346.5 498.2,345.2 499.5,343.1 500.8,342.4 502,341.5 503.2,343.1 504.5,343.5 506.1,348.8 507.8,345.6 509.1,340.4 510.3,336.7 511.5,329 512.8,320.4 514,318.5 515.3,317.7 517,314 517.8,306.7 518.6,305 519.8,304.7 521,305.7 522.2,305.9 523.4,306 524.6,304.9 525.8,305.8 527,305.7 528.3,304.8 529.5,306 530.7,305.4 531.9,305.4 533.1,305.4 534.3,305.4 535.5,305.4 536.7,305.4 537.9,305.4 539.1,305.4 540.3,305.4 541.5,305.4 542.7,305.4 543.9,305.4 545.2,305.4 546.4,305.4 547.6,305.4 548.8,305.4 550,305.4 551.2,305.4 552.4,305.4 553.6,305.4 554.8,305.5 556,305.5 557.2,305.5 558.4,305.5 559.6,305.5 560.8,305.5 562,305.5 563.3,305.5 564.5,305.5 565.7,305.5 566.9,305.5 568.1,305.5 569.3,305.5 570.5,305.5 571.7,305.5 572.9,305.5 574.1,305.5 575.3,305.5 576.5,305.5 577.7,305.5 578.9,305.5 580.2,305.5 581.4,305.5 582.6,305.5 583.8,305.5 585,305.5 586.2,305.5 587.4,305.5 588.6,305.5 589.8,305.5 591,305.5 592.2,305.5 593.4,305.5 594.6,305.5 595.8,305.5 597,305.5 598.3,305.5 599.5,305.5 600.7,305.5 601.9,305.5 603.1,305.5 604.3,305.5 605.5,305.5 606.7,305.5 607.9,305.5 609.1,305.5 610.3,305.5 611.5,305.5 612.7,305.5 613.9,305.5 615.2,305.5 616.4,305.5 617.6,305.5 618.8,305.5 620,305.5 621.2,305.5 622.4,305.5 623.6,305.6 624.8,305.6 626,305.6 627.2,305.6 628.4,305.6 629.6,305.6 630.8,305.6 632,305.6 633.3,305.6 634.5,305.6 635.7,305.6 636.9,305.6 638.1,305.6 639.3,305.6 640.5,305.6 641.7,305.6 642.9,305.6 644.1,305.6 645.3,305.6 646.5,305.6 647.7,305.6 648.9,305.6 650.2,305.6 651.4,305.6 652.6,305.6 653.8,305.6 655,305.6 656.2,305.6 657.4,305.6 658.6,305.6" fill="none" stroke="#1a9a1a" stroke-width="0.9" stroke-linejoin="round" />
<polyline points="485.9,337.8 487.6,337.5 489.3,339.4 490.6,343.5 491.8,348.7 492.6,361.2 493.4,345.9 494.2,333.2 495.9,343.6 497.6,348.7 499.2,346.7 500.9,341.5 502.6,338.4 504.2,340.8 505.5,341.3 506.7,343.8 508,345.3 509.2,346.2 510.5,343.4 511.7,340.6 513.4,333.7 514.6,328 515.9,324.5 517.1,321.3 518.4,318.7 520,314 521.2,307.5 522.5,305.2 523.7,306.3 524.9,305.5 526.1,305.3 527.3,305.8 528.5,306.6 529.8,306.4 531,305.9 532.2,305.9 533.4,305.9 534.6,305.9 535.8,305.9 537,305.9 538.2,305.9 539.4,305.9 540.6,305.9 541.9,305.9 543.1,305.9 544.3,305.9 545.5,305.9 546.7,305.9 547.9,305.9 549.1,305.9 550.3,305.9 551.5,305.9 552.7,305.9 554,305.9 555.2,305.9 556.4,305.9 557.6,306 558.8,306 560,306 561.2,306 562.4,306 563.6,306 564.8,306 566.1,306 567.3,306 568.5,306 569.7,306 570.9,306 572.1,306 573.3,306 574.5,306 575.7,306 576.9,306 578.1,306 579.4,306 580.6,306 581.8,306 583,306 584.2,306 585.4,306 586.6,306 587.8,306 589,306 590.2,306 591.5,306 592.7,306 593.9,306 595.1,306 596.3,306 597.5,306 598.7,306 599.9,306 601.1,306 602.3,306 603.6,306 604.8,306 606,306 607.2,306 608.4,306 609.6,306 610.8,306 612,306 613.2,306 614.4,306 615.6,306 616.9,306 618.1,306 619.3,306 620.5,306 621.7,306 622.9,306 624.1,306 625.3,306.1 626.5,306.1 627.7,306.1 629,306.1 630.2,306.1 631.4,306.1 632.6,306.1 633.8,306.1 635,306.1 636.2,306.1 637.4,306.1 638.6,306.1 639.8,306.1 641.1,306.1 642.3,306.1 643.5,306.1 644.7,306.1 645.9,306.1 647.1,306.1 648.3,306.1 649.5,306.1 650.7,306.1 651.9,306.1 653.2,306.1 654.4,306.1 655.6,306.1 656.8,306.1 658,306.1 659.2,306.1" fill="none" stroke="#ff9a2a" stroke-width="0.9" stroke-linejoin="round" />
<polyline points="485.3,336.3 487,337 488.7,338.7 489.9,343.3 491.2,348.4 492,359.4 492.8,344.4 493.6,333.4 495.3,343.1 497,347.7 498.6,347 500.3,341.7 502,338.6 503.6,339.4 504.9,342 506.1,342.7 507.4,345.3 508.6,346.4 509.9,343 511.1,340 512.8,333.7 514,327.9 515.3,322.8 516.5,320.3 517.8,317.1 519.4,313.6 520.6,307 521.9,304.9 523.1,305 524.3,305.2 525.5,305.2 526.7,305.7 527.9,305.2 529.2,305.4 530.4,305.4 531.6,305.4 532.8,305.4 534,305.4 535.2,305.4 536.4,305.4 537.6,305.4 538.8,305.4 540,305.4 541.3,305.4 542.5,305.4 543.7,305.4 544.9,305.4 546.1,305.4 547.3,305.4 548.5,305.4 549.7,305.4 550.9,305.4 552.1,305.4 553.4,305.4 554.6,305.4 555.8,305.4 557,305.5 558.2,305.5 559.4,305.5 560.6,305.5 561.8,305.5 563,305.5 564.2,305.5 565.5,305.5 566.7,305.5 567.9,305.5 569.1,305.5 570.3,305.5 571.5,305.5 572.7,305.5 573.9,305.5 575.1,305.5 576.3,305.5 577.5,305.5 578.8,305.5 580,305.5 581.2,305.5 582.4,305.5 583.6,305.5 584.8,305.5 586,305.5 587.2,305.5 588.4,305.5 589.6,305.5 590.9,305.5 592.1,305.5 593.3,305.5 594.5,305.5 595.7,305.5 596.9,305.5 598.1,305.5 599.3,305.5 600.5,305.5 601.7,305.5 603,305.5 604.2,305.5 605.4,305.5 606.6,305.5 607.8,305.5 609,305.5 610.2,305.5 611.4,305.5 612.6,305.5 613.8,305.5 615,305.5 616.3,305.5 617.5,305.5 618.7,305.5 619.9,305.5 621.1,305.5 622.3,305.5 623.5,305.5 624.7,305.6 625.9,305.6 627.1,305.6 628.4,305.6 629.6,305.6 630.8,305.6 632,305.6 633.2,305.6 634.4,305.6 635.6,305.6 636.8,305.6 638,305.6 639.2,305.6 640.5,305.6 641.7,305.6 642.9,305.6 644.1,305.6 645.3,305.6 646.5,305.6 647.7,305.6 648.9,305.6 650.1,305.6 651.3,305.6 652.6,305.6 653.8,305.6 655,305.6 656.2,305.6 657.4,305.6 658.6,305.6" fill="none" stroke="#ff2aff" stroke-width="0.9" stroke-linejoin="round" />
</g>
<line x1="484.6" y1="352.7" x2="486.4" y2="352.7" stroke="#333" stroke-width="0.9" />
<line x1="659.6" y1="352.7" x2="657.8" y2="352.7" stroke="#333" stroke-width="0.9" />
<line x1="484.6" y1="321.4" x2="486.4" y2="321.4" stroke="#333" stroke-width="0.9" />
<line x1="659.6" y1="321.4" x2="657.8" y2="321.4" stroke="#333" stroke-width="0.9" />
<line x1="484.6" y1="290.2" x2="486.4" y2="290.2" stroke="#333" stroke-width="0.9" />
<line x1="659.6" y1="290.2" x2="657.8" y2="290.2" stroke="#333" stroke-width="0.9" />
<line x1="484.6" y1="258.9" x2="486.4" y2="258.9" stroke="#333" stroke-width="0.9" />
<line x1="659.6" y1="258.9" x2="657.8" y2="258.9" stroke="#333" stroke-width="0.9" />
<line x1="484.6" y1="368.3" x2="487.6" y2="368.3" stroke="#333" stroke-width="0.9" />
<line x1="659.6" y1="368.3" x2="656.6" y2="368.3" stroke="#333" stroke-width="0.9" />
<text x="482.4" y="371.9" font-size="10.2" text-anchor="end" >-4</text>
<line x1="484.6" y1="337.1" x2="487.6" y2="337.1" stroke="#333" stroke-width="0.9" />
<line x1="659.6" y1="337.1" x2="656.6" y2="337.1" stroke="#333" stroke-width="0.9" />
<text x="482.4" y="340.7" font-size="10.2" text-anchor="end" >-2</text>
<line x1="484.6" y1="305.8" x2="487.6" y2="305.8" stroke="#333" stroke-width="0.9" />
<line x1="659.6" y1="305.8" x2="656.6" y2="305.8" stroke="#333" stroke-width="0.9" />
<text x="482.4" y="309.4" font-size="10.2" text-anchor="end" >0</text>
<line x1="484.6" y1="274.6" x2="487.6" y2="274.6" stroke="#333" stroke-width="0.9" />
<line x1="659.6" y1="274.6" x2="656.6" y2="274.6" stroke="#333" stroke-width="0.9" />
<text x="482.4" y="278.2" font-size="10.2" text-anchor="end" >2</text>
<line x1="484.6" y1="243.3" x2="487.6" y2="243.3" stroke="#333" stroke-width="0.9" />
<line x1="659.6" y1="243.3" x2="656.6" y2="243.3" stroke="#333" stroke-width="0.9" />
<text x="482.4" y="246.9" font-size="10.2" text-anchor="end" >4</text>
<line x1="484.6" y1="368.3" x2="484.6" y2="365.3" stroke="#333" stroke-width="0.9" />
<line x1="484.6" y1="243.3" x2="484.6" y2="246.3" stroke="#333" stroke-width="0.9" />
<line x1="496.3" y1="368.3" x2="496.3" y2="366.7" stroke="#333" stroke-width="0.9" />
<line x1="496.3" y1="243.3" x2="496.3" y2="244.9" stroke="#333" stroke-width="0.9" />
<line x1="507.9" y1="368.3" x2="507.9" y2="366.7" stroke="#333" stroke-width="0.9" />
<line x1="507.9" y1="243.3" x2="507.9" y2="244.9" stroke="#333" stroke-width="0.9" />
<line x1="519.6" y1="368.3" x2="519.6" y2="366.7" stroke="#333" stroke-width="0.9" />
<line x1="519.6" y1="243.3" x2="519.6" y2="244.9" stroke="#333" stroke-width="0.9" />
<line x1="531.3" y1="368.3" x2="531.3" y2="366.7" stroke="#333" stroke-width="0.9" />
<line x1="531.3" y1="243.3" x2="531.3" y2="244.9" stroke="#333" stroke-width="0.9" />
<line x1="542.9" y1="368.3" x2="542.9" y2="365.3" stroke="#333" stroke-width="0.9" />
<line x1="542.9" y1="243.3" x2="542.9" y2="246.3" stroke="#333" stroke-width="0.9" />
<line x1="554.6" y1="368.3" x2="554.6" y2="366.7" stroke="#333" stroke-width="0.9" />
<line x1="554.6" y1="243.3" x2="554.6" y2="244.9" stroke="#333" stroke-width="0.9" />
<line x1="566.3" y1="368.3" x2="566.3" y2="366.7" stroke="#333" stroke-width="0.9" />
<line x1="566.3" y1="243.3" x2="566.3" y2="244.9" stroke="#333" stroke-width="0.9" />
<line x1="577.9" y1="368.3" x2="577.9" y2="366.7" stroke="#333" stroke-width="0.9" />
<line x1="577.9" y1="243.3" x2="577.9" y2="244.9" stroke="#333" stroke-width="0.9" />
<line x1="589.6" y1="368.3" x2="589.6" y2="366.7" stroke="#333" stroke-width="0.9" />
<line x1="589.6" y1="243.3" x2="589.6" y2="244.9" stroke="#333" stroke-width="0.9" />
<line x1="601.3" y1="368.3" x2="601.3" y2="365.3" stroke="#333" stroke-width="0.9" />
<line x1="601.3" y1="243.3" x2="601.3" y2="246.3" stroke="#333" stroke-width="0.9" />
<line x1="612.9" y1="368.3" x2="612.9" y2="366.7" stroke="#333" stroke-width="0.9" />
<line x1="612.9" y1="243.3" x2="612.9" y2="244.9" stroke="#333" stroke-width="0.9" />
<line x1="624.6" y1="368.3" x2="624.6" y2="366.7" stroke="#333" stroke-width="0.9" />
<line x1="624.6" y1="243.3" x2="624.6" y2="244.9" stroke="#333" stroke-width="0.9" />
<line x1="636.3" y1="368.3" x2="636.3" y2="366.7" stroke="#333" stroke-width="0.9" />
<line x1="636.3" y1="243.3" x2="636.3" y2="244.9" stroke="#333" stroke-width="0.9" />
<line x1="647.9" y1="368.3" x2="647.9" y2="366.7" stroke="#333" stroke-width="0.9" />
<line x1="647.9" y1="243.3" x2="647.9" y2="244.9" stroke="#333" stroke-width="0.9" />
<line x1="659.6" y1="368.3" x2="659.6" y2="365.3" stroke="#333" stroke-width="0.9" />
<line x1="659.6" y1="243.3" x2="659.6" y2="246.3" stroke="#333" stroke-width="0.9" />
<text x="484.6" y="378.7" font-size="10.2" text-anchor="middle" >0</text>
<text x="542.9" y="378.7" font-size="10.2" text-anchor="middle" >0.5</text>
<text x="601.3" y="378.7" font-size="10.2" text-anchor="middle" >1</text>
<text x="659.6" y="378.7" font-size="10.2" text-anchor="middle" >1.5</text>
<text x="571.6" y="390.5" font-size="10.2" text-anchor="middle" textLength="52.5" lengthAdjust="spacingAndGlyphs" >Voltage (V)</text>
<text transform="translate(471.4,305.6) rotate(-90)" font-size="10.2" text-anchor="middle" textLength="77.9" lengthAdjust="spacingAndGlyphs" >dQ/dV(μ Ah/mV)</text>
<line x1="600.9" y1="252.6" x2="616.5" y2="252.6" stroke="#222" stroke-width="1.1" />
<text x="616.7" y="255.3" font-size="7.8" >1st cycle</text>
<line x1="600.9" y1="260.5" x2="616.5" y2="260.5" stroke="#ff2a2a" stroke-width="1.1" />
<text x="616.7" y="263.2" font-size="7.8" >2nd cycle</text>
<line x1="600.9" y1="268.4" x2="616.5" y2="268.4" stroke="#2a2aff" stroke-width="1.1" />
<text x="616.7" y="271.1" font-size="7.8" >3rd cycle</text>
<line x1="600.9" y1="276.3" x2="616.5" y2="276.3" stroke="#1a9a1a" stroke-width="1.1" />
<text x="616.7" y="279" font-size="7.8" >5th cycle</text>
<line x1="600.9" y1="284.2" x2="616.5" y2="284.2" stroke="#ff9a2a" stroke-width="1.1" />
<text x="616.7" y="286.9" font-size="7.8" >8th cycle</text>
<line x1="600.9" y1="292.1" x2="616.5" y2="292.1" stroke="#ff2aff" stroke-width="1.1" />
<text x="616.7" y="294.8" font-size="7.8" >10th cycle</text>
<clipPath id="c3c"><rect x="485.8" y="441.4" width="173.8" height="123.4"/></clipPath>
<path d="M485.8,564.8 L485.8,441.4 L659.6,441.4 L659.6,564.8" fill="none" stroke="#606060" stroke-width="1.1"/>
<line x1="485.3" y1="564.8" x2="660.1" y2="564.8" stroke="#444" stroke-width="1.1" />
<g clip-path="url(#c3c)">
<polyline points="499.5,502.8 505.3,500.8 510.3,497.5 514.4,492.5 517.8,485 519.4,481.6 522.8,482.5 526.9,485.3 531.1,486.9 535.2,485.6 540.2,483.6 544.4,484.8 548.6,487.7 553.5,491 562,495.2 575,498.7 598,500.8 658.6,501.7" fill="none" stroke="#333" stroke-width="0.9" stroke-linejoin="round" />
<polyline points="491.2,563.2 492.3,553.2 493.3,559.9 494,566 495.3,563.2 497,558.2 498.6,559.9 500.3,556.5 502,551.5 503.6,543.2 504.5,548.2 505.3,559.9 506.6,566 507.8,559.9 508.6,551.5 510.3,554.9 512,559.9 513.6,561.5 515.3,560.7 516.4,561.5 516.9,519.9 518.6,514.1 521.9,509.1 526.9,506.6 531.1,505.8 531.9,516.6 532.4,505.8 535.2,503.3 562,502.8 658.6,502.6" fill="none" stroke="#333" stroke-width="0.9" stroke-linejoin="round" />
<polyline points="497.8,502.8 503.6,500.8 508.6,497.5 512.8,491.6 515.3,485.8 517.3,479.2 519.4,480.3 522.8,482.5 526.9,485 531.1,486.6 535.2,485.3 540.2,483.3 544.4,484.6 548.6,487.5 553.5,490.8 558.5,493.3 562,495 575,498.5 598,500.6 658.6,501.5" fill="none" stroke="#1a9a1a" stroke-width="0.9" stroke-linejoin="round" />
<polyline points="497.8,502.5 503.6,500.5 508.6,497.2 512.8,491.3 515.3,485.5 517.3,478.9 519.4,480 522.8,482.2 526.9,484.7 531.1,486.3 535.2,485 540.2,483 544.4,484.3 548.6,487.2 553.5,490.5 558.5,493 562,494.7 575,498.2 598,500.3 658.6,501.2" fill="none" stroke="#2a2aff" stroke-width="0.9" stroke-linejoin="round" />
<polyline points="497.8,503.1 503.6,501.1 508.6,497.8 512.8,491.9 515.3,486.1 517.3,479.5 519.4,480.6 522.8,482.8 526.9,485.3 531.1,486.9 535.2,485.6 540.2,483.6 544.4,484.9 548.6,487.8 553.5,491.1 558.5,493.6 562,495.3 575,498.8 598,500.9 658.6,501.8" fill="none" stroke="#ff2a2a" stroke-width="0.9" stroke-linejoin="round" />
<polyline points="497.8,502.8 503.6,500.8 508.6,497.5 512.8,491.6 515.3,485.8 517.3,479.2 519.4,480.3 522.8,482.5 526.9,485 531.1,486.6 535.2,485.3 540.2,483.3 544.4,484.6 548.6,487.5 553.5,490.8 558.5,493.3 562,495 575,498.5 598,500.6 658.6,501.5" fill="none" stroke="#ff9a2a" stroke-width="0.9" stroke-linejoin="round" />
<polyline points="497.8,502.3 503.6,500.3 508.6,497 512.8,491.1 515.3,485.3 517.3,478.7 519.4,479.8 522.8,482 526.9,484.5 531.1,486.1 535.2,484.8 540.2,482.8 544.4,484.1 548.6,487 553.5,490.3 558.5,492.8 562,494.5 575,498 598,500.1 658.6,501" fill="none" stroke="#ff2aff" stroke-width="0.9" stroke-linejoin="round" />
<polyline points="490.3,530.5 491.2,537.2 492.8,542.1 495.3,547.1 497.8,543.8 500.3,537.2 502.8,532.2 505.3,531.3 507.8,533.8 510.3,536.3 512.8,533.8 515.3,529.7 517,523.8 519.4,519.7 523.6,515.5 528.6,512.2 535.2,509.7 545.2,507.5 555.2,505.5 562,504.4 580,503.8 658.6,503.4" fill="none" stroke="#1a9a1a" stroke-width="0.9" stroke-linejoin="round" />
<polyline points="490.3,529.9 491.2,536.6 492.8,541.5 495.3,546.5 497.8,543.2 500.3,536.6 502.8,531.6 505.3,530.7 507.8,533.2 510.3,535.7 512.8,533.2 515.3,529.1 517,523.2 519.4,519.1 523.6,514.9 528.6,511.6 535.2,509.1 545.2,506.9 555.2,504.9 562,503.8 580,503.2 658.6,502.8" fill="none" stroke="#ff9a2a" stroke-width="0.9" stroke-linejoin="round" />
<polyline points="490.3,529.3 491.2,536 492.8,540.9 495.3,545.9 497.8,542.6 500.3,536 502.8,531 505.3,530.1 507.8,532.6 510.3,535.1 512.8,532.6 515.3,528.5 517,522.6 519.4,518.5 523.6,514.3 528.6,511 535.2,508.5 545.2,506.3 555.2,504.3 562,503.2 580,502.6 658.6,502.2" fill="none" stroke="#2a2aff" stroke-width="0.9" stroke-linejoin="round" />
<polyline points="490.3,539.9 491.2,551.5 492.8,548.2 495.3,541.5 498.6,536.6 502.8,531.6 505.3,532.4 507,536.6 508.3,541.5 509.5,536.6 512,534.9 515.3,529.1 517,523.2 519.4,519.1 523.6,514.9 528.6,511.6 535.2,509.1 545.2,506.9 562,503.8 658.6,502.8" fill="none" stroke="#ff2a2a" stroke-width="0.9" stroke-linejoin="round" />
<polyline points="490.3,529.9 491.2,536.6 492.8,541.5 495.3,546.5 497.8,543.2 500.3,536.6 502.8,531.6 505.3,530.7 507.8,533.2 510.3,535.7 512.8,533.2 515.3,529.1 517,523.2 519.4,519.1 523.6,514.9 528.6,511.6 535.2,509.1 545.2,506.9 555.2,504.9 562,503.8 580,503.2 658.6,502.8" fill="none" stroke="#ff2aff" stroke-width="0.9" stroke-linejoin="round" />
</g>
<line x1="485.8" y1="556" x2="487.6" y2="556" stroke="#333" stroke-width="0.9" />
<line x1="659.6" y1="556" x2="657.8" y2="556" stroke="#333" stroke-width="0.9" />
<line x1="485.8" y1="538.4" x2="487.6" y2="538.4" stroke="#333" stroke-width="0.9" />
<line x1="659.6" y1="538.4" x2="657.8" y2="538.4" stroke="#333" stroke-width="0.9" />
<line x1="485.8" y1="529.5" x2="487.6" y2="529.5" stroke="#333" stroke-width="0.9" />
<line x1="659.6" y1="529.5" x2="657.8" y2="529.5" stroke="#333" stroke-width="0.9" />
<line x1="485.8" y1="520.7" x2="487.6" y2="520.7" stroke="#333" stroke-width="0.9" />
<line x1="659.6" y1="520.7" x2="657.8" y2="520.7" stroke="#333" stroke-width="0.9" />
<line x1="485.8" y1="511.9" x2="487.6" y2="511.9" stroke="#333" stroke-width="0.9" />
<line x1="659.6" y1="511.9" x2="657.8" y2="511.9" stroke="#333" stroke-width="0.9" />
<line x1="485.8" y1="494.3" x2="487.6" y2="494.3" stroke="#333" stroke-width="0.9" />
<line x1="659.6" y1="494.3" x2="657.8" y2="494.3" stroke="#333" stroke-width="0.9" />
<line x1="485.8" y1="485.5" x2="487.6" y2="485.5" stroke="#333" stroke-width="0.9" />
<line x1="659.6" y1="485.5" x2="657.8" y2="485.5" stroke="#333" stroke-width="0.9" />
<line x1="485.8" y1="476.7" x2="487.6" y2="476.7" stroke="#333" stroke-width="0.9" />
<line x1="659.6" y1="476.7" x2="657.8" y2="476.7" stroke="#333" stroke-width="0.9" />
<line x1="485.8" y1="467.8" x2="487.6" y2="467.8" stroke="#333" stroke-width="0.9" />
<line x1="659.6" y1="467.8" x2="657.8" y2="467.8" stroke="#333" stroke-width="0.9" />
<line x1="485.8" y1="450.2" x2="487.6" y2="450.2" stroke="#333" stroke-width="0.9" />
<line x1="659.6" y1="450.2" x2="657.8" y2="450.2" stroke="#333" stroke-width="0.9" />
<line x1="485.8" y1="547.2" x2="488.8" y2="547.2" stroke="#333" stroke-width="0.9" />
<line x1="659.6" y1="547.2" x2="656.6" y2="547.2" stroke="#333" stroke-width="0.9" />
<text x="483.6" y="550.8" font-size="10.2" text-anchor="end" >-5</text>
<line x1="485.8" y1="503.1" x2="488.8" y2="503.1" stroke="#333" stroke-width="0.9" />
<line x1="659.6" y1="503.1" x2="656.6" y2="503.1" stroke="#333" stroke-width="0.9" />
<text x="483.6" y="506.7" font-size="10.2" text-anchor="end" >0</text>
<line x1="485.8" y1="459" x2="488.8" y2="459" stroke="#333" stroke-width="0.9" />
<line x1="659.6" y1="459" x2="656.6" y2="459" stroke="#333" stroke-width="0.9" />
<text x="483.6" y="462.6" font-size="10.2" text-anchor="end" >5</text>
<line x1="485.8" y1="564.8" x2="485.8" y2="561.8" stroke="#333" stroke-width="0.9" />
<line x1="485.8" y1="441.4" x2="485.8" y2="444.4" stroke="#333" stroke-width="0.9" />
<line x1="497.4" y1="564.8" x2="497.4" y2="563.2" stroke="#333" stroke-width="0.9" />
<line x1="497.4" y1="441.4" x2="497.4" y2="443" stroke="#333" stroke-width="0.9" />
<line x1="509" y1="564.8" x2="509" y2="563.2" stroke="#333" stroke-width="0.9" />
<line x1="509" y1="441.4" x2="509" y2="443" stroke="#333" stroke-width="0.9" />
<line x1="520.6" y1="564.8" x2="520.6" y2="563.2" stroke="#333" stroke-width="0.9" />
<line x1="520.6" y1="441.4" x2="520.6" y2="443" stroke="#333" stroke-width="0.9" />
<line x1="532.1" y1="564.8" x2="532.1" y2="563.2" stroke="#333" stroke-width="0.9" />
<line x1="532.1" y1="441.4" x2="532.1" y2="443" stroke="#333" stroke-width="0.9" />
<line x1="543.7" y1="564.8" x2="543.7" y2="561.8" stroke="#333" stroke-width="0.9" />
<line x1="543.7" y1="441.4" x2="543.7" y2="444.4" stroke="#333" stroke-width="0.9" />
<line x1="555.3" y1="564.8" x2="555.3" y2="563.2" stroke="#333" stroke-width="0.9" />
<line x1="555.3" y1="441.4" x2="555.3" y2="443" stroke="#333" stroke-width="0.9" />
<line x1="566.9" y1="564.8" x2="566.9" y2="563.2" stroke="#333" stroke-width="0.9" />
<line x1="566.9" y1="441.4" x2="566.9" y2="443" stroke="#333" stroke-width="0.9" />
<line x1="578.5" y1="564.8" x2="578.5" y2="563.2" stroke="#333" stroke-width="0.9" />
<line x1="578.5" y1="441.4" x2="578.5" y2="443" stroke="#333" stroke-width="0.9" />
<line x1="590.1" y1="564.8" x2="590.1" y2="563.2" stroke="#333" stroke-width="0.9" />
<line x1="590.1" y1="441.4" x2="590.1" y2="443" stroke="#333" stroke-width="0.9" />
<line x1="601.7" y1="564.8" x2="601.7" y2="561.8" stroke="#333" stroke-width="0.9" />
<line x1="601.7" y1="441.4" x2="601.7" y2="444.4" stroke="#333" stroke-width="0.9" />
<line x1="613.3" y1="564.8" x2="613.3" y2="563.2" stroke="#333" stroke-width="0.9" />
<line x1="613.3" y1="441.4" x2="613.3" y2="443" stroke="#333" stroke-width="0.9" />
<line x1="624.8" y1="564.8" x2="624.8" y2="563.2" stroke="#333" stroke-width="0.9" />
<line x1="624.8" y1="441.4" x2="624.8" y2="443" stroke="#333" stroke-width="0.9" />
<line x1="636.4" y1="564.8" x2="636.4" y2="563.2" stroke="#333" stroke-width="0.9" />
<line x1="636.4" y1="441.4" x2="636.4" y2="443" stroke="#333" stroke-width="0.9" />
<line x1="648" y1="564.8" x2="648" y2="563.2" stroke="#333" stroke-width="0.9" />
<line x1="648" y1="441.4" x2="648" y2="443" stroke="#333" stroke-width="0.9" />
<line x1="659.6" y1="564.8" x2="659.6" y2="561.8" stroke="#333" stroke-width="0.9" />
<line x1="659.6" y1="441.4" x2="659.6" y2="444.4" stroke="#333" stroke-width="0.9" />
<text x="485.8" y="575.2" font-size="10.2" text-anchor="middle" >0</text>
<text x="543.7" y="575.2" font-size="10.2" text-anchor="middle" >0.5</text>
<text x="601.7" y="575.2" font-size="10.2" text-anchor="middle" >1</text>
<text x="659.6" y="575.2" font-size="10.2" text-anchor="middle" >1.5</text>
<text x="572.9" y="587.1" font-size="10.2" text-anchor="middle" textLength="53.5" lengthAdjust="spacingAndGlyphs" >Voltage (V)</text>
<text transform="translate(471,502.9) rotate(-90)" font-size="10.2" text-anchor="middle" textLength="77.9" lengthAdjust="spacingAndGlyphs" >dQ/dV(μ Ah/mV)</text>
<line x1="604.1" y1="450.4" x2="619.1" y2="450.4" stroke="#222" stroke-width="1.2" stroke-opacity="0.8"/>
<text x="619.3" y="453.1" font-size="7.8" >1st cycle</text>
<line x1="604.1" y1="458.3" x2="619.1" y2="458.3" stroke="#ff2a2a" stroke-width="1.2" stroke-opacity="0.8"/>
<text x="619.3" y="461" font-size="7.8" >2nd cycle</text>
<line x1="604.1" y1="466.2" x2="619.1" y2="466.2" stroke="#2a2aff" stroke-width="1.2" stroke-opacity="0.8"/>
<text x="619.3" y="468.9" font-size="7.8" >3rd cycle</text>
<line x1="604.1" y1="474.1" x2="619.1" y2="474.1" stroke="#1a9a1a" stroke-width="1.2" stroke-opacity="0.8"/>
<text x="619.3" y="476.8" font-size="7.8" >5th cycle</text>
<line x1="604.1" y1="482" x2="619.1" y2="482" stroke="#ff9a2a" stroke-width="1.2" stroke-opacity="0.8"/>
<text x="619.3" y="484.7" font-size="7.8" >8th cycle</text>
<line x1="604.1" y1="489.9" x2="619.1" y2="489.9" stroke="#ff2aff" stroke-width="1.2" stroke-opacity="0.8"/>
<text x="619.3" y="492.6" font-size="7.8" >10th cycle</text>
</svg>
</body></html>
